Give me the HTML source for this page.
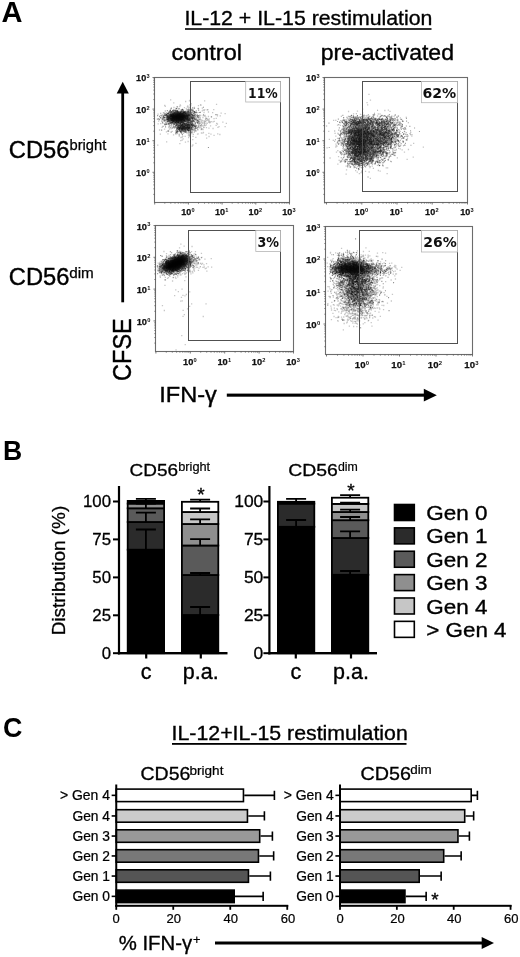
<!DOCTYPE html>
<html lang="en"><head><meta charset="utf-8"><title>Figure</title>
<style>html,body{margin:0;padding:0;background:#fff}svg{display:block}text{white-space:pre}</style>
</head><body>
<svg width="520" height="957" viewBox="0 0 520 957">
<defs><filter id="bl" x="-5%" y="-5%" width="110%" height="110%"><feGaussianBlur stdDeviation="0.35"/></filter><filter id="bc" x="-50%" y="-50%" width="200%" height="200%"><feGaussianBlur stdDeviation="2.2"/></filter></defs>
<rect width="520" height="957" fill="#fff"/>
<g id="panelA">
<text x="1.6" y="21.5" font-family="'Liberation Sans',Arial,Helvetica,sans-serif" font-size="29" font-weight="bold" text-anchor="start" fill="#000" textLength="21.0" lengthAdjust="spacingAndGlyphs" >A</text>
<text x="184.4" y="25.2" font-family="'Liberation Sans',Arial,Helvetica,sans-serif" font-size="21" font-weight="normal" text-anchor="start" fill="#000" textLength="248" lengthAdjust="spacingAndGlyphs"  stroke="#000" stroke-width="0.36">IL-12 + IL-15 restimulation</text>
<rect x="185" y="28.2" width="246.5" height="1.6" fill="#000"/>
<text x="171.4" y="60" font-family="'Liberation Sans',Arial,Helvetica,sans-serif" font-size="22.5" font-weight="normal" text-anchor="start" fill="#000" textLength="70.6" lengthAdjust="spacingAndGlyphs"  stroke="#000" stroke-width="0.38">control</text>
<text x="320.8" y="60" font-family="'Liberation Sans',Arial,Helvetica,sans-serif" font-size="22.5" font-weight="normal" text-anchor="start" fill="#000" textLength="133.2" lengthAdjust="spacingAndGlyphs"  stroke="#000" stroke-width="0.38">pre-activated</text>
<text x="8.8" y="158" font-family="'Liberation Sans',Arial,Helvetica,sans-serif" font-size="23.2" font-weight="normal" text-anchor="start" fill="#000" textLength="60.6" lengthAdjust="spacingAndGlyphs"  stroke="#000" stroke-width="0.39">CD56</text>
<text x="69.5" y="150" font-family="'Liberation Sans',Arial,Helvetica,sans-serif" font-size="14.5" font-weight="normal" text-anchor="start" fill="#000" textLength="36.8" lengthAdjust="spacingAndGlyphs"  stroke="#000" stroke-width="0.25">bright</text>
<text x="8.8" y="285" font-family="'Liberation Sans',Arial,Helvetica,sans-serif" font-size="23.2" font-weight="normal" text-anchor="start" fill="#000" textLength="60.6" lengthAdjust="spacingAndGlyphs"  stroke="#000" stroke-width="0.39">CD56</text>
<text x="69.2" y="277.5" font-family="'Liberation Sans',Arial,Helvetica,sans-serif" font-size="14.5" font-weight="normal" text-anchor="start" fill="#000" textLength="24.6" lengthAdjust="spacingAndGlyphs"  stroke="#000" stroke-width="0.25">dim</text>
<rect x="121.3" y="92" width="2.8" height="210.3" fill="#000"/>
<path d="M122.7 81.8 L128.8 93.6 L116.7 93.6 Z" fill="#000"/>
<g transform="translate(130.6 380.9) rotate(-90)">
<text x="0" y="0" font-family="'Liberation Sans',Arial,Helvetica,sans-serif" font-size="25" font-weight="normal" text-anchor="start" fill="#000" textLength="62.6" lengthAdjust="spacingAndGlyphs"  stroke="#000" stroke-width="0.43">CFSE</text>
</g>
<text x="159.3" y="401.5" font-family="'Liberation Sans',Arial,Helvetica,sans-serif" font-size="22.8" font-weight="normal" text-anchor="start" fill="#000" textLength="57.6" lengthAdjust="spacingAndGlyphs"  stroke="#000" stroke-width="0.39">IFN-γ</text>
<rect x="226.8" y="393.6" width="198" height="3.1" fill="#000"/>
<path d="M436.8 395.15 L423.8 388.8 L423.8 401.5 Z" fill="#000"/>
</g>
<g id="p1">
<g filter="url(#bl)">
<ellipse cx="177.8" cy="117" rx="9.5" ry="3.8" transform="rotate(-3 177.8 117)" fill="#000" fill-opacity="0.9" filter="url(#bc)"/>
<ellipse cx="183.5" cy="127.6" rx="4.5" ry="1.8" transform="rotate(0 183.5 127.6)" fill="#000" fill-opacity="0.5" filter="url(#bc)"/>
<path d="M1574 1141h13M1575 1239h13M1589 1300h13M1594 1182h13M1597 1341h13M1605 1152h13M1611 1198h13M1628 1168h13M1639 1291h13M1645 1234h13M1646 1063h13M1658 1319h13M1658 1217h13M1660 1238h13M1660 1239h13M1669 1184h13M1669 1211h13M1671 1313h13M1672 1173h13M1673 1338h13M1673 1175h13M1676 1171h13M1677 1153h13M1678 1233h13M1681 1196h13M1682 1161h13M1683 1244h13M1685 1232h13M1686 1244h13M1692 1257h13M1693 1178h13M1697 1236h13M1700 998h13M1700 1089h13M1704 1274h13M1704 1088h13M1706 1190h13M1707 1156h13M1708 1199h13M1709 1182h13M1713 1193h13M1716 1314h13M1717 1166h13M1719 1223h13M1720 1284h13M1723 1210h13M1724 1199h13M1726 1111h13M1726 1273h13M1727 1251h13M1727 1215h13M1728 1212h13M1731 1028h13M1731 1229h13M1732 1213h13M1732 1232h13M1733 1155h13M1736 1121h13M1740 1190h13M1745 1221h13M1746 1226h13M1748 1216h13M1754 1217h13M1755 1321h13M1756 1182h13M1757 1161h13M1759 1296h13M1759 1200h13M1762 1163h13M1764 1239h13M1765 1335h13M1766 1165h13M1767 1168h13M1767 1303h13M1769 1166h13M1769 1183h13M1769 1070h13M1769 1159h13M1770 1243h13M1771 1152h13M1772 1271h13M1773 1193h13M1775 1222h13M1776 1197h13M1777 1150h13M1779 1210h13M1780 1120h13M1782 1234h13M1782 1316h13M1784 1227h13M1785 1341h13M1786 1248h13M1786 1294h13M1786 1086h13M1786 1360h13M1787 1165h13M1787 1130h13M1788 1275h13M1789 1172h13M1790 1197h13M1791 1171h13M1792 1437h13M1793 1220h13M1794 1242h13M1799 1264h13M1800 1259h13M1801 1406h13M1802 1317h13M1803 1375h13M1805 1130h13M1807 1169h13M1807 1113h13M1807 1202h13M1808 1217h13M1808 1192h13M1811 1194h13M1812 1197h13M1812 1100h13M1814 1170h13M1814 1229h13M1815 1340h13M1815 1402h13M1815 1156h13M1816 1372h13M1816 1268h13M1816 1190h13M1817 1190h13M1818 1267h13M1818 1169h13M1821 1248h13M1821 1364h13M1823 1287h13M1825 1235h13M1825 1163h13M1825 1389h13M1827 1255h13M1830 1212h13M1834 1227h13M1835 1271h13M1836 1160h13M1837 1254h13M1838 1076h13M1839 1169h13M1839 1267h13M1839 1226h13M1841 1209h13M1842 1177h13M1843 1128h13M1845 1364h13M1845 1192h13M1846 1197h13M1849 1138h13M1852 1180h13M1854 1253h13M1855 1166h13M1858 1204h13M1859 1168h13M1861 1096h13M1861 1210h13M1862 1272h13M1863 1330h13M1864 1179h13M1865 1100h13M1866 1186h13M1866 1246h13M1866 1215h13M1867 1191h13M1868 1280h13M1869 1202h13M1869 1215h13M1870 1299h13M1870 1292h13M1871 1058h13M1872 1155h13M1872 1276h13M1872 1276h13M1872 1196h13M1873 1274h13M1873 1141h13M1873 1218h13M1875 1238h13M1875 1415h13M1875 1172h13M1876 1150h13M1877 1200h13M1878 1338h13M1878 1217h13M1878 1353h13M1879 1171h13M1879 1304h13M1879 1204h13M1879 1218h13M1880 1376h13M1880 1099h13M1880 1372h13M1880 1153h13M1880 1349h13M1881 1241h13M1881 1196h13M1881 1157h13M1882 1197h13M1882 1333h13M1882 1124h13M1883 1090h13M1884 1221h13M1885 1332h13M1886 1197h13M1887 1136h13M1887 1253h13M1889 1224h13M1889 1275h13M1889 1121h13M1891 1241h13M1891 1261h13M1891 1307h13M1893 1318h13M1893 1113h13M1893 1173h13M1894 1250h13M1894 1203h13M1894 1291h13M1895 1192h13M1896 1001h13M1896 1112h13M1896 1356h13M1897 1112h13M1898 1318h13M1898 1215h13M1899 1225h13M1899 1275h13M1900 1201h13M1901 1180h13M1901 1057h13M1902 1245h13M1902 1181h13M1902 1205h13M1904 1163h13M1905 1247h13M1905 1236h13M1907 1134h13M1907 1209h13M1907 1038h13M1908 1167h13M1908 1260h13M1909 1269h13M1910 1266h13M1910 1246h13M1912 1337h13M1912 1217h13M1913 1254h13M1913 1147h13M1914 1221h13M1915 1115h13M1915 1462h13M1915 1324h13M1916 1257h13M1917 1243h13M1918 1211h13M1918 1217h13M1919 1184h13M1919 1195h13M1920 1173h13M1921 1117h13M1921 1167h13M1921 1200h13M1922 1150h13M1922 1159h13M1922 1450h13M1924 1246h13M1924 1305h13M1925 1269h13M1925 1211h13M1926 1199h13M1927 1107h13M1927 1174h13M1927 1273h13M1929 1178h13M1930 1198h13M1933 1153h13M1934 1302h13M1934 1218h13M1934 1193h13M1936 1324h13M1936 1117h13M1937 1074h13M1938 1081h13M1941 1189h13M1941 1312h13M1941 1193h13M1943 1175h13M1946 1180h13M1946 1243h13M1946 1285h13M1947 1233h13M1947 1176h13M1947 1183h13M1948 1228h13M1949 1190h13M1952 1190h13M1952 1306h13M1952 1193h13M1955 1312h13M1957 1107h13M1957 1124h13M1958 1181h13M1961 1260h13M1961 1196h13M1965 1146h13M1968 1176h13M1969 1176h13M1969 1341h13M1970 1201h13M1973 1298h13M1974 1087h13M1975 1339h13M1975 1167h13M1975 1156h13M1975 1277h13M1976 1275h13M1977 1199h13M1980 1270h13M1981 1242h13M1982 1261h13M1982 1253h13M1982 1265h13M1983 1260h13M1984 1249h13M1985 1230h13M1985 1232h13M1985 1222h13M1987 1156h13M1988 1221h13M1990 1151h13M1991 1197h13M1995 1237h13M1996 1191h13M1999 1261h13M2000 1155h13M2000 1256h13M2003 1051h13M2005 1295h13M2006 1198h13M2008 1330h13M2010 1254h13M2011 1260h13M2014 1257h13M2016 1109h13M2017 1082h13M2022 1237h13M2023 1332h13M2024 1295h13M2025 1259h13M2028 1323h13M2034 1271h13M2034 1227h13M2035 1106h13M2037 1253h13M2039 1227h13M2040 1218h13M2040 1161h13M2040 1008h13M2043 1233h13M2045 1153h13M2049 1194h13M2051 1170h13M2051 1214h13M2055 1349h13M2058 1277h13M2060 1382h13M2060 1184h13M2060 1203h13M2061 1231h13M2066 1234h13M2073 1196h13M2082 1334h13M2087 1209h13M2088 1218h13M2088 1216h13M2091 1229h13M2099 1258h13M2106 1217h13M2108 1170h13M2120 1127h13M2124 1285h13M2124 1219h13M2134 1354h13M2136 1213h13M2150 1147h13M2156 1183h13M2160 1234h13M2168 1147h13M2173 1273h13M2184 1267h13M2192 1345h13M2222 1221h13M2245 1137h13M2257 1234h13" stroke="#000" stroke-opacity="0.22" stroke-width="13" fill="none" transform="scale(.1)"/>
<path d="M1571 1451h13M1580 1211h13M1588 1194h13M1601 1236h13M1601 1157h13M1603 1180h13M1615 1273h13M1623 1184h13M1633 1212h13M1635 1179h13M1636 1210h13M1638 1175h13M1641 1053h13M1641 1213h13M1650 1224h13M1652 1175h13M1654 1200h13M1654 1181h13M1654 1151h13M1658 1224h13M1660 1419h13M1664 1176h13M1669 1165h13M1669 1195h13M1674 1306h13M1676 1241h13M1677 1165h13M1684 1244h13M1687 1290h13M1688 1140h13M1688 1192h13M1691 1225h13M1695 1115h13M1696 1110h13M1697 1190h13M1698 1273h13M1703 1252h13M1707 1183h13M1708 1189h13M1709 1260h13M1710 1235h13M1713 1172h13M1720 1168h13M1720 1275h13M1722 1153h13M1725 1131h13M1726 1185h13M1727 1173h13M1729 1349h13M1731 1170h13M1731 1093h13M1732 1215h13M1733 1270h13M1733 1073h13M1734 1124h13M1734 1230h13M1737 1274h13M1738 1201h13M1744 1263h13M1746 1165h13M1747 1168h13M1747 1167h13M1750 1258h13M1751 1254h13M1751 1114h13M1752 1234h13M1752 1341h13M1753 1117h13M1755 1206h13M1757 1139h13M1759 1169h13M1759 1221h13M1762 1222h13M1762 1175h13M1766 1129h13M1767 1286h13M1768 1226h13M1770 1260h13M1770 1316h13M1771 1115h13M1776 1274h13M1776 1227h13M1776 1195h13M1777 1151h13M1777 1151h13M1780 1222h13M1780 1129h13M1781 1296h13M1781 1293h13M1782 1207h13M1782 1286h13M1783 1190h13M1784 1191h13M1784 1119h13M1786 1204h13M1786 1349h13M1786 1193h13M1790 1147h13M1791 1187h13M1791 1161h13M1791 1065h13M1791 1144h13M1793 1287h13M1794 1232h13M1795 1157h13M1796 1199h13M1796 1050h13M1799 1241h13M1799 1057h13M1799 1229h13M1802 1201h13M1805 1203h13M1805 1275h13M1806 1264h13M1809 1195h13M1809 1214h13M1809 1295h13M1809 1222h13M1812 1260h13M1814 1254h13M1814 1137h13M1815 1254h13M1815 1204h13M1816 1207h13M1817 1243h13M1817 1177h13M1817 1189h13M1820 1178h13M1820 1234h13M1822 1191h13M1823 1211h13M1824 1212h13M1825 1192h13M1826 1209h13M1827 1255h13M1828 1264h13M1829 1152h13M1829 1334h13M1830 1154h13M1834 1207h13M1835 1270h13M1837 1132h13M1837 1171h13M1837 1218h13M1838 1179h13M1838 1321h13M1839 1182h13M1840 1217h13M1842 1182h13M1843 1308h13M1847 1183h13M1848 1421h13M1849 1274h13M1849 1137h13M1849 1238h13M1850 1255h13M1850 1140h13M1850 1015h13M1850 1237h13M1851 1200h13M1853 1266h13M1854 1316h13M1854 1298h13M1856 1086h13M1856 1260h13M1858 1201h13M1859 1236h13M1861 1207h13M1861 1309h13M1865 1166h13M1865 1186h13M1867 1070h13M1867 1275h13M1869 1301h13M1870 1250h13M1871 1222h13M1872 1148h13M1873 1106h13M1874 1211h13M1875 1186h13M1875 1101h13M1875 1305h13M1875 1272h13M1875 1242h13M1876 1218h13M1876 1299h13M1876 1164h13M1877 1217h13M1877 1124h13M1877 1114h13M1877 1165h13M1878 1305h13M1878 1304h13M1879 1206h13M1880 1217h13M1880 1072h13M1881 1304h13M1881 1280h13M1883 1258h13M1883 1196h13M1884 1285h13M1884 1122h13M1885 1077h13M1886 1233h13M1887 1105h13M1888 1274h13M1888 1262h13M1888 1008h13M1889 1292h13M1889 1235h13M1890 1198h13M1890 1145h13M1890 1120h13M1890 1362h13M1892 1288h13M1892 1257h13M1892 1049h13M1892 1290h13M1893 1100h13M1893 1342h13M1894 1250h13M1894 1227h13M1895 1261h13M1895 1159h13M1896 1266h13M1896 1234h13M1896 1156h13M1896 1294h13M1896 1071h13M1897 1256h13M1898 1203h13M1898 1289h13M1898 1180h13M1898 1261h13M1898 1294h13M1898 1166h13M1898 1212h13M1898 1314h13M1899 1139h13M1900 1236h13M1900 1288h13M1901 1206h13M1901 1171h13M1901 1261h13M1902 1302h13M1902 1201h13M1902 1166h13M1903 1168h13M1903 1278h13M1905 1103h13M1905 1230h13M1906 1276h13M1907 1244h13M1907 1204h13M1908 1172h13M1908 1252h13M1908 1221h13M1908 1246h13M1908 1187h13M1909 1180h13M1910 1284h13M1911 1205h13M1911 1091h13M1913 1251h13M1913 1232h13M1913 1250h13M1913 1130h13M1915 1205h13M1916 1177h13M1917 1176h13M1917 1128h13M1917 1142h13M1918 1240h13M1918 1247h13M1918 1213h13M1919 1205h13M1919 1150h13M1921 1396h13M1921 1204h13M1922 1261h13M1923 1180h13M1924 1364h13M1924 1117h13M1925 1143h13M1926 1252h13M1927 1344h13M1928 1171h13M1928 1184h13M1932 1272h13M1933 1168h13M1933 1235h13M1934 1137h13M1934 1193h13M1935 1150h13M1936 1218h13M1938 1175h13M1938 1172h13M1939 1188h13M1939 1273h13M1940 1165h13M1941 1295h13M1941 1119h13M1941 1167h13M1942 1121h13M1942 1306h13M1943 1288h13M1944 1258h13M1944 1309h13M1945 1183h13M1946 1258h13M1946 1276h13M1947 1192h13M1947 1145h13M1949 1268h13M1949 1118h13M1949 1303h13M1950 1278h13M1952 1374h13M1953 1434h13M1954 1204h13M1957 1129h13M1957 1209h13M1958 1253h13M1959 1190h13M1961 1156h13M1963 1172h13M1963 1222h13M1964 1159h13M1965 1126h13M1965 1283h13M1966 1151h13M1966 1201h13M1970 1295h13M1971 1156h13M1974 1199h13M1975 1236h13M1978 1084h13M1978 1056h13M1978 1269h13M1978 1258h13M1980 1211h13M1980 1169h13M1980 1174h13M1987 1169h13M1988 1237h13M1990 1194h13M1991 1278h13M1992 1192h13M1995 1211h13M1996 1175h13M1998 1257h13M1999 1049h13M2002 1227h13M2002 1257h13M2003 1277h13M2010 1223h13M2010 1211h13M2011 1219h13M2014 1288h13M2018 1204h13M2019 1225h13M2023 1176h13M2025 1158h13M2026 1098h13M2031 1276h13M2032 1153h13M2034 1127h13M2039 1247h13M2040 1232h13M2041 1096h13M2045 1209h13M2048 1257h13M2049 1187h13M2052 1186h13M2057 1248h13M2064 1098h13M2065 1188h13M2075 1203h13M2078 1120h13M2078 1165h13M2079 1220h13M2083 1282h13M2084 1365h13M2096 1222h13M2103 1342h13M2108 1167h13M2131 1097h13M2134 1187h13M2155 1254h13M2156 1147h13M2159 1044h13M2168 1241h13M2168 1158h13M2171 1338h13M2196 1158h13M2205 1132h13M2245 1266h13" stroke="#000" stroke-opacity="0.22" stroke-width="13" fill="none" transform="scale(.1)"/>
<path d="M1571 1156h11M1619 1150h11M1622 1170h11M1625 1190h11M1630 1175h11M1636 1208h11M1636 1208h11M1640 1243h11M1643 1208h11M1644 1177h11M1647 1153h11M1649 1158h11M1650 1269h11M1654 1152h11M1657 1244h11M1661 1149h11M1662 1187h11M1662 1164h11M1670 1215h11M1671 1134h11M1673 1161h11M1673 1194h11M1673 1169h11M1673 1240h11M1674 1179h11M1674 1155h11M1677 1199h11M1678 1208h11M1680 1136h11M1680 1193h11M1680 1180h11M1683 1124h11M1683 1177h11M1684 1174h11M1684 1200h11M1686 1261h11M1687 1116h11M1692 1149h11M1692 1154h11M1693 1192h11M1696 1172h11M1696 1106h11M1696 1185h11M1696 1177h11M1697 1170h11M1697 1151h11M1699 1163h11M1699 1177h11M1701 1227h11M1701 1184h11M1701 1175h11M1703 1168h11M1703 1157h11M1703 1155h11M1705 1165h11M1706 1166h11M1706 1168h11M1707 1163h11M1707 1176h11M1708 1153h11M1708 1195h11M1708 1173h11M1709 1175h11M1709 1165h11M1709 1178h11M1709 1167h11M1710 1205h11M1711 1182h11M1711 1145h11M1712 1154h11M1712 1161h11M1712 1191h11M1712 1223h11M1713 1173h11M1713 1162h11M1714 1155h11M1714 1139h11M1714 1161h11M1714 1172h11M1714 1176h11M1715 1197h11M1716 1173h11M1716 1203h11M1717 1151h11M1717 1157h11M1718 1167h11M1719 1186h11M1719 1195h11M1719 1167h11M1719 1157h11M1720 1161h11M1721 1143h11M1721 1190h11M1721 1191h11M1722 1198h11M1722 1106h11M1723 1169h11M1723 1229h11M1723 1185h11M1724 1179h11M1725 1171h11M1725 1231h11M1726 1149h11M1727 1147h11M1727 1209h11M1728 1146h11M1730 1170h11M1730 1165h11M1730 1208h11M1730 1189h11M1730 1147h11M1731 1160h11M1731 1210h11M1732 1143h11M1732 1178h11M1732 1188h11M1733 1199h11M1734 1174h11M1734 1152h11M1734 1193h11M1734 1186h11M1734 1153h11M1734 1166h11M1736 1190h11M1736 1187h11M1737 1245h11M1738 1227h11M1738 1105h11M1738 1163h11M1739 1161h11M1739 1169h11M1739 1223h11M1739 1157h11M1739 1244h11M1740 1176h11M1740 1192h11M1741 1218h11M1742 1169h11M1742 1132h11M1742 1216h11M1742 1206h11M1743 1185h11M1743 1165h11M1745 1185h11M1746 1165h11M1746 1141h11M1747 1199h11M1747 1227h11M1747 1166h11M1748 1189h11M1748 1122h11M1749 1200h11M1749 1206h11M1750 1225h11M1750 1104h11M1750 1119h11M1751 1211h11M1751 1156h11M1752 1203h11M1753 1110h11M1753 1172h11M1753 1155h11M1754 1275h11M1754 1168h11M1755 1146h11M1755 1248h11M1755 1306h11M1756 1176h11M1756 1197h11M1757 1236h11M1757 1170h11M1758 1141h11M1758 1215h11M1758 1152h11M1758 1196h11M1758 1191h11M1759 1193h11M1759 1162h11M1760 1221h11M1761 1206h11M1761 1154h11M1761 1157h11M1761 1185h11M1761 1189h11M1761 1171h11M1762 1278h11M1762 1323h11M1763 1156h11M1764 1111h11M1764 1273h11M1765 1163h11M1765 1187h11M1765 1068h11M1766 1162h11M1766 1149h11M1767 1133h11M1768 1146h11M1768 1229h11M1768 1143h11M1768 1251h11M1768 1193h11M1769 1146h11M1769 1161h11M1769 1280h11M1770 1188h11M1770 1207h11M1770 1210h11M1771 1117h11M1772 1158h11M1772 1269h11M1772 1169h11M1772 1284h11M1772 1132h11M1773 1164h11M1773 1135h11M1773 1212h11M1773 1211h11M1774 1149h11M1774 1254h11M1774 1174h11M1774 1139h11M1774 1161h11M1775 1151h11M1775 1204h11M1775 1293h11M1776 1121h11M1776 1135h11M1778 1221h11M1779 1178h11M1779 1185h11M1780 1193h11M1780 1160h11M1780 1196h11M1780 1182h11M1781 1119h11M1781 1123h11M1781 1170h11M1781 1139h11M1782 1148h11M1782 1134h11M1782 1195h11M1783 1193h11M1783 1182h11M1784 1220h11M1784 1124h11M1784 1276h11M1785 1160h11M1785 1129h11M1785 1125h11M1786 1193h11M1786 1297h11M1787 1200h11M1787 1145h11M1787 1118h11M1787 1154h11M1788 1169h11M1788 1153h11M1789 1169h11M1790 1278h11M1791 1176h11M1792 1136h11M1792 1163h11M1792 1175h11M1792 1289h11M1792 1141h11M1793 1171h11M1793 1165h11M1793 1199h11M1793 1213h11M1794 1174h11M1794 1169h11M1794 1188h11M1795 1205h11M1795 1208h11M1796 1287h11M1796 1177h11M1796 1153h11M1797 1152h11M1798 1156h11M1798 1237h11M1799 1183h11M1799 1135h11M1799 1171h11M1800 1172h11M1801 1131h11M1801 1209h11M1801 1258h11M1801 1189h11M1801 1169h11M1801 1280h11M1802 1142h11M1802 1201h11M1802 1178h11M1802 1314h11M1802 1121h11M1802 1238h11M1803 1284h11M1803 1159h11M1803 1263h11M1803 1224h11M1803 1211h11M1804 1194h11M1804 1173h11M1804 1296h11M1804 1155h11M1804 1154h11M1805 1157h11M1805 1174h11M1805 1206h11M1805 1255h11M1805 1153h11M1806 1178h11M1806 1173h11M1806 1194h11M1807 1192h11M1807 1305h11M1807 1198h11M1807 1160h11M1808 1171h11M1808 1180h11M1808 1153h11M1808 1232h11M1808 1162h11M1809 1290h11M1809 1143h11M1810 1150h11M1810 1162h11M1810 1208h11M1810 1166h11M1811 1296h11M1811 1227h11M1812 1145h11M1812 1274h11M1812 1254h11M1812 1117h11M1813 1279h11M1814 1151h11M1814 1170h11M1814 1274h11M1815 1155h11M1815 1134h11M1816 1223h11M1816 1156h11M1816 1142h11M1817 1210h11M1817 1195h11M1817 1208h11M1818 1164h11M1818 1289h11M1819 1274h11M1819 1176h11M1819 1170h11M1820 1297h11M1820 1251h11M1820 1256h11M1820 1239h11M1820 1138h11M1821 1200h11M1821 1155h11M1821 1272h11M1821 1170h11M1822 1149h11M1824 1272h11M1824 1252h11M1825 1203h11M1825 1207h11M1825 1142h11M1825 1178h11M1825 1309h11M1825 1219h11M1825 1266h11M1825 1189h11M1825 1267h11M1825 1160h11M1826 1203h11M1826 1283h11M1826 1184h11M1827 1119h11M1827 1221h11M1827 1117h11M1827 1192h11M1827 1189h11M1827 1163h11M1827 1118h11M1828 1143h11M1828 1280h11M1828 1176h11M1828 1206h11M1829 1272h11M1829 1181h11M1829 1147h11M1829 1159h11M1830 1101h11M1830 1260h11M1830 1174h11M1830 1263h11M1831 1170h11M1831 1262h11M1831 1166h11M1832 1123h11M1833 1164h11M1833 1313h11M1833 1280h11M1833 1268h11M1833 1286h11M1833 1170h11M1834 1191h11M1835 1295h11M1836 1193h11M1837 1279h11M1838 1207h11M1838 1277h11M1839 1142h11M1840 1129h11M1840 1290h11M1841 1129h11M1841 1281h11M1841 1236h11M1842 1280h11M1842 1206h11M1842 1157h11M1843 1134h11M1843 1203h11M1844 1283h11M1844 1126h11M1844 1260h11M1844 1196h11M1845 1280h11M1845 1209h11M1846 1299h11M1846 1155h11M1846 1323h11M1848 1131h11M1848 1141h11M1850 1136h11M1851 1259h11M1852 1171h11M1852 1143h11M1853 1310h11M1853 1126h11M1854 1280h11M1854 1215h11M1854 1192h11M1855 1285h11M1856 1127h11M1856 1160h11M1856 1283h11M1856 1185h11M1857 1230h11M1857 1159h11M1857 1144h11M1857 1151h11M1857 1272h11M1857 1280h11M1859 1156h11M1859 1188h11M1859 1253h11M1860 1194h11M1861 1271h11M1862 1161h11M1862 1321h11M1863 1210h11M1863 1242h11M1864 1134h11M1864 1291h11M1865 1300h11M1866 1171h11M1866 1249h11M1866 1262h11M1866 1278h11M1866 1164h11M1866 1149h11M1867 1264h11M1867 1165h11M1867 1300h11M1867 1283h11M1867 1147h11M1869 1127h11M1870 1293h11M1870 1201h11M1870 1250h11M1870 1282h11M1871 1256h11M1871 1163h11M1872 1268h11M1872 1137h11M1872 1271h11M1873 1186h11M1874 1280h11M1874 1192h11M1875 1224h11M1875 1169h11M1875 1253h11M1875 1093h11M1877 1204h11M1877 1148h11M1878 1150h11M1878 1263h11M1878 1242h11M1881 1305h11M1881 1281h11M1883 1306h11M1883 1291h11M1885 1292h11M1885 1185h11M1886 1265h11M1887 1175h11M1887 1178h11M1888 1100h11M1888 1143h11M1889 1185h11M1890 1185h11M1891 1193h11M1891 1180h11M1892 1276h11M1892 1304h11M1893 1150h11M1894 1204h11M1895 1195h11M1896 1163h11M1896 1187h11M1897 1293h11M1897 1289h11M1897 1123h11M1897 1140h11M1897 1208h11M1900 1324h11M1901 1190h11M1905 1230h11M1905 1161h11M1905 1243h11M1907 1323h11M1908 1163h11M1908 1288h11M1913 1224h11M1913 1244h11M1914 1104h11M1914 1154h11M1916 1147h11M1916 1185h11M1918 1235h11M1920 1235h11M1921 1262h11M1922 1183h11M1930 1205h11M1931 1212h11M1937 1154h11M1940 1188h11M1943 1259h11M1952 1264h11M1966 1207h11M1968 1224h11M1981 1101h11M1982 1158h11M1983 1213h11" stroke="#000" stroke-opacity="0.42" stroke-width="11" fill="none" transform="scale(.1)"/>
<path d="M1602 1133h11M1611 1301h11M1613 1213h11M1628 1157h11M1636 1154h11M1638 1178h11M1641 1152h11M1643 1156h11M1645 1137h11M1659 1145h11M1663 1192h11M1664 1151h11M1665 1184h11M1666 1167h11M1668 1106h11M1669 1194h11M1673 1176h11M1673 1223h11M1674 1218h11M1674 1174h11M1677 1135h11M1678 1186h11M1680 1131h11M1680 1188h11M1684 1273h11M1684 1131h11M1685 1163h11M1688 1210h11M1689 1204h11M1693 1234h11M1694 1162h11M1696 1219h11M1697 1184h11M1698 1114h11M1698 1173h11M1698 1101h11M1698 1176h11M1699 1164h11M1700 1156h11M1700 1165h11M1700 1158h11M1700 1144h11M1701 1207h11M1701 1190h11M1701 1121h11M1702 1187h11M1702 1198h11M1702 1126h11M1703 1228h11M1703 1185h11M1703 1235h11M1703 1166h11M1703 1168h11M1703 1152h11M1703 1142h11M1703 1210h11M1704 1168h11M1706 1216h11M1707 1159h11M1707 1163h11M1708 1186h11M1709 1144h11M1709 1211h11M1711 1247h11M1713 1125h11M1713 1150h11M1713 1230h11M1714 1210h11M1715 1144h11M1715 1187h11M1716 1202h11M1716 1157h11M1716 1195h11M1717 1211h11M1717 1186h11M1718 1226h11M1718 1165h11M1718 1162h11M1720 1206h11M1720 1130h11M1721 1169h11M1721 1197h11M1721 1203h11M1722 1149h11M1724 1166h11M1724 1184h11M1724 1168h11M1725 1171h11M1725 1209h11M1725 1177h11M1726 1110h11M1727 1210h11M1727 1162h11M1728 1141h11M1728 1154h11M1729 1185h11M1730 1151h11M1731 1207h11M1731 1163h11M1731 1242h11M1732 1152h11M1733 1164h11M1733 1260h11M1733 1154h11M1733 1190h11M1734 1202h11M1735 1188h11M1735 1183h11M1736 1159h11M1737 1175h11M1737 1152h11M1737 1133h11M1738 1187h11M1738 1238h11M1738 1187h11M1739 1172h11M1739 1157h11M1740 1175h11M1740 1280h11M1741 1193h11M1742 1189h11M1742 1233h11M1742 1103h11M1743 1193h11M1743 1189h11M1743 1243h11M1744 1203h11M1745 1189h11M1746 1144h11M1746 1168h11M1746 1163h11M1746 1169h11M1747 1173h11M1747 1188h11M1747 1203h11M1748 1200h11M1749 1150h11M1749 1230h11M1752 1144h11M1752 1154h11M1753 1137h11M1753 1145h11M1753 1134h11M1753 1181h11M1753 1186h11M1753 1221h11M1754 1197h11M1754 1143h11M1755 1175h11M1755 1198h11M1755 1168h11M1755 1153h11M1756 1146h11M1756 1136h11M1756 1198h11M1757 1162h11M1757 1168h11M1758 1087h11M1758 1165h11M1758 1161h11M1758 1180h11M1759 1143h11M1759 1141h11M1759 1247h11M1759 1147h11M1759 1191h11M1760 1214h11M1761 1178h11M1761 1128h11M1761 1187h11M1762 1139h11M1762 1195h11M1762 1178h11M1762 1129h11M1762 1170h11M1762 1151h11M1763 1172h11M1764 1111h11M1765 1140h11M1765 1290h11M1765 1152h11M1766 1205h11M1767 1178h11M1767 1151h11M1768 1206h11M1768 1127h11M1768 1193h11M1768 1173h11M1768 1179h11M1768 1153h11M1769 1119h11M1769 1246h11M1769 1150h11M1770 1179h11M1770 1314h11M1770 1146h11M1770 1173h11M1771 1186h11M1771 1202h11M1771 1176h11M1771 1310h11M1772 1220h11M1772 1122h11M1772 1163h11M1772 1186h11M1772 1201h11M1772 1205h11M1772 1193h11M1772 1187h11M1772 1150h11M1773 1229h11M1773 1175h11M1773 1177h11M1774 1164h11M1774 1152h11M1775 1184h11M1775 1175h11M1775 1220h11M1777 1270h11M1777 1231h11M1778 1174h11M1779 1222h11M1779 1214h11M1779 1288h11M1780 1220h11M1781 1190h11M1781 1222h11M1781 1225h11M1781 1175h11M1781 1159h11M1782 1255h11M1783 1246h11M1783 1191h11M1783 1142h11M1783 1263h11M1783 1152h11M1784 1208h11M1784 1153h11M1784 1178h11M1784 1148h11M1785 1206h11M1785 1145h11M1785 1149h11M1785 1169h11M1786 1202h11M1786 1150h11M1786 1159h11M1787 1179h11M1788 1293h11M1788 1193h11M1788 1254h11M1789 1285h11M1789 1166h11M1790 1140h11M1790 1182h11M1790 1151h11M1790 1190h11M1790 1164h11M1790 1191h11M1791 1310h11M1791 1277h11M1791 1255h11M1792 1195h11M1792 1165h11M1793 1165h11M1793 1203h11M1794 1170h11M1794 1265h11M1794 1134h11M1794 1175h11M1794 1195h11M1795 1174h11M1795 1166h11M1796 1135h11M1796 1186h11M1796 1153h11M1796 1175h11M1796 1143h11M1796 1194h11M1796 1187h11M1797 1173h11M1797 1178h11M1797 1130h11M1797 1141h11M1798 1188h11M1798 1221h11M1798 1215h11M1799 1144h11M1799 1249h11M1799 1273h11M1799 1275h11M1800 1216h11M1800 1273h11M1800 1211h11M1800 1185h11M1800 1121h11M1800 1245h11M1801 1161h11M1801 1163h11M1802 1165h11M1802 1292h11M1803 1277h11M1803 1113h11M1803 1193h11M1803 1157h11M1803 1323h11M1803 1207h11M1804 1197h11M1804 1296h11M1804 1159h11M1804 1147h11M1804 1214h11M1805 1250h11M1805 1247h11M1806 1256h11M1806 1206h11M1806 1175h11M1806 1167h11M1807 1287h11M1807 1202h11M1807 1207h11M1807 1097h11M1808 1171h11M1808 1165h11M1809 1155h11M1809 1191h11M1809 1168h11M1810 1149h11M1810 1198h11M1811 1205h11M1811 1251h11M1811 1243h11M1811 1187h11M1812 1225h11M1812 1148h11M1812 1172h11M1813 1166h11M1813 1283h11M1813 1177h11M1813 1182h11M1813 1321h11M1813 1174h11M1814 1206h11M1815 1213h11M1815 1197h11M1815 1175h11M1815 1171h11M1815 1287h11M1816 1286h11M1817 1248h11M1817 1223h11M1817 1190h11M1817 1172h11M1818 1137h11M1818 1284h11M1819 1178h11M1819 1272h11M1819 1136h11M1820 1149h11M1820 1171h11M1821 1159h11M1821 1274h11M1821 1178h11M1821 1179h11M1822 1187h11M1822 1166h11M1822 1109h11M1822 1181h11M1822 1154h11M1823 1141h11M1823 1298h11M1823 1166h11M1823 1164h11M1824 1136h11M1825 1173h11M1825 1125h11M1825 1196h11M1826 1154h11M1826 1226h11M1826 1277h11M1826 1146h11M1827 1139h11M1827 1197h11M1827 1136h11M1827 1187h11M1828 1277h11M1828 1267h11M1828 1185h11M1828 1193h11M1828 1130h11M1829 1124h11M1829 1209h11M1829 1140h11M1830 1288h11M1830 1135h11M1831 1139h11M1831 1270h11M1832 1239h11M1833 1199h11M1833 1291h11M1833 1283h11M1833 1167h11M1833 1317h11M1833 1238h11M1833 1156h11M1834 1271h11M1834 1179h11M1834 1191h11M1835 1177h11M1835 1250h11M1836 1246h11M1836 1150h11M1837 1178h11M1838 1206h11M1838 1244h11M1838 1291h11M1838 1237h11M1839 1144h11M1839 1143h11M1840 1120h11M1840 1163h11M1840 1267h11M1840 1175h11M1840 1184h11M1841 1116h11M1841 1184h11M1841 1247h11M1841 1201h11M1842 1179h11M1842 1270h11M1842 1157h11M1842 1268h11M1842 1151h11M1843 1291h11M1844 1211h11M1845 1163h11M1846 1158h11M1847 1193h11M1848 1135h11M1848 1168h11M1848 1168h11M1849 1299h11M1849 1182h11M1849 1170h11M1850 1116h11M1851 1247h11M1851 1282h11M1851 1253h11M1852 1179h11M1852 1154h11M1853 1224h11M1853 1124h11M1853 1281h11M1854 1287h11M1855 1135h11M1856 1166h11M1856 1152h11M1857 1145h11M1858 1173h11M1858 1284h11M1858 1149h11M1858 1258h11M1859 1147h11M1860 1154h11M1862 1202h11M1863 1295h11M1863 1182h11M1865 1171h11M1865 1114h11M1865 1157h11M1866 1241h11M1868 1189h11M1869 1179h11M1871 1263h11M1871 1271h11M1871 1152h11M1871 1161h11M1872 1117h11M1872 1178h11M1872 1175h11M1872 1156h11M1874 1298h11M1875 1255h11M1875 1277h11M1875 1300h11M1876 1118h11M1877 1287h11M1878 1132h11M1878 1130h11M1878 1297h11M1879 1147h11M1879 1204h11M1879 1273h11M1881 1311h11M1881 1243h11M1881 1113h11M1883 1301h11M1884 1278h11M1885 1281h11M1885 1154h11M1887 1246h11M1888 1287h11M1889 1273h11M1890 1152h11M1892 1266h11M1892 1254h11M1893 1148h11M1893 1255h11M1894 1275h11M1896 1194h11M1896 1282h11M1900 1253h11M1900 1231h11M1903 1289h11M1903 1191h11M1905 1148h11M1906 1253h11M1906 1096h11M1909 1175h11M1911 1212h11M1911 1280h11M1912 1292h11M1912 1257h11M1912 1146h11M1913 1301h11M1913 1124h11M1913 1170h11M1914 1319h11M1915 1274h11M1915 1276h11M1916 1181h11M1918 1176h11M1920 1190h11M1923 1102h11M1925 1282h11M1925 1243h11M1926 1256h11M1926 1298h11M1931 1161h11M1932 1131h11M1933 1179h11M1933 1203h11M1936 1249h11M1942 1263h11M1943 1126h11M1944 1147h11M1945 1198h11M1949 1238h11M1958 1282h11M1966 1155h11M1968 1277h11M1973 1222h11M1998 1124h11M2011 1290h11M2073 1098h11" stroke="#000" stroke-opacity="0.42" stroke-width="11" fill="none" transform="scale(.1)"/>
<path d="M1579 1189h11M1588 1197h11M1599 1175h11M1622 1196h11M1623 1231h11M1625 1264h11M1628 1129h11M1629 1162h11M1642 1131h11M1647 1110h11M1654 1152h11M1657 1197h11M1657 1201h11M1661 1142h11M1664 1156h11M1666 1150h11M1668 1195h11M1669 1156h11M1669 1173h11M1669 1195h11M1671 1164h11M1674 1198h11M1675 1171h11M1677 1142h11M1677 1160h11M1678 1213h11M1679 1160h11M1679 1180h11M1679 1171h11M1681 1311h11M1681 1236h11M1681 1168h11M1682 1184h11M1685 1154h11M1686 1217h11M1687 1208h11M1688 1175h11M1688 1176h11M1690 1205h11M1690 1170h11M1693 1124h11M1694 1205h11M1695 1163h11M1695 1168h11M1696 1190h11M1698 1206h11M1698 1143h11M1698 1142h11M1701 1148h11M1704 1183h11M1705 1184h11M1705 1287h11M1705 1161h11M1706 1198h11M1707 1198h11M1707 1203h11M1710 1116h11M1711 1161h11M1711 1206h11M1712 1152h11M1713 1168h11M1715 1164h11M1716 1166h11M1716 1145h11M1717 1172h11M1717 1185h11M1717 1197h11M1718 1161h11M1720 1214h11M1720 1177h11M1721 1178h11M1722 1196h11M1723 1215h11M1724 1207h11M1724 1187h11M1725 1185h11M1726 1178h11M1726 1187h11M1726 1104h11M1726 1171h11M1726 1191h11M1727 1201h11M1727 1180h11M1728 1214h11M1728 1132h11M1728 1135h11M1729 1140h11M1729 1156h11M1730 1150h11M1731 1112h11M1732 1215h11M1733 1174h11M1733 1189h11M1733 1142h11M1735 1152h11M1735 1196h11M1735 1194h11M1735 1162h11M1735 1195h11M1736 1164h11M1736 1119h11M1736 1182h11M1737 1189h11M1737 1142h11M1738 1192h11M1738 1169h11M1739 1121h11M1740 1137h11M1741 1196h11M1741 1119h11M1741 1175h11M1741 1161h11M1741 1198h11M1742 1188h11M1742 1159h11M1743 1185h11M1743 1155h11M1743 1197h11M1744 1127h11M1744 1132h11M1744 1189h11M1744 1159h11M1745 1139h11M1745 1201h11M1745 1200h11M1746 1155h11M1746 1180h11M1746 1147h11M1746 1170h11M1746 1165h11M1746 1144h11M1747 1163h11M1747 1159h11M1748 1151h11M1748 1165h11M1749 1158h11M1749 1149h11M1750 1155h11M1750 1194h11M1750 1204h11M1750 1263h11M1751 1223h11M1751 1167h11M1752 1183h11M1752 1203h11M1752 1257h11M1753 1196h11M1753 1270h11M1753 1140h11M1753 1162h11M1753 1170h11M1753 1256h11M1754 1191h11M1755 1161h11M1755 1112h11M1755 1153h11M1755 1136h11M1756 1184h11M1756 1169h11M1756 1148h11M1756 1149h11M1757 1134h11M1757 1181h11M1757 1174h11M1757 1327h11M1757 1314h11M1757 1190h11M1758 1174h11M1758 1197h11M1758 1128h11M1758 1177h11M1759 1313h11M1759 1208h11M1759 1169h11M1760 1316h11M1760 1144h11M1761 1172h11M1761 1260h11M1761 1155h11M1761 1165h11M1762 1223h11M1762 1130h11M1762 1185h11M1763 1123h11M1763 1163h11M1763 1250h11M1763 1085h11M1763 1154h11M1764 1196h11M1765 1233h11M1765 1169h11M1765 1221h11M1765 1172h11M1765 1146h11M1765 1210h11M1766 1151h11M1766 1198h11M1767 1154h11M1767 1165h11M1767 1153h11M1767 1170h11M1768 1134h11M1768 1136h11M1769 1285h11M1770 1271h11M1770 1168h11M1770 1271h11M1771 1107h11M1771 1163h11M1772 1181h11M1773 1187h11M1773 1146h11M1773 1139h11M1773 1203h11M1773 1160h11M1774 1207h11M1774 1232h11M1774 1133h11M1775 1197h11M1775 1159h11M1776 1222h11M1776 1158h11M1777 1198h11M1777 1183h11M1777 1227h11M1777 1270h11M1777 1189h11M1777 1161h11M1777 1175h11M1778 1157h11M1778 1202h11M1778 1175h11M1778 1275h11M1778 1253h11M1779 1160h11M1779 1187h11M1779 1188h11M1780 1164h11M1780 1231h11M1780 1176h11M1781 1180h11M1781 1274h11M1781 1165h11M1782 1160h11M1782 1151h11M1782 1136h11M1782 1178h11M1783 1125h11M1783 1181h11M1783 1089h11M1783 1248h11M1784 1258h11M1784 1310h11M1785 1191h11M1786 1220h11M1786 1191h11M1787 1123h11M1787 1215h11M1787 1213h11M1788 1174h11M1788 1285h11M1788 1166h11M1788 1145h11M1789 1191h11M1789 1153h11M1789 1214h11M1789 1153h11M1790 1201h11M1790 1239h11M1790 1307h11M1791 1169h11M1791 1185h11M1792 1197h11M1792 1168h11M1792 1174h11M1792 1300h11M1792 1211h11M1792 1181h11M1792 1172h11M1792 1171h11M1792 1183h11M1793 1138h11M1793 1279h11M1793 1188h11M1793 1232h11M1794 1199h11M1794 1308h11M1794 1277h11M1794 1163h11M1795 1196h11M1795 1261h11M1795 1183h11M1795 1141h11M1796 1168h11M1796 1188h11M1796 1179h11M1796 1181h11M1796 1238h11M1796 1217h11M1797 1188h11M1797 1184h11M1798 1197h11M1798 1309h11M1798 1150h11M1798 1137h11M1798 1143h11M1799 1275h11M1800 1197h11M1801 1229h11M1802 1269h11M1802 1218h11M1802 1164h11M1802 1125h11M1802 1168h11M1803 1163h11M1803 1165h11M1803 1265h11M1803 1238h11M1804 1202h11M1804 1184h11M1804 1308h11M1805 1320h11M1805 1183h11M1805 1144h11M1805 1204h11M1806 1193h11M1806 1304h11M1807 1167h11M1807 1154h11M1807 1146h11M1807 1181h11M1808 1132h11M1808 1333h11M1808 1166h11M1808 1286h11M1808 1163h11M1809 1259h11M1809 1146h11M1809 1190h11M1809 1146h11M1810 1292h11M1811 1188h11M1811 1170h11M1812 1196h11M1812 1256h11M1812 1221h11M1812 1167h11M1813 1249h11M1813 1291h11M1814 1159h11M1815 1171h11M1815 1127h11M1815 1304h11M1816 1295h11M1816 1142h11M1816 1157h11M1817 1313h11M1817 1183h11M1818 1222h11M1818 1213h11M1818 1215h11M1818 1131h11M1819 1151h11M1819 1132h11M1819 1347h11M1819 1299h11M1819 1184h11M1819 1298h11M1819 1132h11M1820 1284h11M1820 1177h11M1820 1094h11M1821 1169h11M1821 1154h11M1822 1196h11M1822 1180h11M1822 1265h11M1822 1242h11M1823 1299h11M1823 1173h11M1824 1250h11M1824 1285h11M1824 1133h11M1825 1278h11M1825 1182h11M1825 1234h11M1825 1231h11M1826 1179h11M1826 1181h11M1827 1131h11M1827 1170h11M1827 1198h11M1828 1191h11M1828 1123h11M1830 1231h11M1830 1137h11M1831 1232h11M1832 1278h11M1832 1162h11M1833 1237h11M1834 1173h11M1834 1183h11M1835 1150h11M1835 1171h11M1835 1171h11M1835 1230h11M1836 1169h11M1836 1214h11M1836 1281h11M1837 1312h11M1837 1164h11M1837 1158h11M1838 1142h11M1838 1178h11M1838 1292h11M1838 1235h11M1838 1120h11M1839 1308h11M1839 1282h11M1839 1141h11M1839 1152h11M1840 1292h11M1840 1291h11M1840 1123h11M1840 1165h11M1840 1196h11M1841 1146h11M1841 1198h11M1841 1259h11M1842 1179h11M1842 1247h11M1842 1271h11M1842 1257h11M1842 1282h11M1843 1128h11M1843 1265h11M1843 1280h11M1844 1266h11M1844 1311h11M1844 1206h11M1844 1270h11M1844 1260h11M1845 1271h11M1846 1172h11M1847 1239h11M1848 1249h11M1848 1182h11M1848 1186h11M1848 1279h11M1849 1276h11M1851 1167h11M1851 1209h11M1852 1160h11M1852 1211h11M1852 1163h11M1852 1190h11M1853 1154h11M1854 1160h11M1856 1278h11M1857 1156h11M1857 1190h11M1857 1192h11M1857 1183h11M1857 1236h11M1859 1194h11M1860 1147h11M1861 1153h11M1863 1274h11M1864 1186h11M1865 1223h11M1865 1275h11M1865 1244h11M1866 1289h11M1866 1134h11M1867 1114h11M1867 1277h11M1868 1160h11M1869 1126h11M1869 1233h11M1869 1194h11M1869 1282h11M1869 1160h11M1869 1150h11M1870 1282h11M1870 1178h11M1871 1297h11M1872 1146h11M1872 1160h11M1873 1230h11M1874 1275h11M1874 1290h11M1874 1259h11M1876 1224h11M1877 1181h11M1878 1282h11M1878 1174h11M1878 1132h11M1879 1138h11M1879 1154h11M1879 1194h11M1884 1284h11M1884 1281h11M1884 1275h11M1884 1249h11M1885 1144h11M1886 1278h11M1886 1135h11M1887 1283h11M1887 1228h11M1887 1139h11M1888 1186h11M1888 1181h11M1889 1159h11M1892 1254h11M1892 1238h11M1892 1205h11M1893 1259h11M1893 1164h11M1894 1266h11M1894 1350h11M1895 1273h11M1896 1271h11M1900 1217h11M1900 1299h11M1901 1143h11M1902 1118h11M1904 1131h11M1905 1176h11M1907 1181h11M1911 1248h11M1913 1273h11M1915 1294h11M1916 1153h11M1918 1203h11M1919 1203h11M1920 1160h11M1920 1189h11M1922 1171h11M1922 1293h11M1923 1099h11M1923 1251h11M1926 1157h11M1932 1257h11M1933 1133h11M1937 1082h11M1938 1115h11M1947 1152h11M1954 1198h11M1956 1123h11M1969 1166h11M1972 1205h11M1974 1218h11M1987 1125h11M2029 1073h11M2086 1190h11" stroke="#000" stroke-opacity="0.42" stroke-width="11" fill="none" transform="scale(.1)"/>
<path d="M1568 1191h11M1590 1164h11M1609 1160h11M1615 1181h11M1619 1222h11M1626 1189h11M1633 1168h11M1636 1203h11M1637 1174h11M1637 1148h11M1639 1193h11M1642 1149h11M1645 1249h11M1648 1200h11M1649 1246h11M1650 1143h11M1651 1247h11M1656 1239h11M1658 1174h11M1660 1130h11M1670 1202h11M1671 1136h11M1676 1210h11M1676 1187h11M1681 1199h11M1683 1194h11M1687 1175h11M1689 1172h11M1690 1179h11M1691 1147h11M1693 1189h11M1693 1181h11M1694 1161h11M1694 1217h11M1696 1149h11M1700 1164h11M1701 1138h11M1701 1131h11M1701 1164h11M1701 1199h11M1701 1142h11M1704 1140h11M1704 1198h11M1706 1197h11M1706 1159h11M1706 1321h11M1707 1222h11M1707 1169h11M1708 1200h11M1708 1081h11M1708 1153h11M1709 1118h11M1709 1205h11M1712 1148h11M1712 1230h11M1712 1205h11M1712 1171h11M1713 1131h11M1715 1162h11M1715 1223h11M1715 1133h11M1716 1179h11M1716 1183h11M1717 1112h11M1717 1208h11M1717 1167h11M1718 1154h11M1718 1171h11M1718 1199h11M1719 1117h11M1720 1144h11M1720 1225h11M1721 1159h11M1721 1172h11M1721 1162h11M1722 1205h11M1722 1172h11M1723 1154h11M1723 1189h11M1724 1201h11M1724 1197h11M1724 1188h11M1725 1176h11M1725 1164h11M1725 1215h11M1725 1237h11M1725 1138h11M1725 1202h11M1725 1162h11M1726 1173h11M1727 1203h11M1728 1150h11M1728 1188h11M1728 1146h11M1728 1151h11M1730 1171h11M1730 1195h11M1730 1179h11M1730 1149h11M1730 1163h11M1731 1140h11M1731 1184h11M1731 1179h11M1732 1167h11M1732 1126h11M1732 1195h11M1733 1169h11M1733 1133h11M1733 1221h11M1733 1174h11M1733 1220h11M1734 1175h11M1734 1268h11M1735 1174h11M1735 1152h11M1735 1159h11M1736 1215h11M1736 1199h11M1736 1139h11M1737 1172h11M1737 1209h11M1739 1191h11M1740 1127h11M1740 1164h11M1742 1189h11M1742 1188h11M1742 1213h11M1742 1191h11M1742 1156h11M1743 1155h11M1743 1185h11M1744 1196h11M1744 1147h11M1745 1181h11M1745 1217h11M1746 1177h11M1747 1137h11M1748 1179h11M1748 1179h11M1748 1190h11M1749 1166h11M1749 1174h11M1749 1138h11M1750 1186h11M1750 1192h11M1750 1179h11M1751 1141h11M1751 1202h11M1751 1140h11M1751 1125h11M1751 1180h11M1751 1143h11M1751 1177h11M1752 1331h11M1752 1139h11M1752 1103h11M1752 1142h11M1753 1178h11M1753 1156h11M1753 1225h11M1753 1163h11M1754 1227h11M1754 1202h11M1754 1175h11M1755 1082h11M1755 1213h11M1755 1200h11M1755 1120h11M1755 1215h11M1755 1195h11M1756 1203h11M1757 1169h11M1757 1254h11M1758 1181h11M1758 1282h11M1758 1191h11M1759 1218h11M1759 1212h11M1760 1181h11M1760 1237h11M1761 1176h11M1761 1166h11M1762 1214h11M1763 1195h11M1763 1171h11M1763 1294h11M1764 1210h11M1764 1155h11M1764 1150h11M1764 1150h11M1764 1162h11M1765 1104h11M1765 1167h11M1766 1172h11M1766 1127h11M1766 1167h11M1766 1215h11M1766 1191h11M1767 1212h11M1767 1171h11M1767 1150h11M1767 1204h11M1768 1114h11M1768 1311h11M1768 1153h11M1769 1146h11M1769 1173h11M1769 1327h11M1769 1166h11M1770 1156h11M1770 1187h11M1770 1149h11M1771 1197h11M1771 1200h11M1771 1153h11M1771 1141h11M1771 1196h11M1772 1144h11M1772 1142h11M1772 1208h11M1773 1181h11M1773 1220h11M1773 1216h11M1774 1147h11M1775 1149h11M1776 1138h11M1776 1213h11M1776 1175h11M1777 1134h11M1777 1143h11M1777 1146h11M1778 1152h11M1778 1203h11M1778 1176h11M1779 1192h11M1779 1149h11M1779 1189h11M1779 1270h11M1779 1170h11M1780 1170h11M1780 1221h11M1781 1294h11M1781 1193h11M1782 1142h11M1782 1174h11M1782 1192h11M1783 1141h11M1783 1285h11M1784 1133h11M1784 1174h11M1785 1156h11M1786 1148h11M1786 1160h11M1786 1201h11M1786 1138h11M1786 1232h11M1787 1255h11M1787 1210h11M1787 1290h11M1787 1168h11M1787 1158h11M1787 1256h11M1788 1206h11M1788 1301h11M1788 1154h11M1788 1196h11M1788 1277h11M1789 1149h11M1789 1175h11M1789 1272h11M1790 1135h11M1790 1150h11M1790 1186h11M1790 1158h11M1791 1150h11M1793 1280h11M1793 1176h11M1793 1165h11M1793 1162h11M1793 1194h11M1793 1184h11M1794 1227h11M1794 1197h11M1794 1184h11M1794 1147h11M1794 1142h11M1795 1131h11M1795 1159h11M1795 1188h11M1795 1197h11M1795 1200h11M1797 1175h11M1798 1147h11M1798 1177h11M1798 1236h11M1799 1163h11M1799 1151h11M1799 1189h11M1799 1190h11M1800 1282h11M1800 1162h11M1800 1179h11M1800 1173h11M1800 1175h11M1801 1168h11M1801 1182h11M1801 1181h11M1801 1174h11M1801 1154h11M1801 1199h11M1801 1188h11M1802 1263h11M1802 1319h11M1803 1257h11M1803 1186h11M1803 1124h11M1805 1207h11M1805 1249h11M1805 1274h11M1805 1139h11M1806 1111h11M1807 1162h11M1807 1172h11M1808 1196h11M1808 1144h11M1809 1199h11M1810 1157h11M1810 1283h11M1811 1134h11M1811 1167h11M1811 1201h11M1812 1145h11M1812 1108h11M1812 1271h11M1813 1223h11M1813 1167h11M1814 1186h11M1814 1176h11M1814 1153h11M1814 1163h11M1814 1167h11M1816 1162h11M1816 1190h11M1816 1179h11M1816 1258h11M1816 1172h11M1817 1146h11M1817 1210h11M1817 1174h11M1817 1111h11M1817 1184h11M1818 1190h11M1818 1190h11M1818 1095h11M1819 1284h11M1819 1153h11M1820 1281h11M1820 1168h11M1821 1149h11M1821 1130h11M1821 1289h11M1822 1301h11M1822 1243h11M1822 1285h11M1823 1177h11M1823 1202h11M1824 1265h11M1824 1288h11M1824 1294h11M1824 1270h11M1824 1189h11M1825 1179h11M1825 1261h11M1825 1257h11M1826 1190h11M1826 1200h11M1827 1210h11M1827 1208h11M1827 1266h11M1827 1270h11M1828 1207h11M1828 1248h11M1828 1167h11M1828 1112h11M1829 1164h11M1830 1226h11M1830 1306h11M1830 1123h11M1830 1131h11M1830 1189h11M1830 1136h11M1831 1187h11M1831 1203h11M1831 1157h11M1832 1152h11M1832 1222h11M1832 1191h11M1834 1234h11M1834 1151h11M1835 1153h11M1835 1304h11M1836 1280h11M1837 1182h11M1837 1240h11M1837 1182h11M1838 1169h11M1838 1157h11M1839 1163h11M1839 1174h11M1839 1264h11M1841 1124h11M1841 1168h11M1841 1201h11M1842 1170h11M1842 1156h11M1843 1246h11M1843 1115h11M1844 1240h11M1844 1285h11M1845 1214h11M1845 1156h11M1846 1249h11M1846 1178h11M1846 1293h11M1847 1177h11M1848 1282h11M1849 1179h11M1849 1321h11M1850 1294h11M1850 1270h11M1850 1113h11M1850 1170h11M1851 1169h11M1851 1160h11M1851 1168h11M1851 1285h11M1852 1171h11M1852 1159h11M1852 1307h11M1852 1142h11M1854 1302h11M1854 1142h11M1854 1277h11M1855 1186h11M1855 1180h11M1855 1236h11M1856 1158h11M1856 1131h11M1857 1253h11M1857 1280h11M1857 1258h11M1858 1127h11M1860 1280h11M1861 1173h11M1861 1253h11M1861 1177h11M1863 1202h11M1863 1155h11M1863 1197h11M1863 1270h11M1865 1215h11M1865 1172h11M1865 1223h11M1865 1288h11M1866 1246h11M1866 1201h11M1867 1164h11M1867 1259h11M1867 1201h11M1868 1157h11M1869 1267h11M1869 1211h11M1869 1200h11M1870 1205h11M1871 1248h11M1872 1188h11M1872 1178h11M1873 1164h11M1873 1171h11M1875 1305h11M1876 1197h11M1877 1192h11M1877 1268h11M1877 1231h11M1878 1257h11M1880 1110h11M1880 1248h11M1880 1214h11M1881 1281h11M1881 1244h11M1881 1121h11M1881 1153h11M1882 1246h11M1882 1123h11M1883 1197h11M1883 1243h11M1884 1324h11M1884 1169h11M1885 1275h11M1885 1157h11M1886 1205h11M1886 1159h11M1887 1199h11M1887 1224h11M1887 1155h11M1887 1214h11M1889 1191h11M1889 1127h11M1891 1157h11M1892 1186h11M1893 1253h11M1893 1206h11M1896 1290h11M1896 1197h11M1899 1198h11M1899 1176h11M1900 1191h11M1900 1169h11M1901 1254h11M1902 1178h11M1907 1247h11M1911 1143h11M1912 1214h11M1912 1276h11M1913 1213h11M1914 1242h11M1915 1261h11M1916 1213h11M1918 1227h11M1919 1258h11M1920 1214h11M1921 1079h11M1923 1215h11M1924 1157h11M1933 1252h11M1933 1179h11M1936 1116h11M1938 1212h11M1940 1263h11M1942 1125h11M1944 1289h11M1945 1165h11M1946 1165h11M1946 1127h11M1951 1276h11M1952 1261h11M1952 1222h11M1969 1233h11M1981 1179h11M1983 1223h11M2008 1242h11M2029 1148h11M2034 1210h11M2079 1475h11" stroke="#000" stroke-opacity="0.42" stroke-width="11" fill="none" transform="scale(.1)"/>
</g>
<rect x="154.5" y="77.5" width="135.00" height="125.00" fill="none" stroke="#6c6c6c" stroke-width="1.1"/>
<path d="M152.5 77.5H154.5M153.4 99.6H154.5M153.4 94.0H154.5M153.4 90.1H154.5M153.4 87.0H154.5M153.4 84.5H154.5M153.4 82.4H154.5M153.4 80.6H154.5M153.4 78.9H154.5M152.5 109.1H154.5M153.4 131.2H154.5M153.4 125.6H154.5M153.4 121.7H154.5M153.4 118.6H154.5M153.4 116.1H154.5M153.4 114.0H154.5M153.4 112.2H154.5M153.4 110.5H154.5M152.5 140.7H154.5M153.4 162.8H154.5M153.4 157.2H154.5M153.4 153.3H154.5M153.4 150.2H154.5M153.4 147.7H154.5M153.4 145.6H154.5M153.4 143.8H154.5M153.4 142.1H154.5M152.5 172.3H154.5M153.4 194.4H154.5M153.4 188.8H154.5M153.4 184.9H154.5M153.4 181.8H154.5M153.4 179.3H154.5M153.4 177.2H154.5M153.4 175.4H154.5M153.4 173.7H154.5M289.5 202.5V204.5M265.9 202.5V203.6M271.9 202.5V203.6M276.1 202.5V203.6M279.4 202.5V203.6M282.0 202.5V203.6M284.3 202.5V203.6M286.2 202.5V203.6M288.0 202.5V203.6M255.8 202.5V204.5M232.2 202.5V203.6M238.2 202.5V203.6M242.4 202.5V203.6M245.7 202.5V203.6M248.3 202.5V203.6M250.6 202.5V203.6M252.5 202.5V203.6M254.3 202.5V203.6M222.1 202.5V204.5M198.5 202.5V203.6M204.5 202.5V203.6M208.7 202.5V203.6M212.0 202.5V203.6M214.6 202.5V203.6M216.9 202.5V203.6M218.8 202.5V203.6M220.6 202.5V203.6M188.4 202.5V204.5M164.8 202.5V203.6M170.8 202.5V203.6M175.0 202.5V203.6M178.3 202.5V203.6M180.9 202.5V203.6M183.2 202.5V203.6M185.1 202.5V203.6M186.9 202.5V203.6M154.7 202.5V204.5" stroke="#555" stroke-width="0.8" fill="none"/>
<rect x="190.5" y="81.5" width="90.00" height="111.00" fill="none" stroke="#505050" stroke-width="1"/>
<rect x="245.7" y="81.5" width="34.80" height="20.50" fill="#fff" stroke="#b5b5b5" stroke-width="0.8"/>
<text x="248.1" y="97.7" font-family="'DejaVu Sans','Liberation Sans',sans-serif" font-size="14" font-weight="bold" text-anchor="start" fill="#111" textLength="29.7" lengthAdjust="spacingAndGlyphs" >11%</text>
<text x="136.1" y="81.4" font-family="'Liberation Sans',Arial,sans-serif" font-size="8.7" font-weight="bold" fill="#111" stroke="#111" stroke-width="0.25" textLength="10.1" lengthAdjust="spacingAndGlyphs">10</text>
<text x="146.4" y="78.3" font-family="'Liberation Sans',Arial,sans-serif" font-size="5.6" font-weight="bold" fill="#111">3</text>
<text x="136.1" y="113.0" font-family="'Liberation Sans',Arial,sans-serif" font-size="8.7" font-weight="bold" fill="#111" stroke="#111" stroke-width="0.25" textLength="10.1" lengthAdjust="spacingAndGlyphs">10</text>
<text x="146.4" y="109.9" font-family="'Liberation Sans',Arial,sans-serif" font-size="5.6" font-weight="bold" fill="#111">2</text>
<text x="136.1" y="144.6" font-family="'Liberation Sans',Arial,sans-serif" font-size="8.7" font-weight="bold" fill="#111" stroke="#111" stroke-width="0.25" textLength="10.1" lengthAdjust="spacingAndGlyphs">10</text>
<text x="146.4" y="141.5" font-family="'Liberation Sans',Arial,sans-serif" font-size="5.6" font-weight="bold" fill="#111">1</text>
<text x="136.1" y="176.2" font-family="'Liberation Sans',Arial,sans-serif" font-size="8.7" font-weight="bold" fill="#111" stroke="#111" stroke-width="0.25" textLength="10.1" lengthAdjust="spacingAndGlyphs">10</text>
<text x="146.4" y="173.1" font-family="'Liberation Sans',Arial,sans-serif" font-size="5.6" font-weight="bold" fill="#111">0</text>
<text x="282.3" y="215.3" font-family="'Liberation Sans',Arial,sans-serif" font-size="8.7" font-weight="bold" fill="#111" stroke="#111" stroke-width="0.25" textLength="10.1" lengthAdjust="spacingAndGlyphs">10</text>
<text x="292.6" y="212.2" font-family="'Liberation Sans',Arial,sans-serif" font-size="5.6" font-weight="bold" fill="#111">3</text>
<text x="248.6" y="215.3" font-family="'Liberation Sans',Arial,sans-serif" font-size="8.7" font-weight="bold" fill="#111" stroke="#111" stroke-width="0.25" textLength="10.1" lengthAdjust="spacingAndGlyphs">10</text>
<text x="258.9" y="212.2" font-family="'Liberation Sans',Arial,sans-serif" font-size="5.6" font-weight="bold" fill="#111">2</text>
<text x="214.9" y="215.3" font-family="'Liberation Sans',Arial,sans-serif" font-size="8.7" font-weight="bold" fill="#111" stroke="#111" stroke-width="0.25" textLength="10.1" lengthAdjust="spacingAndGlyphs">10</text>
<text x="225.2" y="212.2" font-family="'Liberation Sans',Arial,sans-serif" font-size="5.6" font-weight="bold" fill="#111">1</text>
<text x="181.2" y="215.3" font-family="'Liberation Sans',Arial,sans-serif" font-size="8.7" font-weight="bold" fill="#111" stroke="#111" stroke-width="0.25" textLength="10.1" lengthAdjust="spacingAndGlyphs">10</text>
<text x="191.5" y="212.2" font-family="'Liberation Sans',Arial,sans-serif" font-size="5.6" font-weight="bold" fill="#111">0</text>
</g>
<g id="p2">
<g filter="url(#bl)">
<ellipse cx="361" cy="140" rx="12" ry="14" transform="rotate(0 361 140)" fill="#000" fill-opacity="0.25" filter="url(#bc)"/>
<path d="M3330 1204h13M3340 1310h13M3352 1470h13M3356 1457h13M3358 1522h13M3364 1462h13M3369 1252h13M3369 1384h13M3370 1423h13M3379 1566h13M3384 1407h13M3390 1378h13M3405 1337h13M3412 1381h13M3425 1270h13M3427 1511h13M3438 1345h13M3438 1369h13M3448 1198h13M3454 1403h13M3455 1662h13M3458 1443h13M3459 1699h13M3463 1334h13M3463 1318h13M3467 1429h13M3467 1445h13M3468 1466h13M3468 1419h13M3470 1470h13M3474 1515h13M3477 1494h13M3478 1524h13M3478 1364h13M3479 1384h13M3479 1115h13M3480 1224h13M3492 1449h13M3494 1363h13M3494 1483h13M3496 1446h13M3507 1347h13M3509 1294h13M3509 1455h13M3511 1364h13M3514 1241h13M3515 1392h13M3515 1613h13M3519 1405h13M3521 1310h13M3522 1585h13M3523 1202h13M3524 1195h13M3524 1375h13M3526 1415h13M3527 1353h13M3529 1139h13M3531 1319h13M3532 1340h13M3532 1403h13M3533 1267h13M3537 1539h13M3537 1539h13M3538 1269h13M3539 1415h13M3540 1200h13M3541 1310h13M3544 1300h13M3544 1400h13M3544 1338h13M3545 1411h13M3546 1560h13M3547 1589h13M3550 1332h13M3552 1425h13M3552 1571h13M3553 1409h13M3553 1299h13M3557 1434h13M3557 1443h13M3559 1192h13M3560 1247h13M3563 1484h13M3563 1256h13M3564 1224h13M3566 1580h13M3567 1558h13M3567 1186h13M3568 1111h13M3570 1178h13M3570 1264h13M3572 1370h13M3574 1465h13M3576 1512h13M3576 1346h13M3577 1227h13M3577 1339h13M3577 1334h13M3578 1434h13M3580 1543h13M3580 1522h13M3582 1520h13M3582 1323h13M3585 1447h13M3585 1303h13M3587 1446h13M3588 1425h13M3588 1497h13M3590 1343h13M3590 1385h13M3594 1309h13M3594 1271h13M3594 1268h13M3595 1445h13M3597 1287h13M3598 1143h13M3603 1421h13M3603 1543h13M3605 1448h13M3606 1470h13M3606 1457h13M3608 1349h13M3609 1475h13M3611 1245h13M3611 1508h13M3614 1298h13M3615 1409h13M3616 1508h13M3619 1393h13M3620 1691h13M3621 1154h13M3623 1369h13M3624 1547h13M3626 1220h13M3626 1288h13M3626 1432h13M3628 1346h13M3629 1378h13M3629 1199h13M3629 1392h13M3630 1278h13M3630 1488h13M3630 1637h13M3631 1455h13M3634 1375h13M3636 1506h13M3636 1271h13M3639 1440h13M3640 1313h13M3640 1307h13M3641 1242h13M3643 1463h13M3645 1515h13M3647 1300h13M3647 1333h13M3647 1445h13M3647 1389h13M3648 1305h13M3648 1498h13M3651 1546h13M3652 1586h13M3653 1254h13M3655 1328h13M3656 1278h13M3656 1571h13M3656 1340h13M3657 1245h13M3659 1628h13M3663 1304h13M3664 1584h13M3664 1416h13M3665 1652h13M3665 1473h13M3665 1522h13M3666 1153h13M3667 1364h13M3667 1329h13M3667 1251h13M3669 1630h13M3670 1219h13M3670 1395h13M3670 1305h13M3671 1399h13M3673 1337h13M3673 1365h13M3673 1768h13M3675 1770h13M3675 1197h13M3681 1496h13M3682 1267h13M3683 944h13M3683 1189h13M3685 1720h13M3685 1257h13M3686 1508h13M3686 1660h13M3686 1418h13M3687 1339h13M3688 1533h13M3689 1302h13M3690 1448h13M3691 1298h13M3692 1493h13M3693 1571h13M3693 1405h13M3694 1198h13M3695 1350h13M3695 1443h13M3697 1784h13M3699 1404h13M3702 1495h13M3702 1412h13M3702 1235h13M3703 1414h13M3703 1336h13M3703 1530h13M3703 1388h13M3704 1232h13M3704 1182h13M3704 1467h13M3705 1475h13M3705 1399h13M3707 1575h13M3708 1506h13M3709 1493h13M3709 1420h13M3710 1470h13M3710 1470h13M3711 1244h13M3717 1612h13M3717 1272h13M3718 1253h13M3718 1472h13M3718 1357h13M3718 1459h13M3718 1564h13M3718 1505h13M3719 1510h13M3719 1547h13M3721 1604h13M3722 1440h13M3722 1450h13M3723 1490h13M3724 1340h13M3725 1362h13M3727 1287h13M3727 1610h13M3728 1534h13M3728 1479h13M3728 1361h13M3729 1546h13M3729 1462h13M3729 1310h13M3730 1398h13M3730 1337h13M3732 1270h13M3737 1533h13M3740 1317h13M3741 1542h13M3741 1182h13M3742 1367h13M3742 1384h13M3743 1397h13M3743 1277h13M3743 1438h13M3746 1361h13M3746 1391h13M3746 1550h13M3747 1513h13M3749 1471h13M3751 1353h13M3753 1490h13M3755 1619h13M3755 1223h13M3756 1426h13M3760 1459h13M3761 1368h13M3761 1447h13M3762 1212h13M3762 1460h13M3764 1226h13M3765 1509h13M3766 1498h13M3766 1461h13M3767 1465h13M3768 1296h13M3769 1329h13M3769 1160h13M3772 1281h13M3773 1416h13M3773 1593h13M3774 1580h13M3776 1441h13M3776 1512h13M3777 1705h13M3778 1437h13M3779 1485h13M3784 1391h13M3785 1544h13M3787 1335h13M3788 1623h13M3788 1371h13M3789 1379h13M3789 1317h13M3791 1654h13M3791 1312h13M3791 1421h13M3793 1240h13M3793 1500h13M3793 1530h13M3794 1460h13M3795 1230h13M3795 1711h13M3795 1303h13M3797 1407h13M3799 1377h13M3800 1507h13M3801 1335h13M3802 1397h13M3803 1535h13M3803 1307h13M3804 1427h13M3805 1502h13M3806 1475h13M3811 1269h13M3818 1156h13M3820 1655h13M3821 1195h13M3822 1359h13M3823 1354h13M3826 1416h13M3826 1477h13M3831 1520h13M3832 1402h13M3837 1260h13M3838 1433h13M3838 1375h13M3841 1402h13M3842 1389h13M3843 1276h13M3845 1294h13M3845 1366h13M3847 1163h13M3852 1570h13M3852 1417h13M3853 1280h13M3859 1208h13M3863 1416h13M3864 1530h13M3870 1678h13M3870 1160h13M3873 1243h13M3877 1366h13M3877 1487h13M3877 1102h13M3879 1154h13M3882 1581h13M3882 1320h13M3886 1296h13M3886 1569h13M3888 1304h13M3889 1444h13M3889 1397h13M3892 1379h13M3893 1380h13M3894 1114h13M3896 1378h13M3897 1459h13M3897 1356h13M3897 1214h13M3898 1371h13M3903 1166h13M3904 1171h13M3909 1422h13M3920 1529h13M3924 1495h13M3934 1292h13M3941 1554h13M3942 1333h13M3947 1395h13M3951 1505h13M3956 1335h13M3957 1495h13M3965 1349h13M3967 1578h13M3970 1349h13M3976 1407h13M3980 1484h13M3995 1223h13M3996 1489h13M4007 1265h13M4015 1499h13M4038 1522h13M4065 1593h13M4078 1495h13M4112 1361h13M4114 1346h13M4126 1572h13M4130 1434h13M4227 1471h13" stroke="#000" stroke-opacity="0.22" stroke-width="13" fill="none" transform="scale(.1)"/>
<path d="M3259 1260h13M3264 1478h13M3281 1314h13M3287 1393h13M3294 1580h13M3352 1361h13M3353 1442h13M3372 1641h13M3389 1408h13M3390 1221h13M3397 1253h13M3401 1347h13M3401 1614h13M3411 1326h13M3424 1589h13M3424 1463h13M3426 1513h13M3433 1430h13M3434 1362h13M3436 1419h13M3436 1353h13M3439 1390h13M3441 1462h13M3455 1741h13M3461 1353h13M3462 1466h13M3463 1324h13M3477 1477h13M3477 1495h13M3478 1467h13M3479 1406h13M3481 1297h13M3483 1320h13M3483 1564h13M3484 1396h13M3484 1637h13M3492 1389h13M3494 1383h13M3496 1327h13M3497 1518h13M3510 1331h13M3514 1236h13M3514 1587h13M3514 1352h13M3519 1366h13M3519 1473h13M3520 1454h13M3520 1400h13M3522 1421h13M3523 1367h13M3525 1519h13M3525 1446h13M3526 1346h13M3529 1533h13M3537 1286h13M3538 1540h13M3539 1580h13M3539 1485h13M3541 1215h13M3541 1441h13M3544 1436h13M3544 1419h13M3544 1358h13M3546 1320h13M3546 1550h13M3548 1489h13M3550 1706h13M3550 1417h13M3551 1399h13M3554 1612h13M3554 1399h13M3555 1514h13M3557 1218h13M3557 1232h13M3559 1354h13M3560 1353h13M3562 1441h13M3562 1180h13M3562 1387h13M3565 1301h13M3566 1722h13M3568 1470h13M3570 1425h13M3572 1374h13M3572 1555h13M3574 1233h13M3575 1421h13M3576 1176h13M3578 1375h13M3579 1454h13M3580 1446h13M3581 1399h13M3582 1291h13M3583 1599h13M3584 1358h13M3584 1382h13M3585 1346h13M3585 1368h13M3586 1290h13M3586 1693h13M3587 1736h13M3587 1220h13M3587 1481h13M3587 1298h13M3590 1447h13M3593 1367h13M3593 1504h13M3594 1297h13M3594 1609h13M3595 1509h13M3595 1213h13M3596 1465h13M3599 1444h13M3602 1394h13M3603 1521h13M3603 1431h13M3603 1526h13M3603 1225h13M3607 1187h13M3607 1364h13M3607 1405h13M3608 1346h13M3608 1508h13M3609 1574h13M3609 1288h13M3610 1278h13M3614 1352h13M3615 1238h13M3616 1268h13M3616 1254h13M3616 1148h13M3617 1283h13M3617 1422h13M3618 1378h13M3619 1473h13M3620 1290h13M3620 1245h13M3620 1128h13M3620 1092h13M3620 1498h13M3623 1549h13M3624 1252h13M3628 1519h13M3628 1440h13M3630 1283h13M3630 1526h13M3631 1518h13M3635 1161h13M3638 1354h13M3640 1492h13M3640 1616h13M3641 1477h13M3642 1264h13M3642 1575h13M3643 1528h13M3644 1487h13M3644 1467h13M3649 1634h13M3649 1714h13M3650 1322h13M3650 1422h13M3650 1296h13M3651 1470h13M3651 1297h13M3652 1409h13M3653 1301h13M3653 1282h13M3655 1380h13M3657 1405h13M3657 1289h13M3658 1359h13M3658 1410h13M3660 1438h13M3662 1305h13M3662 1515h13M3663 1528h13M3664 1290h13M3664 1026h13M3666 1287h13M3667 1488h13M3667 1529h13M3668 1436h13M3669 1586h13M3670 1048h13M3670 1316h13M3671 1389h13M3671 1387h13M3672 1517h13M3673 1429h13M3674 1224h13M3675 1572h13M3677 1429h13M3678 1344h13M3678 1344h13M3679 1326h13M3681 1368h13M3689 1319h13M3689 1557h13M3690 1226h13M3691 1571h13M3691 1449h13M3693 1675h13M3693 1582h13M3695 1439h13M3696 1188h13M3697 1667h13M3698 1002h13M3699 1356h13M3701 1311h13M3703 1380h13M3703 1596h13M3704 1377h13M3705 1340h13M3707 1543h13M3707 1256h13M3707 1567h13M3708 1487h13M3708 1444h13M3710 1435h13M3711 1286h13M3713 1353h13M3713 1369h13M3714 1461h13M3714 1578h13M3716 1662h13M3716 1263h13M3717 1221h13M3718 1483h13M3718 1416h13M3718 1329h13M3720 1567h13M3720 1191h13M3722 1272h13M3723 1570h13M3723 1558h13M3724 1361h13M3726 1415h13M3727 1551h13M3727 1360h13M3728 1198h13M3729 1508h13M3729 1276h13M3730 1603h13M3730 1366h13M3731 1514h13M3731 1507h13M3731 1417h13M3731 1531h13M3732 1353h13M3736 1568h13M3737 1542h13M3738 1542h13M3738 1451h13M3739 1530h13M3739 1575h13M3743 1290h13M3746 1414h13M3747 1281h13M3747 1292h13M3749 1567h13M3752 1405h13M3752 1309h13M3753 1294h13M3753 1381h13M3754 1293h13M3755 1403h13M3756 1452h13M3756 1242h13M3757 1586h13M3757 1442h13M3758 1447h13M3758 1416h13M3761 1305h13M3762 1425h13M3765 1395h13M3768 1436h13M3768 1653h13M3772 1402h13M3772 1390h13M3772 1581h13M3773 1389h13M3777 1359h13M3780 1249h13M3782 1443h13M3782 1425h13M3783 1630h13M3785 1415h13M3786 1288h13M3787 1305h13M3787 1569h13M3788 1533h13M3790 1283h13M3790 1369h13M3791 1173h13M3795 1529h13M3796 1256h13M3799 1530h13M3800 1480h13M3800 1342h13M3803 1406h13M3803 1316h13M3804 1438h13M3805 1316h13M3807 1510h13M3807 1358h13M3808 1275h13M3808 1266h13M3808 1444h13M3811 1322h13M3813 1199h13M3815 1404h13M3815 1543h13M3819 1298h13M3819 1410h13M3819 1324h13M3821 1629h13M3821 1239h13M3821 1436h13M3822 1371h13M3822 1334h13M3823 1296h13M3826 1596h13M3827 1658h13M3827 1347h13M3827 1405h13M3830 1451h13M3831 1435h13M3834 1283h13M3835 1304h13M3835 1335h13M3836 1491h13M3838 1583h13M3838 1266h13M3838 1307h13M3839 1424h13M3839 1616h13M3840 1376h13M3840 1307h13M3841 1488h13M3842 1105h13M3844 1158h13M3846 1319h13M3849 1521h13M3853 1347h13M3854 1374h13M3855 1500h13M3856 1323h13M3856 1679h13M3856 1468h13M3856 1499h13M3857 1330h13M3858 1375h13M3860 1244h13M3861 1357h13M3862 1303h13M3864 1528h13M3865 1736h13M3878 1601h13M3884 1214h13M3885 1235h13M3886 1315h13M3888 1295h13M3892 1202h13M3892 1472h13M3892 1521h13M3894 1543h13M3896 1298h13M3896 1322h13M3901 1417h13M3902 1333h13M3907 1276h13M3909 1289h13M3912 1343h13M3915 1446h13M3918 1414h13M3921 1230h13M3921 1340h13M3927 1537h13M3928 1359h13M3929 1209h13M3930 1293h13M3934 1164h13M3934 1428h13M3939 1273h13M3940 1449h13M3941 1346h13M3942 1154h13M3944 1555h13M3962 1371h13M3964 1411h13M3975 1346h13M3984 1325h13M3996 1314h13M3999 1278h13M4000 1339h13M4032 1380h13M4043 1276h13M4068 1385h13M4074 1360h13" stroke="#000" stroke-opacity="0.22" stroke-width="13" fill="none" transform="scale(.1)"/>
<path d="M3327 1403h11M3371 1412h11M3376 1436h11M3378 1342h11M3385 1432h11M3391 1223h11M3395 1515h11M3400 1521h11M3403 1421h11M3408 1163h11M3414 1426h11M3416 1507h11M3417 1288h11M3417 1429h11M3418 1226h11M3425 1291h11M3427 1201h11M3429 1269h11M3430 1239h11M3434 1447h11M3436 1333h11M3437 1232h11M3439 1406h11M3440 1337h11M3440 1502h11M3440 1310h11M3441 1240h11M3444 1247h11M3446 1324h11M3446 1310h11M3448 1329h11M3448 1395h11M3449 1618h11M3450 1361h11M3452 1500h11M3452 1312h11M3453 1312h11M3454 1457h11M3456 1369h11M3457 1253h11M3457 1543h11M3459 1224h11M3461 1253h11M3461 1527h11M3461 1247h11M3462 1337h11M3463 1435h11M3464 1211h11M3464 1363h11M3466 1298h11M3467 1599h11M3468 1233h11M3470 1422h11M3470 1484h11M3471 1361h11M3472 1669h11M3472 1298h11M3474 1231h11M3474 1558h11M3475 1576h11M3476 1460h11M3477 1300h11M3477 1414h11M3479 1369h11M3479 1347h11M3480 1502h11M3481 1491h11M3481 1371h11M3481 1325h11M3481 1245h11M3481 1577h11M3481 1311h11M3482 1228h11M3483 1500h11M3483 1422h11M3484 1553h11M3484 1387h11M3484 1297h11M3485 1332h11M3486 1538h11M3486 1552h11M3486 1356h11M3486 1408h11M3487 1402h11M3487 1486h11M3487 1515h11M3490 1517h11M3490 1460h11M3491 1612h11M3491 1373h11M3491 1507h11M3491 1632h11M3492 1280h11M3493 1616h11M3493 1272h11M3493 1636h11M3493 1426h11M3493 1323h11M3493 1368h11M3493 1262h11M3494 1405h11M3494 1349h11M3494 1448h11M3494 1431h11M3495 1324h11M3496 1458h11M3496 1256h11M3496 1324h11M3497 1375h11M3497 1304h11M3497 1310h11M3497 1364h11M3498 1216h11M3499 1499h11M3499 1420h11M3500 1443h11M3500 1590h11M3501 1616h11M3501 1633h11M3502 1576h11M3502 1292h11M3502 1341h11M3502 1476h11M3502 1414h11M3503 1457h11M3503 1531h11M3503 1381h11M3504 1283h11M3505 1342h11M3506 1516h11M3506 1241h11M3506 1375h11M3507 1480h11M3507 1325h11M3507 1561h11M3507 1408h11M3508 1315h11M3509 1338h11M3509 1309h11M3509 1493h11M3509 1228h11M3510 1380h11M3511 1471h11M3511 1279h11M3512 1579h11M3512 1582h11M3512 1612h11M3512 1389h11M3513 1441h11M3514 1310h11M3514 1444h11M3515 1209h11M3515 1629h11M3515 1523h11M3515 1640h11M3515 1434h11M3516 1241h11M3516 1431h11M3516 1530h11M3517 1299h11M3517 1473h11M3517 1439h11M3517 1203h11M3517 1420h11M3518 1431h11M3518 1533h11M3518 1430h11M3518 1558h11M3519 1488h11M3519 1607h11M3520 1192h11M3520 1425h11M3521 1229h11M3521 1375h11M3521 1239h11M3521 1323h11M3521 1530h11M3521 1286h11M3522 1415h11M3522 1438h11M3522 1248h11M3522 1235h11M3522 1485h11M3522 1388h11M3522 1493h11M3522 1268h11M3522 1538h11M3523 1323h11M3524 1369h11M3524 1643h11M3524 1255h11M3525 1365h11M3526 1597h11M3526 1208h11M3527 1399h11M3527 1478h11M3527 1247h11M3527 1399h11M3527 1384h11M3528 1570h11M3528 1642h11M3528 1414h11M3528 1489h11M3529 1491h11M3530 1422h11M3530 1535h11M3531 1432h11M3531 1449h11M3531 1383h11M3532 1169h11M3532 1533h11M3532 1301h11M3533 1453h11M3533 1512h11M3534 1539h11M3534 1650h11M3534 1398h11M3535 1575h11M3535 1437h11M3535 1593h11M3535 1677h11M3535 1496h11M3536 1376h11M3536 1521h11M3536 1431h11M3536 1299h11M3536 1493h11M3537 1639h11M3537 1642h11M3537 1191h11M3538 1428h11M3538 1409h11M3538 1246h11M3538 1253h11M3538 1289h11M3539 1402h11M3539 1544h11M3539 1601h11M3539 1201h11M3539 1396h11M3540 1227h11M3541 1488h11M3541 1512h11M3541 1439h11M3541 1305h11M3541 1474h11M3542 1409h11M3542 1353h11M3542 1493h11M3542 1613h11M3544 1271h11M3544 1405h11M3544 1317h11M3545 1188h11M3545 1182h11M3546 1618h11M3546 1526h11M3546 1326h11M3547 1212h11M3547 1630h11M3547 1271h11M3547 1216h11M3547 1204h11M3547 1472h11M3547 1331h11M3548 1548h11M3548 1207h11M3548 1521h11M3548 1581h11M3548 1549h11M3548 1632h11M3549 1315h11M3550 1501h11M3550 1170h11M3550 1410h11M3550 1336h11M3551 1465h11M3551 1478h11M3551 1541h11M3551 1516h11M3551 1248h11M3552 1211h11M3552 1459h11M3552 1453h11M3554 1519h11M3554 1617h11M3554 1194h11M3555 1615h11M3555 1535h11M3555 1356h11M3556 1196h11M3556 1249h11M3556 1238h11M3556 1227h11M3556 1208h11M3557 1306h11M3557 1451h11M3557 1435h11M3558 1546h11M3558 1410h11M3559 1311h11M3559 1500h11M3559 1525h11M3559 1510h11M3559 1324h11M3560 1381h11M3561 1357h11M3561 1558h11M3561 1496h11M3561 1219h11M3562 1301h11M3562 1612h11M3562 1562h11M3563 1357h11M3563 1642h11M3563 1537h11M3563 1430h11M3563 1418h11M3564 1564h11M3564 1324h11M3565 1502h11M3565 1631h11M3565 1409h11M3566 1298h11M3566 1504h11M3566 1484h11M3567 1214h11M3567 1514h11M3567 1438h11M3568 1415h11M3568 1320h11M3568 1291h11M3568 1514h11M3568 1566h11M3568 1531h11M3569 1220h11M3569 1439h11M3569 1439h11M3569 1645h11M3569 1375h11M3570 1234h11M3571 1432h11M3572 1302h11M3572 1443h11M3572 1244h11M3572 1516h11M3572 1465h11M3573 1622h11M3573 1472h11M3573 1482h11M3574 1254h11M3574 1307h11M3574 1583h11M3574 1320h11M3574 1355h11M3575 1432h11M3575 1559h11M3575 1292h11M3575 1355h11M3576 1448h11M3576 1468h11M3576 1538h11M3576 1247h11M3576 1305h11M3576 1291h11M3576 1534h11M3577 1294h11M3577 1534h11M3577 1302h11M3577 1229h11M3578 1485h11M3579 1400h11M3579 1439h11M3579 1580h11M3579 1592h11M3579 1530h11M3579 1445h11M3580 1364h11M3580 1393h11M3580 1522h11M3580 1327h11M3580 1225h11M3581 1222h11M3581 1517h11M3581 1440h11M3582 1549h11M3582 1413h11M3583 1278h11M3583 1561h11M3583 1569h11M3583 1346h11M3583 1438h11M3583 1338h11M3583 1503h11M3584 1499h11M3584 1431h11M3584 1579h11M3584 1218h11M3584 1610h11M3584 1522h11M3584 1604h11M3584 1448h11M3584 1242h11M3584 1221h11M3585 1522h11M3585 1604h11M3585 1416h11M3585 1494h11M3585 1545h11M3585 1497h11M3586 1614h11M3586 1192h11M3586 1428h11M3586 1643h11M3586 1428h11M3587 1318h11M3587 1225h11M3587 1292h11M3588 1642h11M3589 1482h11M3589 1353h11M3589 1656h11M3589 1455h11M3589 1390h11M3589 1402h11M3590 1415h11M3590 1558h11M3591 1369h11M3591 1578h11M3591 1477h11M3591 1229h11M3592 1388h11M3592 1529h11M3592 1235h11M3593 1250h11M3593 1633h11M3593 1206h11M3593 1470h11M3594 1433h11M3594 1343h11M3594 1537h11M3594 1394h11M3594 1436h11M3594 1340h11M3595 1441h11M3595 1495h11M3595 1415h11M3596 1328h11M3596 1562h11M3596 1369h11M3597 1513h11M3597 1420h11M3597 1461h11M3597 1422h11M3597 1332h11M3597 1284h11M3598 1494h11M3598 1583h11M3598 1373h11M3599 1400h11M3599 1584h11M3599 1508h11M3599 1351h11M3599 1538h11M3599 1445h11M3599 1270h11M3600 1387h11M3600 1449h11M3600 1412h11M3601 1224h11M3601 1414h11M3601 1560h11M3601 1406h11M3602 1340h11M3602 1345h11M3602 1547h11M3602 1528h11M3603 1439h11M3604 1332h11M3604 1390h11M3604 1477h11M3605 1321h11M3606 1225h11M3606 1727h11M3606 1385h11M3606 1516h11M3607 1314h11M3607 1499h11M3607 1611h11M3608 1508h11M3608 1429h11M3608 1423h11M3608 1490h11M3609 1297h11M3609 1478h11M3609 1379h11M3609 1210h11M3609 1453h11M3609 1607h11M3609 1345h11M3609 1494h11M3611 1389h11M3611 1491h11M3611 1489h11M3611 1195h11M3612 1403h11M3613 1633h11M3613 1513h11M3614 1509h11M3614 1251h11M3614 1510h11M3614 1351h11M3614 1397h11M3614 1490h11M3615 1414h11M3615 1553h11M3615 1509h11M3615 1386h11M3615 1632h11M3615 1374h11M3616 1471h11M3616 1573h11M3616 1295h11M3616 1600h11M3617 1594h11M3617 1326h11M3617 1331h11M3617 1331h11M3618 1194h11M3618 1436h11M3618 1544h11M3618 1361h11M3619 1213h11M3619 1213h11M3619 1304h11M3619 1502h11M3619 1371h11M3619 1591h11M3619 1333h11M3619 1401h11M3620 1420h11M3620 1593h11M3620 1382h11M3620 1389h11M3620 1438h11M3620 1407h11M3621 1277h11M3621 1405h11M3621 1243h11M3622 1563h11M3622 1395h11M3622 1293h11M3623 1274h11M3623 1310h11M3623 1322h11M3624 1344h11M3624 1411h11M3624 1316h11M3625 1311h11M3625 1542h11M3625 1415h11M3625 1536h11M3625 1236h11M3626 1394h11M3627 1550h11M3627 1555h11M3627 1535h11M3627 1409h11M3627 1602h11M3628 1501h11M3628 1327h11M3629 1578h11M3630 1349h11M3630 1345h11M3630 1452h11M3630 1324h11M3630 1203h11M3630 1368h11M3631 1608h11M3631 1337h11M3631 1330h11M3631 1580h11M3631 1549h11M3631 1215h11M3631 1449h11M3632 1435h11M3632 1440h11M3632 1375h11M3633 1646h11M3633 1564h11M3633 1528h11M3633 1329h11M3633 1416h11M3633 1318h11M3633 1403h11M3633 1502h11M3633 1554h11M3633 1327h11M3634 1525h11M3634 1452h11M3634 1308h11M3634 1222h11M3635 1150h11M3635 1374h11M3635 1428h11M3635 1497h11M3635 1656h11M3636 1492h11M3636 1343h11M3636 1322h11M3636 1429h11M3636 1507h11M3637 1418h11M3637 1320h11M3637 1603h11M3637 1466h11M3637 1412h11M3638 1250h11M3638 1365h11M3638 1427h11M3638 1344h11M3639 1395h11M3639 1492h11M3639 1326h11M3639 1211h11M3639 1496h11M3640 1549h11M3640 1433h11M3640 1204h11M3640 1515h11M3641 1418h11M3641 1615h11M3641 1538h11M3641 1338h11M3642 1429h11M3642 1190h11M3642 1244h11M3642 1467h11M3642 1614h11M3643 1450h11M3643 1422h11M3643 1605h11M3644 1312h11M3644 1489h11M3644 1483h11M3644 1290h11M3644 1346h11M3644 1196h11M3644 1399h11M3645 1507h11M3645 1393h11M3645 1474h11M3645 1282h11M3645 1370h11M3645 1589h11M3646 1403h11M3646 1333h11M3646 1505h11M3646 1442h11M3646 1404h11M3646 1335h11M3646 1582h11M3647 1521h11M3647 1423h11M3647 1473h11M3648 1200h11M3648 1298h11M3649 1280h11M3649 1562h11M3649 1375h11M3649 1207h11M3650 1448h11M3650 1274h11M3650 1229h11M3650 1447h11M3651 1341h11M3651 1401h11M3651 1405h11M3651 1242h11M3651 1191h11M3651 1471h11M3652 1478h11M3652 1224h11M3652 1299h11M3652 1380h11M3653 1313h11M3653 1379h11M3653 1517h11M3653 1371h11M3654 1562h11M3655 1478h11M3655 1251h11M3655 1296h11M3655 1204h11M3656 1311h11M3657 1516h11M3657 1424h11M3658 1461h11M3658 1208h11M3659 1547h11M3659 1594h11M3660 1338h11M3660 1563h11M3660 1544h11M3660 1343h11M3660 1590h11M3660 1337h11M3661 1513h11M3661 1428h11M3661 1245h11M3662 1347h11M3662 1463h11M3662 1297h11M3663 1283h11M3663 1440h11M3663 1529h11M3664 1170h11M3665 1630h11M3666 1301h11M3667 1581h11M3668 1323h11M3668 1554h11M3668 1298h11M3668 1239h11M3668 1336h11M3668 1641h11M3669 1342h11M3669 1195h11M3669 1451h11M3670 1245h11M3670 1338h11M3670 1631h11M3670 1247h11M3671 1502h11M3671 1197h11M3671 1203h11M3671 1369h11M3672 1449h11M3672 1360h11M3672 1376h11M3672 1458h11M3672 1312h11M3672 1255h11M3672 1285h11M3672 1508h11M3673 1593h11M3673 1545h11M3673 1172h11M3673 1339h11M3673 1352h11M3674 1536h11M3674 1353h11M3674 1327h11M3674 1430h11M3674 1501h11M3675 1292h11M3675 1347h11M3676 1325h11M3676 1552h11M3676 1445h11M3676 1495h11M3676 1318h11M3676 1315h11M3677 1391h11M3677 1472h11M3677 1408h11M3678 1186h11M3678 1493h11M3678 1433h11M3679 1595h11M3679 1245h11M3680 1355h11M3681 1336h11M3681 1233h11M3681 1639h11M3683 1576h11M3684 1507h11M3684 1468h11M3684 1371h11M3685 1290h11M3685 1179h11M3685 1276h11M3685 1600h11M3686 1606h11M3686 1342h11M3686 1484h11M3687 1272h11M3688 1340h11M3689 1485h11M3689 1440h11M3689 1513h11M3690 1326h11M3691 1546h11M3692 1326h11M3692 1323h11M3692 1164h11M3694 1416h11M3694 1557h11M3694 1399h11M3694 1305h11M3695 1582h11M3695 1491h11M3696 1416h11M3696 1614h11M3696 1241h11M3696 1282h11M3697 1393h11M3697 1202h11M3697 1191h11M3699 1438h11M3699 1525h11M3699 1389h11M3700 1526h11M3700 1335h11M3700 1531h11M3700 1211h11M3700 1228h11M3700 1542h11M3701 1558h11M3701 1200h11M3701 1335h11M3701 1528h11M3701 1550h11M3702 1316h11M3703 1410h11M3705 1586h11M3705 1469h11M3706 1604h11M3706 1392h11M3706 1504h11M3707 1396h11M3707 1186h11M3707 1283h11M3707 1601h11M3708 1349h11M3709 1582h11M3709 1373h11M3710 1607h11M3710 1432h11M3710 1445h11M3710 1423h11M3711 1367h11M3712 1481h11M3712 1463h11M3712 1574h11M3712 1387h11M3713 1332h11M3713 1600h11M3714 1622h11M3714 1445h11M3714 1436h11M3714 1504h11M3715 1197h11M3715 1329h11M3717 1316h11M3717 1628h11M3717 1496h11M3717 1508h11M3717 1587h11M3718 1187h11M3718 1322h11M3718 1290h11M3718 1299h11M3719 1548h11M3719 1246h11M3719 1354h11M3719 1261h11M3719 1291h11M3720 1334h11M3720 1609h11M3720 1244h11M3721 1234h11M3721 1516h11M3721 1526h11M3722 1247h11M3722 1452h11M3722 1229h11M3724 1241h11M3724 1320h11M3725 1309h11M3725 1502h11M3725 1479h11M3726 1354h11M3726 1172h11M3727 1280h11M3727 1407h11M3727 1466h11M3729 1220h11M3729 1234h11M3729 1537h11M3729 1483h11M3730 1341h11M3730 1396h11M3730 1362h11M3731 1322h11M3732 1149h11M3732 1347h11M3733 1325h11M3734 1435h11M3734 1473h11M3735 1215h11M3735 1316h11M3736 1310h11M3737 1428h11M3738 1639h11M3738 1321h11M3738 1362h11M3738 1445h11M3740 1333h11M3742 1433h11M3743 1446h11M3743 1228h11M3743 1319h11M3743 1274h11M3745 1320h11M3746 1530h11M3746 1552h11M3746 1516h11M3747 1298h11M3747 1212h11M3748 1500h11M3748 1198h11M3748 1634h11M3749 1292h11M3749 1391h11M3749 1266h11M3750 1506h11M3750 1332h11M3751 1486h11M3751 1230h11M3752 1203h11M3753 1443h11M3754 1404h11M3754 1184h11M3754 1304h11M3755 1504h11M3755 1308h11M3756 1364h11M3756 1511h11M3757 1528h11M3757 1226h11M3757 1557h11M3757 1210h11M3758 1502h11M3758 1400h11M3759 1232h11M3759 1438h11M3759 1329h11M3760 1519h11M3760 1532h11M3761 1425h11M3762 1328h11M3762 1297h11M3762 1573h11M3762 1302h11M3763 1406h11M3764 1212h11M3764 1340h11M3764 1448h11M3765 1440h11M3765 1365h11M3766 1391h11M3766 1435h11M3767 1228h11M3767 1442h11M3768 1479h11M3768 1426h11M3769 1437h11M3769 1372h11M3769 1404h11M3769 1354h11M3769 1330h11M3770 1292h11M3770 1310h11M3770 1196h11M3770 1521h11M3771 1246h11M3771 1461h11M3771 1296h11M3772 1369h11M3772 1425h11M3773 1628h11M3773 1440h11M3774 1402h11M3775 1232h11M3775 1424h11M3776 1283h11M3776 1490h11M3776 1569h11M3776 1245h11M3776 1339h11M3776 1236h11M3776 1429h11M3776 1401h11M3777 1412h11M3777 1409h11M3777 1317h11M3777 1369h11M3778 1430h11M3778 1457h11M3780 1267h11M3781 1322h11M3781 1487h11M3783 1230h11M3784 1235h11M3784 1520h11M3785 1414h11M3786 1424h11M3786 1263h11M3786 1346h11M3788 1356h11M3788 1248h11M3789 1375h11M3789 1245h11M3789 1481h11M3790 1515h11M3790 1655h11M3790 1232h11M3792 1422h11M3792 1360h11M3794 1307h11M3795 1258h11M3795 1460h11M3795 1379h11M3796 1451h11M3796 1603h11M3796 1203h11M3797 1194h11M3797 1344h11M3798 1360h11M3798 1468h11M3799 1413h11M3800 1343h11M3800 1516h11M3801 1336h11M3803 1282h11M3803 1298h11M3806 1156h11M3806 1311h11M3806 1434h11M3806 1328h11M3807 1612h11M3807 1297h11M3807 1455h11M3807 1450h11M3807 1160h11M3808 1514h11M3808 1349h11M3808 1345h11M3808 1553h11M3809 1405h11M3809 1354h11M3809 1237h11M3810 1546h11M3811 1503h11M3811 1435h11M3812 1194h11M3812 1382h11M3814 1238h11M3814 1221h11M3814 1428h11M3814 1412h11M3815 1562h11M3815 1325h11M3815 1592h11M3816 1255h11M3816 1351h11M3817 1253h11M3817 1347h11M3818 1267h11M3818 1329h11M3818 1376h11M3818 1390h11M3818 1375h11M3820 1184h11M3821 1302h11M3821 1650h11M3821 1426h11M3821 1240h11M3821 1602h11M3822 1477h11M3823 1524h11M3824 1393h11M3824 1428h11M3824 1282h11M3825 1222h11M3825 1255h11M3826 1451h11M3827 1347h11M3827 1313h11M3828 1307h11M3829 1538h11M3830 1217h11M3830 1359h11M3831 1471h11M3831 1441h11M3832 1429h11M3832 1250h11M3832 1456h11M3833 1296h11M3834 1494h11M3834 1352h11M3835 1472h11M3835 1367h11M3835 1329h11M3836 1250h11M3836 1516h11M3836 1514h11M3837 1207h11M3838 1342h11M3838 1276h11M3838 1233h11M3839 1395h11M3840 1288h11M3842 1266h11M3842 1418h11M3843 1459h11M3844 1367h11M3844 1418h11M3844 1420h11M3846 1561h11M3846 1464h11M3847 1374h11M3849 1558h11M3850 1463h11M3850 1322h11M3850 1365h11M3851 1519h11M3852 1360h11M3853 1448h11M3856 1427h11M3857 1417h11M3858 1429h11M3858 1325h11M3858 1531h11M3858 1247h11M3858 1293h11M3859 1276h11M3861 1437h11M3861 1446h11M3862 1398h11M3862 1245h11M3862 1308h11M3862 1443h11M3864 1398h11M3865 1385h11M3865 1446h11M3866 1179h11M3867 1422h11M3867 1243h11M3867 1278h11M3869 1368h11M3869 1266h11M3872 1207h11M3873 1341h11M3873 1340h11M3874 1203h11M3874 1407h11M3876 1264h11M3876 1482h11M3876 1310h11M3878 1451h11M3879 1597h11M3880 1304h11M3880 1383h11M3880 1288h11M3884 1305h11M3884 1331h11M3887 1381h11M3889 1354h11M3890 1214h11M3891 1402h11M3893 1377h11M3893 1314h11M3895 1314h11M3895 1225h11M3896 1208h11M3897 1203h11M3898 1559h11M3898 1428h11M3900 1467h11M3901 1368h11M3901 1443h11M3902 1247h11M3904 1415h11M3904 1433h11M3905 1221h11M3906 1414h11M3906 1357h11M3906 1229h11M3907 1428h11M3908 1242h11M3909 1436h11M3909 1339h11M3909 1179h11M3910 1241h11M3910 1296h11M3910 1384h11M3911 1397h11M3912 1173h11M3913 1373h11M3916 1381h11M3916 1340h11M3917 1399h11M3918 1188h11M3919 1295h11M3920 1200h11M3920 1351h11M3922 1308h11M3923 1327h11M3924 1287h11M3928 1283h11M3931 1286h11M3931 1210h11M3932 1210h11M3932 1342h11M3933 1479h11M3940 1345h11M3940 1227h11M3941 1390h11M3942 1205h11M3947 1411h11M3947 1333h11M3949 1424h11M3949 1444h11M3951 1470h11M3951 1528h11M3953 1335h11M3956 1459h11M3959 1438h11M3961 1305h11M3962 1302h11M3964 1341h11M3972 1202h11M3974 1200h11M3975 1361h11M3977 1354h11M3978 1456h11M3984 1320h11M3987 1419h11M3999 1403h11M4006 1436h11M4011 1237h11M4017 1264h11M4024 1409h11M4025 1421h11M4032 1379h11M4036 1295h11M4040 1450h11M4045 1287h11M4049 1342h11M4060 1211h11M4068 1367h11M4104 1452h11" stroke="#000" stroke-opacity="0.36" stroke-width="11" fill="none" transform="scale(.1)"/>
<path d="M3381 1444h11M3384 1384h11M3385 1409h11M3387 1393h11M3395 1525h11M3397 1621h11M3400 1357h11M3404 1206h11M3405 1335h11M3407 1618h11M3407 1577h11M3410 1525h11M3411 1218h11M3422 1433h11M3422 1443h11M3422 1435h11M3423 1391h11M3424 1326h11M3424 1317h11M3425 1610h11M3427 1417h11M3429 1518h11M3430 1452h11M3432 1305h11M3434 1319h11M3436 1569h11M3436 1547h11M3436 1423h11M3436 1429h11M3442 1502h11M3443 1609h11M3443 1338h11M3445 1614h11M3445 1263h11M3445 1308h11M3447 1297h11M3451 1386h11M3451 1496h11M3451 1437h11M3452 1299h11M3453 1494h11M3453 1228h11M3454 1344h11M3454 1523h11M3455 1478h11M3456 1350h11M3457 1318h11M3457 1482h11M3458 1509h11M3459 1365h11M3460 1284h11M3462 1436h11M3462 1241h11M3462 1248h11M3463 1415h11M3464 1341h11M3466 1409h11M3467 1564h11M3468 1568h11M3468 1383h11M3469 1476h11M3471 1237h11M3471 1636h11M3471 1491h11M3471 1335h11M3472 1517h11M3473 1548h11M3475 1419h11M3475 1641h11M3475 1301h11M3477 1398h11M3478 1549h11M3478 1427h11M3479 1642h11M3479 1439h11M3479 1313h11M3480 1357h11M3481 1387h11M3481 1269h11M3482 1382h11M3485 1321h11M3486 1383h11M3486 1409h11M3486 1516h11M3487 1306h11M3487 1361h11M3487 1268h11M3488 1401h11M3488 1202h11M3490 1265h11M3491 1362h11M3491 1207h11M3491 1312h11M3492 1478h11M3492 1321h11M3493 1536h11M3494 1533h11M3496 1591h11M3496 1164h11M3497 1430h11M3498 1422h11M3498 1454h11M3499 1477h11M3499 1296h11M3499 1485h11M3499 1426h11M3499 1259h11M3500 1441h11M3501 1212h11M3501 1433h11M3501 1527h11M3501 1233h11M3502 1429h11M3502 1581h11M3502 1540h11M3503 1461h11M3504 1337h11M3504 1169h11M3504 1290h11M3505 1454h11M3505 1575h11M3505 1235h11M3505 1617h11M3505 1555h11M3505 1451h11M3505 1263h11M3505 1536h11M3505 1229h11M3505 1349h11M3506 1246h11M3506 1433h11M3507 1337h11M3507 1321h11M3508 1300h11M3508 1643h11M3508 1378h11M3509 1523h11M3509 1331h11M3509 1528h11M3509 1463h11M3509 1215h11M3510 1396h11M3510 1512h11M3511 1632h11M3511 1327h11M3511 1323h11M3511 1387h11M3511 1196h11M3512 1433h11M3512 1450h11M3512 1235h11M3513 1445h11M3514 1533h11M3514 1337h11M3514 1444h11M3515 1332h11M3515 1362h11M3515 1288h11M3515 1195h11M3516 1375h11M3516 1311h11M3517 1407h11M3517 1437h11M3518 1307h11M3518 1538h11M3518 1352h11M3518 1507h11M3519 1411h11M3519 1583h11M3519 1543h11M3520 1282h11M3520 1471h11M3520 1517h11M3520 1204h11M3521 1223h11M3521 1498h11M3521 1482h11M3522 1282h11M3523 1620h11M3524 1370h11M3524 1457h11M3524 1172h11M3525 1566h11M3526 1179h11M3526 1445h11M3526 1495h11M3526 1488h11M3526 1315h11M3527 1502h11M3527 1613h11M3527 1577h11M3527 1582h11M3528 1253h11M3528 1396h11M3528 1537h11M3529 1241h11M3529 1370h11M3529 1214h11M3529 1492h11M3529 1204h11M3530 1422h11M3530 1576h11M3530 1281h11M3531 1511h11M3531 1422h11M3531 1382h11M3532 1202h11M3532 1471h11M3533 1224h11M3533 1485h11M3533 1499h11M3533 1327h11M3534 1625h11M3535 1404h11M3536 1303h11M3537 1555h11M3537 1221h11M3537 1200h11M3537 1242h11M3537 1292h11M3538 1322h11M3538 1338h11M3538 1430h11M3539 1356h11M3539 1475h11M3540 1420h11M3540 1302h11M3540 1438h11M3540 1537h11M3540 1358h11M3540 1616h11M3540 1603h11M3540 1412h11M3541 1230h11M3541 1554h11M3541 1509h11M3541 1619h11M3541 1640h11M3542 1467h11M3542 1525h11M3542 1397h11M3542 1588h11M3542 1434h11M3543 1561h11M3543 1420h11M3543 1429h11M3544 1510h11M3544 1577h11M3544 1383h11M3545 1626h11M3545 1368h11M3545 1182h11M3545 1286h11M3546 1552h11M3546 1386h11M3546 1534h11M3546 1415h11M3546 1577h11M3546 1386h11M3547 1572h11M3547 1350h11M3548 1301h11M3548 1547h11M3548 1267h11M3549 1281h11M3549 1364h11M3549 1339h11M3549 1559h11M3550 1389h11M3550 1533h11M3550 1331h11M3551 1472h11M3552 1418h11M3552 1243h11M3552 1236h11M3553 1635h11M3553 1495h11M3553 1528h11M3553 1238h11M3554 1266h11M3554 1672h11M3555 1568h11M3555 1378h11M3555 1443h11M3556 1233h11M3556 1636h11M3557 1415h11M3557 1534h11M3557 1595h11M3557 1408h11M3557 1327h11M3558 1392h11M3558 1405h11M3558 1444h11M3559 1247h11M3559 1563h11M3560 1565h11M3560 1278h11M3560 1321h11M3560 1387h11M3561 1248h11M3561 1281h11M3561 1345h11M3561 1543h11M3561 1553h11M3561 1435h11M3561 1516h11M3562 1399h11M3562 1392h11M3562 1529h11M3562 1402h11M3562 1491h11M3562 1189h11M3563 1518h11M3563 1414h11M3564 1232h11M3564 1511h11M3564 1221h11M3566 1275h11M3566 1531h11M3566 1491h11M3566 1379h11M3566 1568h11M3567 1421h11M3567 1510h11M3567 1532h11M3567 1600h11M3567 1252h11M3567 1356h11M3568 1411h11M3568 1406h11M3568 1345h11M3568 1375h11M3568 1249h11M3569 1530h11M3569 1442h11M3569 1424h11M3569 1159h11M3570 1496h11M3571 1263h11M3571 1618h11M3572 1603h11M3572 1387h11M3572 1562h11M3573 1592h11M3573 1417h11M3573 1555h11M3573 1215h11M3574 1383h11M3574 1630h11M3574 1666h11M3574 1466h11M3574 1388h11M3574 1397h11M3575 1526h11M3575 1327h11M3575 1193h11M3576 1489h11M3577 1453h11M3577 1414h11M3577 1434h11M3578 1482h11M3578 1313h11M3578 1350h11M3578 1416h11M3579 1655h11M3579 1392h11M3579 1558h11M3579 1516h11M3580 1686h11M3580 1352h11M3580 1697h11M3580 1249h11M3580 1546h11M3581 1340h11M3581 1457h11M3581 1589h11M3582 1638h11M3583 1381h11M3583 1564h11M3583 1258h11M3584 1549h11M3584 1327h11M3584 1423h11M3584 1378h11M3584 1345h11M3584 1441h11M3584 1242h11M3585 1233h11M3585 1263h11M3585 1482h11M3585 1322h11M3586 1330h11M3586 1216h11M3587 1537h11M3587 1289h11M3588 1497h11M3588 1471h11M3588 1409h11M3589 1171h11M3589 1375h11M3589 1246h11M3589 1384h11M3589 1520h11M3589 1527h11M3589 1463h11M3590 1202h11M3590 1405h11M3590 1255h11M3591 1578h11M3591 1319h11M3591 1598h11M3591 1222h11M3591 1244h11M3591 1201h11M3592 1602h11M3593 1414h11M3593 1390h11M3593 1518h11M3593 1407h11M3593 1422h11M3594 1603h11M3594 1242h11M3594 1310h11M3594 1247h11M3594 1594h11M3594 1428h11M3595 1568h11M3595 1417h11M3595 1257h11M3595 1460h11M3595 1323h11M3596 1416h11M3596 1606h11M3596 1433h11M3597 1521h11M3597 1537h11M3597 1221h11M3598 1556h11M3598 1526h11M3598 1533h11M3598 1419h11M3598 1340h11M3598 1379h11M3598 1535h11M3599 1512h11M3599 1421h11M3599 1176h11M3599 1310h11M3600 1612h11M3600 1501h11M3600 1307h11M3600 1386h11M3601 1600h11M3601 1485h11M3602 1333h11M3602 1613h11M3603 1514h11M3603 1392h11M3603 1251h11M3603 1380h11M3603 1293h11M3603 1332h11M3603 1487h11M3603 1353h11M3603 1309h11M3604 1508h11M3604 1490h11M3604 1368h11M3605 1370h11M3605 1494h11M3605 1251h11M3606 1431h11M3606 1306h11M3606 1451h11M3606 1527h11M3606 1319h11M3606 1258h11M3607 1262h11M3607 1208h11M3607 1409h11M3608 1451h11M3608 1487h11M3608 1306h11M3608 1342h11M3608 1302h11M3609 1322h11M3609 1586h11M3609 1385h11M3610 1566h11M3610 1468h11M3611 1437h11M3611 1338h11M3611 1463h11M3611 1535h11M3611 1521h11M3612 1165h11M3612 1594h11M3613 1405h11M3613 1462h11M3613 1711h11M3613 1483h11M3613 1205h11M3614 1343h11M3614 1574h11M3614 1404h11M3614 1269h11M3614 1612h11M3615 1469h11M3615 1523h11M3615 1492h11M3615 1415h11M3615 1372h11M3615 1543h11M3615 1411h11M3616 1304h11M3616 1244h11M3616 1322h11M3616 1433h11M3616 1286h11M3616 1406h11M3616 1490h11M3616 1630h11M3617 1322h11M3617 1606h11M3618 1514h11M3618 1266h11M3618 1455h11M3618 1539h11M3619 1401h11M3619 1505h11M3619 1610h11M3619 1517h11M3619 1348h11M3619 1536h11M3619 1369h11M3619 1477h11M3620 1343h11M3620 1357h11M3620 1524h11M3621 1390h11M3622 1401h11M3622 1301h11M3622 1519h11M3622 1510h11M3622 1304h11M3623 1260h11M3623 1177h11M3623 1432h11M3623 1471h11M3623 1593h11M3624 1675h11M3624 1419h11M3624 1276h11M3624 1231h11M3624 1528h11M3625 1648h11M3625 1480h11M3626 1401h11M3626 1371h11M3627 1390h11M3627 1321h11M3627 1339h11M3627 1561h11M3627 1523h11M3627 1489h11M3628 1515h11M3628 1232h11M3629 1550h11M3629 1199h11M3629 1278h11M3629 1370h11M3630 1443h11M3630 1524h11M3630 1582h11M3630 1600h11M3630 1294h11M3631 1536h11M3631 1263h11M3631 1420h11M3632 1599h11M3632 1262h11M3632 1437h11M3632 1351h11M3632 1444h11M3632 1505h11M3632 1497h11M3633 1524h11M3633 1293h11M3633 1376h11M3633 1539h11M3633 1624h11M3633 1321h11M3634 1418h11M3634 1453h11M3635 1432h11M3635 1435h11M3635 1413h11M3635 1343h11M3635 1384h11M3635 1284h11M3636 1603h11M3636 1275h11M3636 1520h11M3637 1331h11M3638 1605h11M3638 1545h11M3638 1293h11M3638 1321h11M3639 1311h11M3639 1456h11M3639 1407h11M3640 1325h11M3640 1625h11M3640 1520h11M3640 1480h11M3641 1390h11M3642 1225h11M3642 1534h11M3643 1359h11M3643 1419h11M3643 1664h11M3644 1542h11M3644 1488h11M3645 1556h11M3645 1516h11M3645 1512h11M3645 1411h11M3645 1273h11M3646 1496h11M3646 1408h11M3646 1401h11M3647 1424h11M3647 1421h11M3647 1507h11M3647 1418h11M3647 1371h11M3647 1568h11M3649 1285h11M3649 1436h11M3649 1264h11M3649 1362h11M3649 1267h11M3649 1396h11M3649 1328h11M3650 1554h11M3650 1337h11M3650 1412h11M3651 1578h11M3651 1529h11M3653 1301h11M3653 1179h11M3653 1329h11M3654 1408h11M3655 1328h11M3656 1335h11M3656 1590h11M3657 1365h11M3657 1236h11M3658 1654h11M3658 1271h11M3658 1200h11M3658 1195h11M3659 1532h11M3660 1350h11M3660 1198h11M3661 1606h11M3664 1428h11M3664 1398h11M3664 1354h11M3664 1325h11M3665 1270h11M3665 1553h11M3666 1472h11M3666 1371h11M3666 1263h11M3667 1593h11M3667 1217h11M3667 1329h11M3667 1456h11M3668 1526h11M3668 1327h11M3668 1204h11M3668 1486h11M3668 1462h11M3669 1388h11M3669 1428h11M3669 1321h11M3670 1250h11M3671 1325h11M3672 1511h11M3672 1296h11M3673 1434h11M3673 1379h11M3673 1348h11M3674 1229h11M3674 1385h11M3674 1217h11M3674 1342h11M3675 1397h11M3676 1374h11M3676 1322h11M3677 1187h11M3677 1435h11M3678 1515h11M3679 1404h11M3679 1179h11M3679 1281h11M3679 1339h11M3679 1402h11M3680 1293h11M3680 1215h11M3683 1511h11M3684 1263h11M3685 1528h11M3685 1193h11M3685 1282h11M3686 1402h11M3686 1298h11M3686 1424h11M3687 1476h11M3688 1415h11M3688 1594h11M3688 1230h11M3689 1404h11M3689 1235h11M3690 1565h11M3691 1405h11M3691 1229h11M3691 1355h11M3691 1379h11M3692 1449h11M3692 1443h11M3692 1338h11M3692 1614h11M3692 1398h11M3693 1419h11M3693 1467h11M3693 1194h11M3693 1483h11M3694 1485h11M3694 1616h11M3694 1462h11M3695 1447h11M3695 1314h11M3697 1435h11M3698 1249h11M3698 1428h11M3698 1467h11M3699 1435h11M3700 1207h11M3700 1598h11M3701 1455h11M3701 1331h11M3701 1365h11M3702 1593h11M3703 1567h11M3703 1428h11M3703 1581h11M3703 1293h11M3703 1329h11M3704 1521h11M3704 1350h11M3704 1540h11M3704 1293h11M3704 1316h11M3705 1561h11M3705 1438h11M3707 1313h11M3707 1232h11M3707 1621h11M3708 1500h11M3709 1408h11M3710 1596h11M3710 1631h11M3710 1360h11M3711 1487h11M3711 1600h11M3711 1214h11M3712 1297h11M3712 1421h11M3713 1304h11M3713 1242h11M3713 1509h11M3713 1329h11M3714 1363h11M3715 1418h11M3715 1264h11M3715 1423h11M3716 1275h11M3717 1439h11M3717 1533h11M3717 1360h11M3717 1474h11M3718 1641h11M3718 1343h11M3719 1389h11M3720 1400h11M3720 1397h11M3720 1348h11M3720 1409h11M3720 1599h11M3721 1344h11M3721 1352h11M3722 1534h11M3722 1268h11M3723 1412h11M3724 1505h11M3724 1415h11M3724 1388h11M3724 1403h11M3725 1394h11M3726 1417h11M3726 1220h11M3726 1445h11M3727 1441h11M3728 1369h11M3728 1363h11M3728 1384h11M3729 1517h11M3729 1409h11M3729 1470h11M3730 1309h11M3730 1528h11M3731 1407h11M3731 1384h11M3731 1190h11M3732 1514h11M3732 1417h11M3732 1380h11M3732 1495h11M3732 1302h11M3733 1318h11M3733 1214h11M3733 1354h11M3733 1405h11M3735 1474h11M3735 1487h11M3735 1182h11M3736 1378h11M3736 1332h11M3736 1425h11M3738 1384h11M3738 1397h11M3738 1427h11M3739 1541h11M3739 1339h11M3739 1427h11M3740 1363h11M3740 1323h11M3740 1513h11M3740 1519h11M3740 1441h11M3741 1427h11M3741 1284h11M3741 1375h11M3741 1412h11M3742 1203h11M3742 1526h11M3742 1411h11M3742 1492h11M3744 1571h11M3744 1374h11M3744 1541h11M3745 1456h11M3746 1292h11M3747 1450h11M3747 1471h11M3748 1199h11M3748 1345h11M3748 1303h11M3748 1494h11M3748 1530h11M3749 1327h11M3749 1419h11M3750 1512h11M3752 1384h11M3752 1320h11M3752 1313h11M3752 1521h11M3753 1316h11M3753 1536h11M3754 1461h11M3754 1544h11M3755 1407h11M3755 1410h11M3756 1613h11M3756 1426h11M3757 1610h11M3758 1408h11M3758 1410h11M3758 1274h11M3758 1328h11M3758 1563h11M3758 1349h11M3759 1298h11M3760 1441h11M3760 1369h11M3760 1291h11M3761 1546h11M3761 1233h11M3761 1350h11M3762 1387h11M3762 1409h11M3762 1209h11M3763 1237h11M3763 1223h11M3763 1345h11M3763 1512h11M3763 1552h11M3764 1418h11M3764 1333h11M3764 1543h11M3765 1490h11M3765 1328h11M3765 1275h11M3766 1360h11M3766 1398h11M3766 1441h11M3766 1255h11M3766 1469h11M3766 1219h11M3768 1450h11M3768 1307h11M3768 1213h11M3768 1616h11M3768 1520h11M3769 1275h11M3769 1446h11M3769 1397h11M3769 1219h11M3771 1621h11M3771 1468h11M3771 1200h11M3771 1291h11M3773 1556h11M3773 1485h11M3774 1397h11M3775 1404h11M3775 1293h11M3775 1398h11M3777 1421h11M3777 1419h11M3777 1212h11M3778 1487h11M3778 1290h11M3780 1386h11M3780 1197h11M3781 1516h11M3781 1337h11M3781 1236h11M3781 1315h11M3782 1185h11M3782 1454h11M3782 1446h11M3783 1307h11M3783 1366h11M3783 1406h11M3783 1237h11M3783 1302h11M3784 1481h11M3784 1184h11M3786 1274h11M3786 1459h11M3787 1618h11M3787 1427h11M3787 1472h11M3788 1656h11M3788 1227h11M3788 1256h11M3789 1514h11M3790 1192h11M3790 1367h11M3790 1413h11M3790 1316h11M3791 1406h11M3792 1274h11M3792 1346h11M3793 1319h11M3794 1626h11M3794 1318h11M3794 1377h11M3794 1478h11M3794 1535h11M3794 1367h11M3796 1355h11M3796 1441h11M3796 1329h11M3796 1344h11M3796 1446h11M3797 1304h11M3799 1396h11M3799 1349h11M3800 1574h11M3800 1350h11M3801 1165h11M3801 1491h11M3801 1525h11M3801 1464h11M3802 1396h11M3803 1355h11M3803 1505h11M3803 1305h11M3803 1382h11M3804 1472h11M3804 1542h11M3805 1416h11M3805 1392h11M3806 1201h11M3806 1336h11M3806 1314h11M3807 1512h11M3807 1351h11M3809 1319h11M3809 1226h11M3809 1286h11M3809 1392h11M3810 1301h11M3813 1444h11M3813 1346h11M3813 1409h11M3813 1246h11M3815 1334h11M3815 1195h11M3815 1335h11M3815 1441h11M3816 1217h11M3816 1239h11M3817 1187h11M3817 1286h11M3818 1429h11M3819 1380h11M3820 1303h11M3820 1385h11M3820 1303h11M3820 1335h11M3821 1509h11M3821 1527h11M3821 1396h11M3822 1317h11M3822 1382h11M3822 1339h11M3823 1201h11M3823 1495h11M3823 1331h11M3823 1275h11M3824 1225h11M3824 1524h11M3824 1226h11M3824 1499h11M3825 1366h11M3826 1427h11M3828 1517h11M3828 1326h11M3828 1450h11M3829 1546h11M3829 1367h11M3830 1492h11M3830 1382h11M3830 1319h11M3831 1349h11M3831 1503h11M3832 1442h11M3835 1332h11M3835 1276h11M3835 1406h11M3836 1396h11M3836 1202h11M3836 1357h11M3838 1383h11M3838 1236h11M3839 1230h11M3841 1459h11M3842 1431h11M3842 1349h11M3842 1329h11M3843 1431h11M3843 1389h11M3844 1248h11M3845 1203h11M3845 1374h11M3845 1246h11M3845 1242h11M3847 1238h11M3847 1427h11M3848 1360h11M3848 1294h11M3849 1447h11M3849 1403h11M3849 1268h11M3849 1260h11M3850 1382h11M3851 1238h11M3853 1199h11M3853 1400h11M3854 1293h11M3854 1423h11M3854 1525h11M3855 1466h11M3856 1241h11M3857 1420h11M3857 1222h11M3857 1361h11M3858 1212h11M3858 1434h11M3858 1406h11M3858 1358h11M3858 1539h11M3859 1356h11M3859 1331h11M3859 1173h11M3859 1309h11M3859 1319h11M3860 1294h11M3860 1554h11M3860 1523h11M3861 1286h11M3861 1562h11M3862 1377h11M3862 1380h11M3862 1487h11M3862 1212h11M3863 1343h11M3863 1360h11M3864 1297h11M3864 1387h11M3864 1347h11M3865 1534h11M3865 1220h11M3865 1429h11M3867 1262h11M3868 1460h11M3868 1444h11M3869 1264h11M3869 1550h11M3869 1282h11M3870 1461h11M3871 1438h11M3872 1238h11M3873 1334h11M3874 1400h11M3875 1315h11M3876 1323h11M3877 1222h11M3878 1220h11M3878 1278h11M3879 1367h11M3879 1431h11M3879 1237h11M3879 1331h11M3880 1395h11M3882 1368h11M3882 1362h11M3884 1447h11M3884 1282h11M3885 1436h11M3887 1425h11M3887 1165h11M3888 1363h11M3888 1505h11M3888 1377h11M3889 1418h11M3890 1336h11M3890 1382h11M3891 1409h11M3892 1255h11M3893 1522h11M3893 1180h11M3896 1259h11M3896 1362h11M3897 1274h11M3897 1453h11M3898 1209h11M3899 1271h11M3902 1478h11M3903 1203h11M3904 1399h11M3905 1388h11M3905 1271h11M3906 1436h11M3908 1618h11M3909 1352h11M3909 1458h11M3910 1327h11M3910 1384h11M3911 1409h11M3913 1301h11M3913 1161h11M3914 1188h11M3916 1304h11M3917 1362h11M3917 1357h11M3918 1295h11M3918 1545h11M3918 1359h11M3918 1226h11M3919 1298h11M3919 1264h11M3919 1487h11M3922 1372h11M3924 1239h11M3924 1430h11M3927 1253h11M3928 1262h11M3929 1296h11M3931 1384h11M3933 1396h11M3934 1426h11M3934 1551h11M3935 1405h11M3935 1402h11M3936 1255h11M3937 1304h11M3937 1447h11M3938 1367h11M3942 1249h11M3942 1182h11M3948 1149h11M3949 1415h11M3952 1425h11M3953 1348h11M3953 1220h11M3953 1412h11M3955 1388h11M3956 1434h11M3960 1346h11M3962 1358h11M3966 1442h11M3967 1257h11M3973 1396h11M3978 1436h11M3979 1418h11M3981 1354h11M3984 1378h11M3986 1461h11M3987 1243h11M3988 1234h11M3989 1342h11M3995 1232h11M3996 1250h11M4000 1237h11M4003 1195h11M4006 1260h11M4022 1214h11M4022 1385h11M4029 1458h11M4030 1420h11M4034 1336h11M4044 1279h11M4057 1172h11M4063 1401h11M4065 1348h11M4078 1227h11M4100 1308h11" stroke="#000" stroke-opacity="0.36" stroke-width="11" fill="none" transform="scale(.1)"/>
<path d="M3287 1475h11M3345 1333h11M3349 1397h11M3353 1202h11M3367 1427h11M3373 1507h11M3382 1246h11M3383 1408h11M3391 1400h11M3396 1227h11M3398 1311h11M3399 1369h11M3400 1536h11M3401 1323h11M3401 1316h11M3407 1434h11M3415 1396h11M3416 1436h11M3417 1345h11M3419 1223h11M3421 1208h11M3423 1488h11M3425 1333h11M3425 1299h11M3428 1378h11M3428 1201h11M3431 1175h11M3432 1266h11M3432 1286h11M3433 1306h11M3434 1490h11M3436 1496h11M3436 1489h11M3438 1296h11M3442 1371h11M3443 1411h11M3443 1272h11M3445 1624h11M3446 1441h11M3446 1403h11M3447 1255h11M3447 1614h11M3447 1416h11M3449 1217h11M3453 1593h11M3454 1313h11M3456 1461h11M3456 1535h11M3457 1268h11M3457 1249h11M3458 1298h11M3458 1322h11M3460 1243h11M3462 1172h11M3463 1510h11M3465 1311h11M3465 1380h11M3466 1413h11M3467 1570h11M3467 1311h11M3468 1285h11M3468 1592h11M3469 1569h11M3469 1272h11M3471 1427h11M3472 1629h11M3472 1659h11M3473 1367h11M3473 1447h11M3473 1502h11M3473 1575h11M3474 1397h11M3474 1430h11M3476 1384h11M3477 1337h11M3477 1430h11M3478 1334h11M3479 1449h11M3479 1531h11M3480 1396h11M3480 1406h11M3481 1197h11M3481 1262h11M3482 1540h11M3483 1205h11M3484 1443h11M3484 1291h11M3485 1397h11M3485 1561h11M3485 1404h11M3486 1187h11M3486 1536h11M3486 1283h11M3487 1336h11M3487 1295h11M3488 1167h11M3490 1598h11M3490 1502h11M3490 1330h11M3490 1456h11M3491 1318h11M3491 1451h11M3491 1395h11M3491 1212h11M3492 1278h11M3492 1618h11M3493 1542h11M3493 1383h11M3494 1293h11M3495 1313h11M3495 1460h11M3497 1675h11M3497 1257h11M3497 1237h11M3497 1258h11M3499 1619h11M3499 1252h11M3499 1381h11M3500 1397h11M3500 1483h11M3501 1229h11M3501 1559h11M3502 1190h11M3502 1616h11M3503 1471h11M3503 1419h11M3503 1298h11M3504 1549h11M3504 1400h11M3505 1485h11M3505 1328h11M3505 1525h11M3506 1429h11M3506 1256h11M3506 1529h11M3507 1410h11M3507 1271h11M3507 1270h11M3508 1389h11M3508 1571h11M3509 1581h11M3509 1466h11M3509 1534h11M3510 1392h11M3511 1336h11M3511 1524h11M3511 1498h11M3513 1470h11M3513 1316h11M3513 1425h11M3514 1575h11M3514 1246h11M3514 1334h11M3514 1435h11M3514 1348h11M3515 1296h11M3515 1326h11M3516 1434h11M3517 1525h11M3517 1645h11M3519 1521h11M3519 1309h11M3521 1573h11M3521 1461h11M3521 1286h11M3521 1471h11M3522 1519h11M3522 1308h11M3522 1275h11M3523 1319h11M3523 1537h11M3523 1260h11M3523 1539h11M3523 1359h11M3524 1609h11M3524 1505h11M3524 1223h11M3524 1524h11M3524 1266h11M3525 1447h11M3525 1603h11M3525 1408h11M3526 1178h11M3526 1398h11M3527 1278h11M3527 1306h11M3527 1318h11M3527 1333h11M3527 1371h11M3527 1385h11M3527 1328h11M3527 1318h11M3527 1332h11M3528 1407h11M3528 1435h11M3529 1442h11M3530 1659h11M3530 1592h11M3530 1307h11M3531 1228h11M3531 1319h11M3531 1457h11M3531 1168h11M3532 1406h11M3533 1602h11M3533 1422h11M3533 1285h11M3533 1590h11M3534 1311h11M3534 1218h11M3534 1243h11M3534 1231h11M3534 1457h11M3535 1529h11M3535 1602h11M3536 1234h11M3536 1322h11M3536 1301h11M3536 1495h11M3537 1506h11M3537 1223h11M3537 1477h11M3537 1486h11M3537 1592h11M3538 1355h11M3538 1252h11M3538 1339h11M3538 1207h11M3538 1271h11M3539 1449h11M3539 1370h11M3539 1599h11M3539 1463h11M3539 1346h11M3540 1446h11M3540 1412h11M3541 1612h11M3541 1532h11M3542 1335h11M3542 1191h11M3542 1369h11M3542 1609h11M3543 1308h11M3543 1382h11M3543 1381h11M3543 1552h11M3543 1556h11M3543 1494h11M3544 1625h11M3544 1506h11M3544 1234h11M3544 1364h11M3545 1498h11M3545 1315h11M3546 1380h11M3546 1541h11M3546 1534h11M3546 1398h11M3547 1596h11M3547 1519h11M3547 1471h11M3548 1316h11M3549 1231h11M3550 1268h11M3550 1325h11M3550 1593h11M3550 1504h11M3550 1461h11M3551 1207h11M3551 1512h11M3551 1429h11M3551 1179h11M3551 1490h11M3551 1612h11M3551 1504h11M3551 1313h11M3552 1563h11M3552 1315h11M3552 1423h11M3553 1457h11M3553 1572h11M3553 1626h11M3553 1236h11M3553 1535h11M3553 1603h11M3553 1482h11M3554 1443h11M3554 1347h11M3554 1537h11M3554 1605h11M3554 1418h11M3554 1352h11M3555 1518h11M3555 1402h11M3555 1410h11M3555 1379h11M3556 1383h11M3556 1596h11M3556 1588h11M3556 1511h11M3556 1426h11M3557 1425h11M3557 1238h11M3558 1527h11M3558 1491h11M3558 1403h11M3558 1536h11M3559 1338h11M3559 1398h11M3559 1335h11M3559 1314h11M3559 1241h11M3560 1462h11M3561 1424h11M3561 1414h11M3562 1391h11M3562 1284h11M3563 1336h11M3563 1626h11M3563 1407h11M3563 1607h11M3563 1408h11M3563 1298h11M3563 1310h11M3564 1308h11M3564 1242h11M3564 1253h11M3564 1448h11M3564 1532h11M3564 1558h11M3565 1335h11M3565 1239h11M3565 1570h11M3565 1495h11M3565 1339h11M3566 1541h11M3566 1428h11M3567 1527h11M3568 1328h11M3568 1248h11M3568 1304h11M3568 1466h11M3568 1633h11M3569 1159h11M3569 1547h11M3569 1628h11M3569 1236h11M3569 1419h11M3569 1504h11M3569 1435h11M3569 1499h11M3570 1481h11M3570 1594h11M3570 1494h11M3570 1352h11M3571 1527h11M3571 1283h11M3571 1365h11M3571 1294h11M3572 1498h11M3572 1212h11M3572 1206h11M3572 1488h11M3572 1316h11M3572 1510h11M3573 1560h11M3573 1527h11M3573 1589h11M3574 1411h11M3574 1314h11M3575 1636h11M3575 1356h11M3576 1303h11M3576 1329h11M3577 1444h11M3577 1418h11M3577 1234h11M3577 1623h11M3578 1552h11M3578 1572h11M3578 1531h11M3578 1215h11M3578 1648h11M3578 1398h11M3578 1518h11M3578 1350h11M3579 1303h11M3579 1229h11M3580 1305h11M3580 1517h11M3580 1519h11M3580 1429h11M3580 1420h11M3580 1393h11M3581 1466h11M3581 1512h11M3581 1315h11M3582 1312h11M3582 1457h11M3583 1351h11M3583 1332h11M3583 1275h11M3583 1592h11M3583 1329h11M3584 1341h11M3584 1210h11M3584 1387h11M3585 1539h11M3585 1490h11M3585 1308h11M3585 1514h11M3585 1393h11M3586 1419h11M3586 1641h11M3586 1356h11M3586 1541h11M3586 1267h11M3586 1622h11M3586 1454h11M3587 1500h11M3587 1412h11M3587 1597h11M3587 1450h11M3587 1498h11M3587 1546h11M3588 1450h11M3588 1233h11M3588 1466h11M3588 1524h11M3588 1469h11M3588 1582h11M3588 1396h11M3589 1407h11M3589 1405h11M3589 1380h11M3590 1508h11M3590 1628h11M3590 1443h11M3590 1493h11M3590 1452h11M3590 1594h11M3590 1323h11M3592 1366h11M3592 1629h11M3593 1459h11M3593 1672h11M3593 1311h11M3593 1201h11M3594 1234h11M3594 1312h11M3594 1361h11M3594 1361h11M3594 1648h11M3594 1460h11M3594 1420h11M3595 1313h11M3595 1210h11M3595 1208h11M3595 1306h11M3595 1510h11M3596 1532h11M3596 1584h11M3597 1212h11M3597 1469h11M3597 1357h11M3597 1391h11M3598 1314h11M3598 1376h11M3598 1337h11M3598 1337h11M3599 1290h11M3599 1419h11M3599 1272h11M3599 1541h11M3599 1427h11M3600 1390h11M3600 1314h11M3600 1511h11M3601 1382h11M3601 1606h11M3601 1481h11M3601 1308h11M3601 1558h11M3601 1368h11M3601 1292h11M3602 1604h11M3602 1613h11M3602 1511h11M3603 1534h11M3603 1364h11M3604 1353h11M3604 1510h11M3604 1434h11M3605 1442h11M3605 1320h11M3605 1571h11M3606 1415h11M3606 1419h11M3606 1404h11M3606 1354h11M3607 1634h11M3607 1531h11M3607 1464h11M3608 1362h11M3608 1236h11M3609 1232h11M3609 1322h11M3610 1256h11M3610 1569h11M3610 1415h11M3610 1611h11M3611 1335h11M3611 1501h11M3611 1582h11M3612 1592h11M3612 1367h11M3612 1582h11M3613 1566h11M3613 1391h11M3613 1504h11M3613 1415h11M3613 1382h11M3614 1209h11M3614 1319h11M3614 1295h11M3614 1471h11M3614 1498h11M3614 1287h11M3614 1334h11M3614 1296h11M3614 1607h11M3615 1550h11M3615 1345h11M3616 1442h11M3616 1269h11M3617 1272h11M3617 1571h11M3618 1314h11M3618 1549h11M3618 1536h11M3618 1224h11M3619 1421h11M3619 1517h11M3619 1418h11M3619 1319h11M3620 1429h11M3620 1530h11M3620 1342h11M3620 1431h11M3621 1343h11M3621 1635h11M3621 1425h11M3621 1348h11M3622 1445h11M3622 1220h11M3622 1179h11M3623 1585h11M3623 1362h11M3623 1395h11M3623 1319h11M3623 1476h11M3624 1340h11M3624 1208h11M3624 1362h11M3624 1340h11M3625 1341h11M3625 1228h11M3625 1417h11M3625 1342h11M3625 1385h11M3626 1478h11M3626 1394h11M3627 1221h11M3627 1285h11M3627 1370h11M3627 1293h11M3627 1467h11M3628 1495h11M3628 1528h11M3628 1200h11M3628 1483h11M3628 1291h11M3629 1532h11M3629 1410h11M3629 1223h11M3629 1472h11M3629 1294h11M3629 1170h11M3629 1374h11M3630 1400h11M3630 1456h11M3630 1391h11M3630 1430h11M3630 1319h11M3630 1516h11M3631 1425h11M3631 1428h11M3631 1586h11M3631 1221h11M3632 1531h11M3632 1361h11M3632 1396h11M3632 1215h11M3633 1574h11M3633 1371h11M3633 1405h11M3634 1193h11M3634 1423h11M3634 1299h11M3635 1248h11M3636 1417h11M3638 1478h11M3638 1270h11M3639 1260h11M3639 1514h11M3639 1441h11M3639 1546h11M3640 1470h11M3640 1316h11M3640 1425h11M3640 1455h11M3641 1449h11M3641 1326h11M3641 1366h11M3641 1392h11M3642 1422h11M3642 1600h11M3643 1224h11M3643 1514h11M3643 1387h11M3644 1339h11M3644 1314h11M3645 1430h11M3645 1239h11M3645 1278h11M3645 1615h11M3646 1399h11M3648 1415h11M3648 1218h11M3648 1587h11M3648 1254h11M3648 1354h11M3648 1578h11M3648 1582h11M3649 1318h11M3649 1261h11M3649 1499h11M3649 1547h11M3650 1412h11M3650 1421h11M3650 1260h11M3650 1313h11M3651 1528h11M3651 1284h11M3651 1575h11M3652 1369h11M3652 1512h11M3652 1460h11M3652 1596h11M3652 1608h11M3652 1616h11M3653 1311h11M3653 1515h11M3653 1416h11M3653 1352h11M3655 1338h11M3655 1317h11M3655 1581h11M3655 1572h11M3655 1267h11M3656 1386h11M3657 1200h11M3659 1362h11M3659 1587h11M3659 1491h11M3659 1567h11M3659 1403h11M3659 1560h11M3660 1454h11M3660 1520h11M3660 1354h11M3660 1471h11M3660 1482h11M3662 1634h11M3662 1436h11M3662 1265h11M3664 1349h11M3664 1349h11M3664 1532h11M3664 1216h11M3664 1553h11M3664 1458h11M3665 1405h11M3665 1351h11M3665 1457h11M3665 1448h11M3665 1374h11M3665 1507h11M3666 1207h11M3666 1405h11M3666 1276h11M3667 1441h11M3667 1415h11M3668 1323h11M3668 1237h11M3669 1461h11M3669 1591h11M3670 1296h11M3670 1262h11M3672 1568h11M3672 1509h11M3673 1381h11M3673 1204h11M3673 1220h11M3674 1545h11M3674 1501h11M3674 1427h11M3674 1395h11M3674 1428h11M3675 1406h11M3675 1353h11M3676 1356h11M3676 1312h11M3676 1552h11M3676 1459h11M3676 1288h11M3677 1341h11M3677 1464h11M3677 1389h11M3679 1320h11M3679 1473h11M3679 1537h11M3679 1529h11M3680 1279h11M3680 1367h11M3681 1410h11M3681 1469h11M3681 1258h11M3682 1441h11M3682 1510h11M3682 1587h11M3682 1290h11M3683 1344h11M3683 1492h11M3683 1468h11M3683 1292h11M3683 1523h11M3683 1252h11M3684 1291h11M3684 1245h11M3684 1412h11M3685 1544h11M3685 1347h11M3685 1203h11M3687 1431h11M3687 1613h11M3687 1593h11M3688 1413h11M3689 1400h11M3690 1203h11M3690 1394h11M3690 1374h11M3691 1335h11M3691 1286h11M3691 1324h11M3691 1276h11M3692 1258h11M3692 1319h11M3692 1321h11M3693 1308h11M3693 1310h11M3694 1554h11M3694 1402h11M3695 1421h11M3695 1185h11M3695 1401h11M3696 1495h11M3696 1434h11M3696 1365h11M3696 1209h11M3696 1240h11M3697 1559h11M3699 1391h11M3699 1380h11M3699 1589h11M3699 1514h11M3699 1572h11M3700 1494h11M3702 1412h11M3702 1342h11M3702 1476h11M3703 1588h11M3703 1425h11M3703 1543h11M3703 1517h11M3703 1429h11M3704 1616h11M3704 1634h11M3705 1473h11M3705 1541h11M3705 1374h11M3705 1303h11M3706 1429h11M3706 1532h11M3706 1245h11M3706 1517h11M3706 1327h11M3706 1315h11M3708 1348h11M3708 1445h11M3708 1433h11M3709 1211h11M3709 1477h11M3710 1542h11M3710 1174h11M3710 1452h11M3710 1267h11M3710 1444h11M3710 1419h11M3711 1400h11M3712 1432h11M3713 1507h11M3714 1268h11M3714 1419h11M3714 1333h11M3714 1581h11M3714 1218h11M3715 1532h11M3715 1457h11M3716 1343h11M3717 1534h11M3717 1514h11M3717 1527h11M3718 1559h11M3719 1475h11M3719 1213h11M3719 1493h11M3721 1446h11M3721 1484h11M3721 1233h11M3721 1361h11M3722 1237h11M3722 1369h11M3724 1311h11M3725 1372h11M3725 1289h11M3725 1149h11M3726 1495h11M3726 1323h11M3727 1431h11M3727 1599h11M3727 1409h11M3728 1606h11M3729 1597h11M3729 1453h11M3729 1172h11M3730 1405h11M3730 1542h11M3730 1553h11M3730 1556h11M3730 1324h11M3731 1399h11M3731 1205h11M3731 1561h11M3731 1359h11M3732 1435h11M3732 1221h11M3732 1283h11M3732 1516h11M3733 1525h11M3733 1503h11M3733 1314h11M3734 1300h11M3734 1441h11M3736 1276h11M3736 1494h11M3736 1370h11M3736 1348h11M3737 1428h11M3737 1369h11M3737 1367h11M3738 1428h11M3738 1504h11M3738 1356h11M3738 1363h11M3739 1221h11M3740 1328h11M3742 1192h11M3742 1361h11M3744 1477h11M3744 1444h11M3745 1330h11M3745 1438h11M3746 1186h11M3747 1279h11M3747 1508h11M3749 1229h11M3750 1460h11M3750 1241h11M3751 1252h11M3751 1411h11M3752 1194h11M3755 1326h11M3756 1293h11M3757 1330h11M3757 1321h11M3757 1443h11M3757 1389h11M3757 1337h11M3758 1479h11M3758 1225h11M3758 1328h11M3758 1334h11M3759 1311h11M3760 1563h11M3760 1381h11M3761 1217h11M3761 1388h11M3761 1318h11M3761 1549h11M3762 1490h11M3762 1258h11M3765 1481h11M3765 1231h11M3766 1443h11M3766 1309h11M3766 1542h11M3766 1259h11M3767 1237h11M3767 1280h11M3767 1531h11M3767 1230h11M3767 1432h11M3768 1542h11M3768 1378h11M3768 1602h11M3769 1346h11M3769 1295h11M3770 1425h11M3770 1245h11M3770 1103h11M3770 1395h11M3770 1455h11M3771 1447h11M3772 1276h11M3772 1411h11M3772 1432h11M3772 1289h11M3772 1491h11M3774 1551h11M3775 1486h11M3775 1360h11M3775 1266h11M3775 1276h11M3775 1321h11M3775 1385h11M3775 1619h11M3776 1516h11M3776 1344h11M3776 1304h11M3777 1441h11M3777 1512h11M3778 1246h11M3778 1331h11M3778 1323h11M3778 1601h11M3779 1450h11M3779 1578h11M3780 1647h11M3780 1449h11M3780 1438h11M3780 1499h11M3782 1388h11M3782 1385h11M3783 1302h11M3784 1466h11M3784 1252h11M3785 1351h11M3785 1304h11M3787 1477h11M3787 1189h11M3787 1473h11M3788 1390h11M3788 1393h11M3788 1346h11M3789 1282h11M3789 1444h11M3790 1194h11M3791 1324h11M3791 1226h11M3791 1607h11M3792 1237h11M3792 1349h11M3793 1442h11M3794 1371h11M3794 1337h11M3795 1522h11M3795 1554h11M3795 1510h11M3795 1553h11M3795 1295h11M3796 1353h11M3796 1405h11M3796 1411h11M3797 1222h11M3798 1322h11M3798 1499h11M3798 1463h11M3798 1334h11M3798 1232h11M3799 1386h11M3799 1480h11M3799 1325h11M3799 1493h11M3800 1332h11M3800 1466h11M3800 1321h11M3802 1432h11M3803 1429h11M3803 1540h11M3804 1366h11M3804 1348h11M3804 1289h11M3805 1347h11M3805 1361h11M3806 1365h11M3806 1228h11M3806 1335h11M3807 1329h11M3809 1283h11M3809 1188h11M3809 1231h11M3809 1455h11M3810 1317h11M3810 1240h11M3811 1270h11M3811 1478h11M3811 1214h11M3813 1207h11M3814 1228h11M3814 1154h11M3814 1517h11M3815 1474h11M3815 1302h11M3816 1351h11M3816 1539h11M3816 1213h11M3817 1410h11M3818 1285h11M3819 1544h11M3820 1534h11M3820 1268h11M3821 1448h11M3821 1418h11M3823 1440h11M3823 1359h11M3823 1349h11M3823 1297h11M3824 1255h11M3824 1296h11M3825 1495h11M3825 1408h11M3826 1257h11M3826 1216h11M3826 1411h11M3826 1626h11M3828 1411h11M3828 1443h11M3828 1274h11M3828 1483h11M3829 1423h11M3830 1354h11M3831 1413h11M3831 1521h11M3832 1193h11M3833 1211h11M3833 1560h11M3834 1252h11M3835 1427h11M3835 1260h11M3835 1509h11M3836 1356h11M3836 1616h11M3836 1347h11M3837 1227h11M3838 1360h11M3838 1376h11M3838 1584h11M3839 1329h11M3839 1431h11M3840 1415h11M3841 1242h11M3842 1338h11M3843 1216h11M3843 1366h11M3844 1415h11M3844 1366h11M3846 1584h11M3846 1269h11M3846 1418h11M3847 1366h11M3847 1312h11M3848 1336h11M3849 1273h11M3850 1266h11M3850 1370h11M3851 1334h11M3851 1326h11M3852 1537h11M3852 1343h11M3852 1408h11M3852 1334h11M3852 1400h11M3856 1323h11M3856 1392h11M3857 1166h11M3857 1238h11M3858 1317h11M3860 1388h11M3860 1387h11M3860 1302h11M3862 1207h11M3864 1297h11M3864 1294h11M3866 1327h11M3867 1197h11M3867 1532h11M3867 1227h11M3868 1406h11M3871 1380h11M3872 1543h11M3872 1359h11M3872 1297h11M3872 1423h11M3873 1223h11M3873 1261h11M3874 1365h11M3874 1262h11M3874 1325h11M3874 1167h11M3875 1473h11M3878 1232h11M3878 1346h11M3878 1406h11M3879 1223h11M3879 1483h11M3880 1423h11M3881 1356h11M3881 1445h11M3881 1241h11M3882 1305h11M3882 1258h11M3883 1323h11M3884 1374h11M3887 1339h11M3888 1390h11M3888 1245h11M3888 1569h11M3889 1371h11M3891 1354h11M3891 1393h11M3891 1311h11M3892 1320h11M3892 1289h11M3895 1431h11M3896 1172h11M3900 1360h11M3900 1256h11M3901 1613h11M3901 1469h11M3903 1228h11M3903 1561h11M3903 1441h11M3904 1349h11M3904 1405h11M3904 1398h11M3904 1326h11M3906 1398h11M3906 1312h11M3906 1411h11M3907 1284h11M3907 1421h11M3907 1418h11M3908 1384h11M3909 1326h11M3910 1396h11M3910 1542h11M3911 1190h11M3911 1415h11M3915 1421h11M3916 1203h11M3917 1370h11M3917 1374h11M3917 1230h11M3917 1366h11M3919 1333h11M3920 1298h11M3921 1208h11M3923 1307h11M3924 1544h11M3924 1332h11M3924 1308h11M3925 1339h11M3926 1377h11M3927 1412h11M3928 1351h11M3930 1191h11M3931 1247h11M3934 1525h11M3937 1333h11M3937 1503h11M3938 1241h11M3939 1459h11M3941 1364h11M3942 1445h11M3943 1330h11M3946 1324h11M3948 1189h11M3949 1263h11M3952 1241h11M3953 1257h11M3953 1253h11M3955 1411h11M3955 1327h11M3956 1244h11M3961 1200h11M3962 1318h11M3962 1305h11M3971 1193h11M3971 1209h11M3973 1364h11M3975 1226h11M3977 1220h11M3978 1413h11M3981 1349h11M3982 1443h11M3982 1295h11M3987 1462h11M3994 1422h11M3996 1462h11M3998 1180h11M4002 1452h11M4006 1356h11M4006 1365h11M4011 1362h11M4018 1263h11M4020 1325h11M4023 1282h11M4031 1343h11M4052 1291h11M4056 1399h11M4059 1185h11M4062 1396h11M4093 1264h11" stroke="#000" stroke-opacity="0.36" stroke-width="11" fill="none" transform="scale(.1)"/>
<path d="M3284 1231h11M3370 1215h11M3382 1301h11M3388 1385h11M3388 1279h11M3391 1354h11M3397 1344h11M3407 1606h11M3407 1453h11M3410 1537h11M3413 1296h11M3418 1592h11M3420 1540h11M3421 1220h11M3426 1463h11M3428 1332h11M3428 1451h11M3428 1475h11M3429 1575h11M3431 1180h11M3431 1440h11M3433 1232h11M3434 1398h11M3434 1348h11M3435 1549h11M3436 1529h11M3438 1321h11M3438 1201h11M3441 1423h11M3441 1284h11M3443 1244h11M3443 1540h11M3445 1545h11M3445 1215h11M3446 1224h11M3447 1256h11M3450 1391h11M3453 1234h11M3454 1414h11M3455 1213h11M3457 1450h11M3457 1298h11M3457 1317h11M3458 1537h11M3458 1291h11M3460 1496h11M3460 1350h11M3461 1216h11M3463 1534h11M3464 1466h11M3464 1280h11M3465 1232h11M3465 1445h11M3465 1612h11M3466 1532h11M3466 1225h11M3467 1253h11M3468 1440h11M3470 1527h11M3470 1276h11M3471 1441h11M3471 1509h11M3472 1181h11M3472 1536h11M3473 1486h11M3473 1424h11M3474 1529h11M3474 1432h11M3474 1383h11M3475 1331h11M3476 1321h11M3476 1411h11M3476 1426h11M3477 1420h11M3478 1319h11M3478 1434h11M3482 1330h11M3482 1305h11M3483 1228h11M3483 1293h11M3483 1550h11M3483 1483h11M3484 1317h11M3484 1546h11M3485 1467h11M3485 1331h11M3485 1450h11M3486 1309h11M3487 1367h11M3487 1227h11M3488 1375h11M3489 1311h11M3489 1448h11M3489 1436h11M3491 1652h11M3491 1542h11M3491 1574h11M3493 1547h11M3494 1313h11M3494 1387h11M3494 1238h11M3494 1598h11M3494 1393h11M3495 1491h11M3495 1180h11M3496 1480h11M3496 1430h11M3498 1255h11M3498 1306h11M3498 1552h11M3499 1197h11M3499 1337h11M3500 1414h11M3500 1363h11M3501 1588h11M3502 1441h11M3502 1437h11M3502 1493h11M3503 1392h11M3503 1266h11M3504 1262h11M3504 1190h11M3505 1343h11M3505 1367h11M3506 1207h11M3506 1388h11M3506 1307h11M3507 1320h11M3508 1403h11M3508 1372h11M3508 1335h11M3508 1330h11M3508 1275h11M3508 1605h11M3509 1304h11M3509 1406h11M3509 1323h11M3509 1216h11M3509 1387h11M3510 1154h11M3511 1425h11M3512 1318h11M3512 1438h11M3513 1195h11M3516 1496h11M3516 1331h11M3518 1296h11M3518 1492h11M3519 1550h11M3520 1372h11M3520 1524h11M3520 1589h11M3521 1608h11M3521 1551h11M3521 1417h11M3522 1208h11M3522 1402h11M3522 1300h11M3523 1559h11M3523 1225h11M3523 1219h11M3523 1374h11M3524 1375h11M3524 1507h11M3525 1558h11M3526 1225h11M3526 1307h11M3526 1435h11M3526 1505h11M3527 1297h11M3528 1155h11M3528 1561h11M3528 1217h11M3528 1521h11M3528 1223h11M3529 1262h11M3529 1594h11M3529 1413h11M3529 1295h11M3529 1400h11M3530 1377h11M3530 1484h11M3530 1214h11M3530 1278h11M3530 1432h11M3531 1242h11M3532 1500h11M3532 1615h11M3532 1293h11M3533 1241h11M3533 1286h11M3534 1201h11M3534 1413h11M3534 1434h11M3534 1342h11M3534 1555h11M3535 1189h11M3535 1525h11M3535 1409h11M3535 1584h11M3535 1243h11M3535 1385h11M3536 1484h11M3537 1323h11M3537 1613h11M3537 1343h11M3537 1406h11M3537 1399h11M3537 1643h11M3537 1448h11M3537 1311h11M3537 1596h11M3538 1585h11M3538 1290h11M3539 1398h11M3539 1340h11M3539 1596h11M3540 1349h11M3540 1613h11M3540 1349h11M3541 1554h11M3541 1573h11M3541 1387h11M3541 1495h11M3541 1445h11M3541 1360h11M3542 1558h11M3542 1514h11M3543 1432h11M3543 1371h11M3543 1313h11M3543 1507h11M3544 1382h11M3544 1305h11M3544 1457h11M3544 1406h11M3544 1333h11M3544 1672h11M3545 1389h11M3545 1386h11M3545 1393h11M3545 1313h11M3545 1222h11M3546 1310h11M3546 1458h11M3546 1355h11M3546 1406h11M3546 1217h11M3547 1583h11M3547 1425h11M3547 1615h11M3547 1370h11M3547 1272h11M3547 1535h11M3548 1639h11M3548 1205h11M3548 1347h11M3549 1401h11M3549 1493h11M3549 1353h11M3549 1461h11M3550 1552h11M3551 1401h11M3551 1515h11M3551 1582h11M3551 1454h11M3551 1279h11M3551 1570h11M3552 1328h11M3552 1304h11M3552 1380h11M3552 1237h11M3552 1334h11M3553 1256h11M3553 1623h11M3554 1239h11M3554 1501h11M3554 1464h11M3554 1201h11M3554 1340h11M3554 1366h11M3554 1522h11M3554 1637h11M3555 1406h11M3555 1391h11M3555 1457h11M3555 1224h11M3555 1289h11M3557 1271h11M3557 1510h11M3557 1169h11M3557 1542h11M3558 1366h11M3558 1138h11M3558 1362h11M3558 1632h11M3558 1419h11M3560 1559h11M3560 1457h11M3560 1343h11M3560 1403h11M3560 1230h11M3560 1226h11M3561 1358h11M3561 1284h11M3561 1423h11M3562 1378h11M3562 1417h11M3562 1466h11M3562 1582h11M3562 1382h11M3562 1330h11M3563 1364h11M3564 1432h11M3564 1492h11M3564 1345h11M3564 1465h11M3564 1449h11M3565 1466h11M3565 1578h11M3566 1321h11M3566 1439h11M3566 1330h11M3566 1354h11M3567 1592h11M3567 1291h11M3568 1368h11M3568 1332h11M3568 1308h11M3569 1446h11M3569 1484h11M3569 1613h11M3569 1246h11M3570 1327h11M3570 1476h11M3570 1570h11M3570 1294h11M3571 1334h11M3571 1593h11M3571 1572h11M3573 1287h11M3573 1325h11M3573 1282h11M3573 1369h11M3574 1240h11M3574 1499h11M3575 1515h11M3575 1318h11M3576 1370h11M3576 1338h11M3577 1624h11M3577 1326h11M3577 1463h11M3577 1292h11M3577 1407h11M3578 1516h11M3578 1302h11M3578 1423h11M3579 1441h11M3579 1414h11M3579 1310h11M3579 1500h11M3579 1359h11M3579 1226h11M3579 1271h11M3579 1314h11M3579 1388h11M3579 1363h11M3580 1185h11M3581 1685h11M3581 1273h11M3581 1380h11M3581 1172h11M3581 1335h11M3582 1224h11M3582 1658h11M3582 1374h11M3582 1559h11M3582 1294h11M3583 1594h11M3583 1461h11M3583 1519h11M3584 1574h11M3584 1261h11M3584 1327h11M3584 1395h11M3584 1239h11M3584 1531h11M3584 1529h11M3585 1550h11M3585 1566h11M3585 1597h11M3585 1551h11M3585 1344h11M3586 1519h11M3586 1197h11M3586 1533h11M3586 1464h11M3586 1410h11M3586 1604h11M3586 1574h11M3586 1569h11M3587 1488h11M3587 1493h11M3587 1513h11M3588 1417h11M3588 1565h11M3588 1507h11M3588 1643h11M3588 1377h11M3589 1476h11M3589 1451h11M3589 1515h11M3589 1496h11M3589 1281h11M3590 1486h11M3590 1583h11M3590 1477h11M3590 1380h11M3590 1366h11M3590 1440h11M3590 1617h11M3590 1596h11M3590 1359h11M3590 1520h11M3591 1300h11M3591 1310h11M3591 1448h11M3591 1663h11M3591 1544h11M3591 1488h11M3591 1256h11M3591 1394h11M3591 1381h11M3592 1484h11M3592 1492h11M3592 1398h11M3592 1568h11M3592 1218h11M3592 1414h11M3592 1529h11M3592 1368h11M3593 1279h11M3593 1610h11M3593 1436h11M3593 1531h11M3593 1412h11M3593 1420h11M3593 1360h11M3593 1428h11M3594 1404h11M3594 1373h11M3595 1280h11M3595 1234h11M3596 1569h11M3597 1519h11M3597 1210h11M3597 1545h11M3598 1228h11M3598 1345h11M3598 1399h11M3598 1477h11M3598 1497h11M3599 1406h11M3599 1212h11M3599 1360h11M3599 1338h11M3599 1526h11M3599 1210h11M3599 1259h11M3599 1551h11M3600 1389h11M3600 1606h11M3600 1469h11M3601 1595h11M3601 1415h11M3601 1187h11M3601 1219h11M3602 1392h11M3602 1361h11M3602 1566h11M3603 1304h11M3603 1360h11M3604 1526h11M3604 1324h11M3605 1354h11M3605 1619h11M3605 1304h11M3605 1299h11M3605 1593h11M3605 1313h11M3605 1443h11M3606 1333h11M3606 1457h11M3607 1414h11M3607 1523h11M3607 1448h11M3608 1533h11M3608 1436h11M3608 1634h11M3609 1654h11M3609 1614h11M3609 1525h11M3609 1223h11M3610 1538h11M3610 1518h11M3610 1278h11M3611 1354h11M3611 1640h11M3612 1552h11M3612 1234h11M3612 1263h11M3612 1295h11M3612 1359h11M3612 1575h11M3613 1328h11M3613 1610h11M3613 1226h11M3613 1472h11M3613 1407h11M3613 1360h11M3614 1604h11M3614 1463h11M3614 1526h11M3614 1529h11M3614 1510h11M3614 1426h11M3614 1337h11M3614 1491h11M3615 1442h11M3615 1214h11M3615 1338h11M3615 1456h11M3616 1187h11M3616 1309h11M3616 1420h11M3616 1219h11M3616 1225h11M3616 1332h11M3617 1304h11M3617 1553h11M3617 1170h11M3617 1300h11M3617 1537h11M3617 1337h11M3617 1194h11M3617 1219h11M3618 1533h11M3618 1503h11M3619 1530h11M3619 1598h11M3619 1489h11M3619 1187h11M3620 1412h11M3620 1376h11M3620 1188h11M3620 1513h11M3621 1357h11M3621 1309h11M3621 1331h11M3622 1410h11M3623 1533h11M3623 1358h11M3623 1260h11M3623 1455h11M3624 1598h11M3624 1361h11M3625 1456h11M3626 1530h11M3626 1596h11M3626 1544h11M3626 1622h11M3626 1500h11M3626 1487h11M3627 1513h11M3627 1336h11M3628 1507h11M3628 1448h11M3628 1584h11M3628 1496h11M3628 1578h11M3628 1361h11M3628 1269h11M3628 1447h11M3629 1395h11M3629 1569h11M3629 1480h11M3629 1530h11M3629 1501h11M3629 1512h11M3630 1439h11M3630 1311h11M3630 1403h11M3631 1232h11M3631 1400h11M3631 1525h11M3632 1330h11M3632 1532h11M3632 1209h11M3632 1428h11M3632 1394h11M3633 1505h11M3633 1434h11M3633 1419h11M3633 1159h11M3634 1345h11M3634 1194h11M3634 1477h11M3634 1512h11M3635 1459h11M3635 1449h11M3636 1249h11M3636 1533h11M3636 1496h11M3636 1482h11M3637 1199h11M3637 1499h11M3638 1359h11M3638 1475h11M3638 1310h11M3639 1498h11M3639 1333h11M3639 1316h11M3639 1514h11M3640 1469h11M3640 1220h11M3640 1428h11M3641 1649h11M3641 1254h11M3641 1431h11M3641 1333h11M3642 1179h11M3642 1381h11M3644 1503h11M3644 1225h11M3645 1521h11M3645 1288h11M3646 1415h11M3646 1589h11M3646 1473h11M3646 1574h11M3647 1533h11M3647 1451h11M3647 1447h11M3647 1521h11M3647 1538h11M3648 1485h11M3648 1284h11M3649 1409h11M3649 1429h11M3649 1548h11M3649 1475h11M3650 1329h11M3650 1554h11M3651 1376h11M3651 1515h11M3651 1566h11M3652 1496h11M3652 1343h11M3652 1512h11M3653 1522h11M3653 1273h11M3653 1445h11M3654 1443h11M3654 1411h11M3654 1591h11M3655 1444h11M3655 1159h11M3655 1631h11M3655 1217h11M3655 1434h11M3656 1521h11M3656 1233h11M3656 1454h11M3656 1290h11M3657 1260h11M3657 1550h11M3657 1384h11M3657 1374h11M3658 1316h11M3658 1369h11M3658 1573h11M3658 1549h11M3658 1293h11M3658 1275h11M3658 1502h11M3658 1340h11M3659 1470h11M3659 1564h11M3659 1195h11M3659 1199h11M3659 1319h11M3660 1196h11M3660 1602h11M3660 1393h11M3661 1541h11M3661 1366h11M3661 1447h11M3661 1508h11M3661 1364h11M3662 1187h11M3662 1250h11M3663 1209h11M3663 1410h11M3663 1269h11M3664 1294h11M3664 1381h11M3665 1312h11M3665 1386h11M3665 1432h11M3665 1267h11M3667 1380h11M3667 1399h11M3667 1580h11M3668 1350h11M3668 1553h11M3668 1204h11M3669 1464h11M3669 1416h11M3669 1327h11M3669 1252h11M3669 1293h11M3669 1227h11M3670 1325h11M3670 1390h11M3670 1530h11M3670 1598h11M3671 1371h11M3671 1573h11M3672 1371h11M3673 1311h11M3673 1376h11M3673 1356h11M3673 1498h11M3673 1646h11M3673 1241h11M3674 1534h11M3674 1237h11M3674 1356h11M3674 1485h11M3676 1267h11M3676 1587h11M3676 1278h11M3676 1333h11M3676 1176h11M3677 1323h11M3677 1180h11M3677 1429h11M3677 1422h11M3678 1518h11M3678 1419h11M3678 1274h11M3678 1538h11M3678 1564h11M3679 1218h11M3679 1440h11M3679 1476h11M3680 1249h11M3680 1366h11M3680 1436h11M3680 1614h11M3680 1623h11M3680 1313h11M3680 1317h11M3680 1522h11M3680 1563h11M3681 1423h11M3681 1506h11M3682 1432h11M3683 1455h11M3683 1289h11M3684 1228h11M3684 1462h11M3685 1523h11M3685 1368h11M3685 1559h11M3685 1493h11M3686 1428h11M3686 1417h11M3686 1195h11M3687 1560h11M3687 1227h11M3688 1611h11M3688 1382h11M3688 1441h11M3688 1251h11M3688 1259h11M3689 1583h11M3690 1338h11M3690 1279h11M3690 1640h11M3690 1488h11M3690 1398h11M3691 1268h11M3692 1398h11M3693 1410h11M3693 1539h11M3693 1384h11M3693 1442h11M3693 1476h11M3693 1528h11M3693 1372h11M3693 1258h11M3694 1441h11M3694 1298h11M3694 1558h11M3694 1239h11M3695 1599h11M3695 1507h11M3695 1272h11M3696 1426h11M3696 1563h11M3697 1230h11M3697 1488h11M3699 1476h11M3699 1606h11M3699 1411h11M3700 1267h11M3701 1480h11M3701 1231h11M3702 1416h11M3702 1322h11M3702 1371h11M3703 1322h11M3703 1490h11M3704 1230h11M3704 1408h11M3704 1370h11M3705 1474h11M3705 1585h11M3706 1354h11M3706 1343h11M3706 1341h11M3706 1386h11M3707 1396h11M3707 1268h11M3707 1225h11M3708 1301h11M3709 1442h11M3710 1490h11M3710 1342h11M3710 1205h11M3711 1431h11M3711 1337h11M3712 1222h11M3712 1273h11M3712 1474h11M3712 1419h11M3713 1212h11M3713 1305h11M3713 1331h11M3713 1414h11M3713 1202h11M3714 1559h11M3716 1291h11M3717 1473h11M3719 1604h11M3719 1231h11M3719 1554h11M3720 1168h11M3720 1337h11M3721 1350h11M3721 1564h11M3722 1463h11M3722 1229h11M3722 1241h11M3723 1613h11M3723 1404h11M3723 1168h11M3724 1576h11M3724 1315h11M3725 1168h11M3725 1351h11M3726 1256h11M3726 1456h11M3726 1527h11M3727 1390h11M3727 1422h11M3728 1682h11M3728 1422h11M3729 1411h11M3729 1401h11M3729 1462h11M3729 1339h11M3730 1281h11M3730 1585h11M3731 1446h11M3731 1282h11M3731 1540h11M3732 1262h11M3732 1248h11M3732 1585h11M3733 1314h11M3733 1347h11M3733 1324h11M3734 1300h11M3734 1443h11M3736 1258h11M3736 1482h11M3737 1267h11M3738 1312h11M3738 1556h11M3738 1421h11M3739 1400h11M3739 1439h11M3739 1349h11M3739 1132h11M3740 1440h11M3740 1446h11M3740 1526h11M3741 1412h11M3741 1146h11M3742 1371h11M3742 1231h11M3743 1385h11M3745 1361h11M3745 1566h11M3746 1268h11M3747 1189h11M3748 1463h11M3748 1447h11M3749 1384h11M3750 1625h11M3751 1531h11M3751 1426h11M3752 1296h11M3752 1296h11M3752 1399h11M3753 1348h11M3753 1280h11M3753 1332h11M3754 1528h11M3755 1441h11M3755 1513h11M3756 1206h11M3756 1518h11M3758 1409h11M3758 1390h11M3758 1240h11M3759 1319h11M3759 1476h11M3760 1208h11M3760 1557h11M3761 1557h11M3761 1225h11M3762 1223h11M3763 1244h11M3763 1445h11M3764 1331h11M3764 1471h11M3764 1251h11M3769 1330h11M3769 1401h11M3769 1301h11M3770 1512h11M3770 1270h11M3770 1513h11M3770 1230h11M3771 1376h11M3771 1483h11M3771 1261h11M3771 1378h11M3772 1479h11M3772 1237h11M3772 1442h11M3773 1236h11M3773 1530h11M3774 1231h11M3775 1528h11M3775 1349h11M3775 1377h11M3776 1478h11M3776 1281h11M3777 1140h11M3777 1554h11M3778 1519h11M3779 1280h11M3779 1347h11M3780 1443h11M3780 1300h11M3781 1406h11M3781 1211h11M3782 1232h11M3782 1247h11M3783 1402h11M3783 1435h11M3784 1410h11M3786 1413h11M3787 1476h11M3789 1313h11M3790 1335h11M3790 1347h11M3790 1219h11M3791 1297h11M3791 1607h11M3791 1258h11M3791 1506h11M3791 1507h11M3791 1473h11M3791 1325h11M3791 1314h11M3791 1431h11M3792 1234h11M3793 1247h11M3793 1511h11M3793 1480h11M3795 1140h11M3796 1397h11M3796 1501h11M3798 1268h11M3798 1337h11M3799 1431h11M3799 1381h11M3800 1319h11M3800 1321h11M3801 1418h11M3801 1627h11M3802 1429h11M3803 1369h11M3804 1406h11M3804 1511h11M3804 1382h11M3804 1522h11M3805 1243h11M3805 1302h11M3807 1438h11M3807 1220h11M3808 1292h11M3808 1275h11M3808 1556h11M3808 1258h11M3809 1196h11M3809 1592h11M3810 1381h11M3810 1415h11M3811 1301h11M3814 1262h11M3815 1358h11M3816 1213h11M3817 1379h11M3817 1353h11M3817 1290h11M3818 1299h11M3818 1388h11M3819 1432h11M3821 1531h11M3821 1565h11M3822 1308h11M3823 1251h11M3823 1441h11M3826 1345h11M3826 1317h11M3826 1326h11M3827 1556h11M3827 1366h11M3827 1352h11M3828 1365h11M3828 1423h11M3829 1452h11M3830 1374h11M3830 1350h11M3830 1316h11M3831 1161h11M3831 1398h11M3831 1337h11M3831 1395h11M3831 1372h11M3832 1389h11M3833 1473h11M3833 1296h11M3833 1274h11M3834 1354h11M3834 1475h11M3836 1377h11M3836 1321h11M3837 1336h11M3837 1500h11M3837 1400h11M3837 1381h11M3838 1223h11M3838 1349h11M3838 1313h11M3838 1509h11M3839 1347h11M3840 1401h11M3840 1334h11M3841 1293h11M3841 1156h11M3842 1326h11M3843 1251h11M3843 1372h11M3844 1495h11M3844 1310h11M3845 1251h11M3845 1602h11M3845 1270h11M3845 1319h11M3846 1425h11M3846 1376h11M3846 1224h11M3846 1230h11M3847 1356h11M3847 1430h11M3847 1194h11M3847 1346h11M3848 1323h11M3848 1442h11M3849 1378h11M3849 1287h11M3849 1190h11M3850 1286h11M3850 1333h11M3850 1406h11M3851 1214h11M3851 1218h11M3852 1410h11M3852 1464h11M3853 1471h11M3853 1236h11M3853 1411h11M3853 1381h11M3854 1321h11M3856 1285h11M3857 1536h11M3857 1423h11M3857 1404h11M3858 1263h11M3859 1380h11M3859 1482h11M3860 1249h11M3860 1403h11M3861 1356h11M3861 1304h11M3863 1425h11M3863 1216h11M3864 1190h11M3864 1300h11M3864 1347h11M3864 1375h11M3864 1400h11M3865 1276h11M3865 1468h11M3868 1197h11M3868 1184h11M3868 1235h11M3869 1319h11M3869 1503h11M3869 1335h11M3870 1442h11M3870 1463h11M3871 1419h11M3871 1304h11M3871 1317h11M3871 1368h11M3872 1447h11M3872 1404h11M3874 1208h11M3874 1352h11M3874 1453h11M3875 1529h11M3875 1334h11M3876 1391h11M3877 1364h11M3877 1446h11M3877 1329h11M3878 1312h11M3878 1436h11M3879 1210h11M3881 1380h11M3881 1467h11M3882 1308h11M3882 1304h11M3883 1331h11M3883 1238h11M3884 1338h11M3886 1306h11M3886 1443h11M3889 1330h11M3889 1311h11M3889 1146h11M3892 1302h11M3893 1402h11M3895 1437h11M3896 1485h11M3898 1347h11M3899 1401h11M3899 1475h11M3900 1475h11M3902 1231h11M3902 1446h11M3903 1193h11M3904 1200h11M3906 1346h11M3907 1390h11M3908 1341h11M3909 1318h11M3909 1460h11M3910 1386h11M3912 1395h11M3914 1384h11M3916 1299h11M3918 1224h11M3919 1339h11M3920 1374h11M3921 1425h11M3921 1415h11M3927 1228h11M3931 1522h11M3932 1285h11M3933 1269h11M3936 1244h11M3936 1330h11M3940 1415h11M3940 1359h11M3941 1255h11M3945 1200h11M3946 1526h11M3946 1279h11M3946 1343h11M3948 1322h11M3951 1342h11M3952 1380h11M3954 1272h11M3956 1358h11M3957 1400h11M3961 1171h11M3963 1234h11M3965 1225h11M3965 1296h11M3966 1393h11M3966 1306h11M3968 1359h11M3968 1282h11M3970 1345h11M3978 1246h11M3979 1408h11M3980 1160h11M3981 1366h11M3990 1220h11M3991 1251h11M3993 1220h11M4009 1387h11M4018 1360h11M4018 1209h11M4019 1249h11M4021 1372h11M4038 1313h11M4055 1364h11M4057 1328h11M4058 1260h11M4066 1347h11M4095 1336h11M4102 1348h11M4140 1280h11" stroke="#000" stroke-opacity="0.36" stroke-width="11" fill="none" transform="scale(.1)"/>
<path d="M3341 1412h11M3374 1332h11M3378 1191h11M3386 1603h11M3393 1347h11M3395 1353h11M3404 1307h11M3404 1406h11M3406 1336h11M3407 1447h11M3408 1380h11M3410 1548h11M3419 1406h11M3419 1257h11M3423 1154h11M3424 1402h11M3424 1324h11M3425 1418h11M3429 1322h11M3432 1291h11M3434 1254h11M3436 1398h11M3437 1207h11M3438 1411h11M3440 1204h11M3441 1212h11M3442 1600h11M3443 1329h11M3444 1389h11M3446 1505h11M3446 1280h11M3447 1224h11M3448 1440h11M3449 1332h11M3451 1380h11M3452 1516h11M3452 1451h11M3452 1333h11M3452 1281h11M3453 1258h11M3453 1595h11M3454 1435h11M3455 1599h11M3456 1336h11M3457 1210h11M3457 1237h11M3458 1518h11M3459 1227h11M3459 1339h11M3460 1595h11M3460 1455h11M3461 1514h11M3463 1192h11M3464 1462h11M3466 1400h11M3468 1397h11M3469 1392h11M3469 1482h11M3471 1438h11M3471 1446h11M3472 1418h11M3472 1329h11M3473 1485h11M3474 1314h11M3474 1653h11M3475 1218h11M3475 1468h11M3476 1455h11M3476 1268h11M3476 1379h11M3476 1513h11M3477 1333h11M3478 1162h11M3479 1615h11M3479 1274h11M3481 1251h11M3481 1516h11M3481 1498h11M3482 1223h11M3482 1331h11M3483 1528h11M3484 1223h11M3484 1537h11M3485 1420h11M3485 1445h11M3486 1461h11M3486 1326h11M3488 1280h11M3488 1522h11M3488 1454h11M3489 1481h11M3489 1380h11M3489 1417h11M3490 1537h11M3490 1419h11M3491 1480h11M3491 1303h11M3491 1498h11M3491 1228h11M3492 1355h11M3492 1200h11M3492 1450h11M3493 1313h11M3493 1378h11M3494 1415h11M3495 1515h11M3495 1666h11M3496 1325h11M3496 1201h11M3497 1327h11M3497 1423h11M3497 1353h11M3498 1343h11M3499 1511h11M3499 1357h11M3499 1246h11M3500 1588h11M3500 1316h11M3501 1192h11M3501 1419h11M3501 1412h11M3501 1547h11M3501 1666h11M3502 1475h11M3502 1410h11M3502 1436h11M3503 1423h11M3503 1309h11M3503 1306h11M3505 1518h11M3506 1613h11M3507 1562h11M3508 1156h11M3508 1364h11M3510 1175h11M3510 1236h11M3511 1212h11M3512 1424h11M3512 1576h11M3512 1381h11M3513 1515h11M3513 1405h11M3513 1394h11M3514 1248h11M3514 1501h11M3515 1523h11M3515 1503h11M3516 1534h11M3516 1374h11M3517 1496h11M3517 1442h11M3517 1234h11M3518 1446h11M3518 1318h11M3518 1525h11M3519 1507h11M3519 1637h11M3520 1593h11M3520 1391h11M3520 1378h11M3520 1309h11M3521 1607h11M3522 1373h11M3522 1506h11M3522 1427h11M3522 1223h11M3523 1539h11M3523 1535h11M3523 1521h11M3523 1650h11M3524 1170h11M3524 1462h11M3524 1407h11M3524 1516h11M3524 1441h11M3524 1360h11M3525 1446h11M3525 1517h11M3525 1390h11M3526 1267h11M3526 1229h11M3527 1486h11M3527 1515h11M3527 1560h11M3528 1413h11M3528 1405h11M3529 1324h11M3529 1333h11M3530 1359h11M3530 1587h11M3530 1436h11M3531 1595h11M3531 1389h11M3532 1513h11M3532 1521h11M3532 1484h11M3532 1348h11M3533 1402h11M3533 1407h11M3534 1414h11M3534 1215h11M3534 1220h11M3535 1225h11M3535 1576h11M3535 1501h11M3536 1609h11M3536 1417h11M3536 1528h11M3536 1336h11M3537 1406h11M3537 1174h11M3538 1440h11M3538 1220h11M3538 1569h11M3539 1544h11M3539 1619h11M3539 1407h11M3539 1622h11M3539 1503h11M3540 1561h11M3540 1437h11M3540 1364h11M3540 1668h11M3541 1395h11M3541 1256h11M3541 1590h11M3541 1235h11M3541 1414h11M3541 1602h11M3541 1336h11M3541 1466h11M3542 1323h11M3542 1341h11M3542 1578h11M3543 1426h11M3543 1547h11M3544 1381h11M3544 1456h11M3544 1388h11M3544 1621h11M3544 1252h11M3544 1497h11M3545 1418h11M3545 1246h11M3546 1337h11M3547 1327h11M3547 1379h11M3547 1472h11M3548 1591h11M3548 1646h11M3548 1513h11M3548 1415h11M3549 1210h11M3549 1530h11M3550 1418h11M3550 1225h11M3550 1447h11M3550 1304h11M3550 1417h11M3550 1537h11M3550 1547h11M3550 1474h11M3551 1349h11M3551 1234h11M3551 1449h11M3551 1282h11M3551 1461h11M3551 1332h11M3551 1506h11M3552 1483h11M3552 1556h11M3552 1433h11M3553 1651h11M3553 1246h11M3553 1433h11M3553 1269h11M3554 1259h11M3554 1521h11M3554 1305h11M3554 1547h11M3554 1455h11M3555 1207h11M3555 1329h11M3555 1494h11M3556 1244h11M3556 1531h11M3556 1226h11M3556 1307h11M3556 1408h11M3556 1242h11M3556 1486h11M3557 1406h11M3557 1190h11M3557 1354h11M3558 1319h11M3558 1392h11M3558 1528h11M3558 1310h11M3558 1610h11M3559 1514h11M3559 1346h11M3560 1428h11M3561 1284h11M3561 1245h11M3561 1644h11M3561 1332h11M3561 1353h11M3561 1565h11M3561 1350h11M3562 1301h11M3562 1411h11M3562 1428h11M3562 1684h11M3562 1258h11M3563 1583h11M3563 1302h11M3563 1258h11M3563 1366h11M3564 1542h11M3564 1351h11M3564 1326h11M3565 1503h11M3565 1556h11M3565 1178h11M3565 1494h11M3565 1421h11M3565 1529h11M3565 1622h11M3566 1466h11M3566 1396h11M3566 1418h11M3567 1368h11M3568 1524h11M3568 1386h11M3569 1582h11M3569 1444h11M3569 1308h11M3569 1278h11M3570 1355h11M3570 1470h11M3570 1627h11M3570 1357h11M3570 1243h11M3571 1598h11M3571 1215h11M3571 1624h11M3571 1565h11M3571 1326h11M3571 1311h11M3571 1280h11M3571 1319h11M3571 1356h11M3571 1523h11M3572 1330h11M3572 1194h11M3572 1234h11M3572 1389h11M3572 1231h11M3573 1333h11M3573 1443h11M3573 1647h11M3574 1544h11M3574 1438h11M3574 1404h11M3574 1554h11M3574 1390h11M3575 1310h11M3575 1232h11M3575 1376h11M3575 1509h11M3575 1237h11M3576 1309h11M3576 1376h11M3576 1411h11M3576 1231h11M3576 1377h11M3576 1420h11M3576 1316h11M3577 1237h11M3577 1323h11M3577 1315h11M3578 1348h11M3578 1261h11M3578 1359h11M3578 1517h11M3578 1281h11M3578 1384h11M3579 1645h11M3579 1601h11M3579 1514h11M3580 1599h11M3580 1426h11M3580 1415h11M3580 1294h11M3580 1468h11M3581 1447h11M3581 1295h11M3581 1216h11M3581 1346h11M3582 1349h11M3582 1470h11M3583 1426h11M3583 1387h11M3583 1633h11M3583 1235h11M3584 1408h11M3584 1493h11M3586 1627h11M3586 1547h11M3586 1385h11M3586 1302h11M3586 1217h11M3586 1298h11M3586 1211h11M3586 1313h11M3586 1587h11M3586 1354h11M3587 1416h11M3587 1253h11M3587 1193h11M3587 1474h11M3587 1208h11M3587 1455h11M3587 1330h11M3587 1525h11M3588 1314h11M3588 1445h11M3589 1360h11M3589 1321h11M3590 1354h11M3590 1442h11M3590 1206h11M3590 1404h11M3591 1431h11M3591 1374h11M3591 1436h11M3591 1404h11M3591 1400h11M3592 1202h11M3592 1443h11M3592 1392h11M3593 1326h11M3593 1321h11M3593 1268h11M3593 1655h11M3593 1340h11M3594 1415h11M3594 1219h11M3594 1534h11M3594 1476h11M3595 1562h11M3595 1541h11M3595 1356h11M3595 1292h11M3596 1540h11M3596 1367h11M3596 1240h11M3597 1321h11M3597 1641h11M3597 1307h11M3597 1491h11M3597 1470h11M3597 1542h11M3598 1616h11M3598 1366h11M3598 1518h11M3599 1581h11M3599 1540h11M3599 1190h11M3599 1538h11M3599 1451h11M3599 1225h11M3599 1364h11M3599 1301h11M3600 1297h11M3600 1171h11M3601 1323h11M3601 1305h11M3601 1549h11M3601 1482h11M3601 1428h11M3601 1443h11M3602 1243h11M3602 1235h11M3602 1529h11M3603 1634h11M3603 1303h11M3603 1404h11M3603 1317h11M3603 1478h11M3603 1482h11M3604 1358h11M3604 1481h11M3604 1547h11M3604 1399h11M3604 1656h11M3605 1615h11M3606 1486h11M3606 1296h11M3606 1399h11M3606 1433h11M3606 1373h11M3606 1590h11M3607 1199h11M3607 1441h11M3607 1376h11M3607 1337h11M3607 1520h11M3607 1304h11M3607 1401h11M3607 1231h11M3609 1441h11M3609 1372h11M3609 1678h11M3609 1299h11M3609 1347h11M3609 1357h11M3609 1341h11M3610 1382h11M3610 1283h11M3610 1491h11M3610 1362h11M3610 1374h11M3611 1416h11M3611 1180h11M3611 1219h11M3612 1562h11M3612 1347h11M3612 1525h11M3612 1495h11M3612 1617h11M3613 1401h11M3613 1456h11M3613 1565h11M3613 1391h11M3613 1600h11M3613 1284h11M3614 1537h11M3614 1358h11M3615 1570h11M3615 1434h11M3615 1310h11M3617 1622h11M3617 1328h11M3617 1446h11M3618 1544h11M3618 1395h11M3618 1557h11M3618 1503h11M3618 1170h11M3619 1656h11M3619 1227h11M3619 1230h11M3619 1552h11M3620 1439h11M3621 1370h11M3621 1541h11M3621 1259h11M3622 1593h11M3622 1400h11M3622 1206h11M3622 1482h11M3622 1500h11M3623 1416h11M3623 1541h11M3623 1532h11M3623 1421h11M3625 1210h11M3625 1351h11M3625 1213h11M3625 1599h11M3626 1304h11M3626 1307h11M3626 1467h11M3626 1433h11M3626 1233h11M3626 1413h11M3626 1403h11M3626 1450h11M3626 1426h11M3627 1223h11M3627 1356h11M3628 1330h11M3628 1244h11M3628 1351h11M3628 1491h11M3628 1343h11M3629 1482h11M3629 1224h11M3629 1410h11M3629 1400h11M3629 1417h11M3630 1255h11M3630 1447h11M3630 1437h11M3630 1449h11M3630 1582h11M3630 1292h11M3630 1521h11M3630 1431h11M3631 1192h11M3631 1407h11M3631 1343h11M3631 1413h11M3631 1415h11M3631 1622h11M3632 1475h11M3632 1431h11M3632 1607h11M3632 1523h11M3633 1239h11M3633 1405h11M3633 1510h11M3633 1310h11M3634 1464h11M3634 1409h11M3634 1633h11M3634 1576h11M3634 1427h11M3635 1198h11M3637 1464h11M3637 1364h11M3637 1401h11M3637 1279h11M3637 1332h11M3638 1388h11M3638 1551h11M3639 1520h11M3639 1393h11M3639 1507h11M3640 1397h11M3640 1460h11M3640 1604h11M3640 1374h11M3641 1494h11M3641 1582h11M3642 1351h11M3643 1526h11M3643 1222h11M3643 1207h11M3644 1288h11M3644 1320h11M3645 1493h11M3645 1497h11M3645 1373h11M3645 1200h11M3646 1641h11M3646 1204h11M3647 1260h11M3647 1196h11M3647 1560h11M3648 1592h11M3648 1229h11M3648 1200h11M3648 1478h11M3648 1409h11M3648 1333h11M3649 1559h11M3650 1408h11M3650 1342h11M3650 1437h11M3651 1459h11M3651 1361h11M3651 1201h11M3651 1669h11M3652 1562h11M3652 1417h11M3652 1520h11M3653 1405h11M3653 1548h11M3653 1537h11M3654 1360h11M3655 1254h11M3655 1259h11M3656 1414h11M3656 1329h11M3656 1305h11M3657 1609h11M3657 1358h11M3658 1243h11M3658 1447h11M3658 1248h11M3659 1349h11M3659 1493h11M3659 1571h11M3659 1354h11M3660 1386h11M3661 1388h11M3661 1487h11M3662 1605h11M3662 1333h11M3663 1423h11M3663 1515h11M3663 1399h11M3663 1373h11M3663 1250h11M3664 1279h11M3664 1525h11M3664 1519h11M3664 1318h11M3665 1405h11M3665 1506h11M3665 1382h11M3665 1604h11M3665 1405h11M3665 1310h11M3666 1405h11M3666 1400h11M3667 1498h11M3667 1576h11M3667 1403h11M3667 1390h11M3667 1189h11M3667 1260h11M3668 1604h11M3668 1382h11M3670 1642h11M3670 1487h11M3670 1549h11M3671 1581h11M3671 1210h11M3671 1533h11M3671 1304h11M3672 1213h11M3672 1367h11M3672 1564h11M3672 1509h11M3672 1403h11M3672 1311h11M3673 1230h11M3673 1555h11M3673 1507h11M3674 1273h11M3674 1478h11M3675 1337h11M3675 1565h11M3675 1631h11M3675 1320h11M3676 1350h11M3676 1241h11M3677 1312h11M3678 1227h11M3679 1147h11M3680 1427h11M3680 1427h11M3681 1395h11M3681 1335h11M3681 1626h11M3681 1197h11M3681 1334h11M3682 1399h11M3682 1218h11M3682 1163h11M3683 1625h11M3683 1513h11M3684 1280h11M3684 1198h11M3684 1478h11M3685 1400h11M3685 1331h11M3685 1581h11M3686 1329h11M3686 1451h11M3686 1392h11M3687 1534h11M3688 1448h11M3688 1349h11M3689 1497h11M3689 1546h11M3690 1352h11M3690 1237h11M3690 1414h11M3690 1328h11M3691 1377h11M3691 1339h11M3691 1212h11M3692 1390h11M3693 1378h11M3693 1507h11M3693 1332h11M3693 1522h11M3694 1373h11M3694 1540h11M3696 1346h11M3696 1457h11M3696 1588h11M3696 1600h11M3697 1432h11M3699 1358h11M3699 1392h11M3699 1429h11M3699 1235h11M3700 1241h11M3700 1219h11M3700 1459h11M3700 1324h11M3700 1323h11M3700 1206h11M3701 1389h11M3701 1551h11M3701 1450h11M3701 1439h11M3701 1305h11M3701 1605h11M3702 1412h11M3703 1231h11M3703 1336h11M3704 1223h11M3704 1311h11M3704 1520h11M3704 1310h11M3704 1525h11M3704 1313h11M3705 1216h11M3705 1376h11M3705 1417h11M3706 1543h11M3706 1327h11M3706 1258h11M3707 1368h11M3708 1203h11M3708 1351h11M3708 1398h11M3708 1417h11M3708 1319h11M3708 1272h11M3710 1184h11M3710 1591h11M3710 1345h11M3711 1484h11M3711 1585h11M3711 1566h11M3712 1592h11M3712 1374h11M3712 1468h11M3712 1575h11M3712 1224h11M3712 1411h11M3713 1202h11M3713 1376h11M3713 1303h11M3713 1268h11M3713 1351h11M3714 1434h11M3714 1453h11M3714 1290h11M3715 1222h11M3715 1251h11M3716 1417h11M3716 1532h11M3716 1254h11M3716 1617h11M3716 1581h11M3717 1546h11M3717 1476h11M3718 1414h11M3719 1424h11M3719 1530h11M3720 1441h11M3720 1386h11M3721 1620h11M3721 1423h11M3722 1346h11M3723 1378h11M3723 1317h11M3724 1574h11M3724 1367h11M3724 1191h11M3724 1343h11M3724 1286h11M3725 1305h11M3726 1256h11M3726 1583h11M3726 1362h11M3727 1516h11M3727 1219h11M3727 1359h11M3727 1336h11M3728 1453h11M3728 1452h11M3729 1579h11M3729 1243h11M3729 1442h11M3730 1366h11M3730 1312h11M3730 1255h11M3730 1247h11M3731 1542h11M3731 1557h11M3731 1500h11M3732 1384h11M3732 1375h11M3733 1158h11M3733 1507h11M3734 1512h11M3735 1418h11M3735 1307h11M3736 1497h11M3737 1196h11M3738 1403h11M3738 1523h11M3739 1478h11M3739 1353h11M3739 1310h11M3739 1263h11M3742 1550h11M3742 1474h11M3743 1513h11M3745 1237h11M3745 1439h11M3745 1292h11M3746 1298h11M3747 1617h11M3748 1385h11M3748 1352h11M3748 1639h11M3749 1339h11M3749 1373h11M3750 1422h11M3750 1364h11M3751 1501h11M3751 1385h11M3752 1521h11M3752 1317h11M3752 1344h11M3753 1350h11M3754 1395h11M3754 1357h11M3756 1309h11M3756 1504h11M3758 1411h11M3758 1340h11M3759 1553h11M3759 1375h11M3760 1447h11M3760 1230h11M3760 1387h11M3761 1312h11M3761 1333h11M3761 1431h11M3762 1413h11M3762 1196h11M3763 1571h11M3764 1373h11M3764 1190h11M3765 1615h11M3766 1512h11M3767 1449h11M3768 1493h11M3768 1456h11M3768 1323h11M3768 1618h11M3768 1402h11M3768 1522h11M3770 1247h11M3770 1623h11M3771 1203h11M3771 1380h11M3772 1621h11M3773 1517h11M3773 1387h11M3773 1361h11M3774 1349h11M3774 1523h11M3775 1432h11M3775 1229h11M3775 1454h11M3775 1437h11M3775 1191h11M3776 1228h11M3776 1360h11M3777 1300h11M3777 1404h11M3777 1371h11M3778 1249h11M3778 1436h11M3778 1538h11M3778 1380h11M3779 1201h11M3780 1292h11M3781 1415h11M3782 1451h11M3782 1264h11M3783 1432h11M3783 1500h11M3784 1470h11M3784 1400h11M3784 1510h11M3784 1530h11M3786 1330h11M3786 1315h11M3787 1418h11M3787 1419h11M3787 1217h11M3788 1255h11M3788 1390h11M3788 1193h11M3789 1357h11M3789 1473h11M3790 1450h11M3790 1417h11M3791 1513h11M3791 1337h11M3791 1396h11M3792 1470h11M3793 1407h11M3794 1318h11M3795 1169h11M3796 1391h11M3797 1254h11M3797 1194h11M3797 1394h11M3798 1438h11M3799 1473h11M3799 1275h11M3800 1341h11M3801 1511h11M3801 1428h11M3801 1276h11M3802 1336h11M3802 1577h11M3802 1502h11M3803 1394h11M3803 1443h11M3803 1231h11M3803 1240h11M3803 1276h11M3804 1320h11M3804 1501h11M3804 1224h11M3805 1297h11M3805 1373h11M3805 1390h11M3806 1274h11M3806 1464h11M3807 1462h11M3807 1415h11M3808 1348h11M3809 1332h11M3809 1431h11M3809 1490h11M3811 1216h11M3811 1379h11M3813 1284h11M3814 1260h11M3814 1250h11M3815 1339h11M3817 1502h11M3818 1485h11M3818 1252h11M3819 1413h11M3819 1357h11M3819 1279h11M3819 1343h11M3820 1326h11M3821 1519h11M3821 1353h11M3821 1326h11M3823 1381h11M3823 1384h11M3823 1601h11M3823 1352h11M3824 1225h11M3824 1238h11M3824 1398h11M3825 1338h11M3825 1393h11M3825 1344h11M3827 1485h11M3827 1531h11M3828 1528h11M3829 1209h11M3830 1335h11M3830 1429h11M3831 1236h11M3833 1400h11M3834 1475h11M3834 1295h11M3835 1583h11M3835 1443h11M3836 1245h11M3836 1224h11M3837 1435h11M3837 1371h11M3838 1378h11M3839 1215h11M3840 1360h11M3841 1526h11M3841 1427h11M3841 1222h11M3842 1421h11M3842 1286h11M3843 1269h11M3844 1334h11M3845 1310h11M3845 1220h11M3846 1326h11M3846 1300h11M3847 1234h11M3847 1257h11M3847 1292h11M3848 1385h11M3848 1265h11M3848 1605h11M3848 1417h11M3849 1316h11M3850 1386h11M3853 1512h11M3854 1284h11M3855 1431h11M3855 1371h11M3855 1262h11M3855 1360h11M3856 1194h11M3856 1416h11M3856 1325h11M3857 1283h11M3858 1340h11M3859 1462h11M3859 1492h11M3860 1290h11M3860 1549h11M3860 1249h11M3860 1217h11M3860 1175h11M3861 1458h11M3863 1559h11M3863 1211h11M3863 1361h11M3863 1244h11M3863 1320h11M3869 1323h11M3869 1389h11M3869 1335h11M3870 1344h11M3870 1234h11M3871 1186h11M3872 1244h11M3873 1598h11M3874 1391h11M3875 1339h11M3877 1499h11M3877 1364h11M3878 1365h11M3878 1252h11M3878 1341h11M3878 1353h11M3879 1383h11M3879 1269h11M3879 1360h11M3880 1341h11M3881 1310h11M3882 1439h11M3883 1415h11M3883 1227h11M3885 1252h11M3885 1430h11M3886 1360h11M3886 1533h11M3887 1212h11M3887 1247h11M3888 1271h11M3888 1195h11M3890 1378h11M3892 1212h11M3893 1266h11M3894 1389h11M3895 1328h11M3896 1183h11M3898 1230h11M3898 1301h11M3898 1317h11M3899 1246h11M3899 1229h11M3900 1340h11M3900 1347h11M3900 1191h11M3901 1423h11M3902 1310h11M3903 1347h11M3903 1487h11M3903 1393h11M3904 1382h11M3905 1474h11M3905 1428h11M3906 1388h11M3907 1403h11M3909 1467h11M3910 1402h11M3910 1381h11M3911 1420h11M3913 1234h11M3914 1485h11M3914 1341h11M3915 1416h11M3916 1276h11M3917 1348h11M3922 1511h11M3923 1188h11M3926 1259h11M3926 1369h11M3927 1300h11M3928 1312h11M3931 1370h11M3933 1192h11M3933 1314h11M3935 1299h11M3935 1291h11M3935 1382h11M3936 1274h11M3937 1533h11M3937 1308h11M3941 1255h11M3942 1338h11M3945 1476h11M3948 1371h11M3951 1246h11M3955 1326h11M3956 1332h11M3958 1320h11M3960 1301h11M3963 1360h11M3964 1374h11M3965 1325h11M3966 1279h11M3968 1177h11M3968 1311h11M3969 1364h11M3970 1404h11M3974 1162h11M3974 1252h11M3982 1405h11M3985 1303h11M3989 1328h11M3990 1331h11M4000 1370h11M4006 1277h11M4006 1280h11M4008 1294h11M4009 1355h11M4011 1194h11M4017 1366h11M4017 1246h11M4026 1213h11M4026 1415h11M4029 1343h11M4029 1287h11M4030 1380h11M4040 1365h11M4042 1318h11M4045 1452h11M4049 1434h11M4102 1323h11M4189 1315h11" stroke="#000" stroke-opacity="0.36" stroke-width="11" fill="none" transform="scale(.1)"/>
</g>
<rect x="324.5" y="77.5" width="143.00" height="125.00" fill="none" stroke="#6c6c6c" stroke-width="1.1"/>
<path d="M322.5 77.5H324.5M323.4 99.6H324.5M323.4 94.0H324.5M323.4 90.1H324.5M323.4 87.0H324.5M323.4 84.5H324.5M323.4 82.4H324.5M323.4 80.6H324.5M323.4 78.9H324.5M322.5 109.1H324.5M323.4 131.2H324.5M323.4 125.6H324.5M323.4 121.7H324.5M323.4 118.6H324.5M323.4 116.1H324.5M323.4 114.0H324.5M323.4 112.2H324.5M323.4 110.5H324.5M322.5 140.7H324.5M323.4 162.8H324.5M323.4 157.2H324.5M323.4 153.3H324.5M323.4 150.2H324.5M323.4 147.7H324.5M323.4 145.6H324.5M323.4 143.8H324.5M323.4 142.1H324.5M322.5 172.3H324.5M323.4 194.4H324.5M323.4 188.8H324.5M323.4 184.9H324.5M323.4 181.8H324.5M323.4 179.3H324.5M323.4 177.2H324.5M323.4 175.4H324.5M323.4 173.7H324.5M467.5 202.5V204.5M442.9 202.5V203.6M449.1 202.5V203.6M453.5 202.5V203.6M456.9 202.5V203.6M459.7 202.5V203.6M462.0 202.5V203.6M464.1 202.5V203.6M465.9 202.5V203.6M432.2 202.5V204.5M407.6 202.5V203.6M413.8 202.5V203.6M418.2 202.5V203.6M421.6 202.5V203.6M424.4 202.5V203.6M426.8 202.5V203.6M428.8 202.5V203.6M430.6 202.5V203.6M397.0 202.5V204.5M372.4 202.5V203.6M378.6 202.5V203.6M383.0 202.5V203.6M386.4 202.5V203.6M389.2 202.5V203.6M391.5 202.5V203.6M393.6 202.5V203.6M395.4 202.5V203.6M361.8 202.5V204.5M337.1 202.5V203.6M343.3 202.5V203.6M347.7 202.5V203.6M351.1 202.5V203.6M353.9 202.5V203.6M356.3 202.5V203.6M358.3 202.5V203.6M360.1 202.5V203.6M326.5 202.5V204.5M324.9 202.5V203.6" stroke="#555" stroke-width="0.8" fill="none"/>
<rect x="362.5" y="81.5" width="95.00" height="110.00" fill="none" stroke="#505050" stroke-width="1"/>
<rect x="421.5" y="81.5" width="36.00" height="21.20" fill="#fff" stroke="#b5b5b5" stroke-width="0.8"/>
<text x="422.4" y="97.5" font-family="'DejaVu Sans','Liberation Sans',sans-serif" font-size="14" font-weight="bold" text-anchor="start" fill="#111" textLength="33.8" lengthAdjust="spacingAndGlyphs" >62%</text>
<text x="306.1" y="81.4" font-family="'Liberation Sans',Arial,sans-serif" font-size="8.7" font-weight="bold" fill="#111" stroke="#111" stroke-width="0.25" textLength="10.1" lengthAdjust="spacingAndGlyphs">10</text>
<text x="316.4" y="78.3" font-family="'Liberation Sans',Arial,sans-serif" font-size="5.6" font-weight="bold" fill="#111">3</text>
<text x="306.1" y="113.0" font-family="'Liberation Sans',Arial,sans-serif" font-size="8.7" font-weight="bold" fill="#111" stroke="#111" stroke-width="0.25" textLength="10.1" lengthAdjust="spacingAndGlyphs">10</text>
<text x="316.4" y="109.9" font-family="'Liberation Sans',Arial,sans-serif" font-size="5.6" font-weight="bold" fill="#111">2</text>
<text x="306.1" y="144.6" font-family="'Liberation Sans',Arial,sans-serif" font-size="8.7" font-weight="bold" fill="#111" stroke="#111" stroke-width="0.25" textLength="10.1" lengthAdjust="spacingAndGlyphs">10</text>
<text x="316.4" y="141.5" font-family="'Liberation Sans',Arial,sans-serif" font-size="5.6" font-weight="bold" fill="#111">1</text>
<text x="306.1" y="176.2" font-family="'Liberation Sans',Arial,sans-serif" font-size="8.7" font-weight="bold" fill="#111" stroke="#111" stroke-width="0.25" textLength="10.1" lengthAdjust="spacingAndGlyphs">10</text>
<text x="316.4" y="173.1" font-family="'Liberation Sans',Arial,sans-serif" font-size="5.6" font-weight="bold" fill="#111">0</text>
<text x="460.3" y="215.3" font-family="'Liberation Sans',Arial,sans-serif" font-size="8.7" font-weight="bold" fill="#111" stroke="#111" stroke-width="0.25" textLength="10.1" lengthAdjust="spacingAndGlyphs">10</text>
<text x="470.6" y="212.2" font-family="'Liberation Sans',Arial,sans-serif" font-size="5.6" font-weight="bold" fill="#111">3</text>
<text x="425.1" y="215.3" font-family="'Liberation Sans',Arial,sans-serif" font-size="8.7" font-weight="bold" fill="#111" stroke="#111" stroke-width="0.25" textLength="10.1" lengthAdjust="spacingAndGlyphs">10</text>
<text x="435.4" y="212.2" font-family="'Liberation Sans',Arial,sans-serif" font-size="5.6" font-weight="bold" fill="#111">2</text>
<text x="389.8" y="215.3" font-family="'Liberation Sans',Arial,sans-serif" font-size="8.7" font-weight="bold" fill="#111" stroke="#111" stroke-width="0.25" textLength="10.1" lengthAdjust="spacingAndGlyphs">10</text>
<text x="400.1" y="212.2" font-family="'Liberation Sans',Arial,sans-serif" font-size="5.6" font-weight="bold" fill="#111">1</text>
<text x="354.6" y="215.3" font-family="'Liberation Sans',Arial,sans-serif" font-size="8.7" font-weight="bold" fill="#111" stroke="#111" stroke-width="0.25" textLength="10.1" lengthAdjust="spacingAndGlyphs">10</text>
<text x="364.9" y="212.2" font-family="'Liberation Sans',Arial,sans-serif" font-size="5.6" font-weight="bold" fill="#111">0</text>
</g>
<g id="p3">
<g filter="url(#bl)">
<ellipse cx="175.0" cy="264.0" rx="11.5" ry="5.2" transform="rotate(-21 175.0 264.0)" fill="#000" fill-opacity="1.0" filter="url(#bc)"/>
<ellipse cx="181.5" cy="260" rx="4.5" ry="3.5" transform="rotate(0 181.5 260)" fill="#000" fill-opacity="0.6" filter="url(#bc)"/>
<path d="M1572 2709h13M1575 2632h13M1584 2642h13M1588 2721h13M1592 2676h13M1592 2724h13M1596 2663h13M1604 2717h13M1609 2561h13M1615 2635h13M1615 2751h13M1618 3056h13M1630 2636h13M1633 2515h13M1633 2646h13M1634 2662h13M1634 2667h13M1637 3105h13M1637 2750h13M1640 2674h13M1641 2728h13M1643 2853h13M1643 2692h13M1646 2663h13M1651 2633h13M1651 2675h13M1652 2613h13M1654 2586h13M1654 2703h13M1655 2586h13M1655 2599h13M1659 2593h13M1661 2629h13M1665 2700h13M1672 2629h13M1672 2641h13M1672 2658h13M1675 2664h13M1676 2687h13M1677 2569h13M1678 2750h13M1678 2647h13M1680 2618h13M1681 2618h13M1684 2700h13M1686 2675h13M1688 2612h13M1690 2592h13M1690 2696h13M1691 2653h13M1693 2631h13M1694 2654h13M1696 2599h13M1697 2648h13M1698 2614h13M1698 2742h13M1699 2657h13M1701 2653h13M1704 2668h13M1705 2724h13M1706 2673h13M1707 2734h13M1708 2697h13M1709 2662h13M1711 2666h13M1711 2626h13M1712 2733h13M1713 2644h13M1715 2606h13M1717 2644h13M1720 2608h13M1721 2697h13M1724 2624h13M1725 2723h13M1725 2635h13M1725 2653h13M1726 2773h13M1726 2661h13M1727 2547h13M1730 2684h13M1730 2604h13M1732 2611h13M1733 2653h13M1733 2658h13M1735 2670h13M1735 2614h13M1738 2644h13M1741 2655h13M1743 2576h13M1746 2595h13M1747 2700h13M1748 2771h13M1749 2614h13M1751 2898h13M1751 2670h13M1751 2644h13M1753 2655h13M1754 2688h13M1757 2695h13M1759 2654h13M1759 2696h13M1759 2648h13M1762 2606h13M1763 2604h13M1764 2596h13M1764 2594h13M1765 2674h13M1766 2666h13M1767 2686h13M1767 2721h13M1767 2548h13M1767 2628h13M1767 2633h13M1768 2753h13M1768 2554h13M1769 2640h13M1769 2625h13M1769 2725h13M1770 2639h13M1771 2696h13M1776 2669h13M1776 2650h13M1776 2701h13M1777 2634h13M1777 2916h13M1777 2670h13M1778 2645h13M1778 2578h13M1780 2635h13M1783 2648h13M1783 2610h13M1784 2625h13M1786 2614h13M1788 2676h13M1789 2479h13M1790 2710h13M1790 2705h13M1791 2600h13M1791 2589h13M1792 2706h13M1793 2640h13M1796 2600h13M1797 2640h13M1797 2537h13M1797 2638h13M1799 2687h13M1800 2636h13M1800 2573h13M1800 2664h13M1801 2718h13M1801 2519h13M1803 2656h13M1803 2564h13M1806 2638h13M1807 2572h13M1808 2576h13M1809 2643h13M1812 2648h13M1812 2632h13M1814 2568h13M1818 2736h13M1819 2603h13M1823 2657h13M1823 2704h13M1823 2953h13M1825 3103h13M1825 2607h13M1825 2627h13M1829 2555h13M1829 2660h13M1829 2638h13M1834 2679h13M1837 2593h13M1837 3147h13M1838 2600h13M1846 3446h13M1849 2540h13M1849 2546h13M1852 2653h13M1853 2769h13M1857 2945h13M1857 2668h13M1859 2728h13M1865 2598h13M1867 2688h13M1867 2640h13M1868 2532h13M1869 2658h13M1874 2633h13M1875 2602h13M1875 2604h13M1875 2631h13M1876 2603h13M1876 2631h13M1877 2558h13M1877 2620h13M1877 2720h13M1878 2591h13M1878 2703h13M1880 2579h13M1881 2662h13M1882 2630h13M1884 2641h13M1885 2640h13M1886 2654h13M1887 2576h13M1887 2719h13M1887 2613h13M1888 2612h13M1890 2531h13M1890 2631h13M1891 2918h13M1892 2571h13M1893 2644h13M1893 2674h13M1894 2701h13M1899 2650h13M1900 2720h13M1901 2624h13M1903 2616h13M1903 2738h13M1909 2516h13M1910 2612h13M1912 2596h13M1914 2465h13M1918 2715h13M1918 2611h13M1922 2568h13M1923 2656h13M1927 2679h13M1931 2666h13M1931 2609h13M1937 2630h13M1943 2594h13M1948 2517h13M1952 2651h13M1955 2548h13M1956 2616h13M1956 2672h13M1961 2583h13M1961 2604h13M1963 2648h13M1963 2642h13M1966 2640h13M1967 2632h13M1967 2631h13M1971 2584h13M1984 2682h13M1984 2600h13M2008 2534h13M2008 2643h13M2012 2573h13M2019 2635h13M2023 2674h13M2036 2670h13M2054 3038h13M2059 2636h13M2062 2712h13M2075 2668h13" stroke="#000" stroke-opacity="0.22" stroke-width="13" fill="none" transform="scale(.1)"/>
<path d="M1570 2701h13M1583 2714h13M1591 2641h13M1591 2625h13M1593 2624h13M1595 2760h13M1597 2774h13M1599 2711h13M1600 2659h13M1603 2664h13M1606 2736h13M1610 2703h13M1614 2723h13M1619 2649h13M1621 2683h13M1622 2675h13M1626 2699h13M1632 2683h13M1632 2655h13M1635 2657h13M1638 2756h13M1645 2679h13M1645 2592h13M1647 2773h13M1648 2799h13M1651 2714h13M1654 2628h13M1654 2645h13M1658 2556h13M1659 2536h13M1660 2714h13M1661 2680h13M1661 2617h13M1664 2721h13M1669 2783h13M1669 2677h13M1669 2635h13M1669 2660h13M1673 2614h13M1674 2579h13M1678 2776h13M1678 2670h13M1679 2720h13M1679 2640h13M1685 2725h13M1686 2626h13M1686 2701h13M1689 2677h13M1689 2571h13M1690 2637h13M1690 2694h13M1694 2691h13M1696 2630h13M1697 2602h13M1699 2642h13M1701 2700h13M1702 2620h13M1707 2632h13M1710 2690h13M1714 2571h13M1715 2650h13M1718 2587h13M1718 2650h13M1719 2590h13M1719 2810h13M1719 2700h13M1721 2740h13M1722 2626h13M1725 2712h13M1726 2615h13M1727 2668h13M1727 2777h13M1729 2694h13M1729 2606h13M1730 2720h13M1736 2655h13M1739 2596h13M1739 2606h13M1740 2957h13M1741 2554h13M1744 2635h13M1745 2569h13M1746 2697h13M1746 2677h13M1746 2662h13M1747 2546h13M1749 2653h13M1752 2738h13M1753 2783h13M1754 3498h13M1757 2702h13M1759 2564h13M1760 2639h13M1762 2585h13M1762 2647h13M1764 2731h13M1764 2572h13M1764 2591h13M1765 2582h13M1766 2637h13M1766 2638h13M1769 2652h13M1771 2769h13M1771 2634h13M1772 2521h13M1773 2676h13M1773 2649h13M1773 2630h13M1778 2676h13M1780 2569h13M1780 2714h13M1780 2527h13M1783 2749h13M1785 2664h13M1786 2580h13M1787 2525h13M1787 2561h13M1789 2512h13M1790 2556h13M1794 2611h13M1795 2656h13M1797 2716h13M1797 2716h13M1798 2525h13M1800 2588h13M1801 3011h13M1802 2441h13M1802 2543h13M1805 2696h13M1806 2638h13M1808 2974h13M1809 2536h13M1810 2629h13M1811 3356h13M1812 2681h13M1814 2659h13M1814 2709h13M1814 2560h13M1814 2891h13M1816 2615h13M1816 3008h13M1819 2589h13M1820 2559h13M1821 2614h13M1821 2683h13M1822 2615h13M1824 3164h13M1832 2563h13M1834 2700h13M1835 2462h13M1835 2729h13M1835 2554h13M1839 2635h13M1841 2604h13M1841 2806h13M1842 2641h13M1843 2958h13M1843 2710h13M1843 2567h13M1844 2606h13M1846 2614h13M1848 2612h13M1848 2686h13M1849 2732h13M1850 2676h13M1854 2660h13M1856 2660h13M1857 2569h13M1858 2572h13M1862 2596h13M1863 2647h13M1864 2639h13M1867 2574h13M1869 3089h13M1871 2674h13M1871 2691h13M1871 2698h13M1872 2708h13M1872 2614h13M1873 2629h13M1874 2654h13M1875 2578h13M1875 2623h13M1877 2654h13M1878 2631h13M1880 2613h13M1881 2551h13M1882 2609h13M1883 2637h13M1883 2651h13M1887 2604h13M1887 2520h13M1890 2713h13M1890 3063h13M1892 2608h13M1892 2710h13M1893 2613h13M1895 2608h13M1895 2654h13M1896 2668h13M1897 2592h13M1897 2606h13M1900 2622h13M1900 2629h13M1901 2640h13M1902 2638h13M1903 2549h13M1905 2653h13M1909 2572h13M1910 2557h13M1910 3039h13M1911 2598h13M1912 2645h13M1912 2656h13M1912 2621h13M1915 2631h13M1916 2607h13M1917 2605h13M1917 2557h13M1918 2602h13M1918 2571h13M1920 2563h13M1922 2729h13M1926 2588h13M1928 2630h13M1928 2678h13M1928 2611h13M1929 2553h13M1933 2596h13M1934 2617h13M1936 2538h13M1937 2571h13M1937 2637h13M1938 2712h13M1939 2612h13M1939 2602h13M1940 2682h13M1941 2561h13M1942 2637h13M1944 2639h13M1945 2612h13M1951 2612h13M1953 2630h13M1956 2591h13M1959 2572h13M1963 2614h13M1967 2673h13M1978 2704h13M1979 2638h13M1980 2588h13M1993 2596h13M2026 3165h13M2033 2649h13M2043 2592h13M2046 2686h13M2057 2681h13M2106 2586h13M2110 2671h13" stroke="#000" stroke-opacity="0.22" stroke-width="13" fill="none" transform="scale(.1)"/>
<path d="M1571 2736h11M1585 2669h11M1588 2704h11M1590 2677h11M1591 2677h11M1592 2704h11M1599 2671h11M1599 2664h11M1603 2667h11M1605 2706h11M1605 2722h11M1606 2613h11M1608 2730h11M1609 2696h11M1609 2660h11M1611 2676h11M1612 2675h11M1613 2613h11M1618 2645h11M1619 2711h11M1623 2659h11M1624 2680h11M1628 2666h11M1628 2617h11M1628 2728h11M1628 2659h11M1631 2662h11M1632 2595h11M1634 2727h11M1634 2679h11M1636 2691h11M1638 2633h11M1638 2675h11M1639 2669h11M1639 2609h11M1640 2665h11M1640 2677h11M1642 2694h11M1642 2690h11M1644 2659h11M1644 2682h11M1645 2693h11M1646 2654h11M1647 2699h11M1649 2650h11M1649 2662h11M1650 2627h11M1650 2684h11M1650 2668h11M1651 2671h11M1652 2656h11M1653 2705h11M1653 2623h11M1653 2648h11M1653 2645h11M1654 2727h11M1654 2701h11M1655 2668h11M1655 2642h11M1655 2676h11M1655 2694h11M1655 2704h11M1656 2661h11M1656 2608h11M1657 2671h11M1658 2740h11M1658 2684h11M1658 2574h11M1659 2642h11M1660 2639h11M1660 2699h11M1660 2664h11M1661 2612h11M1662 2678h11M1662 2675h11M1662 2648h11M1663 2681h11M1663 2672h11M1663 2663h11M1664 2703h11M1665 2622h11M1665 2682h11M1666 2692h11M1666 2694h11M1667 2690h11M1669 2701h11M1672 2673h11M1672 2605h11M1675 2633h11M1675 2626h11M1675 2677h11M1676 2639h11M1679 2613h11M1679 2640h11M1679 2586h11M1679 2626h11M1680 2588h11M1680 2612h11M1680 2673h11M1681 2639h11M1681 2694h11M1682 2618h11M1683 2667h11M1683 2645h11M1683 2617h11M1683 2681h11M1684 2658h11M1684 2667h11M1685 2552h11M1685 2679h11M1686 2603h11M1687 2751h11M1688 2643h11M1688 2672h11M1688 2682h11M1689 2711h11M1689 2634h11M1689 2670h11M1690 2632h11M1690 2705h11M1691 2683h11M1691 2585h11M1692 2671h11M1692 2638h11M1693 2658h11M1693 2649h11M1693 2659h11M1694 2663h11M1694 2643h11M1694 2661h11M1694 2698h11M1696 2657h11M1697 2610h11M1697 2676h11M1697 2568h11M1697 2694h11M1697 2652h11M1697 2635h11M1698 2517h11M1698 2622h11M1698 2691h11M1699 2612h11M1699 2740h11M1699 2600h11M1699 2676h11M1700 2662h11M1701 2609h11M1701 2633h11M1701 2634h11M1701 2660h11M1701 2646h11M1702 2672h11M1703 2731h11M1703 2642h11M1703 2631h11M1703 2601h11M1703 2633h11M1704 2577h11M1705 2681h11M1705 2662h11M1705 2681h11M1705 2634h11M1705 2637h11M1706 2636h11M1706 2629h11M1706 2672h11M1708 2637h11M1708 2646h11M1708 2639h11M1709 2677h11M1709 2702h11M1709 2643h11M1709 2671h11M1710 2663h11M1710 2616h11M1711 2672h11M1711 2661h11M1713 2646h11M1715 2590h11M1715 2610h11M1716 2649h11M1716 2641h11M1717 2698h11M1717 2692h11M1717 2710h11M1717 2627h11M1718 2620h11M1719 2581h11M1719 2720h11M1719 2673h11M1719 2671h11M1721 2575h11M1721 2662h11M1721 2698h11M1721 2638h11M1721 2604h11M1721 2648h11M1722 2686h11M1722 2704h11M1722 2616h11M1722 2644h11M1722 2698h11M1723 2672h11M1723 2622h11M1723 2641h11M1723 2671h11M1723 2674h11M1724 2673h11M1724 2716h11M1724 2700h11M1724 2679h11M1724 2660h11M1724 2676h11M1724 2641h11M1724 2625h11M1725 2639h11M1725 2686h11M1726 2674h11M1726 2634h11M1726 2678h11M1726 2612h11M1726 2673h11M1726 2628h11M1727 2608h11M1727 2658h11M1728 2681h11M1729 2612h11M1729 2642h11M1729 2650h11M1729 2648h11M1729 2714h11M1730 2693h11M1730 2631h11M1730 2613h11M1730 2648h11M1730 2663h11M1731 2686h11M1732 2667h11M1732 2652h11M1733 2613h11M1733 2652h11M1734 2601h11M1734 2662h11M1734 2693h11M1734 2601h11M1734 2664h11M1734 2685h11M1734 2664h11M1734 2621h11M1735 2660h11M1735 2588h11M1735 2618h11M1735 2642h11M1735 2660h11M1736 2660h11M1736 2664h11M1736 2639h11M1736 2674h11M1736 2661h11M1736 2646h11M1736 2645h11M1737 2599h11M1737 2588h11M1737 2685h11M1737 2612h11M1737 2653h11M1738 2601h11M1738 2639h11M1738 2668h11M1738 2609h11M1738 2554h11M1738 2622h11M1739 2657h11M1739 2640h11M1739 2568h11M1739 2601h11M1739 2637h11M1740 2684h11M1740 2709h11M1740 2631h11M1740 2636h11M1741 2629h11M1741 2642h11M1741 2646h11M1741 2674h11M1742 2602h11M1742 2638h11M1742 2574h11M1742 2636h11M1743 2692h11M1743 2660h11M1744 2630h11M1744 2579h11M1744 2614h11M1745 2629h11M1745 2595h11M1745 2678h11M1745 2654h11M1746 2641h11M1746 2593h11M1746 2647h11M1746 2673h11M1747 2697h11M1747 2538h11M1747 2632h11M1747 2736h11M1747 2640h11M1748 2656h11M1749 2664h11M1749 2625h11M1749 2681h11M1749 2574h11M1749 2614h11M1749 2683h11M1749 2686h11M1749 2584h11M1749 2617h11M1749 2607h11M1749 2683h11M1750 2682h11M1750 2619h11M1750 2659h11M1750 2681h11M1751 2627h11M1751 2674h11M1751 2597h11M1751 2636h11M1751 2625h11M1751 2676h11M1752 2676h11M1752 2636h11M1752 2659h11M1753 2584h11M1753 2593h11M1753 2638h11M1754 2692h11M1754 2632h11M1754 2669h11M1754 2741h11M1754 2643h11M1754 2594h11M1754 2678h11M1755 2655h11M1755 2685h11M1755 2639h11M1755 2647h11M1755 2588h11M1755 2647h11M1755 2613h11M1755 2630h11M1755 2654h11M1756 2610h11M1756 2638h11M1756 2610h11M1756 2618h11M1756 2624h11M1756 2650h11M1757 2636h11M1758 2636h11M1758 2619h11M1758 2669h11M1758 2668h11M1759 2623h11M1759 2616h11M1759 2670h11M1759 2595h11M1759 2628h11M1759 2626h11M1760 2589h11M1760 2653h11M1761 2666h11M1761 2594h11M1761 2595h11M1762 2625h11M1762 2629h11M1762 2623h11M1762 2636h11M1763 2602h11M1763 2656h11M1763 2662h11M1763 2637h11M1764 2695h11M1764 2624h11M1764 2580h11M1764 2656h11M1764 2584h11M1765 2679h11M1765 2618h11M1765 2665h11M1765 2524h11M1765 2633h11M1766 2634h11M1766 2630h11M1766 2601h11M1766 2507h11M1766 2608h11M1766 2596h11M1766 2634h11M1767 2686h11M1767 2634h11M1767 2598h11M1767 2629h11M1767 2706h11M1768 2614h11M1768 2602h11M1768 2669h11M1769 2551h11M1769 2609h11M1770 2591h11M1770 2588h11M1770 2633h11M1771 2621h11M1771 2712h11M1771 2654h11M1771 2629h11M1771 2597h11M1771 2598h11M1772 2695h11M1773 2672h11M1773 2576h11M1773 2638h11M1773 2602h11M1774 2603h11M1774 2675h11M1774 2679h11M1775 2628h11M1775 2616h11M1775 2612h11M1775 2614h11M1775 2599h11M1775 2556h11M1776 2656h11M1776 2645h11M1776 2619h11M1776 2650h11M1777 2680h11M1777 2617h11M1777 2632h11M1778 2630h11M1779 2660h11M1780 2644h11M1780 2585h11M1780 2579h11M1780 2734h11M1780 2600h11M1780 2607h11M1781 2571h11M1781 2630h11M1782 2597h11M1782 2616h11M1782 2620h11M1782 2668h11M1782 2668h11M1782 2672h11M1783 2615h11M1783 2667h11M1783 2649h11M1784 2610h11M1784 2688h11M1784 2648h11M1784 2594h11M1784 2625h11M1784 2583h11M1784 2662h11M1785 2650h11M1785 2681h11M1785 2601h11M1785 2601h11M1786 2603h11M1786 2606h11M1786 2612h11M1786 2579h11M1787 2596h11M1787 2628h11M1787 2651h11M1787 2629h11M1788 2629h11M1788 2648h11M1788 2634h11M1788 2700h11M1788 2631h11M1789 2593h11M1789 2647h11M1789 2614h11M1789 2691h11M1790 2573h11M1790 2569h11M1790 2628h11M1790 2668h11M1790 2604h11M1791 2653h11M1791 2649h11M1791 2552h11M1791 2696h11M1791 2588h11M1792 2658h11M1792 2636h11M1792 2604h11M1792 2602h11M1793 2633h11M1793 2654h11M1794 2615h11M1794 2671h11M1794 2731h11M1794 2671h11M1795 2589h11M1795 2667h11M1795 2612h11M1796 2574h11M1796 2661h11M1796 2608h11M1796 2664h11M1796 2623h11M1797 2598h11M1797 2643h11M1798 2661h11M1798 2650h11M1798 2628h11M1798 2657h11M1798 2664h11M1798 2605h11M1799 2662h11M1799 2635h11M1799 2635h11M1799 2630h11M1799 2648h11M1799 2600h11M1799 2641h11M1799 2627h11M1800 2673h11M1801 2611h11M1801 2612h11M1801 2616h11M1802 2605h11M1802 2576h11M1802 2629h11M1802 2534h11M1802 2643h11M1803 2621h11M1803 2657h11M1803 2611h11M1803 2749h11M1803 2623h11M1803 2593h11M1804 2662h11M1804 2622h11M1804 2637h11M1804 2600h11M1805 2596h11M1805 2610h11M1805 2593h11M1806 2606h11M1806 2572h11M1806 2609h11M1806 2654h11M1807 2642h11M1807 2669h11M1807 2605h11M1808 2562h11M1808 2641h11M1810 2557h11M1810 2607h11M1810 2643h11M1810 2597h11M1810 2608h11M1811 2641h11M1811 2575h11M1811 2633h11M1812 2575h11M1812 2590h11M1812 2660h11M1812 2670h11M1812 2637h11M1812 2627h11M1812 2701h11M1814 2562h11M1814 2524h11M1814 2620h11M1814 2620h11M1815 2645h11M1815 2626h11M1815 2640h11M1816 2687h11M1816 2553h11M1816 2626h11M1817 2601h11M1817 2573h11M1817 2580h11M1818 2596h11M1818 2588h11M1819 2586h11M1819 2575h11M1819 2602h11M1821 2553h11M1821 2599h11M1821 2646h11M1821 2639h11M1821 2593h11M1822 2633h11M1822 2618h11M1822 2592h11M1823 2570h11M1823 2614h11M1824 2643h11M1824 2595h11M1825 2616h11M1825 2545h11M1825 2689h11M1825 2676h11M1825 2606h11M1825 2679h11M1826 2672h11M1826 2625h11M1827 2654h11M1827 2588h11M1827 2615h11M1828 2654h11M1829 2611h11M1829 2600h11M1829 2615h11M1829 2620h11M1829 2557h11M1829 2632h11M1830 2570h11M1830 2574h11M1831 2595h11M1832 2616h11M1832 2591h11M1833 2636h11M1833 2574h11M1834 2584h11M1834 2586h11M1834 2584h11M1835 2536h11M1835 2601h11M1835 2642h11M1836 2574h11M1836 2565h11M1836 2661h11M1838 2670h11M1838 2584h11M1840 2566h11M1840 2628h11M1841 2595h11M1842 2629h11M1842 2550h11M1843 2609h11M1843 2663h11M1843 2615h11M1844 2741h11M1844 2646h11M1844 2639h11M1845 2580h11M1845 2579h11M1846 2614h11M1846 2622h11M1847 2556h11M1848 2658h11M1849 2572h11M1849 2592h11M1849 2615h11M1850 2581h11M1850 2663h11M1851 2589h11M1851 2636h11M1853 2613h11M1853 2585h11M1853 2614h11M1853 2683h11M1853 2681h11M1854 2553h11M1854 2644h11M1855 2567h11M1856 2581h11M1856 2610h11M1856 2558h11M1857 2651h11M1858 2616h11M1859 2571h11M1860 2644h11M1860 2622h11M1860 2634h11M1860 2630h11M1862 2603h11M1862 2585h11M1864 2603h11M1864 2571h11M1864 2582h11M1865 2573h11M1865 2618h11M1866 2582h11M1867 2602h11M1871 2646h11M1871 2626h11M1872 2565h11M1872 2609h11M1876 2660h11M1876 2609h11M1880 2542h11M1881 2671h11M1882 2699h11M1884 2620h11M1889 2573h11M1890 2625h11M1893 2618h11M1895 2631h11M1895 2635h11M1896 2654h11M1898 2649h11M1903 2585h11M1904 2662h11M1904 2629h11M1904 2632h11M1905 2603h11M1907 2566h11M1911 2567h11M1912 2551h11M1926 2573h11M1945 2586h11M1967 2584h11M1998 2667h11" stroke="#000" stroke-opacity="0.42" stroke-width="11" fill="none" transform="scale(.1)"/>
<path d="M1588 2690h11M1589 2710h11M1593 2660h11M1594 2637h11M1595 2642h11M1606 2717h11M1607 2715h11M1615 2624h11M1620 2660h11M1621 2647h11M1623 2690h11M1626 2672h11M1632 2679h11M1632 2701h11M1633 2640h11M1633 2660h11M1634 2712h11M1634 2703h11M1635 2717h11M1635 2663h11M1636 2727h11M1638 2685h11M1639 2658h11M1640 2677h11M1641 2723h11M1641 2599h11M1642 2654h11M1643 2701h11M1643 2663h11M1646 2655h11M1648 2642h11M1648 2703h11M1649 2665h11M1649 2662h11M1651 2629h11M1652 2680h11M1654 2656h11M1655 2617h11M1655 2664h11M1656 2640h11M1657 2716h11M1657 2652h11M1658 2672h11M1658 2633h11M1659 2733h11M1659 2675h11M1660 2701h11M1660 2686h11M1660 2632h11M1662 2607h11M1664 2730h11M1664 2656h11M1666 2618h11M1666 2624h11M1666 2607h11M1667 2650h11M1667 2743h11M1668 2718h11M1668 2721h11M1668 2631h11M1668 2632h11M1669 2639h11M1670 2675h11M1670 2617h11M1670 2685h11M1671 2634h11M1671 2704h11M1672 2652h11M1673 2678h11M1673 2686h11M1674 2698h11M1675 2645h11M1675 2648h11M1675 2619h11M1676 2606h11M1676 2653h11M1676 2661h11M1676 2689h11M1677 2675h11M1677 2643h11M1679 2651h11M1679 2661h11M1679 2659h11M1679 2657h11M1680 2593h11M1680 2656h11M1680 2660h11M1681 2635h11M1682 2658h11M1682 2624h11M1684 2722h11M1684 2615h11M1684 2675h11M1685 2729h11M1685 2625h11M1685 2657h11M1685 2737h11M1686 2664h11M1688 2717h11M1688 2665h11M1689 2713h11M1689 2626h11M1690 2632h11M1690 2662h11M1691 2682h11M1693 2660h11M1693 2691h11M1693 2634h11M1693 2658h11M1693 2612h11M1694 2587h11M1694 2625h11M1694 2636h11M1694 2632h11M1694 2599h11M1694 2664h11M1695 2670h11M1695 2656h11M1695 2654h11M1695 2681h11M1696 2676h11M1697 2653h11M1697 2692h11M1697 2644h11M1698 2669h11M1699 2669h11M1699 2636h11M1700 2658h11M1700 2586h11M1700 2695h11M1700 2690h11M1701 2635h11M1701 2685h11M1702 2645h11M1703 2676h11M1703 2665h11M1703 2722h11M1703 2686h11M1704 2684h11M1705 2644h11M1705 2644h11M1705 2669h11M1706 2674h11M1706 2675h11M1706 2639h11M1706 2680h11M1707 2611h11M1707 2659h11M1708 2612h11M1708 2682h11M1708 2620h11M1708 2700h11M1709 2630h11M1710 2635h11M1710 2600h11M1710 2671h11M1710 2609h11M1712 2687h11M1712 2701h11M1712 2708h11M1712 2651h11M1712 2709h11M1712 2656h11M1713 2637h11M1713 2582h11M1714 2641h11M1714 2702h11M1714 2612h11M1715 2700h11M1715 2640h11M1716 2702h11M1716 2706h11M1716 2689h11M1717 2617h11M1718 2569h11M1718 2628h11M1718 2678h11M1718 2691h11M1718 2673h11M1719 2603h11M1719 2634h11M1719 2675h11M1719 2673h11M1720 2659h11M1720 2639h11M1720 2632h11M1720 2676h11M1720 2666h11M1720 2691h11M1721 2622h11M1721 2606h11M1722 2656h11M1722 2689h11M1722 2645h11M1723 2665h11M1723 2619h11M1723 2670h11M1724 2675h11M1724 2708h11M1724 2668h11M1724 2644h11M1724 2640h11M1724 2625h11M1725 2607h11M1725 2674h11M1726 2581h11M1726 2608h11M1726 2576h11M1726 2667h11M1727 2634h11M1727 2686h11M1727 2651h11M1727 2673h11M1727 2656h11M1728 2658h11M1728 2680h11M1728 2695h11M1729 2711h11M1729 2656h11M1729 2624h11M1729 2651h11M1730 2702h11M1730 2654h11M1730 2677h11M1730 2681h11M1730 2635h11M1730 2575h11M1731 2643h11M1731 2673h11M1731 2657h11M1731 2671h11M1731 2664h11M1731 2629h11M1732 2705h11M1732 2605h11M1732 2657h11M1732 2649h11M1732 2683h11M1733 2606h11M1734 2630h11M1734 2589h11M1734 2677h11M1734 2660h11M1734 2610h11M1735 2695h11M1735 2673h11M1735 2611h11M1735 2746h11M1735 2690h11M1735 2600h11M1735 2694h11M1736 2671h11M1736 2675h11M1736 2659h11M1736 2692h11M1737 2635h11M1737 2606h11M1737 2545h11M1737 2615h11M1737 2625h11M1738 2645h11M1738 2606h11M1738 2582h11M1738 2641h11M1738 2627h11M1738 2634h11M1739 2567h11M1739 2601h11M1740 2677h11M1740 2546h11M1741 2659h11M1741 2658h11M1741 2644h11M1741 2687h11M1741 2593h11M1742 2663h11M1742 2659h11M1742 2627h11M1742 2744h11M1743 2624h11M1743 2677h11M1743 2659h11M1743 2668h11M1744 2630h11M1744 2628h11M1744 2675h11M1745 2655h11M1745 2652h11M1745 2694h11M1745 2688h11M1745 2641h11M1745 2628h11M1745 2697h11M1745 2684h11M1745 2598h11M1746 2630h11M1746 2626h11M1746 2653h11M1746 2594h11M1746 2637h11M1746 2599h11M1747 2632h11M1747 2614h11M1748 2595h11M1748 2668h11M1748 2707h11M1748 2676h11M1748 2657h11M1748 2665h11M1749 2637h11M1749 2618h11M1750 2603h11M1750 2614h11M1750 2623h11M1750 2642h11M1750 2621h11M1751 2575h11M1751 2616h11M1751 2572h11M1751 2672h11M1751 2574h11M1752 2651h11M1752 2646h11M1752 2661h11M1753 2690h11M1753 2667h11M1753 2653h11M1753 2591h11M1753 2625h11M1753 2648h11M1754 2646h11M1754 2610h11M1754 2614h11M1755 2720h11M1755 2601h11M1755 2636h11M1755 2677h11M1756 2640h11M1756 2642h11M1756 2595h11M1756 2626h11M1756 2592h11M1757 2618h11M1757 2573h11M1757 2649h11M1757 2615h11M1757 2650h11M1757 2664h11M1758 2644h11M1758 2629h11M1758 2744h11M1758 2637h11M1758 2648h11M1758 2705h11M1759 2651h11M1760 2644h11M1760 2574h11M1760 2627h11M1761 2583h11M1761 2638h11M1761 2639h11M1761 2630h11M1762 2633h11M1762 2622h11M1762 2624h11M1762 2613h11M1763 2611h11M1763 2673h11M1763 2598h11M1763 2620h11M1763 2644h11M1763 2654h11M1764 2649h11M1764 2616h11M1764 2644h11M1765 2641h11M1766 2591h11M1766 2682h11M1766 2618h11M1766 2632h11M1766 2598h11M1766 2672h11M1766 2638h11M1767 2619h11M1767 2714h11M1768 2583h11M1768 2667h11M1768 2610h11M1768 2653h11M1768 2582h11M1768 2640h11M1768 2650h11M1768 2657h11M1769 2646h11M1770 2542h11M1770 2655h11M1770 2584h11M1770 2655h11M1770 2643h11M1770 2653h11M1771 2676h11M1771 2611h11M1771 2641h11M1772 2675h11M1772 2599h11M1772 2674h11M1772 2575h11M1773 2694h11M1773 2620h11M1773 2668h11M1773 2634h11M1773 2622h11M1773 2621h11M1773 2594h11M1773 2640h11M1774 2605h11M1774 2649h11M1774 2673h11M1774 2642h11M1775 2617h11M1775 2686h11M1775 2622h11M1776 2648h11M1776 2639h11M1776 2616h11M1776 2622h11M1777 2682h11M1777 2666h11M1778 2630h11M1778 2573h11M1778 2633h11M1778 2670h11M1779 2612h11M1779 2661h11M1779 2632h11M1779 2566h11M1780 2713h11M1780 2608h11M1780 2561h11M1781 2598h11M1781 2642h11M1781 2621h11M1781 2665h11M1782 2578h11M1783 2619h11M1783 2609h11M1783 2604h11M1784 2595h11M1784 2682h11M1784 2604h11M1784 2629h11M1784 2619h11M1785 2552h11M1786 2635h11M1786 2571h11M1786 2607h11M1786 2612h11M1786 2585h11M1787 2693h11M1787 2584h11M1787 2622h11M1788 2642h11M1788 2662h11M1788 2660h11M1788 2619h11M1789 2594h11M1789 2650h11M1790 2659h11M1790 2569h11M1790 2675h11M1790 2610h11M1792 2707h11M1792 2629h11M1792 2626h11M1792 2667h11M1792 2615h11M1793 2640h11M1793 2634h11M1793 2663h11M1793 2654h11M1794 2578h11M1794 2582h11M1795 2684h11M1795 2637h11M1795 2606h11M1795 2628h11M1795 2621h11M1795 2618h11M1796 2598h11M1796 2628h11M1796 2580h11M1796 2632h11M1796 2577h11M1796 2680h11M1797 2622h11M1797 2594h11M1798 2642h11M1798 2571h11M1798 2643h11M1798 2572h11M1798 2643h11M1799 2653h11M1799 2588h11M1799 2581h11M1799 2576h11M1800 2710h11M1800 2568h11M1801 2565h11M1801 2641h11M1802 2668h11M1802 2616h11M1802 2606h11M1802 2621h11M1803 2607h11M1803 2667h11M1804 2670h11M1804 2687h11M1804 2622h11M1805 2615h11M1805 2567h11M1805 2647h11M1805 2616h11M1805 2599h11M1806 2627h11M1806 2601h11M1806 2635h11M1806 2668h11M1807 2579h11M1807 2542h11M1807 2642h11M1807 2587h11M1808 2613h11M1808 2616h11M1808 2608h11M1808 2628h11M1809 2636h11M1809 2632h11M1809 2624h11M1809 2670h11M1809 2609h11M1810 2597h11M1810 2588h11M1810 2610h11M1810 2577h11M1810 2568h11M1810 2637h11M1811 2582h11M1811 2606h11M1812 2579h11M1812 2624h11M1812 2593h11M1812 2631h11M1813 2613h11M1813 2634h11M1813 2539h11M1813 2687h11M1813 2589h11M1813 2599h11M1814 2652h11M1815 2571h11M1815 2630h11M1815 2611h11M1816 2620h11M1816 2650h11M1816 2566h11M1817 2586h11M1817 2595h11M1817 2570h11M1817 2604h11M1817 2531h11M1818 2649h11M1819 2546h11M1819 2551h11M1819 2631h11M1820 2611h11M1820 2590h11M1820 2617h11M1821 2597h11M1821 2603h11M1821 2676h11M1822 2577h11M1822 2591h11M1822 2645h11M1822 2561h11M1823 2590h11M1823 2565h11M1824 2576h11M1824 2547h11M1824 2685h11M1825 2530h11M1825 2601h11M1826 2611h11M1827 2557h11M1828 2569h11M1828 2631h11M1829 2610h11M1829 2607h11M1829 2621h11M1830 2592h11M1830 2565h11M1831 2620h11M1831 2591h11M1832 2651h11M1832 2584h11M1832 2639h11M1833 2640h11M1833 2549h11M1833 2596h11M1833 2569h11M1833 2594h11M1833 2577h11M1833 2548h11M1834 2596h11M1834 2586h11M1835 2606h11M1835 2560h11M1835 2679h11M1835 2657h11M1836 2600h11M1836 2580h11M1836 2641h11M1836 2617h11M1837 2608h11M1837 2575h11M1837 2593h11M1838 2674h11M1838 2575h11M1838 2703h11M1838 2570h11M1838 2582h11M1839 2571h11M1839 2650h11M1839 2608h11M1840 2591h11M1840 2604h11M1841 2598h11M1841 2650h11M1841 2569h11M1842 2573h11M1843 2635h11M1843 2626h11M1843 2653h11M1843 2605h11M1844 2590h11M1844 2541h11M1844 2574h11M1844 2538h11M1846 2589h11M1847 2601h11M1848 2600h11M1848 2709h11M1849 2643h11M1852 2584h11M1852 2558h11M1852 2597h11M1852 2613h11M1852 2605h11M1853 2555h11M1854 2555h11M1855 2558h11M1855 2586h11M1856 2583h11M1857 2660h11M1858 2567h11M1859 2614h11M1861 2518h11M1863 2542h11M1863 2598h11M1863 2599h11M1864 2563h11M1864 2589h11M1865 2674h11M1865 2589h11M1866 2620h11M1867 2586h11M1867 2583h11M1868 2621h11M1868 2623h11M1869 2597h11M1869 2631h11M1871 2608h11M1871 2535h11M1871 2551h11M1873 2590h11M1873 2676h11M1874 2621h11M1874 2560h11M1875 2562h11M1876 2611h11M1876 2643h11M1877 2595h11M1880 2589h11M1880 2552h11M1881 2571h11M1881 2568h11M1882 2585h11M1883 2592h11M1885 2506h11M1887 2687h11M1888 2572h11M1889 2631h11M1889 2600h11M1890 2594h11M1892 2669h11M1892 2677h11M1894 2628h11M1894 2621h11M1894 2620h11M1896 2647h11M1901 2618h11M1902 2597h11M1902 2630h11M1903 2663h11M1903 2577h11M1904 2617h11M1914 2614h11M1917 2561h11M1925 2575h11M1938 2662h11M1944 2587h11M1976 2628h11" stroke="#000" stroke-opacity="0.42" stroke-width="11" fill="none" transform="scale(.1)"/>
<path d="M1568 2661h11M1572 2672h11M1589 2727h11M1590 2664h11M1591 2691h11M1600 2678h11M1600 2555h11M1601 2696h11M1603 2639h11M1607 2666h11M1607 2656h11M1608 2725h11M1609 2658h11M1613 2683h11M1614 2729h11M1616 2674h11M1618 2715h11M1619 2643h11M1620 2688h11M1621 2700h11M1622 2687h11M1623 2682h11M1625 2701h11M1626 2677h11M1626 2638h11M1628 2664h11M1632 2670h11M1634 2636h11M1635 2675h11M1635 2688h11M1635 2661h11M1635 2669h11M1636 2650h11M1636 2647h11M1636 2648h11M1637 2692h11M1637 2683h11M1643 2648h11M1644 2663h11M1645 2799h11M1646 2705h11M1648 2711h11M1649 2710h11M1650 2694h11M1650 2593h11M1651 2671h11M1651 2685h11M1651 2617h11M1651 2704h11M1652 2690h11M1653 2670h11M1653 2631h11M1654 2597h11M1655 2625h11M1656 2679h11M1656 2642h11M1656 2707h11M1657 2670h11M1658 2664h11M1658 2672h11M1658 2656h11M1659 2670h11M1659 2698h11M1659 2684h11M1660 2671h11M1660 2653h11M1661 2708h11M1661 2624h11M1662 2642h11M1662 2671h11M1663 2652h11M1664 2629h11M1664 2678h11M1664 2637h11M1665 2615h11M1665 2598h11M1666 2745h11M1666 2662h11M1666 2654h11M1667 2715h11M1667 2616h11M1667 2667h11M1668 2744h11M1670 2653h11M1671 2670h11M1672 2667h11M1673 2668h11M1673 2667h11M1673 2669h11M1674 2632h11M1674 2671h11M1674 2698h11M1675 2626h11M1677 2605h11M1678 2650h11M1678 2654h11M1678 2693h11M1678 2649h11M1678 2665h11M1679 2682h11M1679 2656h11M1681 2606h11M1682 2683h11M1683 2645h11M1683 2696h11M1684 2674h11M1684 2653h11M1684 2654h11M1685 2688h11M1686 2635h11M1686 2624h11M1687 2645h11M1687 2673h11M1688 2646h11M1688 2718h11M1688 2644h11M1688 2627h11M1689 2634h11M1689 2668h11M1689 2669h11M1689 2628h11M1690 2681h11M1692 2689h11M1692 2656h11M1692 2675h11M1692 2668h11M1693 2690h11M1693 2677h11M1693 2674h11M1693 2646h11M1693 2581h11M1694 2660h11M1695 2646h11M1695 2676h11M1696 2697h11M1696 2619h11M1697 2660h11M1697 2658h11M1697 2683h11M1699 2628h11M1700 2678h11M1701 2638h11M1701 2681h11M1701 2659h11M1701 2629h11M1701 2725h11M1702 2610h11M1703 2661h11M1703 2666h11M1704 2630h11M1704 2651h11M1704 2639h11M1704 2713h11M1705 2602h11M1706 2692h11M1706 2617h11M1706 2659h11M1706 2655h11M1707 2629h11M1707 2706h11M1707 2621h11M1708 2669h11M1708 2642h11M1708 2707h11M1708 2738h11M1708 2645h11M1709 2665h11M1709 2687h11M1709 2636h11M1709 2727h11M1709 2667h11M1709 2717h11M1709 2644h11M1709 2579h11M1709 2718h11M1709 2630h11M1710 2734h11M1710 2676h11M1710 2619h11M1710 2669h11M1710 2720h11M1710 2669h11M1711 2627h11M1711 2527h11M1711 2689h11M1711 2662h11M1711 2606h11M1712 2682h11M1713 2703h11M1713 2635h11M1713 2715h11M1713 2689h11M1714 2676h11M1714 2682h11M1714 2717h11M1714 2632h11M1714 2705h11M1714 2695h11M1714 2663h11M1714 2627h11M1715 2638h11M1715 2634h11M1715 2612h11M1715 2648h11M1715 2670h11M1716 2676h11M1716 2604h11M1716 2636h11M1716 2654h11M1716 2638h11M1717 2717h11M1717 2676h11M1718 2665h11M1718 2682h11M1719 2616h11M1719 2735h11M1719 2625h11M1719 2589h11M1719 2713h11M1719 2660h11M1720 2692h11M1720 2618h11M1721 2636h11M1721 2673h11M1721 2636h11M1721 2696h11M1722 2603h11M1722 2662h11M1722 2712h11M1722 2663h11M1722 2688h11M1723 2649h11M1723 2602h11M1724 2652h11M1724 2651h11M1724 2650h11M1725 2632h11M1725 2670h11M1726 2684h11M1726 2623h11M1726 2641h11M1727 2604h11M1727 2566h11M1727 2683h11M1727 2681h11M1728 2686h11M1728 2641h11M1728 2678h11M1728 2587h11M1728 2686h11M1728 2671h11M1729 2675h11M1729 2678h11M1729 2706h11M1730 2657h11M1730 2647h11M1730 2613h11M1730 2631h11M1731 2652h11M1731 2647h11M1731 2751h11M1731 2578h11M1732 2627h11M1732 2659h11M1732 2634h11M1732 2649h11M1733 2642h11M1733 2696h11M1733 2657h11M1733 2621h11M1733 2679h11M1734 2654h11M1734 2687h11M1734 2622h11M1734 2665h11M1734 2619h11M1735 2599h11M1735 2634h11M1735 2584h11M1735 2597h11M1736 2623h11M1736 2619h11M1736 2668h11M1736 2654h11M1736 2654h11M1737 2598h11M1737 2646h11M1737 2628h11M1738 2664h11M1739 2637h11M1739 2629h11M1740 2671h11M1740 2606h11M1740 2633h11M1740 2601h11M1741 2662h11M1741 2611h11M1741 2585h11M1742 2684h11M1742 2574h11M1742 2665h11M1742 2638h11M1743 2710h11M1743 2688h11M1743 2650h11M1743 2637h11M1744 2673h11M1744 2673h11M1744 2599h11M1745 2566h11M1745 2587h11M1745 2669h11M1745 2660h11M1746 2599h11M1746 2650h11M1746 2613h11M1746 2620h11M1746 2681h11M1746 2596h11M1746 2583h11M1747 2669h11M1747 2651h11M1747 2658h11M1747 2640h11M1747 2653h11M1747 2684h11M1748 2611h11M1748 2668h11M1748 2584h11M1748 2635h11M1748 2602h11M1748 2698h11M1749 2597h11M1749 2642h11M1750 2627h11M1750 2646h11M1750 2673h11M1751 2640h11M1751 2662h11M1751 2663h11M1751 2651h11M1752 2569h11M1752 2608h11M1752 2674h11M1752 2668h11M1753 2659h11M1753 2575h11M1754 2689h11M1754 2620h11M1754 2662h11M1754 2606h11M1755 2670h11M1756 2664h11M1756 2627h11M1756 2618h11M1756 2637h11M1756 2599h11M1757 2638h11M1757 2607h11M1757 2661h11M1758 2643h11M1758 2612h11M1758 2587h11M1758 2596h11M1758 2701h11M1758 2566h11M1758 2651h11M1759 2605h11M1759 2584h11M1760 2660h11M1760 2585h11M1760 2680h11M1760 2654h11M1760 2597h11M1761 2706h11M1761 2577h11M1762 2664h11M1762 2606h11M1762 2632h11M1762 2618h11M1762 2604h11M1763 2665h11M1763 2632h11M1763 2594h11M1763 2648h11M1763 2570h11M1764 2598h11M1764 2585h11M1764 2657h11M1764 2691h11M1765 2594h11M1765 2645h11M1765 2665h11M1765 2607h11M1765 2626h11M1766 2626h11M1766 2652h11M1766 2636h11M1766 2645h11M1767 2592h11M1767 2705h11M1767 2632h11M1767 2622h11M1767 2708h11M1767 2735h11M1768 2648h11M1768 2660h11M1768 2681h11M1769 2601h11M1769 2614h11M1769 2580h11M1769 2688h11M1769 2689h11M1769 2554h11M1769 2680h11M1770 2593h11M1770 2639h11M1770 2651h11M1770 2612h11M1771 2661h11M1771 2509h11M1771 2573h11M1771 2639h11M1771 2614h11M1772 2671h11M1772 2575h11M1772 2647h11M1773 2707h11M1773 2579h11M1773 2606h11M1773 2652h11M1774 2594h11M1774 2585h11M1774 2681h11M1775 2597h11M1775 2563h11M1776 2640h11M1776 2621h11M1776 2584h11M1777 2687h11M1777 2565h11M1777 2640h11M1777 2638h11M1777 2667h11M1777 2644h11M1778 2615h11M1778 2616h11M1778 2606h11M1778 2622h11M1779 2618h11M1779 2628h11M1779 2546h11M1779 2580h11M1779 2667h11M1780 2697h11M1780 2612h11M1780 2614h11M1782 2554h11M1782 2692h11M1782 2580h11M1782 2659h11M1783 2599h11M1783 2581h11M1784 2609h11M1784 2636h11M1784 2680h11M1784 2629h11M1784 2692h11M1784 2659h11M1785 2599h11M1785 2647h11M1786 2574h11M1786 2636h11M1786 2654h11M1787 2606h11M1787 2611h11M1787 2678h11M1787 2660h11M1787 2595h11M1787 2614h11M1788 2624h11M1788 2628h11M1788 2594h11M1788 2629h11M1788 2607h11M1789 2605h11M1789 2670h11M1789 2658h11M1790 2587h11M1790 2665h11M1790 2595h11M1790 2605h11M1790 2632h11M1790 2618h11M1790 2589h11M1790 2551h11M1791 2592h11M1791 2641h11M1791 2560h11M1792 2623h11M1792 2657h11M1792 2617h11M1792 2604h11M1792 2601h11M1793 2678h11M1794 2559h11M1794 2556h11M1794 2624h11M1794 2608h11M1795 2643h11M1796 2524h11M1796 2648h11M1796 2624h11M1797 2602h11M1799 2662h11M1800 2578h11M1800 2705h11M1800 2615h11M1800 2660h11M1800 2628h11M1801 2601h11M1801 2637h11M1801 2631h11M1802 2605h11M1802 2613h11M1803 2634h11M1803 2578h11M1804 2652h11M1804 2581h11M1804 2645h11M1804 2679h11M1805 2580h11M1806 2659h11M1806 2577h11M1806 2639h11M1806 2570h11M1807 2634h11M1807 2567h11M1807 2614h11M1807 2570h11M1808 2611h11M1808 2658h11M1808 2644h11M1808 2599h11M1808 2695h11M1809 2597h11M1809 2596h11M1809 2636h11M1809 2561h11M1810 2624h11M1811 2588h11M1811 2616h11M1812 2593h11M1812 2614h11M1812 2622h11M1812 2558h11M1812 2628h11M1813 2605h11M1813 2584h11M1813 2564h11M1814 2604h11M1814 2626h11M1814 2687h11M1815 2588h11M1815 2685h11M1816 2701h11M1816 2565h11M1816 2618h11M1816 2587h11M1816 2624h11M1817 2600h11M1817 2672h11M1817 2644h11M1817 2615h11M1817 2620h11M1818 2644h11M1818 2605h11M1819 2660h11M1819 2575h11M1820 2620h11M1820 2571h11M1820 2672h11M1820 2660h11M1821 2615h11M1821 2670h11M1822 2625h11M1822 2557h11M1822 2602h11M1822 2623h11M1823 2644h11M1823 2642h11M1824 2666h11M1824 2627h11M1825 2577h11M1825 2597h11M1825 2628h11M1826 2569h11M1826 2614h11M1826 2625h11M1826 2557h11M1826 2542h11M1828 2622h11M1828 2597h11M1828 2612h11M1829 2646h11M1829 2584h11M1830 2634h11M1830 2615h11M1830 2612h11M1830 2636h11M1830 2631h11M1831 2616h11M1831 2615h11M1831 2584h11M1832 2629h11M1832 2637h11M1833 2624h11M1833 2701h11M1833 2562h11M1833 2615h11M1834 2629h11M1834 2580h11M1834 2664h11M1835 2631h11M1835 2525h11M1836 2650h11M1836 2687h11M1836 2642h11M1837 2654h11M1837 2648h11M1838 2635h11M1838 2635h11M1839 2617h11M1839 2632h11M1839 2623h11M1840 2625h11M1842 2590h11M1842 2628h11M1843 2548h11M1844 2616h11M1844 2620h11M1844 2580h11M1845 2640h11M1845 2608h11M1845 2614h11M1847 2607h11M1848 2601h11M1848 2684h11M1848 2586h11M1848 2616h11M1848 2589h11M1849 2632h11M1849 2661h11M1849 2633h11M1850 2694h11M1851 2616h11M1852 2620h11M1852 2613h11M1852 2589h11M1852 2558h11M1852 2576h11M1853 2582h11M1854 2581h11M1855 2563h11M1855 2618h11M1858 2607h11M1858 2560h11M1858 2628h11M1859 2550h11M1859 2603h11M1859 2605h11M1860 2560h11M1860 2637h11M1861 2609h11M1863 2583h11M1865 2570h11M1865 2597h11M1865 2600h11M1866 2622h11M1866 2671h11M1867 2573h11M1867 2621h11M1867 2598h11M1867 2593h11M1868 2608h11M1868 2599h11M1869 2618h11M1869 2582h11M1870 2601h11M1870 2616h11M1873 2617h11M1873 2558h11M1873 2610h11M1875 2600h11M1876 2647h11M1876 2581h11M1876 2559h11M1878 2618h11M1879 2601h11M1879 2609h11M1880 2543h11M1881 2630h11M1885 2590h11M1886 2606h11M1887 2582h11M1887 2590h11M1888 2616h11M1889 2601h11M1894 2603h11M1900 2613h11M1900 2595h11M1919 2588h11M1920 2559h11M1922 2650h11M1926 2617h11M1929 2656h11M1932 2595h11M1934 2699h11M1980 2571h11M1987 2590h11M2008 2578h11" stroke="#000" stroke-opacity="0.42" stroke-width="11" fill="none" transform="scale(.1)"/>
<path d="M1572 2657h11M1577 2688h11M1582 2703h11M1594 2650h11M1595 2686h11M1606 2721h11M1608 2688h11M1611 2656h11M1612 2633h11M1613 2649h11M1617 2655h11M1617 2649h11M1617 2686h11M1617 2641h11M1617 2708h11M1618 2563h11M1620 2599h11M1622 2750h11M1623 2647h11M1623 2684h11M1624 2596h11M1624 2677h11M1625 2627h11M1625 2652h11M1625 2713h11M1625 2694h11M1627 2688h11M1628 2742h11M1629 2647h11M1630 2617h11M1630 2621h11M1632 2682h11M1636 2695h11M1637 2606h11M1637 2703h11M1640 2665h11M1641 2675h11M1642 2651h11M1644 2671h11M1645 2687h11M1647 2634h11M1647 2706h11M1648 2595h11M1648 2720h11M1649 2673h11M1653 2675h11M1654 2712h11M1655 2616h11M1656 2672h11M1657 2654h11M1657 2627h11M1657 2733h11M1657 2631h11M1658 2617h11M1659 2666h11M1660 2640h11M1660 2684h11M1661 2601h11M1661 2642h11M1662 2665h11M1663 2569h11M1663 2622h11M1664 2633h11M1665 2685h11M1665 2650h11M1666 2651h11M1667 2709h11M1668 2659h11M1668 2684h11M1669 2691h11M1669 2669h11M1670 2709h11M1671 2679h11M1671 2681h11M1671 2600h11M1672 2645h11M1672 2707h11M1674 2653h11M1675 2720h11M1675 2647h11M1675 2612h11M1675 2690h11M1676 2648h11M1677 2648h11M1677 2629h11M1677 2608h11M1677 2706h11M1678 2665h11M1678 2585h11M1678 2663h11M1679 2690h11M1679 2646h11M1679 2635h11M1679 2657h11M1680 2673h11M1681 2681h11M1681 2731h11M1681 2652h11M1681 2620h11M1681 2623h11M1682 2658h11M1682 2677h11M1682 2637h11M1683 2713h11M1683 2723h11M1684 2680h11M1684 2709h11M1684 2649h11M1684 2617h11M1684 2658h11M1685 2642h11M1685 2666h11M1686 2686h11M1688 2643h11M1688 2634h11M1689 2732h11M1689 2684h11M1689 2661h11M1689 2651h11M1689 2645h11M1690 2680h11M1691 2656h11M1691 2647h11M1691 2704h11M1692 2672h11M1692 2642h11M1692 2645h11M1692 2645h11M1693 2657h11M1693 2718h11M1693 2761h11M1693 2741h11M1694 2614h11M1694 2652h11M1694 2632h11M1694 2635h11M1694 2657h11M1694 2712h11M1696 2635h11M1696 2661h11M1696 2696h11M1697 2674h11M1697 2706h11M1697 2676h11M1697 2635h11M1698 2643h11M1699 2681h11M1699 2662h11M1699 2573h11M1700 2660h11M1700 2684h11M1700 2692h11M1700 2704h11M1700 2660h11M1701 2636h11M1701 2548h11M1701 2718h11M1701 2650h11M1701 2683h11M1701 2690h11M1701 2672h11M1703 2614h11M1704 2659h11M1704 2741h11M1704 2670h11M1704 2611h11M1704 2613h11M1704 2625h11M1704 2649h11M1704 2615h11M1704 2659h11M1705 2685h11M1705 2585h11M1706 2638h11M1706 2633h11M1706 2629h11M1706 2650h11M1707 2629h11M1707 2655h11M1708 2736h11M1709 2607h11M1710 2611h11M1710 2610h11M1711 2610h11M1711 2581h11M1711 2711h11M1712 2671h11M1712 2651h11M1712 2589h11M1713 2611h11M1713 2601h11M1714 2675h11M1715 2637h11M1715 2622h11M1716 2648h11M1717 2672h11M1717 2587h11M1717 2698h11M1717 2683h11M1718 2672h11M1718 2707h11M1718 2637h11M1718 2664h11M1719 2676h11M1719 2678h11M1719 2640h11M1720 2632h11M1720 2621h11M1721 2629h11M1721 2696h11M1721 2630h11M1721 2644h11M1722 2692h11M1722 2689h11M1723 2619h11M1723 2673h11M1723 2603h11M1723 2643h11M1723 2675h11M1724 2655h11M1724 2651h11M1724 2602h11M1724 2640h11M1725 2610h11M1725 2659h11M1725 2648h11M1725 2685h11M1726 2676h11M1726 2697h11M1726 2662h11M1727 2675h11M1728 2669h11M1728 2705h11M1728 2699h11M1730 2590h11M1730 2667h11M1730 2612h11M1731 2705h11M1731 2556h11M1731 2631h11M1731 2710h11M1732 2682h11M1732 2684h11M1732 2572h11M1733 2613h11M1733 2669h11M1733 2671h11M1733 2622h11M1733 2601h11M1734 2652h11M1734 2729h11M1734 2666h11M1735 2647h11M1735 2638h11M1735 2571h11M1735 2618h11M1735 2623h11M1736 2629h11M1736 2595h11M1736 2627h11M1737 2729h11M1737 2682h11M1737 2623h11M1738 2665h11M1738 2710h11M1738 2692h11M1738 2637h11M1739 2639h11M1739 2633h11M1739 2672h11M1739 2600h11M1740 2638h11M1740 2665h11M1740 2639h11M1741 2631h11M1741 2608h11M1742 2705h11M1742 2672h11M1742 2678h11M1743 2638h11M1743 2593h11M1743 2642h11M1744 2667h11M1744 2695h11M1744 2658h11M1744 2691h11M1745 2669h11M1746 2616h11M1746 2626h11M1746 2644h11M1747 2591h11M1748 2603h11M1748 2607h11M1748 2627h11M1748 2644h11M1748 2576h11M1748 2660h11M1749 2610h11M1749 2635h11M1749 2660h11M1749 2625h11M1749 2584h11M1749 2696h11M1750 2631h11M1750 2660h11M1751 2660h11M1751 2650h11M1751 2663h11M1751 2578h11M1753 2627h11M1753 2683h11M1753 2658h11M1754 2621h11M1754 2706h11M1754 2693h11M1754 2603h11M1754 2633h11M1754 2639h11M1754 2605h11M1755 2660h11M1755 2670h11M1755 2645h11M1756 2609h11M1756 2611h11M1756 2627h11M1756 2633h11M1757 2556h11M1757 2617h11M1758 2633h11M1758 2661h11M1758 2648h11M1758 2679h11M1759 2630h11M1759 2609h11M1759 2598h11M1759 2643h11M1759 2652h11M1760 2661h11M1760 2688h11M1761 2625h11M1761 2588h11M1762 2632h11M1762 2654h11M1762 2669h11M1762 2648h11M1762 2627h11M1763 2609h11M1764 2664h11M1764 2704h11M1764 2655h11M1764 2667h11M1764 2677h11M1764 2650h11M1764 2629h11M1765 2623h11M1765 2686h11M1765 2717h11M1765 2687h11M1765 2699h11M1765 2666h11M1765 2624h11M1766 2656h11M1766 2653h11M1766 2607h11M1766 2636h11M1766 2661h11M1766 2630h11M1767 2634h11M1767 2600h11M1767 2635h11M1768 2649h11M1768 2610h11M1768 2658h11M1768 2651h11M1768 2612h11M1768 2685h11M1768 2540h11M1769 2659h11M1769 2649h11M1770 2619h11M1770 2662h11M1770 2647h11M1770 2571h11M1770 2610h11M1771 2629h11M1771 2591h11M1772 2638h11M1772 2680h11M1773 2611h11M1773 2635h11M1773 2608h11M1773 2658h11M1773 2637h11M1774 2645h11M1774 2686h11M1774 2679h11M1774 2626h11M1774 2604h11M1774 2646h11M1775 2660h11M1775 2644h11M1775 2644h11M1776 2629h11M1776 2651h11M1776 2737h11M1777 2681h11M1777 2640h11M1777 2640h11M1777 2656h11M1778 2621h11M1778 2632h11M1778 2714h11M1778 2608h11M1778 2600h11M1778 2588h11M1778 2560h11M1779 2687h11M1779 2619h11M1779 2567h11M1779 2673h11M1779 2631h11M1780 2528h11M1780 2660h11M1780 2665h11M1781 2616h11M1781 2694h11M1781 2574h11M1782 2649h11M1782 2598h11M1782 2615h11M1783 2643h11M1783 2644h11M1783 2605h11M1783 2591h11M1784 2618h11M1784 2529h11M1784 2615h11M1784 2610h11M1784 2674h11M1784 2583h11M1785 2652h11M1785 2588h11M1785 2613h11M1786 2660h11M1786 2602h11M1787 2567h11M1788 2640h11M1788 2594h11M1788 2626h11M1788 2721h11M1788 2599h11M1789 2650h11M1789 2723h11M1789 2629h11M1789 2604h11M1789 2681h11M1790 2654h11M1790 2621h11M1790 2623h11M1791 2635h11M1791 2617h11M1791 2652h11M1791 2593h11M1791 2657h11M1791 2643h11M1791 2593h11M1792 2568h11M1792 2633h11M1792 2621h11M1792 2606h11M1792 2623h11M1792 2542h11M1792 2606h11M1792 2671h11M1792 2617h11M1792 2640h11M1793 2662h11M1794 2636h11M1794 2680h11M1795 2630h11M1795 2703h11M1795 2596h11M1795 2624h11M1795 2648h11M1795 2638h11M1795 2666h11M1796 2599h11M1796 2624h11M1796 2626h11M1796 2658h11M1796 2647h11M1797 2602h11M1798 2609h11M1798 2626h11M1798 2645h11M1798 2554h11M1798 2556h11M1799 2660h11M1799 2648h11M1799 2530h11M1799 2572h11M1799 2683h11M1800 2572h11M1800 2625h11M1800 2608h11M1800 2616h11M1800 2602h11M1800 2609h11M1800 2584h11M1800 2612h11M1800 2571h11M1801 2576h11M1801 2649h11M1801 2571h11M1801 2640h11M1802 2603h11M1802 2577h11M1802 2630h11M1802 2613h11M1802 2646h11M1803 2639h11M1803 2583h11M1803 2612h11M1803 2616h11M1804 2597h11M1804 2600h11M1804 2537h11M1804 2614h11M1804 2602h11M1805 2608h11M1805 2600h11M1805 2620h11M1805 2649h11M1806 2604h11M1806 2657h11M1807 2609h11M1807 2588h11M1807 2591h11M1807 2615h11M1807 2602h11M1807 2624h11M1807 2672h11M1808 2570h11M1809 2621h11M1809 2625h11M1809 2557h11M1810 2638h11M1811 2658h11M1811 2667h11M1811 2637h11M1811 2617h11M1812 2606h11M1812 2630h11M1812 2578h11M1812 2576h11M1812 2713h11M1812 2613h11M1812 2648h11M1813 2673h11M1813 2603h11M1813 2653h11M1813 2629h11M1813 2638h11M1814 2589h11M1814 2605h11M1814 2632h11M1814 2571h11M1814 2651h11M1815 2633h11M1815 2649h11M1816 2564h11M1816 2617h11M1817 2698h11M1817 2652h11M1817 2600h11M1818 2637h11M1818 2594h11M1819 2661h11M1819 2556h11M1819 2642h11M1820 2622h11M1820 2581h11M1822 2611h11M1822 2572h11M1824 2606h11M1824 2586h11M1824 2527h11M1825 2631h11M1825 2616h11M1827 2650h11M1827 2581h11M1827 2620h11M1827 2557h11M1828 2634h11M1828 2612h11M1829 2640h11M1829 2666h11M1830 2595h11M1830 2604h11M1830 2622h11M1831 2637h11M1831 2701h11M1831 2613h11M1831 2615h11M1832 2646h11M1832 2645h11M1833 2600h11M1833 2612h11M1833 2622h11M1833 2578h11M1834 2633h11M1834 2635h11M1834 2588h11M1834 2604h11M1835 2610h11M1835 2587h11M1836 2561h11M1836 2688h11M1836 2659h11M1836 2637h11M1836 2610h11M1837 2572h11M1837 2651h11M1838 2603h11M1839 2593h11M1840 2607h11M1840 2671h11M1841 2575h11M1842 2556h11M1842 2619h11M1843 2591h11M1846 2588h11M1846 2578h11M1846 2540h11M1846 2644h11M1847 2599h11M1847 2556h11M1848 2566h11M1848 2686h11M1848 2595h11M1849 2649h11M1850 2621h11M1850 2587h11M1850 2519h11M1851 2644h11M1851 2625h11M1852 2657h11M1854 2587h11M1854 2606h11M1855 2614h11M1855 2580h11M1855 2567h11M1855 2599h11M1855 2645h11M1855 2569h11M1856 2593h11M1858 2594h11M1858 2630h11M1858 2574h11M1859 2554h11M1859 2629h11M1859 2608h11M1860 2637h11M1860 2667h11M1861 2547h11M1861 2615h11M1862 2610h11M1863 2608h11M1864 2605h11M1865 2517h11M1867 2705h11M1867 2586h11M1868 2600h11M1869 2601h11M1869 2568h11M1872 2600h11M1873 2602h11M1875 2555h11M1877 2583h11M1877 2559h11M1877 2584h11M1877 2571h11M1878 2602h11M1878 2555h11M1878 2564h11M1878 2631h11M1879 2597h11M1879 2593h11M1880 2570h11M1882 2615h11M1882 2646h11M1882 2701h11M1883 2557h11M1883 2664h11M1883 2604h11M1884 2544h11M1884 2588h11M1885 2519h11M1889 2543h11M1890 2617h11M1892 2582h11M1892 2565h11M1894 2587h11M1897 2564h11M1898 2570h11M1898 2646h11M1898 2528h11M1899 2637h11M1907 2547h11M1910 2627h11M1910 2586h11M1918 2621h11M1922 2673h11M1931 2605h11M1936 2577h11M1949 2600h11M1950 2544h11M1963 2604h11M1976 2572h11M1979 2630h11M2002 2633h11" stroke="#000" stroke-opacity="0.42" stroke-width="11" fill="none" transform="scale(.1)"/>
</g>
<rect x="155.5" y="225.5" width="138.00" height="126.00" fill="none" stroke="#6c6c6c" stroke-width="1.1"/>
<path d="M153.5 225.5H155.5M154.4 247.7H155.5M154.4 242.1H155.5M154.4 238.2H155.5M154.4 235.1H155.5M154.4 232.6H155.5M154.4 230.4H155.5M154.4 228.6H155.5M154.4 227.0H155.5M153.5 257.3H155.5M154.4 279.5H155.5M154.4 273.9H155.5M154.4 270.0H155.5M154.4 266.9H155.5M154.4 264.4H155.5M154.4 262.2H155.5M154.4 260.4H155.5M154.4 258.8H155.5M153.5 289.1H155.5M154.4 311.3H155.5M154.4 305.7H155.5M154.4 301.8H155.5M154.4 298.7H155.5M154.4 296.2H155.5M154.4 294.0H155.5M154.4 292.2H155.5M154.4 290.6H155.5M153.5 320.9H155.5M154.4 343.1H155.5M154.4 337.5H155.5M154.4 333.6H155.5M154.4 330.5H155.5M154.4 328.0H155.5M154.4 325.8H155.5M154.4 324.0H155.5M154.4 322.4H155.5M293.5 351.5V353.5M269.5 351.5V352.6M275.5 351.5V352.6M279.8 351.5V352.6M283.1 351.5V352.6M285.9 351.5V352.6M288.2 351.5V352.6M290.2 351.5V352.6M291.9 351.5V352.6M259.1 351.5V353.5M235.1 351.5V352.6M241.1 351.5V352.6M245.4 351.5V352.6M248.7 351.5V352.6M251.5 351.5V352.6M253.8 351.5V352.6M255.8 351.5V352.6M257.5 351.5V352.6M224.7 351.5V353.5M200.7 351.5V352.6M206.7 351.5V352.6M211.0 351.5V352.6M214.3 351.5V352.6M217.1 351.5V352.6M219.4 351.5V352.6M221.4 351.5V352.6M223.1 351.5V352.6M190.3 351.5V353.5M166.3 351.5V352.6M172.3 351.5V352.6M176.6 351.5V352.6M179.9 351.5V352.6M182.7 351.5V352.6M185.0 351.5V352.6M187.0 351.5V352.6M188.7 351.5V352.6M155.9 351.5V353.5" stroke="#555" stroke-width="0.8" fill="none"/>
<rect x="188.5" y="230.5" width="92.00" height="110.00" fill="none" stroke="#505050" stroke-width="1"/>
<rect x="255.8" y="230.5" width="24.70" height="21.00" fill="#fff" stroke="#b5b5b5" stroke-width="0.8"/>
<text x="257.4" y="246.7" font-family="'DejaVu Sans','Liberation Sans',sans-serif" font-size="14" font-weight="bold" text-anchor="start" fill="#111" textLength="21.6" lengthAdjust="spacingAndGlyphs" >3%</text>
<text x="136.7" y="229.5" font-family="'Liberation Sans',Arial,sans-serif" font-size="8.873999999999999" font-weight="bold" fill="#111" stroke="#111" stroke-width="0.25" textLength="10.302" lengthAdjust="spacingAndGlyphs">10</text>
<text x="147.2" y="226.4" font-family="'Liberation Sans',Arial,sans-serif" font-size="5.7" font-weight="bold" fill="#111">3</text>
<text x="136.7" y="261.3" font-family="'Liberation Sans',Arial,sans-serif" font-size="8.873999999999999" font-weight="bold" fill="#111" stroke="#111" stroke-width="0.25" textLength="10.302" lengthAdjust="spacingAndGlyphs">10</text>
<text x="147.2" y="258.2" font-family="'Liberation Sans',Arial,sans-serif" font-size="5.7" font-weight="bold" fill="#111">2</text>
<text x="136.7" y="293.1" font-family="'Liberation Sans',Arial,sans-serif" font-size="8.873999999999999" font-weight="bold" fill="#111" stroke="#111" stroke-width="0.25" textLength="10.302" lengthAdjust="spacingAndGlyphs">10</text>
<text x="147.2" y="290.0" font-family="'Liberation Sans',Arial,sans-serif" font-size="5.7" font-weight="bold" fill="#111">1</text>
<text x="136.7" y="324.9" font-family="'Liberation Sans',Arial,sans-serif" font-size="8.873999999999999" font-weight="bold" fill="#111" stroke="#111" stroke-width="0.25" textLength="10.302" lengthAdjust="spacingAndGlyphs">10</text>
<text x="147.2" y="321.8" font-family="'Liberation Sans',Arial,sans-serif" font-size="5.7" font-weight="bold" fill="#111">0</text>
<text x="286.2" y="364.9" font-family="'Liberation Sans',Arial,sans-serif" font-size="8.873999999999999" font-weight="bold" fill="#111" stroke="#111" stroke-width="0.25" textLength="10.302" lengthAdjust="spacingAndGlyphs">10</text>
<text x="296.7" y="361.8" font-family="'Liberation Sans',Arial,sans-serif" font-size="5.7" font-weight="bold" fill="#111">3</text>
<text x="251.8" y="364.9" font-family="'Liberation Sans',Arial,sans-serif" font-size="8.873999999999999" font-weight="bold" fill="#111" stroke="#111" stroke-width="0.25" textLength="10.302" lengthAdjust="spacingAndGlyphs">10</text>
<text x="262.3" y="361.8" font-family="'Liberation Sans',Arial,sans-serif" font-size="5.7" font-weight="bold" fill="#111">2</text>
<text x="217.4" y="364.9" font-family="'Liberation Sans',Arial,sans-serif" font-size="8.873999999999999" font-weight="bold" fill="#111" stroke="#111" stroke-width="0.25" textLength="10.302" lengthAdjust="spacingAndGlyphs">10</text>
<text x="227.9" y="361.8" font-family="'Liberation Sans',Arial,sans-serif" font-size="5.7" font-weight="bold" fill="#111">1</text>
<text x="183.0" y="364.9" font-family="'Liberation Sans',Arial,sans-serif" font-size="8.873999999999999" font-weight="bold" fill="#111" stroke="#111" stroke-width="0.25" textLength="10.302" lengthAdjust="spacingAndGlyphs">10</text>
<text x="193.5" y="361.8" font-family="'Liberation Sans',Arial,sans-serif" font-size="5.7" font-weight="bold" fill="#111">0</text>
</g>
<g id="p4">
<g filter="url(#bl)">
<ellipse cx="348.5" cy="269" rx="13.5" ry="4.0" transform="rotate(0 348.5 269)" fill="#000" fill-opacity="0.7" filter="url(#bc)"/>
<ellipse cx="356.5" cy="284" rx="7" ry="11" transform="rotate(0 356.5 284)" fill="#000" fill-opacity="0.22" filter="url(#bc)"/>
<path d="M3266 2631h13M3270 2666h13M3274 2911h13M3293 2888h13M3293 2714h13M3294 2977h13M3298 2664h13M3299 2727h13M3302 2909h13M3302 3061h13M3307 2934h13M3309 2897h13M3312 2657h13M3314 2896h13M3315 2671h13M3317 2601h13M3323 3134h13M3325 2613h13M3327 3046h13M3332 2856h13M3334 3165h13M3336 2715h13M3337 3081h13M3337 3104h13M3340 2863h13M3341 2706h13M3342 2617h13M3344 2680h13M3346 2615h13M3349 3107h13M3349 2932h13M3354 3177h13M3356 2884h13M3357 2939h13M3359 2715h13M3359 2785h13M3359 2621h13M3361 2854h13M3362 2618h13M3363 2689h13M3364 3087h13M3368 2553h13M3370 3206h13M3371 2599h13M3371 3176h13M3371 2967h13M3373 2714h13M3375 3211h13M3375 2859h13M3376 3163h13M3377 3058h13M3378 2851h13M3380 2660h13M3381 3118h13M3382 3169h13M3382 2665h13M3382 2852h13M3382 3050h13M3384 2668h13M3384 2638h13M3387 2533h13M3388 2771h13M3388 2769h13M3389 2613h13M3392 2894h13M3393 2588h13M3394 2910h13M3395 2839h13M3395 2579h13M3396 2853h13M3397 2820h13M3398 2741h13M3399 3061h13M3399 2963h13M3399 2840h13M3399 2997h13M3399 2740h13M3401 2928h13M3402 2922h13M3403 2774h13M3405 2959h13M3406 2710h13M3407 3090h13M3407 2773h13M3408 2781h13M3409 3171h13M3409 2992h13M3410 2927h13M3411 3008h13M3411 2832h13M3412 2843h13M3412 3039h13M3414 2959h13M3414 2890h13M3414 3033h13M3415 2598h13M3415 3109h13M3416 3076h13M3416 3075h13M3419 2980h13M3419 3094h13M3419 2562h13M3420 2589h13M3420 2895h13M3421 2840h13M3421 2800h13M3422 2975h13M3423 2901h13M3424 2706h13M3424 3078h13M3424 2946h13M3425 3045h13M3425 3110h13M3427 3299h13M3427 2891h13M3427 3200h13M3430 2741h13M3431 2798h13M3431 2913h13M3431 3170h13M3431 2982h13M3433 2724h13M3435 3235h13M3435 3082h13M3436 3106h13M3436 3102h13M3437 2576h13M3437 2958h13M3438 2990h13M3438 3041h13M3440 2660h13M3440 2754h13M3440 3146h13M3441 2906h13M3441 2964h13M3442 2652h13M3443 2653h13M3444 2606h13M3444 2961h13M3446 3039h13M3446 2754h13M3446 3137h13M3447 3105h13M3447 3021h13M3447 2612h13M3447 2922h13M3448 2939h13M3449 2860h13M3449 2978h13M3449 2638h13M3450 2649h13M3450 2620h13M3450 3034h13M3450 3016h13M3451 2885h13M3451 2749h13M3452 2668h13M3452 3075h13M3453 2882h13M3453 2891h13M3455 3095h13M3455 2685h13M3455 3123h13M3455 2763h13M3456 2921h13M3457 3080h13M3457 2991h13M3457 2693h13M3457 2661h13M3458 3036h13M3459 2925h13M3460 3107h13M3460 3229h13M3461 3096h13M3461 2607h13M3461 2894h13M3462 2785h13M3462 3161h13M3463 3061h13M3463 2914h13M3465 2959h13M3465 2936h13M3465 2608h13M3465 3072h13M3466 2937h13M3466 3129h13M3466 2967h13M3467 3220h13M3467 2805h13M3467 2894h13M3467 2660h13M3468 2650h13M3468 2922h13M3468 2530h13M3468 2860h13M3468 3200h13M3469 2580h13M3470 2734h13M3470 3154h13M3470 3089h13M3471 2567h13M3471 2703h13M3471 2937h13M3471 3100h13M3471 2606h13M3471 2629h13M3471 2919h13M3472 3090h13M3472 2755h13M3472 3191h13M3473 2802h13M3473 2990h13M3473 3088h13M3473 3034h13M3473 2898h13M3473 2972h13M3474 2855h13M3474 2864h13M3474 2889h13M3475 2914h13M3476 2865h13M3476 3076h13M3476 2634h13M3476 2744h13M3478 2713h13M3478 3022h13M3479 3059h13M3479 2926h13M3480 2647h13M3481 2679h13M3481 2913h13M3481 2681h13M3481 2763h13M3482 2898h13M3482 2912h13M3483 2954h13M3483 3047h13M3483 2672h13M3484 3059h13M3484 2642h13M3485 2990h13M3486 2685h13M3487 2690h13M3487 2862h13M3487 2922h13M3488 2862h13M3489 2925h13M3489 3042h13M3489 3104h13M3489 3123h13M3489 2590h13M3489 2827h13M3489 3091h13M3490 3055h13M3490 2629h13M3490 2994h13M3491 2968h13M3491 3136h13M3491 3192h13M3492 2595h13M3493 2877h13M3493 3052h13M3494 3022h13M3494 2749h13M3494 2804h13M3495 2780h13M3496 2646h13M3496 3063h13M3496 2894h13M3496 3099h13M3497 2981h13M3498 2884h13M3498 3183h13M3498 2666h13M3499 2809h13M3499 3009h13M3499 3070h13M3499 3043h13M3500 2904h13M3500 2537h13M3501 2696h13M3501 3009h13M3502 3051h13M3502 3068h13M3502 2943h13M3503 2853h13M3503 2658h13M3503 3060h13M3503 2849h13M3504 3021h13M3504 2920h13M3504 2709h13M3504 2668h13M3505 2703h13M3505 2869h13M3506 2988h13M3506 2824h13M3508 2879h13M3509 2747h13M3509 2728h13M3509 2930h13M3509 3075h13M3510 2923h13M3510 2833h13M3511 3138h13M3512 3068h13M3512 2540h13M3512 3063h13M3512 2815h13M3513 2959h13M3513 2902h13M3513 3099h13M3514 2814h13M3515 2910h13M3515 2676h13M3515 2859h13M3516 3130h13M3517 3017h13M3518 2948h13M3518 2917h13M3519 2736h13M3519 2704h13M3521 2641h13M3522 2876h13M3522 3117h13M3522 3188h13M3523 2951h13M3523 3015h13M3523 3086h13M3523 2847h13M3525 2665h13M3525 2645h13M3525 2789h13M3525 3045h13M3526 3154h13M3526 3182h13M3526 2808h13M3526 2796h13M3526 2723h13M3527 3007h13M3527 2942h13M3528 2811h13M3530 3136h13M3530 3091h13M3530 2761h13M3530 3186h13M3530 3037h13M3530 2723h13M3531 2983h13M3531 2979h13M3531 2664h13M3531 3074h13M3531 2949h13M3532 3045h13M3532 2842h13M3532 3105h13M3533 3061h13M3533 2955h13M3533 2947h13M3533 3173h13M3533 2743h13M3533 2728h13M3534 3102h13M3534 3117h13M3534 2592h13M3535 2946h13M3535 2822h13M3535 2625h13M3536 2601h13M3536 3005h13M3536 3140h13M3536 2592h13M3537 2947h13M3537 2588h13M3537 2757h13M3537 3174h13M3537 2794h13M3538 2959h13M3539 2990h13M3539 2648h13M3540 2935h13M3541 2724h13M3543 2913h13M3543 2913h13M3544 2786h13M3544 3035h13M3544 2967h13M3544 2995h13M3545 3153h13M3545 3189h13M3546 3140h13M3546 2867h13M3547 2630h13M3548 3014h13M3548 3184h13M3548 3115h13M3548 3219h13M3549 3145h13M3550 2663h13M3550 3040h13M3551 2748h13M3551 2846h13M3553 2907h13M3554 2822h13M3554 2719h13M3554 2943h13M3554 2881h13M3555 2984h13M3556 2648h13M3556 2996h13M3557 2785h13M3557 3031h13M3559 2817h13M3559 3199h13M3560 2792h13M3560 2656h13M3560 3234h13M3560 3082h13M3560 2625h13M3561 2654h13M3561 2685h13M3562 2743h13M3562 2609h13M3562 3267h13M3564 2806h13M3565 2912h13M3565 2684h13M3566 3106h13M3566 2954h13M3567 2509h13M3567 2713h13M3567 2781h13M3567 3096h13M3568 2570h13M3568 2775h13M3568 3150h13M3569 2902h13M3569 3103h13M3569 3200h13M3569 3184h13M3571 2922h13M3571 2915h13M3571 2777h13M3571 2981h13M3571 3096h13M3572 2864h13M3572 2678h13M3573 2587h13M3573 2796h13M3573 2869h13M3573 3022h13M3573 2597h13M3573 3210h13M3573 2693h13M3573 2888h13M3574 2941h13M3574 2902h13M3575 2958h13M3576 2819h13M3576 2902h13M3576 2892h13M3577 2976h13M3577 2597h13M3577 2905h13M3578 3040h13M3578 2948h13M3578 2770h13M3578 2763h13M3578 3031h13M3579 3023h13M3579 2644h13M3579 2682h13M3579 3085h13M3580 3037h13M3580 2793h13M3581 3018h13M3581 2608h13M3581 2728h13M3582 3042h13M3582 3159h13M3582 2938h13M3583 3065h13M3583 2752h13M3583 2718h13M3583 3087h13M3584 3151h13M3584 2936h13M3584 2671h13M3584 3165h13M3585 3065h13M3586 3169h13M3586 2919h13M3587 3003h13M3587 3042h13M3588 3047h13M3589 2870h13M3590 2781h13M3591 2868h13M3592 3156h13M3592 2683h13M3592 3095h13M3593 2731h13M3593 2798h13M3593 3030h13M3593 2818h13M3593 2660h13M3594 2649h13M3594 2971h13M3594 2953h13M3595 3078h13M3595 2993h13M3595 3080h13M3595 2982h13M3595 2727h13M3595 3116h13M3596 3052h13M3596 2980h13M3596 3031h13M3597 2870h13M3598 2848h13M3598 2863h13M3598 2776h13M3599 2931h13M3599 2888h13M3599 3024h13M3600 3010h13M3600 3093h13M3600 2778h13M3600 3139h13M3600 2749h13M3600 3002h13M3600 2891h13M3600 3279h13M3601 2943h13M3601 3058h13M3601 2776h13M3602 2965h13M3602 2673h13M3603 3006h13M3603 3141h13M3603 2671h13M3603 2628h13M3603 3017h13M3603 2813h13M3603 2909h13M3603 2686h13M3604 2895h13M3604 2982h13M3604 2632h13M3604 2864h13M3604 2814h13M3605 3107h13M3605 2611h13M3605 2549h13M3605 2727h13M3606 2600h13M3606 2661h13M3606 2661h13M3606 2713h13M3606 3035h13M3607 2870h13M3607 2925h13M3607 2612h13M3607 2674h13M3607 2650h13M3607 2872h13M3607 2644h13M3607 2947h13M3607 3157h13M3607 3179h13M3608 2968h13M3608 3101h13M3609 2570h13M3609 2682h13M3609 2871h13M3609 2695h13M3610 3096h13M3610 3024h13M3611 3109h13M3611 2732h13M3612 2929h13M3613 3107h13M3613 3049h13M3613 2789h13M3613 3016h13M3614 2693h13M3614 2987h13M3614 2755h13M3614 3075h13M3614 3031h13M3614 2859h13M3615 2790h13M3615 2622h13M3615 2833h13M3615 2871h13M3616 3002h13M3616 2810h13M3616 2698h13M3616 2850h13M3616 2789h13M3617 3080h13M3617 3152h13M3617 3042h13M3618 2816h13M3619 2833h13M3619 2744h13M3620 2981h13M3620 2803h13M3620 2856h13M3620 2708h13M3620 2974h13M3621 2770h13M3621 3032h13M3621 2695h13M3621 2878h13M3622 2721h13M3622 3021h13M3622 2946h13M3622 2807h13M3623 3032h13M3623 2959h13M3623 2782h13M3624 3072h13M3624 3025h13M3624 3020h13M3625 3004h13M3625 3108h13M3626 2715h13M3626 2970h13M3626 2864h13M3626 3033h13M3626 3126h13M3627 2915h13M3628 2741h13M3628 2961h13M3628 2515h13M3629 2808h13M3629 2981h13M3630 2864h13M3631 2636h13M3631 3075h13M3631 2968h13M3631 2916h13M3632 2717h13M3632 2990h13M3633 3130h13M3633 2978h13M3633 2626h13M3634 2741h13M3634 3001h13M3635 3023h13M3635 3103h13M3637 2801h13M3637 2893h13M3637 2972h13M3638 2949h13M3638 2738h13M3639 2993h13M3639 2962h13M3639 2942h13M3640 2589h13M3640 2715h13M3640 3051h13M3640 2773h13M3640 2658h13M3641 2767h13M3642 3049h13M3642 2987h13M3642 2918h13M3642 2819h13M3642 3048h13M3643 3180h13M3643 3154h13M3643 2669h13M3643 2997h13M3644 2757h13M3644 2753h13M3644 3188h13M3645 2853h13M3645 2980h13M3645 2922h13M3646 3065h13M3647 3011h13M3647 2639h13M3647 2754h13M3647 3089h13M3647 2731h13M3647 3035h13M3648 2879h13M3648 2894h13M3648 2996h13M3648 2552h13M3649 2779h13M3649 2987h13M3650 2939h13M3651 2897h13M3651 2647h13M3652 2974h13M3652 2983h13M3653 2479h13M3655 2690h13M3655 3121h13M3655 2790h13M3656 3157h13M3656 3074h13M3656 2768h13M3656 2827h13M3657 2764h13M3657 2887h13M3657 2763h13M3658 2881h13M3658 2916h13M3658 2721h13M3659 2654h13M3659 2733h13M3661 2895h13M3661 2970h13M3662 2899h13M3662 2794h13M3663 3046h13M3663 3187h13M3663 2655h13M3663 2894h13M3664 2749h13M3665 2701h13M3665 2703h13M3666 2739h13M3666 3029h13M3667 2764h13M3668 2893h13M3668 3127h13M3669 2679h13M3671 2668h13M3671 2764h13M3671 2694h13M3672 2999h13M3672 2637h13M3673 3040h13M3674 3134h13M3674 2707h13M3675 2902h13M3675 2551h13M3675 2767h13M3676 2690h13M3676 3209h13M3676 3013h13M3676 3059h13M3676 2787h13M3676 2651h13M3677 2668h13M3678 3113h13M3678 2878h13M3680 2889h13M3680 2933h13M3680 2893h13M3681 2683h13M3682 3040h13M3682 3029h13M3682 3012h13M3683 3007h13M3684 2714h13M3686 2514h13M3686 2712h13M3687 3094h13M3687 2957h13M3688 2930h13M3688 3026h13M3689 3011h13M3690 3164h13M3690 3089h13M3691 2684h13M3691 2766h13M3691 2805h13M3691 2998h13M3692 2663h13M3692 2771h13M3692 2559h13M3693 2949h13M3693 3135h13M3695 2712h13M3695 2830h13M3698 2661h13M3699 2695h13M3699 3131h13M3699 2883h13M3699 2971h13M3699 2772h13M3701 3012h13M3701 2704h13M3701 2876h13M3701 3040h13M3703 3077h13M3703 3056h13M3705 2840h13M3706 3100h13M3707 3049h13M3707 2885h13M3707 2887h13M3707 3050h13M3708 2914h13M3709 2957h13M3710 3005h13M3710 2873h13M3711 3083h13M3712 2950h13M3713 3262h13M3714 2689h13M3714 2955h13M3714 2908h13M3716 2772h13M3716 2899h13M3718 2748h13M3721 3180h13M3722 2744h13M3723 2627h13M3723 3067h13M3724 2837h13M3726 2771h13M3728 2705h13M3728 2913h13M3731 2770h13M3733 3007h13M3734 2687h13M3735 2720h13M3737 2678h13M3737 2726h13M3737 2901h13M3740 2880h13M3740 2925h13M3740 2795h13M3742 2709h13M3742 2884h13M3744 2957h13M3745 3113h13M3747 2988h13M3748 3170h13M3748 2679h13M3749 2655h13M3750 2952h13M3750 2897h13M3751 3009h13M3751 2762h13M3753 2696h13M3755 2800h13M3759 2848h13M3759 2644h13M3759 2710h13M3760 2630h13M3761 3049h13M3765 2907h13M3766 2967h13M3767 2716h13M3768 2706h13M3768 2532h13M3769 2845h13M3771 2565h13M3772 3026h13M3772 2607h13M3773 2692h13M3773 2655h13M3774 3202h13M3776 2809h13M3776 2712h13M3780 2741h13M3783 3121h13M3784 3023h13M3784 2667h13M3785 2910h13M3786 3079h13M3789 2689h13M3790 3001h13M3791 3090h13M3791 2857h13M3791 2946h13M3792 2654h13M3796 2726h13M3797 3163h13M3797 2754h13M3799 2618h13M3799 2912h13M3804 2680h13M3819 3013h13M3820 2779h13M3821 2526h13M3824 2881h13M3825 2753h13M3826 2659h13M3827 2670h13M3828 2732h13M3836 2710h13M3847 2702h13M3849 2532h13M3850 2816h13M3852 2693h13M3863 2964h13M3868 2703h13M3869 2689h13M3881 2718h13M3889 2634h13M3898 2697h13M3902 2683h13M3905 2800h13M3907 3010h13M3918 2943h13M3918 2704h13M3926 2741h13M3929 2717h13M3936 2666h13M3942 2655h13M3944 2672h13M3948 2790h13M3950 2740h13M3952 2659h13M3958 2738h13M3995 2703h13M4011 2673h13" stroke="#000" stroke-opacity="0.22" stroke-width="13" fill="none" transform="scale(.1)"/>
<path d="M3270 2574h13M3272 3036h13M3273 2866h13M3284 2963h13M3287 2869h13M3288 2669h13M3295 2773h13M3298 2530h13M3299 2524h13M3300 2917h13M3301 2790h13M3307 2653h13M3307 3082h13M3308 2619h13M3308 3197h13M3309 3100h13M3311 2546h13M3312 3024h13M3316 2683h13M3324 2642h13M3325 2587h13M3327 2787h13M3327 2970h13M3327 2719h13M3330 2824h13M3330 2649h13M3332 2722h13M3335 2874h13M3336 3051h13M3337 2834h13M3337 2875h13M3340 2698h13M3342 2649h13M3343 2676h13M3350 2529h13M3353 2695h13M3355 2656h13M3356 2664h13M3356 2624h13M3357 2921h13M3357 2685h13M3363 2642h13M3363 2956h13M3364 2853h13M3365 2755h13M3366 3050h13M3367 2991h13M3368 3097h13M3369 2674h13M3370 2601h13M3370 2980h13M3370 2597h13M3370 2893h13M3373 2758h13M3374 2891h13M3374 2625h13M3374 3013h13M3375 3004h13M3375 2910h13M3377 2629h13M3378 3174h13M3381 2830h13M3383 2938h13M3383 2846h13M3385 2553h13M3387 2962h13M3388 2684h13M3390 2642h13M3391 2971h13M3393 2636h13M3393 2715h13M3393 2829h13M3394 2607h13M3394 2801h13M3396 2874h13M3397 2855h13M3397 2866h13M3398 2943h13M3398 2685h13M3398 2824h13M3399 2961h13M3401 2640h13M3401 2960h13M3402 2611h13M3402 2872h13M3403 2897h13M3403 2857h13M3403 3086h13M3404 2667h13M3404 2741h13M3405 2815h13M3406 3134h13M3406 2800h13M3406 2627h13M3406 3003h13M3409 2483h13M3409 2894h13M3409 2556h13M3410 3119h13M3410 2678h13M3411 3193h13M3412 2877h13M3414 2954h13M3415 3188h13M3417 2983h13M3417 2754h13M3418 2678h13M3419 2962h13M3420 2820h13M3421 2720h13M3422 2968h13M3423 3200h13M3425 2828h13M3428 2722h13M3430 2822h13M3431 3076h13M3431 2935h13M3432 2851h13M3433 2748h13M3433 2847h13M3433 2949h13M3434 2810h13M3434 2759h13M3434 2869h13M3436 2627h13M3437 2683h13M3437 2854h13M3437 2947h13M3437 2844h13M3437 2668h13M3438 2607h13M3438 2793h13M3438 3202h13M3439 2801h13M3439 3094h13M3439 2601h13M3440 2750h13M3440 2707h13M3441 3073h13M3442 3022h13M3444 3016h13M3445 3009h13M3446 2795h13M3446 2880h13M3448 3077h13M3449 3069h13M3450 2719h13M3450 2910h13M3451 2771h13M3451 2841h13M3452 2739h13M3452 2968h13M3453 2780h13M3453 2690h13M3453 2937h13M3453 3006h13M3453 2859h13M3455 2765h13M3455 3057h13M3455 3162h13M3456 3107h13M3456 2839h13M3457 2943h13M3458 2692h13M3459 3041h13M3460 2594h13M3461 2877h13M3461 3088h13M3463 3105h13M3463 2838h13M3464 3082h13M3465 2894h13M3465 2862h13M3465 2822h13M3466 2651h13M3466 2611h13M3466 3000h13M3467 2864h13M3468 2778h13M3468 2846h13M3468 2948h13M3469 2982h13M3469 2892h13M3469 2925h13M3469 2973h13M3471 2798h13M3471 2921h13M3471 3007h13M3473 3165h13M3474 2785h13M3474 2722h13M3475 3057h13M3475 2874h13M3476 2796h13M3476 2932h13M3476 2974h13M3478 3202h13M3478 3139h13M3478 3025h13M3478 3170h13M3478 2627h13M3479 2600h13M3479 2838h13M3479 3111h13M3480 3053h13M3480 2811h13M3480 2737h13M3481 2834h13M3481 2588h13M3481 2967h13M3482 2962h13M3482 2818h13M3482 3106h13M3482 2888h13M3483 3006h13M3483 2623h13M3483 2892h13M3483 2825h13M3483 2817h13M3484 2844h13M3485 2926h13M3486 3177h13M3486 2835h13M3486 3113h13M3486 3051h13M3487 3261h13M3487 2861h13M3487 2525h13M3487 2712h13M3488 2777h13M3488 2958h13M3488 2959h13M3489 2510h13M3489 3177h13M3490 2962h13M3490 3068h13M3490 2767h13M3491 2773h13M3492 2716h13M3492 3037h13M3492 3042h13M3492 2870h13M3492 2936h13M3492 2582h13M3493 2706h13M3493 2919h13M3493 2828h13M3494 2887h13M3495 2676h13M3495 2635h13M3496 2815h13M3496 2998h13M3496 3040h13M3497 3073h13M3497 2733h13M3497 2958h13M3497 2767h13M3498 2686h13M3498 3138h13M3498 2703h13M3499 3073h13M3499 2780h13M3500 2927h13M3500 3183h13M3501 2716h13M3501 2709h13M3501 3206h13M3501 2746h13M3501 2533h13M3502 2807h13M3502 2577h13M3503 2623h13M3504 2788h13M3504 3046h13M3507 2840h13M3507 2626h13M3507 3164h13M3507 2680h13M3507 2994h13M3508 2915h13M3508 3213h13M3508 2766h13M3509 2938h13M3510 3052h13M3510 2982h13M3511 2982h13M3511 3024h13M3511 2534h13M3512 2961h13M3512 3099h13M3512 2692h13M3513 2894h13M3513 3102h13M3514 2877h13M3515 3106h13M3516 2918h13M3516 3088h13M3517 3133h13M3517 2688h13M3517 3048h13M3518 2644h13M3518 2886h13M3519 3153h13M3519 3211h13M3519 2658h13M3519 3188h13M3520 2838h13M3520 2614h13M3521 2925h13M3521 2811h13M3521 2865h13M3522 3230h13M3522 2735h13M3523 2748h13M3523 3089h13M3524 2946h13M3524 2747h13M3525 2903h13M3525 2635h13M3525 2660h13M3525 3022h13M3526 2921h13M3527 2852h13M3527 2846h13M3528 2627h13M3528 3039h13M3529 3071h13M3530 3265h13M3530 2836h13M3530 2671h13M3530 2885h13M3530 3045h13M3530 3050h13M3531 3017h13M3531 2581h13M3531 3032h13M3532 2972h13M3533 3002h13M3533 2849h13M3534 2944h13M3534 3181h13M3534 2913h13M3534 2688h13M3536 2724h13M3536 2848h13M3536 3213h13M3536 3106h13M3536 2885h13M3537 2708h13M3537 2882h13M3537 3051h13M3538 3073h13M3539 2992h13M3539 2750h13M3539 3085h13M3539 2645h13M3539 2792h13M3540 2761h13M3541 2688h13M3541 2885h13M3542 3078h13M3542 3035h13M3542 3142h13M3542 3061h13M3543 3188h13M3543 3045h13M3544 3046h13M3545 3101h13M3545 3234h13M3545 2995h13M3545 2942h13M3546 2786h13M3546 3167h13M3546 3144h13M3547 3173h13M3547 2769h13M3547 3055h13M3547 2624h13M3548 2985h13M3548 3099h13M3548 3137h13M3549 2994h13M3549 3059h13M3551 3000h13M3551 3213h13M3551 3098h13M3551 2954h13M3552 2577h13M3552 2696h13M3552 3217h13M3552 2881h13M3553 2917h13M3553 2733h13M3554 2649h13M3554 2768h13M3555 2600h13M3555 2711h13M3555 2826h13M3556 2797h13M3557 2774h13M3557 2994h13M3557 2977h13M3558 2986h13M3558 2976h13M3558 2730h13M3558 2898h13M3558 2768h13M3559 3022h13M3559 3059h13M3559 2678h13M3559 2890h13M3560 2661h13M3560 2983h13M3560 2902h13M3560 3022h13M3561 3150h13M3563 2530h13M3563 2835h13M3563 3058h13M3563 2871h13M3564 3132h13M3565 2815h13M3565 2799h13M3565 2840h13M3565 2625h13M3565 3082h13M3566 3028h13M3566 2977h13M3566 2717h13M3567 2951h13M3567 3242h13M3567 3153h13M3567 3008h13M3568 2948h13M3568 3177h13M3568 2837h13M3568 3018h13M3568 2926h13M3568 2818h13M3569 3184h13M3570 2923h13M3570 3014h13M3570 2870h13M3571 3046h13M3571 2832h13M3571 2844h13M3571 2727h13M3571 3184h13M3572 3004h13M3573 2831h13M3573 2876h13M3574 2599h13M3574 3111h13M3575 2877h13M3575 2863h13M3575 3041h13M3575 3119h13M3575 3196h13M3576 2974h13M3576 2908h13M3576 2896h13M3576 2714h13M3576 2860h13M3577 2906h13M3577 2679h13M3578 2807h13M3578 2952h13M3579 2728h13M3580 2675h13M3580 3197h13M3580 3052h13M3580 2952h13M3580 2987h13M3581 2659h13M3581 2846h13M3581 2932h13M3581 2903h13M3581 3124h13M3582 3044h13M3582 2741h13M3582 2816h13M3582 2850h13M3582 3154h13M3582 2957h13M3582 2962h13M3582 2867h13M3582 3059h13M3583 2963h13M3583 2755h13M3583 3119h13M3583 2753h13M3583 3030h13M3583 2732h13M3584 3099h13M3584 2641h13M3585 2624h13M3585 3185h13M3586 2712h13M3586 2973h13M3586 3127h13M3586 2915h13M3587 2554h13M3587 2899h13M3587 2917h13M3588 2788h13M3588 2791h13M3588 2624h13M3588 2885h13M3589 2716h13M3589 2977h13M3589 3061h13M3590 2992h13M3590 2716h13M3590 2827h13M3590 3090h13M3591 3250h13M3591 3209h13M3591 2982h13M3591 2983h13M3591 2846h13M3592 2974h13M3592 2706h13M3592 2847h13M3592 2944h13M3593 2613h13M3593 3037h13M3594 2989h13M3596 2876h13M3596 3276h13M3596 3012h13M3597 3126h13M3598 3130h13M3599 2615h13M3599 2873h13M3600 3046h13M3600 3133h13M3600 2686h13M3600 2926h13M3600 3020h13M3600 2711h13M3601 2664h13M3602 3038h13M3602 2680h13M3602 2884h13M3602 2772h13M3603 2740h13M3603 2598h13M3603 3179h13M3604 2959h13M3604 2987h13M3605 2648h13M3605 2630h13M3606 3088h13M3607 2691h13M3607 2662h13M3607 2681h13M3607 3120h13M3607 2933h13M3608 3021h13M3608 2700h13M3608 2949h13M3609 2958h13M3610 2733h13M3610 2811h13M3610 3032h13M3610 3143h13M3611 2824h13M3611 2739h13M3611 2746h13M3611 2989h13M3612 2775h13M3612 2920h13M3612 3085h13M3613 2635h13M3613 2703h13M3613 2708h13M3613 2611h13M3614 3136h13M3614 2856h13M3614 2949h13M3615 2934h13M3615 2681h13M3615 3103h13M3616 2792h13M3616 2713h13M3616 2761h13M3616 2620h13M3618 3058h13M3618 2788h13M3618 2735h13M3619 2766h13M3619 2637h13M3619 2778h13M3619 2995h13M3619 2614h13M3621 2907h13M3621 3156h13M3621 2842h13M3621 2938h13M3621 2652h13M3622 2825h13M3622 2799h13M3623 3019h13M3623 3153h13M3623 2753h13M3624 2661h13M3624 2618h13M3624 2816h13M3625 2987h13M3626 2759h13M3626 3177h13M3626 3238h13M3626 2551h13M3626 2684h13M3627 2755h13M3627 2581h13M3627 2684h13M3628 3010h13M3628 2683h13M3628 2711h13M3629 2561h13M3630 2697h13M3630 2955h13M3630 2749h13M3630 2750h13M3630 2801h13M3631 2823h13M3632 2906h13M3633 2895h13M3634 2951h13M3634 2806h13M3634 2697h13M3634 3070h13M3635 3085h13M3636 3043h13M3636 2792h13M3637 2744h13M3637 2955h13M3637 3052h13M3637 2930h13M3639 2608h13M3639 2822h13M3639 3190h13M3639 2947h13M3639 2830h13M3640 2920h13M3640 2725h13M3641 2907h13M3641 2747h13M3641 2756h13M3641 2960h13M3642 2740h13M3642 3227h13M3642 2578h13M3643 3089h13M3643 3160h13M3643 2630h13M3643 3057h13M3644 2956h13M3644 2722h13M3644 3043h13M3644 2820h13M3644 2928h13M3647 3065h13M3647 2646h13M3647 2834h13M3647 2787h13M3648 2945h13M3648 2632h13M3649 3115h13M3649 3049h13M3649 2888h13M3650 2873h13M3650 3106h13M3651 3052h13M3651 2815h13M3651 2708h13M3651 2634h13M3652 2627h13M3653 2906h13M3653 2774h13M3653 2718h13M3653 2963h13M3655 2708h13M3656 2828h13M3656 2597h13M3657 2623h13M3657 2666h13M3657 2785h13M3657 2638h13M3658 2694h13M3658 2704h13M3658 2659h13M3658 2740h13M3659 2807h13M3659 2891h13M3660 3174h13M3660 2999h13M3662 3036h13M3662 2933h13M3662 2641h13M3663 2920h13M3663 2970h13M3663 2985h13M3664 2978h13M3664 3020h13M3664 3154h13M3665 3026h13M3665 2683h13M3666 3034h13M3666 3074h13M3666 2701h13M3666 2946h13M3667 2966h13M3667 2719h13M3667 2929h13M3667 2819h13M3668 3044h13M3668 2607h13M3668 2852h13M3668 2859h13M3668 2998h13M3669 2955h13M3669 2649h13M3670 3036h13M3671 2968h13M3671 2843h13M3671 3141h13M3671 2748h13M3672 2825h13M3672 2898h13M3672 2612h13M3672 2791h13M3672 2791h13M3673 2710h13M3673 2576h13M3673 2880h13M3673 2651h13M3674 2853h13M3674 2754h13M3674 2645h13M3675 2663h13M3675 2698h13M3675 2720h13M3675 2680h13M3676 2956h13M3676 2722h13M3676 3001h13M3676 2565h13M3676 2930h13M3678 2983h13M3679 2713h13M3679 2992h13M3679 2714h13M3679 2898h13M3680 2728h13M3680 2964h13M3680 3203h13M3680 2716h13M3680 2707h13M3681 3110h13M3682 2982h13M3682 2969h13M3682 3033h13M3683 2649h13M3683 2951h13M3683 2730h13M3684 3097h13M3684 2954h13M3684 2868h13M3686 2865h13M3687 2736h13M3688 2601h13M3688 3066h13M3688 2735h13M3689 3031h13M3690 2769h13M3691 2939h13M3691 3016h13M3692 2859h13M3692 2769h13M3692 2835h13M3694 2739h13M3695 2721h13M3695 2703h13M3696 2702h13M3696 2612h13M3696 2843h13M3697 3017h13M3697 2918h13M3697 2950h13M3697 2690h13M3698 2828h13M3698 2783h13M3698 2772h13M3699 2652h13M3699 2893h13M3699 2676h13M3701 2808h13M3701 2709h13M3701 2861h13M3702 3055h13M3702 2950h13M3703 2816h13M3703 3078h13M3704 2633h13M3705 2832h13M3705 2588h13M3705 2715h13M3705 2964h13M3706 3226h13M3706 2783h13M3707 2937h13M3708 2928h13M3708 2738h13M3709 3026h13M3709 2758h13M3710 2729h13M3712 2953h13M3712 2811h13M3713 2615h13M3713 2886h13M3713 2674h13M3714 2916h13M3715 3007h13M3715 2784h13M3715 2666h13M3717 2744h13M3717 2690h13M3718 2920h13M3718 2998h13M3718 3152h13M3720 2941h13M3721 2717h13M3721 3038h13M3721 2605h13M3724 2602h13M3724 2679h13M3725 2730h13M3725 3019h13M3726 3087h13M3727 3028h13M3728 2872h13M3732 2714h13M3732 2770h13M3736 2743h13M3736 2977h13M3737 3166h13M3737 2742h13M3737 2736h13M3739 3080h13M3739 2759h13M3741 2939h13M3741 2726h13M3742 2973h13M3742 2720h13M3743 2680h13M3744 2666h13M3746 3084h13M3746 2703h13M3746 3003h13M3747 2656h13M3749 2667h13M3757 2730h13M3757 2887h13M3759 2932h13M3760 2945h13M3760 2645h13M3763 3011h13M3765 2743h13M3765 2879h13M3767 2821h13M3767 2879h13M3768 2795h13M3771 2621h13M3772 2897h13M3773 3036h13M3775 3049h13M3776 2665h13M3778 3021h13M3784 2997h13M3791 2652h13M3798 2934h13M3798 2676h13M3799 2718h13M3801 2699h13M3804 2667h13M3809 2922h13M3810 2780h13M3811 3017h13M3813 2655h13M3814 3053h13M3816 2686h13M3818 2637h13M3827 2869h13M3829 3097h13M3831 3055h13M3832 2726h13M3834 2926h13M3835 2630h13M3848 2715h13M3849 2759h13M3853 2757h13M3857 2694h13M3868 3031h13M3868 2687h13M3875 2681h13M3902 2718h13M3911 2632h13M3911 2684h13M3917 2679h13M3941 2758h13M3946 2712h13M3953 2679h13M3965 2691h13" stroke="#000" stroke-opacity="0.22" stroke-width="13" fill="none" transform="scale(.1)"/>
<path d="M3290 2737h11M3301 2656h11M3301 2721h11M3302 2643h11M3308 2787h11M3321 2731h11M3322 2809h11M3326 2685h11M3327 2671h11M3328 2716h11M3331 2621h11M3334 2713h11M3340 2635h11M3342 2693h11M3344 2668h11M3350 2736h11M3351 2672h11M3351 2670h11M3356 2667h11M3356 2720h11M3358 2681h11M3359 2700h11M3362 2647h11M3363 2722h11M3366 2941h11M3366 2640h11M3367 2679h11M3370 2764h11M3371 2712h11M3372 2731h11M3375 2634h11M3376 2598h11M3379 2739h11M3381 2583h11M3382 2558h11M3382 2601h11M3382 2636h11M3383 2747h11M3383 2679h11M3383 2772h11M3384 2831h11M3387 2731h11M3387 2677h11M3387 2720h11M3390 2645h11M3391 2645h11M3391 2868h11M3391 2528h11M3392 2700h11M3394 2686h11M3394 2668h11M3394 2673h11M3395 2712h11M3396 2745h11M3396 2606h11M3396 2725h11M3400 2625h11M3400 2831h11M3401 2627h11M3403 2616h11M3403 2680h11M3403 2895h11M3404 2754h11M3405 2854h11M3405 2691h11M3407 2664h11M3408 2580h11M3408 2707h11M3410 2707h11M3410 2696h11M3410 2674h11M3410 2647h11M3410 2707h11M3413 2655h11M3413 2694h11M3413 2707h11M3413 2628h11M3414 2700h11M3418 2734h11M3419 2774h11M3419 2724h11M3419 2985h11M3420 2582h11M3421 2919h11M3421 2864h11M3421 2682h11M3422 2682h11M3422 2616h11M3422 2648h11M3422 2733h11M3424 2737h11M3424 2659h11M3425 2970h11M3425 3011h11M3425 2718h11M3426 2670h11M3427 2648h11M3427 2827h11M3428 2670h11M3429 2532h11M3429 2735h11M3429 2555h11M3431 2658h11M3432 2580h11M3432 2601h11M3433 2790h11M3433 2688h11M3434 2677h11M3434 2564h11M3434 2687h11M3434 2726h11M3434 2757h11M3435 2665h11M3435 2675h11M3435 2738h11M3435 2934h11M3436 2672h11M3436 2712h11M3436 2755h11M3436 2670h11M3437 2634h11M3437 2930h11M3438 2640h11M3438 2676h11M3439 2635h11M3441 2645h11M3441 2679h11M3441 2588h11M3442 2627h11M3442 2678h11M3443 2654h11M3443 2934h11M3444 2679h11M3444 2893h11M3444 2677h11M3445 2718h11M3445 2722h11M3446 2672h11M3446 2716h11M3447 2654h11M3447 2664h11M3448 2590h11M3448 2672h11M3449 2693h11M3450 2622h11M3450 2591h11M3450 2872h11M3452 2909h11M3452 2693h11M3452 2908h11M3452 2654h11M3453 2627h11M3454 2655h11M3454 2985h11M3454 2644h11M3454 2662h11M3454 2659h11M3454 2726h11M3455 2768h11M3457 2680h11M3457 2964h11M3457 2688h11M3457 2675h11M3458 2882h11M3458 2662h11M3459 2666h11M3460 2665h11M3461 2690h11M3461 2697h11M3462 2728h11M3462 2697h11M3463 2594h11M3463 2652h11M3463 2663h11M3464 2637h11M3464 2799h11M3465 2594h11M3465 2726h11M3466 2713h11M3466 2687h11M3466 2750h11M3467 2615h11M3468 2905h11M3468 2657h11M3468 2954h11M3468 2666h11M3469 2723h11M3469 2627h11M3469 2924h11M3470 2691h11M3470 2913h11M3470 2709h11M3470 2672h11M3470 2639h11M3470 2568h11M3471 2657h11M3471 2757h11M3471 2659h11M3472 2730h11M3472 2643h11M3472 2718h11M3473 2569h11M3474 2672h11M3474 2946h11M3475 2777h11M3475 2675h11M3476 3030h11M3476 2587h11M3476 2658h11M3477 3002h11M3477 3076h11M3478 3014h11M3479 2692h11M3479 2900h11M3480 2965h11M3480 2717h11M3480 2759h11M3481 2850h11M3482 2925h11M3482 2666h11M3482 2782h11M3483 2638h11M3483 2817h11M3483 2780h11M3483 2717h11M3484 2716h11M3484 2638h11M3485 2641h11M3485 2711h11M3485 2711h11M3485 2709h11M3486 2766h11M3487 2768h11M3487 2710h11M3488 2706h11M3488 2598h11M3488 2811h11M3489 2792h11M3489 2686h11M3490 2723h11M3490 2716h11M3490 2608h11M3490 2532h11M3491 2719h11M3491 2913h11M3491 2771h11M3491 2823h11M3491 3052h11M3492 2618h11M3492 2734h11M3492 2663h11M3492 2676h11M3493 2939h11M3493 2683h11M3495 2666h11M3495 2747h11M3496 2633h11M3496 2754h11M3497 3031h11M3497 2759h11M3497 2937h11M3498 2678h11M3498 2780h11M3498 2881h11M3499 2711h11M3499 2704h11M3499 2770h11M3499 2689h11M3500 2726h11M3501 2653h11M3501 2678h11M3501 2707h11M3501 2678h11M3502 2781h11M3504 2681h11M3504 2672h11M3504 2718h11M3504 2669h11M3505 2890h11M3506 2681h11M3507 2660h11M3507 2691h11M3507 2672h11M3508 2699h11M3509 2899h11M3510 2935h11M3510 2742h11M3510 2918h11M3511 2726h11M3511 2868h11M3512 2649h11M3512 2611h11M3512 2702h11M3512 2942h11M3512 2632h11M3512 2682h11M3513 2918h11M3514 2723h11M3514 2948h11M3514 2668h11M3515 2971h11M3515 2847h11M3515 2734h11M3516 2926h11M3516 2745h11M3516 2698h11M3516 2915h11M3516 2977h11M3517 2713h11M3517 2714h11M3518 2675h11M3518 2772h11M3518 2665h11M3518 2705h11M3519 2780h11M3519 2608h11M3519 2835h11M3519 2685h11M3520 2756h11M3520 2738h11M3521 2713h11M3521 2614h11M3521 2805h11M3521 2631h11M3522 2828h11M3522 2718h11M3522 2659h11M3522 2680h11M3523 2650h11M3523 2735h11M3523 2959h11M3523 2796h11M3523 2797h11M3523 2834h11M3524 2635h11M3524 2825h11M3524 2823h11M3524 2715h11M3524 2649h11M3524 2739h11M3524 2576h11M3524 2818h11M3525 2785h11M3525 2736h11M3525 2711h11M3526 2795h11M3526 2714h11M3527 2670h11M3527 2713h11M3528 2711h11M3528 2625h11M3529 2656h11M3529 2762h11M3529 2691h11M3529 2717h11M3529 2644h11M3529 2623h11M3529 2697h11M3529 2585h11M3530 2690h11M3530 2688h11M3530 2682h11M3530 2657h11M3531 2716h11M3531 2717h11M3531 2584h11M3531 2704h11M3531 2720h11M3532 2728h11M3532 3009h11M3532 2725h11M3533 2675h11M3533 2667h11M3533 2672h11M3533 2638h11M3533 2676h11M3533 2626h11M3534 2640h11M3534 2975h11M3535 2913h11M3535 2626h11M3535 2738h11M3535 2958h11M3535 2646h11M3536 2740h11M3536 2677h11M3536 2682h11M3536 2708h11M3536 2681h11M3537 2644h11M3537 2694h11M3537 2793h11M3538 2737h11M3538 2745h11M3538 2691h11M3539 2655h11M3539 2634h11M3541 2777h11M3541 2681h11M3541 3003h11M3542 2826h11M3542 2724h11M3542 3003h11M3542 2718h11M3543 2794h11M3543 2739h11M3543 2878h11M3544 2659h11M3545 2984h11M3545 2693h11M3545 2679h11M3545 2694h11M3545 2697h11M3546 2690h11M3547 2655h11M3547 2771h11M3547 2891h11M3548 2681h11M3548 2653h11M3549 2617h11M3549 2689h11M3549 2781h11M3549 2749h11M3549 3055h11M3550 2716h11M3550 2779h11M3550 2655h11M3550 2944h11M3551 2646h11M3551 3001h11M3552 2697h11M3552 2655h11M3552 2729h11M3553 2625h11M3553 2660h11M3553 2751h11M3553 2713h11M3554 2701h11M3554 2702h11M3554 2552h11M3554 2678h11M3554 2746h11M3555 2668h11M3555 2665h11M3555 2654h11M3555 2807h11M3555 2609h11M3555 2724h11M3556 2704h11M3556 2757h11M3556 2697h11M3556 2920h11M3556 2645h11M3556 2726h11M3556 2814h11M3557 2887h11M3557 2973h11M3557 2708h11M3557 2773h11M3557 2916h11M3557 2649h11M3557 2663h11M3558 2804h11M3558 2615h11M3558 2525h11M3558 2763h11M3558 2690h11M3558 2714h11M3558 2729h11M3559 2937h11M3559 2809h11M3560 2616h11M3560 2968h11M3561 2703h11M3561 2884h11M3561 3026h11M3562 2691h11M3562 2664h11M3562 2644h11M3562 2893h11M3562 2711h11M3563 2639h11M3563 2634h11M3563 2739h11M3563 3036h11M3563 2654h11M3564 2682h11M3565 2731h11M3565 2660h11M3565 2730h11M3565 2685h11M3565 2690h11M3565 3010h11M3566 2756h11M3566 2996h11M3567 2797h11M3567 3058h11M3568 2792h11M3568 2910h11M3568 2816h11M3568 2939h11M3569 2630h11M3569 2737h11M3569 2979h11M3569 2689h11M3570 2831h11M3572 2661h11M3572 2673h11M3572 2780h11M3573 2708h11M3573 2899h11M3573 2845h11M3573 2690h11M3573 2701h11M3573 2696h11M3574 2702h11M3574 2898h11M3574 2724h11M3574 2695h11M3574 2628h11M3574 2751h11M3575 2690h11M3575 2763h11M3576 2680h11M3576 2697h11M3576 2620h11M3576 2726h11M3576 2713h11M3577 2750h11M3577 2887h11M3577 2830h11M3577 2745h11M3578 2792h11M3580 2684h11M3580 2953h11M3580 2685h11M3580 2654h11M3580 2713h11M3581 2917h11M3581 2753h11M3582 2683h11M3582 2707h11M3582 2725h11M3583 2749h11M3583 2793h11M3583 3089h11M3584 2636h11M3584 2685h11M3584 2701h11M3584 3011h11M3584 2691h11M3584 2702h11M3584 2797h11M3585 2976h11M3585 3035h11M3585 2726h11M3585 2669h11M3586 2642h11M3586 2644h11M3586 2578h11M3586 2704h11M3586 2855h11M3586 2674h11M3586 2697h11M3587 2646h11M3587 2699h11M3587 2681h11M3588 2580h11M3588 2923h11M3589 2768h11M3590 2659h11M3590 2725h11M3590 2660h11M3591 2712h11M3592 2656h11M3592 2963h11M3593 2877h11M3593 2758h11M3593 2692h11M3593 2885h11M3594 2631h11M3595 2622h11M3595 2944h11M3595 3048h11M3596 2735h11M3596 2670h11M3598 2784h11M3599 2755h11M3599 2841h11M3599 2700h11M3599 2583h11M3600 2897h11M3601 2619h11M3601 2691h11M3602 2642h11M3602 2646h11M3604 2705h11M3604 2865h11M3604 2854h11M3605 2687h11M3605 2853h11M3606 2677h11M3606 3007h11M3607 2712h11M3608 2634h11M3608 2740h11M3608 2701h11M3609 2630h11M3609 2906h11M3610 2752h11M3611 2625h11M3611 2973h11M3612 2713h11M3612 2699h11M3613 2801h11M3613 2679h11M3613 2667h11M3614 3006h11M3615 2833h11M3615 2778h11M3616 2987h11M3616 2908h11M3616 2610h11M3616 2682h11M3616 2631h11M3617 2880h11M3618 2818h11M3619 2950h11M3619 2887h11M3620 3017h11M3620 2742h11M3621 2701h11M3621 2737h11M3622 2690h11M3622 2924h11M3622 2846h11M3623 2690h11M3623 2821h11M3625 2935h11M3625 2767h11M3627 2921h11M3627 2669h11M3628 2657h11M3628 2658h11M3628 2722h11M3628 2688h11M3629 2668h11M3629 2685h11M3630 2726h11M3631 2703h11M3631 3025h11M3631 2928h11M3633 2636h11M3633 2694h11M3634 2661h11M3636 2806h11M3636 2979h11M3638 3034h11M3639 2701h11M3639 2990h11M3639 2816h11M3640 2901h11M3641 2722h11M3641 2993h11M3642 2701h11M3642 2953h11M3643 2673h11M3643 2718h11M3644 3036h11M3644 2701h11M3645 2699h11M3645 2632h11M3646 2736h11M3646 3038h11M3647 2807h11M3647 2704h11M3649 2666h11M3650 2814h11M3650 2802h11M3650 2739h11M3651 2707h11M3652 2997h11M3652 2841h11M3653 2986h11M3654 2920h11M3654 2898h11M3655 2981h11M3656 2999h11M3656 3054h11M3656 2652h11M3656 2875h11M3660 2732h11M3661 2660h11M3661 2711h11M3665 2788h11M3665 2721h11M3665 2884h11M3666 2919h11M3666 2687h11M3667 2930h11M3667 2664h11M3668 2661h11M3670 2704h11M3673 2734h11M3674 2727h11M3675 2686h11M3677 3022h11M3677 2654h11M3677 2710h11M3677 2949h11M3678 2812h11M3679 2859h11M3682 2783h11M3682 3054h11M3683 2666h11M3683 2807h11M3687 2895h11M3688 2799h11M3689 3022h11M3691 2715h11M3691 3178h11M3693 2680h11M3694 2889h11M3697 2712h11M3699 2712h11M3700 2656h11M3701 2954h11M3703 3090h11M3704 2600h11M3705 2985h11M3707 2644h11M3708 3004h11M3711 2825h11M3712 2875h11M3712 2712h11M3714 2805h11M3716 2752h11M3716 2688h11M3717 2943h11M3718 2794h11M3720 2662h11M3720 3075h11M3722 2740h11M3723 3040h11M3723 2737h11M3724 2731h11M3726 2906h11M3732 2672h11M3734 2682h11M3737 2681h11M3738 2670h11M3745 2799h11M3749 2943h11M3750 2670h11M3754 2688h11M3755 2716h11M3759 2652h11M3765 2774h11M3775 2708h11M3783 2738h11M3790 2952h11M3792 2798h11M3794 2686h11M3798 2727h11M3807 2667h11M3815 2591h11M3848 2653h11M3855 2717h11M3876 2729h11M3880 2976h11M3903 2729h11M3930 2826h11" stroke="#000" stroke-opacity="0.42" stroke-width="11" fill="none" transform="scale(.1)"/>
<path d="M3301 2781h11M3304 2703h11M3309 2677h11M3314 2679h11M3320 2719h11M3321 2751h11M3321 2731h11M3322 2808h11M3324 2711h11M3325 2955h11M3329 2547h11M3331 2879h11M3332 2646h11M3337 2711h11M3338 3010h11M3343 2698h11M3346 2714h11M3347 2708h11M3348 2677h11M3352 2639h11M3354 2675h11M3356 2657h11M3361 2721h11M3362 2688h11M3368 2782h11M3369 2858h11M3371 2756h11M3371 2653h11M3372 2641h11M3372 2875h11M3374 2725h11M3375 2690h11M3378 2690h11M3378 2695h11M3378 2629h11M3382 2708h11M3382 2677h11M3382 2656h11M3382 2682h11M3383 2589h11M3384 2864h11M3384 2757h11M3384 2701h11M3385 2688h11M3386 2856h11M3386 2643h11M3387 2674h11M3388 2726h11M3389 2748h11M3390 2634h11M3391 2925h11M3391 2700h11M3392 2711h11M3395 2708h11M3396 2770h11M3397 2846h11M3399 2663h11M3399 2811h11M3399 2660h11M3399 2810h11M3400 2623h11M3401 2687h11M3405 2675h11M3405 2661h11M3406 2678h11M3406 2674h11M3406 2717h11M3406 2699h11M3406 2617h11M3407 2817h11M3407 2658h11M3408 2828h11M3409 2686h11M3409 2583h11M3409 2668h11M3410 2621h11M3411 2618h11M3411 2657h11M3414 2616h11M3414 2937h11M3415 2668h11M3416 2827h11M3416 2719h11M3416 2690h11M3418 2752h11M3418 2745h11M3419 2702h11M3419 2735h11M3419 2805h11M3420 2720h11M3420 2703h11M3420 2819h11M3420 2611h11M3421 2692h11M3422 2735h11M3423 2592h11M3423 2701h11M3424 3070h11M3424 2678h11M3424 2721h11M3424 2732h11M3424 2905h11M3424 2714h11M3425 2713h11M3427 2692h11M3429 2715h11M3429 2590h11M3430 2728h11M3431 2784h11M3432 2616h11M3432 2705h11M3432 2663h11M3432 2722h11M3433 2684h11M3438 2830h11M3438 2653h11M3439 2715h11M3439 2811h11M3439 2714h11M3440 2657h11M3440 2946h11M3441 2977h11M3444 2627h11M3444 2713h11M3445 2623h11M3445 2712h11M3446 2675h11M3447 2745h11M3447 2742h11M3447 2631h11M3447 2705h11M3448 2699h11M3449 2795h11M3449 2675h11M3449 2604h11M3450 2692h11M3450 2673h11M3451 2644h11M3451 2706h11M3453 2644h11M3453 2664h11M3453 2699h11M3454 2646h11M3454 2736h11M3455 2651h11M3456 2663h11M3456 2635h11M3457 2868h11M3457 2755h11M3457 2631h11M3458 2721h11M3459 2705h11M3460 2674h11M3461 2751h11M3461 2682h11M3461 2727h11M3462 2888h11M3462 2857h11M3462 2673h11M3463 2812h11M3463 2631h11M3464 2852h11M3464 2690h11M3464 2687h11M3464 2609h11M3464 2690h11M3465 2689h11M3466 2764h11M3466 2600h11M3467 2682h11M3467 3049h11M3468 2801h11M3468 2660h11M3468 2669h11M3468 2504h11M3470 2698h11M3470 2952h11M3471 2684h11M3471 2711h11M3471 2604h11M3472 2663h11M3473 2818h11M3474 2547h11M3474 2847h11M3474 2614h11M3474 2959h11M3475 2629h11M3475 2664h11M3475 2646h11M3475 2683h11M3475 2592h11M3476 2715h11M3477 2611h11M3478 2634h11M3478 2741h11M3479 3027h11M3479 2674h11M3480 2669h11M3480 2981h11M3481 2676h11M3481 2646h11M3481 2894h11M3482 2654h11M3482 2631h11M3484 2970h11M3485 3048h11M3485 2691h11M3486 2678h11M3486 2633h11M3486 2690h11M3487 2760h11M3487 2662h11M3488 2711h11M3489 2770h11M3489 2806h11M3489 3002h11M3489 3017h11M3490 2696h11M3491 2636h11M3491 2677h11M3491 3024h11M3491 2783h11M3491 2726h11M3491 3011h11M3492 2650h11M3492 2805h11M3492 2669h11M3493 2666h11M3493 2643h11M3493 2972h11M3493 2698h11M3494 2655h11M3495 2703h11M3495 2798h11M3495 2695h11M3495 2847h11M3495 2619h11M3496 2721h11M3496 2712h11M3497 2590h11M3497 2799h11M3497 2674h11M3498 2786h11M3498 2697h11M3498 2670h11M3499 2882h11M3499 2729h11M3499 2848h11M3500 2739h11M3500 2633h11M3500 2793h11M3500 2704h11M3501 2662h11M3501 2674h11M3502 2705h11M3502 2801h11M3503 2717h11M3503 2808h11M3503 2791h11M3504 3042h11M3504 2687h11M3504 2884h11M3504 2934h11M3505 2763h11M3505 2825h11M3506 2849h11M3506 2705h11M3506 2787h11M3507 2702h11M3507 2640h11M3507 2692h11M3508 2710h11M3509 2550h11M3509 2609h11M3509 2646h11M3510 2640h11M3510 3090h11M3510 2899h11M3513 2683h11M3513 2730h11M3513 2695h11M3513 2702h11M3513 2939h11M3514 2712h11M3514 2722h11M3514 2810h11M3515 2735h11M3515 2699h11M3515 2663h11M3515 2872h11M3515 2744h11M3516 2863h11M3516 2665h11M3517 2700h11M3518 2692h11M3518 2695h11M3519 2744h11M3519 2770h11M3519 2825h11M3519 2691h11M3521 2569h11M3521 3024h11M3521 2711h11M3521 2691h11M3521 2695h11M3522 2719h11M3522 2847h11M3522 2641h11M3522 2695h11M3522 2645h11M3522 2663h11M3523 2662h11M3523 2910h11M3523 2626h11M3523 2800h11M3523 2639h11M3524 2730h11M3524 2747h11M3524 3048h11M3525 2638h11M3525 2696h11M3525 2684h11M3525 2642h11M3526 2856h11M3527 2717h11M3527 2716h11M3527 2696h11M3527 2612h11M3528 2724h11M3528 2680h11M3528 2666h11M3528 2685h11M3528 2679h11M3528 2751h11M3528 2840h11M3528 2726h11M3528 2738h11M3529 2787h11M3530 2773h11M3530 2960h11M3530 2684h11M3530 2575h11M3530 2620h11M3530 2693h11M3531 2882h11M3531 2833h11M3531 2695h11M3531 2878h11M3531 2926h11M3532 2852h11M3532 2665h11M3533 2661h11M3533 2738h11M3533 2729h11M3534 2618h11M3534 2905h11M3534 2735h11M3534 2877h11M3534 2669h11M3534 2703h11M3534 2665h11M3534 2685h11M3534 2649h11M3535 2683h11M3535 2638h11M3535 2701h11M3536 2614h11M3537 2675h11M3537 2655h11M3537 2721h11M3537 2911h11M3538 2701h11M3538 3000h11M3538 2906h11M3539 3030h11M3539 2622h11M3539 2717h11M3540 3031h11M3540 2674h11M3540 2999h11M3540 2770h11M3540 2681h11M3540 2693h11M3541 2676h11M3541 2658h11M3541 2902h11M3541 2770h11M3542 2734h11M3542 2796h11M3542 2760h11M3542 2918h11M3542 2639h11M3542 2750h11M3543 2701h11M3543 2688h11M3543 2654h11M3543 2693h11M3544 2794h11M3544 2630h11M3544 2687h11M3544 2659h11M3545 2690h11M3545 2699h11M3545 2685h11M3545 2692h11M3545 2690h11M3545 2688h11M3545 2782h11M3546 2892h11M3546 2676h11M3546 2636h11M3547 2640h11M3547 2569h11M3547 2819h11M3548 2970h11M3548 2690h11M3548 2698h11M3548 2714h11M3549 2980h11M3549 2710h11M3549 3030h11M3549 2770h11M3549 2688h11M3550 2844h11M3550 2681h11M3550 2658h11M3550 2389h11M3551 2765h11M3551 2767h11M3551 3069h11M3551 2718h11M3552 2643h11M3552 2947h11M3552 2739h11M3553 2744h11M3553 2670h11M3553 2675h11M3553 2670h11M3553 2979h11M3554 2698h11M3554 2731h11M3554 2726h11M3555 2686h11M3555 2645h11M3555 2643h11M3555 2751h11M3556 3013h11M3557 2904h11M3557 2724h11M3557 2639h11M3557 2698h11M3558 2703h11M3559 2745h11M3559 2818h11M3560 3046h11M3560 2682h11M3560 2670h11M3561 2953h11M3561 2670h11M3562 2634h11M3562 2927h11M3562 2647h11M3563 2682h11M3563 2727h11M3563 2867h11M3563 2956h11M3563 2746h11M3563 2753h11M3563 2698h11M3563 2895h11M3563 2732h11M3564 2693h11M3564 2741h11M3564 2791h11M3564 2692h11M3565 2676h11M3565 2934h11M3565 2652h11M3565 2744h11M3565 2689h11M3566 2684h11M3566 2800h11M3566 2703h11M3566 2955h11M3568 2702h11M3568 2731h11M3569 2625h11M3569 2719h11M3569 2703h11M3569 2697h11M3569 2698h11M3570 2662h11M3570 2673h11M3570 2730h11M3570 2781h11M3571 2883h11M3571 2698h11M3571 2788h11M3571 2647h11M3571 2697h11M3571 2711h11M3571 2939h11M3571 2917h11M3572 2727h11M3572 2722h11M3572 2654h11M3572 2627h11M3572 3086h11M3572 2818h11M3573 2700h11M3574 2718h11M3574 2966h11M3574 2782h11M3575 2693h11M3575 2999h11M3575 2644h11M3577 2740h11M3578 2681h11M3578 2711h11M3578 2737h11M3579 2868h11M3579 2672h11M3579 2887h11M3579 2720h11M3579 2656h11M3579 2714h11M3580 2716h11M3580 2784h11M3580 2808h11M3580 2739h11M3581 2691h11M3581 2766h11M3581 2760h11M3581 2878h11M3581 2867h11M3582 2744h11M3583 2793h11M3583 2714h11M3584 2715h11M3584 2658h11M3584 2885h11M3584 2790h11M3585 2617h11M3585 2711h11M3585 2611h11M3585 2701h11M3586 3014h11M3586 3113h11M3587 2877h11M3587 2661h11M3587 2718h11M3587 2858h11M3588 2702h11M3588 2726h11M3588 2641h11M3589 3021h11M3589 2783h11M3589 3004h11M3590 2910h11M3591 2644h11M3592 2628h11M3592 2731h11M3594 2659h11M3594 2721h11M3595 2666h11M3596 3050h11M3596 2734h11M3596 2730h11M3596 2608h11M3597 2683h11M3598 2893h11M3598 3040h11M3599 2595h11M3599 2963h11M3601 2873h11M3601 2761h11M3603 2656h11M3603 2691h11M3604 2702h11M3604 3055h11M3605 2681h11M3605 2758h11M3606 3115h11M3606 2699h11M3606 2909h11M3607 2704h11M3607 2713h11M3607 2691h11M3607 2700h11M3608 2893h11M3608 2903h11M3608 2712h11M3609 2818h11M3609 2675h11M3609 2675h11M3610 2708h11M3610 2734h11M3610 2769h11M3611 2707h11M3611 2762h11M3611 2709h11M3612 2822h11M3613 2896h11M3613 2766h11M3613 2706h11M3613 2735h11M3614 2722h11M3614 2721h11M3614 2733h11M3614 2731h11M3615 2880h11M3615 2668h11M3615 2707h11M3615 2679h11M3615 2664h11M3617 2892h11M3618 2686h11M3618 3067h11M3619 2695h11M3619 2714h11M3619 2880h11M3620 2817h11M3621 2919h11M3621 2706h11M3622 2641h11M3622 2669h11M3622 2732h11M3623 2717h11M3623 2667h11M3623 2561h11M3624 2944h11M3624 2732h11M3624 2720h11M3625 2869h11M3625 2746h11M3626 2994h11M3627 2753h11M3627 2921h11M3627 2854h11M3628 2946h11M3628 2606h11M3628 2970h11M3629 2702h11M3629 2732h11M3632 2694h11M3632 2712h11M3632 2689h11M3633 2722h11M3633 2689h11M3635 2670h11M3637 2988h11M3637 2890h11M3637 2755h11M3638 2739h11M3638 2761h11M3638 2795h11M3639 2691h11M3641 2711h11M3641 2691h11M3643 2719h11M3643 2672h11M3644 2672h11M3644 2647h11M3645 3066h11M3646 2742h11M3647 2692h11M3647 2760h11M3648 2906h11M3648 2813h11M3649 2903h11M3650 2914h11M3650 2671h11M3651 2790h11M3651 2910h11M3653 2951h11M3655 2850h11M3655 2860h11M3657 2930h11M3657 2842h11M3658 2683h11M3660 2607h11M3661 2706h11M3661 2871h11M3661 2986h11M3663 2810h11M3663 2635h11M3665 3043h11M3665 2942h11M3667 2644h11M3667 2779h11M3669 2904h11M3670 2655h11M3670 2939h11M3672 2675h11M3672 2716h11M3673 2951h11M3673 2880h11M3675 2814h11M3678 2679h11M3679 2860h11M3680 2800h11M3680 2728h11M3681 2869h11M3682 2663h11M3682 3073h11M3683 2749h11M3683 2663h11M3683 2639h11M3686 2814h11M3689 2774h11M3690 2700h11M3691 2806h11M3692 2696h11M3693 3154h11M3693 2842h11M3694 2723h11M3694 2910h11M3695 2656h11M3695 2750h11M3696 2665h11M3697 3078h11M3701 3010h11M3704 2930h11M3704 2730h11M3704 2685h11M3705 2669h11M3706 2846h11M3707 2855h11M3707 2704h11M3709 2812h11M3711 3014h11M3712 2825h11M3712 2700h11M3713 2785h11M3714 2899h11M3718 2980h11M3720 2673h11M3721 2831h11M3721 2791h11M3727 2857h11M3728 2641h11M3729 3026h11M3729 2942h11M3730 2802h11M3741 2869h11M3742 2687h11M3747 2864h11M3748 2709h11M3755 2731h11M3755 2910h11M3756 2929h11M3762 2660h11M3766 2821h11M3786 3026h11M3787 3017h11M3799 2694h11M3804 2662h11M3806 2679h11M3806 2708h11M3812 2692h11M3819 2714h11M3839 2659h11M3840 2702h11M3843 2949h11M3845 2718h11M3848 2657h11M3856 2735h11M3875 2773h11M3876 2670h11M3876 2687h11M3885 3106h11M3896 2656h11" stroke="#000" stroke-opacity="0.42" stroke-width="11" fill="none" transform="scale(.1)"/>
<path d="M3272 3051h11M3294 2640h11M3299 2669h11M3302 2665h11M3303 2603h11M3308 2692h11M3319 2722h11M3323 2658h11M3323 2731h11M3327 2843h11M3330 2678h11M3339 2741h11M3340 2923h11M3342 2685h11M3342 2686h11M3344 2730h11M3345 2676h11M3349 2695h11M3350 2735h11M3353 2711h11M3354 2686h11M3354 2721h11M3354 2810h11M3357 2983h11M3359 2724h11M3361 2709h11M3364 2618h11M3364 2712h11M3365 2714h11M3369 2667h11M3369 2733h11M3371 2750h11M3372 2604h11M3373 2658h11M3373 2671h11M3374 2597h11M3375 2815h11M3377 2798h11M3377 2665h11M3378 2584h11M3384 2724h11M3385 2745h11M3387 2601h11M3388 2884h11M3390 2656h11M3390 2657h11M3391 2725h11M3391 2656h11M3393 2888h11M3393 2670h11M3395 2667h11M3395 2797h11M3396 2641h11M3398 2728h11M3399 2603h11M3399 2922h11M3402 2857h11M3403 2677h11M3403 2621h11M3403 2591h11M3405 2751h11M3405 2719h11M3405 2690h11M3405 2705h11M3405 2762h11M3405 2665h11M3406 2667h11M3406 2680h11M3406 2816h11M3406 2960h11M3407 2735h11M3407 2648h11M3409 2620h11M3409 2726h11M3410 2672h11M3410 2708h11M3410 2725h11M3411 2683h11M3412 2666h11M3413 2750h11M3413 2643h11M3413 2699h11M3415 2636h11M3416 2658h11M3416 2827h11M3416 2696h11M3418 2676h11M3418 2670h11M3419 2731h11M3420 2737h11M3421 3201h11M3421 2674h11M3422 2680h11M3422 2686h11M3423 2682h11M3423 2647h11M3423 2570h11M3423 2672h11M3425 2651h11M3426 2762h11M3426 2682h11M3426 2673h11M3426 2733h11M3427 2790h11M3427 2701h11M3427 2590h11M3427 2847h11M3430 2668h11M3431 3081h11M3431 2626h11M3431 2544h11M3431 2693h11M3432 2641h11M3432 2700h11M3433 2597h11M3433 2689h11M3433 2716h11M3436 2685h11M3436 2686h11M3437 3025h11M3437 2656h11M3437 2684h11M3439 2694h11M3440 2819h11M3440 2638h11M3441 2893h11M3441 2761h11M3442 2870h11M3442 2667h11M3443 2751h11M3443 2645h11M3444 2715h11M3445 2600h11M3445 2670h11M3446 2710h11M3446 2725h11M3447 2640h11M3447 2683h11M3448 2685h11M3448 2683h11M3449 2751h11M3449 2724h11M3451 2596h11M3451 2634h11M3451 3045h11M3451 2660h11M3452 2577h11M3453 2576h11M3454 2697h11M3454 2669h11M3454 2721h11M3455 2684h11M3455 2826h11M3455 2648h11M3456 2703h11M3456 2944h11M3456 2725h11M3457 2660h11M3457 2683h11M3458 2725h11M3458 2687h11M3458 2701h11M3458 2730h11M3459 2695h11M3459 2722h11M3461 2906h11M3461 2683h11M3462 2728h11M3462 2700h11M3462 2661h11M3462 2771h11M3463 2669h11M3463 2677h11M3464 2771h11M3465 2800h11M3465 2726h11M3466 2681h11M3467 2727h11M3467 2657h11M3467 2752h11M3468 2722h11M3469 2851h11M3469 2685h11M3470 2705h11M3471 2706h11M3471 2652h11M3471 2693h11M3471 2646h11M3471 2656h11M3472 2678h11M3472 2862h11M3472 2686h11M3472 2861h11M3473 2700h11M3473 3031h11M3474 2685h11M3474 2972h11M3474 2627h11M3475 2980h11M3475 2722h11M3476 2627h11M3476 2985h11M3476 2686h11M3476 2695h11M3476 2762h11M3476 2719h11M3476 2840h11M3477 2685h11M3478 2694h11M3479 2600h11M3479 2707h11M3480 2732h11M3480 2760h11M3481 2695h11M3481 2758h11M3481 2727h11M3481 2721h11M3481 2775h11M3482 2724h11M3482 2658h11M3483 3118h11M3483 2761h11M3483 2729h11M3483 2575h11M3484 2621h11M3485 2666h11M3485 2852h11M3485 2624h11M3486 2884h11M3486 2705h11M3486 2674h11M3486 2647h11M3487 2699h11M3487 2767h11M3487 2839h11M3487 2877h11M3488 2874h11M3488 2855h11M3488 2678h11M3489 2733h11M3489 3042h11M3490 2693h11M3490 2649h11M3490 2688h11M3490 2689h11M3490 2999h11M3490 2683h11M3490 2804h11M3491 2879h11M3491 2650h11M3491 2648h11M3492 2657h11M3492 2908h11M3492 2719h11M3492 2731h11M3493 3064h11M3493 2643h11M3494 2964h11M3494 2765h11M3494 2675h11M3494 2639h11M3494 2855h11M3496 2715h11M3496 3170h11M3496 2692h11M3496 2686h11M3497 2635h11M3497 2670h11M3498 2630h11M3498 2974h11M3499 2724h11M3499 2724h11M3499 2932h11M3499 2709h11M3500 2661h11M3500 2836h11M3500 2729h11M3500 2732h11M3500 2654h11M3502 2754h11M3502 2739h11M3502 2637h11M3502 2793h11M3503 2578h11M3503 2644h11M3504 2687h11M3504 2860h11M3506 2699h11M3506 2682h11M3507 2659h11M3507 2745h11M3508 2781h11M3508 2667h11M3508 2684h11M3508 2648h11M3508 2806h11M3509 2675h11M3509 2618h11M3509 2702h11M3509 2862h11M3509 2855h11M3510 2996h11M3510 2590h11M3510 2738h11M3511 2984h11M3511 2610h11M3512 2720h11M3512 2932h11M3513 2955h11M3513 2913h11M3515 2721h11M3515 2857h11M3515 2594h11M3516 2771h11M3516 2918h11M3516 2679h11M3516 2819h11M3516 2966h11M3516 2748h11M3516 2872h11M3517 2697h11M3517 2732h11M3518 2694h11M3519 2635h11M3519 2720h11M3519 2696h11M3519 2945h11M3520 2927h11M3520 3011h11M3520 2669h11M3520 2864h11M3521 2984h11M3522 2836h11M3522 2868h11M3522 2697h11M3522 2689h11M3522 2705h11M3522 2689h11M3523 2647h11M3523 2689h11M3523 2804h11M3524 2710h11M3524 2783h11M3524 2701h11M3524 2686h11M3524 2660h11M3524 2835h11M3525 2611h11M3525 2995h11M3525 3049h11M3526 2757h11M3526 3038h11M3526 2669h11M3526 2656h11M3527 2610h11M3527 2654h11M3527 2880h11M3527 2709h11M3527 2864h11M3527 2659h11M3527 2998h11M3528 2892h11M3528 2681h11M3528 2837h11M3528 2695h11M3529 2708h11M3529 2650h11M3529 2693h11M3529 2640h11M3530 2690h11M3531 2836h11M3532 2680h11M3532 2709h11M3532 3010h11M3532 2682h11M3532 2773h11M3533 2965h11M3534 2666h11M3534 2712h11M3534 2686h11M3534 2701h11M3535 2916h11M3535 2800h11M3535 2669h11M3536 2677h11M3536 2674h11M3536 2691h11M3537 2645h11M3537 2816h11M3537 2986h11M3538 2689h11M3538 2668h11M3539 2870h11M3539 2670h11M3540 3035h11M3540 2892h11M3541 2740h11M3541 2680h11M3541 2785h11M3541 2697h11M3541 2659h11M3541 2779h11M3543 2720h11M3543 2719h11M3543 2919h11M3543 2651h11M3543 2609h11M3544 2769h11M3544 2721h11M3545 2708h11M3545 2881h11M3546 2896h11M3546 2695h11M3546 2695h11M3547 2764h11M3547 2622h11M3547 2719h11M3547 2730h11M3548 2846h11M3548 2608h11M3548 2815h11M3549 2948h11M3549 2610h11M3549 2828h11M3549 2615h11M3550 2680h11M3550 2750h11M3551 3022h11M3551 2602h11M3551 2687h11M3551 2706h11M3552 2707h11M3552 2659h11M3552 2733h11M3553 2717h11M3553 2960h11M3553 2718h11M3553 2643h11M3554 2890h11M3554 2733h11M3554 2862h11M3554 2816h11M3554 2818h11M3554 2667h11M3554 2921h11M3555 2658h11M3555 2646h11M3555 2944h11M3555 2686h11M3555 2669h11M3556 2701h11M3556 2684h11M3557 2638h11M3557 2624h11M3558 2634h11M3558 2748h11M3559 2545h11M3559 2679h11M3559 2685h11M3559 2680h11M3560 2711h11M3560 2691h11M3560 2663h11M3560 2902h11M3560 2790h11M3560 2764h11M3561 2676h11M3561 2698h11M3561 2697h11M3561 2645h11M3561 2814h11M3562 2671h11M3562 2695h11M3562 2948h11M3562 2994h11M3563 2956h11M3563 2650h11M3563 2660h11M3564 2746h11M3565 2706h11M3565 2740h11M3565 2816h11M3566 2710h11M3566 2653h11M3566 2624h11M3567 2807h11M3567 2663h11M3567 2666h11M3567 2714h11M3569 2668h11M3569 2723h11M3569 2973h11M3569 2791h11M3570 2630h11M3570 2772h11M3570 2661h11M3570 2756h11M3571 2892h11M3571 2614h11M3571 2892h11M3571 2917h11M3571 2732h11M3572 2674h11M3572 2679h11M3573 2990h11M3573 3113h11M3574 2751h11M3574 2780h11M3575 2844h11M3575 2644h11M3575 2657h11M3577 2801h11M3577 2689h11M3577 2847h11M3578 2692h11M3578 2684h11M3579 2880h11M3579 2850h11M3580 2926h11M3581 3017h11M3581 2665h11M3581 2724h11M3581 2867h11M3582 2775h11M3582 2635h11M3583 2726h11M3584 2991h11M3584 3019h11M3584 2712h11M3584 2685h11M3584 2827h11M3584 2672h11M3585 2692h11M3586 2765h11M3586 2672h11M3586 3060h11M3586 2720h11M3587 2790h11M3588 2736h11M3588 2626h11M3588 2854h11M3589 2721h11M3589 2819h11M3591 2922h11M3592 2683h11M3592 2741h11M3592 2844h11M3592 3033h11M3592 2841h11M3592 2669h11M3592 2654h11M3592 2905h11M3593 2885h11M3594 2706h11M3594 3082h11M3594 2922h11M3595 2687h11M3595 2707h11M3595 2681h11M3596 2659h11M3596 2815h11M3597 2800h11M3598 2727h11M3598 2753h11M3598 2791h11M3598 2691h11M3599 2794h11M3599 3106h11M3599 2733h11M3599 2683h11M3600 2702h11M3600 2697h11M3600 3099h11M3601 2660h11M3602 3006h11M3602 2682h11M3602 2761h11M3602 2668h11M3603 2704h11M3603 2867h11M3603 3056h11M3603 2876h11M3604 2717h11M3605 2893h11M3605 2667h11M3606 2666h11M3607 2836h11M3610 2900h11M3610 2665h11M3610 2915h11M3612 2673h11M3614 2725h11M3615 2713h11M3615 2794h11M3616 2985h11M3616 3121h11M3617 2998h11M3617 2838h11M3617 2720h11M3617 2948h11M3618 2789h11M3618 2695h11M3620 2732h11M3621 2885h11M3622 2939h11M3623 2662h11M3624 3000h11M3624 2696h11M3624 2683h11M3624 2695h11M3625 2678h11M3625 2969h11M3626 2797h11M3626 2654h11M3627 2673h11M3627 2677h11M3627 2641h11M3628 2691h11M3628 2817h11M3630 2609h11M3631 2653h11M3631 2686h11M3631 2587h11M3631 2857h11M3631 2656h11M3631 2722h11M3632 2707h11M3633 2895h11M3634 2938h11M3634 2644h11M3635 2843h11M3636 2993h11M3637 2841h11M3637 2694h11M3637 2878h11M3637 3035h11M3637 2644h11M3637 3052h11M3638 3045h11M3639 2857h11M3642 2712h11M3642 2664h11M3643 2904h11M3643 2907h11M3644 2722h11M3644 2753h11M3645 2893h11M3645 2689h11M3646 2975h11M3646 2805h11M3647 2800h11M3648 2975h11M3651 2821h11M3652 2619h11M3652 2679h11M3652 2939h11M3653 2681h11M3653 2663h11M3654 2817h11M3655 2937h11M3655 3043h11M3657 2955h11M3657 3109h11M3657 2644h11M3657 2639h11M3658 2719h11M3658 2996h11M3658 2891h11M3659 2903h11M3661 2693h11M3661 2695h11M3662 2800h11M3662 2669h11M3663 2685h11M3665 2860h11M3665 2677h11M3665 2842h11M3667 2714h11M3667 2815h11M3669 2647h11M3670 2763h11M3670 2751h11M3673 2758h11M3674 2957h11M3674 2667h11M3674 2719h11M3675 3005h11M3676 2695h11M3676 2952h11M3677 2895h11M3678 2653h11M3678 2695h11M3680 2726h11M3682 2666h11M3682 2678h11M3684 2799h11M3685 2931h11M3686 2813h11M3686 2688h11M3686 2698h11M3688 2764h11M3688 2895h11M3689 2729h11M3689 2651h11M3693 2789h11M3694 2909h11M3694 2677h11M3695 2703h11M3696 2681h11M3696 2682h11M3696 2870h11M3697 2928h11M3698 2827h11M3699 2915h11M3700 3076h11M3700 2729h11M3703 3061h11M3707 2610h11M3708 2657h11M3712 2655h11M3716 2730h11M3717 2826h11M3717 2708h11M3719 2679h11M3721 2646h11M3721 2671h11M3721 3021h11M3722 2696h11M3724 2681h11M3725 2717h11M3725 2695h11M3727 2798h11M3728 2639h11M3729 2700h11M3729 2981h11M3730 2663h11M3735 2825h11M3737 2697h11M3737 2941h11M3739 2689h11M3740 2642h11M3743 2835h11M3744 2887h11M3747 2681h11M3748 2745h11M3750 2718h11M3756 2814h11M3758 2705h11M3758 2693h11M3758 2563h11M3758 2640h11M3766 3080h11M3768 2797h11M3771 2674h11M3784 2710h11M3785 2636h11M3799 2639h11M3800 2725h11M3801 2930h11M3806 2924h11M3809 2658h11M3824 2734h11M3827 2837h11M3827 2715h11M3833 2748h11M3836 2702h11M3849 2635h11M3863 2704h11M3888 2674h11M3891 2686h11M3898 2712h11M3899 2731h11" stroke="#000" stroke-opacity="0.42" stroke-width="11" fill="none" transform="scale(.1)"/>
<path d="M3296 2967h11M3300 2718h11M3300 2699h11M3302 2672h11M3302 2654h11M3306 2718h11M3309 2723h11M3311 2619h11M3316 2696h11M3317 2754h11M3319 2676h11M3320 2687h11M3323 2693h11M3326 2700h11M3328 2671h11M3328 2668h11M3333 2694h11M3336 2681h11M3340 2666h11M3341 2643h11M3342 3006h11M3345 2662h11M3345 2730h11M3349 2759h11M3349 2728h11M3356 2731h11M3358 2740h11M3359 2860h11M3360 2675h11M3361 2688h11M3362 2727h11M3362 2701h11M3363 2975h11M3368 2673h11M3373 2626h11M3373 2664h11M3373 2723h11M3373 2612h11M3374 2534h11M3374 2676h11M3374 2683h11M3377 2689h11M3380 2679h11M3380 2708h11M3381 2626h11M3381 2545h11M3383 2691h11M3384 2551h11M3384 2939h11M3385 2562h11M3385 2828h11M3385 2615h11M3386 2681h11M3389 2765h11M3389 2613h11M3389 2685h11M3389 2648h11M3390 2715h11M3396 3023h11M3397 2742h11M3397 2718h11M3397 2736h11M3397 2720h11M3403 2647h11M3403 2753h11M3404 2873h11M3405 2744h11M3405 2871h11M3405 2708h11M3406 2720h11M3406 2553h11M3406 2826h11M3407 2677h11M3407 2745h11M3408 2718h11M3408 2646h11M3408 2673h11M3408 2656h11M3409 2651h11M3409 2644h11M3410 2610h11M3412 2782h11M3413 2704h11M3413 2642h11M3415 2811h11M3415 2649h11M3415 2855h11M3416 2897h11M3416 2621h11M3418 2671h11M3418 2591h11M3418 2677h11M3418 2718h11M3418 2839h11M3419 2635h11M3419 2693h11M3420 2702h11M3420 2693h11M3420 2712h11M3422 2733h11M3422 2707h11M3423 2722h11M3424 2663h11M3424 2726h11M3424 2630h11M3427 2706h11M3428 2686h11M3429 2657h11M3430 2701h11M3430 2662h11M3431 2734h11M3432 2735h11M3433 2641h11M3433 2789h11M3434 3022h11M3434 2867h11M3436 2663h11M3438 2662h11M3438 2624h11M3439 2680h11M3440 2871h11M3441 2698h11M3441 2787h11M3443 2802h11M3443 2666h11M3443 2950h11M3443 3013h11M3445 2641h11M3445 2686h11M3445 2646h11M3446 2682h11M3446 2704h11M3447 2680h11M3447 2653h11M3447 2607h11M3447 2690h11M3448 2722h11M3448 2731h11M3448 2722h11M3449 2723h11M3449 2684h11M3450 2726h11M3451 2808h11M3452 2673h11M3452 2613h11M3452 2737h11M3452 2648h11M3453 2950h11M3453 2677h11M3453 2688h11M3453 2887h11M3454 2665h11M3455 2745h11M3455 2757h11M3456 2695h11M3456 2648h11M3456 2703h11M3456 2576h11M3456 2803h11M3457 2676h11M3457 2748h11M3457 2716h11M3457 2680h11M3457 2641h11M3457 2668h11M3457 2672h11M3458 2695h11M3458 2911h11M3458 2660h11M3459 2706h11M3460 2765h11M3463 2722h11M3463 3026h11M3463 2711h11M3464 2701h11M3464 2711h11M3465 2917h11M3467 2764h11M3467 2929h11M3467 2724h11M3468 2700h11M3468 2695h11M3468 2665h11M3469 2596h11M3469 2890h11M3470 2670h11M3471 2888h11M3471 2519h11M3472 2733h11M3472 2750h11M3472 2676h11M3473 2722h11M3473 2766h11M3474 2939h11M3474 2701h11M3475 2660h11M3476 2700h11M3476 2691h11M3477 2689h11M3478 2705h11M3478 2887h11M3478 2909h11M3479 2713h11M3479 2844h11M3481 2703h11M3481 2619h11M3481 2666h11M3481 2827h11M3481 2758h11M3481 2709h11M3481 2670h11M3482 2639h11M3482 2952h11M3482 2931h11M3482 2762h11M3483 2656h11M3484 2828h11M3484 2988h11M3484 2642h11M3485 2713h11M3485 2687h11M3485 2855h11M3486 2934h11M3486 2695h11M3486 2641h11M3487 2721h11M3487 2671h11M3487 2906h11M3488 2839h11M3488 2595h11M3488 2787h11M3489 2931h11M3489 2711h11M3489 2746h11M3489 2785h11M3489 2671h11M3490 2626h11M3490 2691h11M3492 2815h11M3492 2720h11M3493 2708h11M3493 2697h11M3493 2710h11M3494 2788h11M3494 2857h11M3494 2978h11M3495 2664h11M3495 2698h11M3496 2681h11M3496 2673h11M3497 2626h11M3497 2679h11M3498 2839h11M3498 2689h11M3499 2693h11M3499 2620h11M3499 2645h11M3499 2590h11M3499 2617h11M3500 2728h11M3500 2729h11M3501 2760h11M3502 2684h11M3503 2731h11M3503 2890h11M3503 2703h11M3503 2633h11M3504 2985h11M3504 2842h11M3504 2722h11M3504 2967h11M3504 2668h11M3504 2706h11M3504 2884h11M3505 2890h11M3505 3096h11M3505 2904h11M3505 2947h11M3506 2655h11M3506 2734h11M3506 2569h11M3506 2815h11M3507 2740h11M3507 2556h11M3507 2681h11M3508 3042h11M3508 2711h11M3508 2705h11M3508 2982h11M3509 2932h11M3509 2694h11M3510 2636h11M3510 2703h11M3510 2840h11M3511 2689h11M3512 2671h11M3512 2718h11M3512 2828h11M3512 2794h11M3512 2831h11M3512 2657h11M3513 2655h11M3513 2885h11M3513 2966h11M3513 2692h11M3514 2863h11M3515 2807h11M3515 2890h11M3516 2820h11M3516 2701h11M3517 2748h11M3517 2623h11M3517 2708h11M3518 2694h11M3519 2700h11M3520 2713h11M3520 2617h11M3521 2710h11M3521 2717h11M3521 3001h11M3521 2700h11M3521 2685h11M3522 2808h11M3522 2720h11M3522 2688h11M3522 2633h11M3522 2719h11M3523 2811h11M3523 2765h11M3523 2938h11M3523 2654h11M3523 2727h11M3524 2620h11M3524 2720h11M3524 2720h11M3524 2676h11M3524 2675h11M3524 2834h11M3525 2646h11M3525 2670h11M3525 3062h11M3525 2640h11M3525 2834h11M3525 2694h11M3525 2682h11M3525 2666h11M3526 2641h11M3526 2638h11M3526 2957h11M3526 2790h11M3526 2748h11M3526 2669h11M3527 2923h11M3527 2690h11M3528 2704h11M3528 2780h11M3528 2524h11M3528 2932h11M3529 2728h11M3529 2652h11M3529 2712h11M3529 2700h11M3529 2674h11M3529 2659h11M3529 2716h11M3530 2677h11M3530 2627h11M3530 2744h11M3531 2698h11M3531 2823h11M3532 2645h11M3532 2876h11M3532 2712h11M3532 2826h11M3533 2690h11M3533 3010h11M3534 2694h11M3534 2837h11M3534 2869h11M3534 2855h11M3534 2711h11M3535 2629h11M3535 2719h11M3535 2994h11M3535 2591h11M3536 2820h11M3536 2654h11M3536 2929h11M3536 2939h11M3536 2689h11M3536 2708h11M3536 2691h11M3537 2611h11M3538 2665h11M3538 2735h11M3538 2923h11M3539 2723h11M3539 2675h11M3539 2673h11M3539 3048h11M3539 2673h11M3539 2650h11M3540 2709h11M3540 2671h11M3540 2931h11M3541 3009h11M3541 2684h11M3541 2707h11M3542 2643h11M3542 2690h11M3542 2700h11M3542 2958h11M3542 2643h11M3542 2891h11M3543 2709h11M3543 2874h11M3543 2927h11M3543 2712h11M3543 2695h11M3544 2681h11M3544 2681h11M3544 2620h11M3545 2639h11M3545 2665h11M3545 2630h11M3546 2643h11M3546 2647h11M3547 2691h11M3547 2659h11M3547 2654h11M3547 2639h11M3548 2720h11M3548 2732h11M3548 2815h11M3548 2691h11M3549 2951h11M3549 2646h11M3549 2651h11M3550 2773h11M3550 2684h11M3550 2903h11M3550 2783h11M3551 2708h11M3551 2717h11M3551 2762h11M3551 2686h11M3551 2714h11M3551 2709h11M3551 2680h11M3551 2984h11M3552 3104h11M3553 2649h11M3553 2687h11M3554 2746h11M3554 2698h11M3554 3029h11M3554 2657h11M3555 2623h11M3556 2583h11M3556 2989h11M3556 2671h11M3557 2672h11M3557 2637h11M3557 2918h11M3557 2859h11M3558 2656h11M3558 2701h11M3558 2650h11M3559 2695h11M3559 3036h11M3559 2695h11M3559 2700h11M3560 2818h11M3560 2645h11M3561 2756h11M3561 2702h11M3561 2717h11M3561 2681h11M3561 2688h11M3561 2646h11M3561 2702h11M3562 2908h11M3562 2679h11M3562 2811h11M3562 2931h11M3562 2697h11M3562 2963h11M3562 2640h11M3564 2653h11M3564 2634h11M3565 2725h11M3566 2706h11M3567 2981h11M3568 2709h11M3569 2618h11M3569 2925h11M3569 2704h11M3569 2719h11M3569 2693h11M3569 2833h11M3570 2663h11M3570 2917h11M3570 2672h11M3571 2844h11M3572 2684h11M3572 3015h11M3572 2856h11M3572 2634h11M3572 2688h11M3572 2894h11M3572 2966h11M3573 2928h11M3573 2750h11M3573 2753h11M3573 3059h11M3573 2685h11M3574 2699h11M3574 2847h11M3574 2837h11M3574 2841h11M3575 2821h11M3575 2851h11M3576 2701h11M3576 3006h11M3576 2746h11M3576 2715h11M3576 2668h11M3578 2707h11M3578 2698h11M3580 2673h11M3580 2859h11M3581 2751h11M3581 2688h11M3581 2608h11M3581 2663h11M3582 2608h11M3582 2676h11M3582 2775h11M3582 2827h11M3583 2853h11M3583 2689h11M3584 2997h11M3584 3001h11M3585 2641h11M3586 2781h11M3587 2664h11M3587 2918h11M3587 2837h11M3588 2727h11M3588 2648h11M3589 2933h11M3589 2715h11M3589 2904h11M3590 2651h11M3590 2701h11M3590 2936h11M3590 2898h11M3590 3037h11M3591 2667h11M3591 2579h11M3593 2910h11M3594 2697h11M3594 2628h11M3594 2717h11M3596 3052h11M3596 2718h11M3596 2691h11M3596 2909h11M3597 2689h11M3597 2784h11M3598 2993h11M3598 2681h11M3599 2705h11M3599 2881h11M3600 2662h11M3600 2732h11M3600 2671h11M3601 2688h11M3604 2986h11M3604 2721h11M3604 2647h11M3604 2698h11M3604 2569h11M3605 2665h11M3606 2649h11M3606 3013h11M3606 2724h11M3607 2691h11M3608 2820h11M3608 2640h11M3608 2815h11M3608 2626h11M3609 2844h11M3609 2732h11M3610 2922h11M3610 2717h11M3610 2706h11M3610 2687h11M3611 2899h11M3611 2901h11M3611 2963h11M3612 2673h11M3612 2874h11M3612 2836h11M3613 2798h11M3613 2997h11M3613 2652h11M3614 2776h11M3616 2713h11M3616 2713h11M3616 2910h11M3616 2672h11M3617 2682h11M3617 2920h11M3618 2701h11M3618 2982h11M3619 2975h11M3619 2796h11M3619 2694h11M3619 3131h11M3620 2619h11M3621 2693h11M3622 2780h11M3622 2730h11M3623 2937h11M3623 2695h11M3624 2648h11M3625 2942h11M3625 2687h11M3625 2622h11M3626 2790h11M3626 2894h11M3626 2663h11M3627 2641h11M3627 2737h11M3628 2666h11M3628 2713h11M3628 3039h11M3630 2955h11M3631 2644h11M3631 2659h11M3633 2771h11M3634 2737h11M3634 2874h11M3635 2669h11M3636 2836h11M3636 2948h11M3637 2623h11M3637 2607h11M3637 2706h11M3637 2693h11M3638 2695h11M3641 2613h11M3641 2797h11M3642 2684h11M3642 2726h11M3642 2670h11M3642 2688h11M3642 2968h11M3643 2666h11M3644 2684h11M3645 2719h11M3645 2863h11M3646 2834h11M3647 2687h11M3650 2690h11M3650 2673h11M3652 2919h11M3652 2862h11M3652 2647h11M3653 2829h11M3653 2809h11M3654 2949h11M3654 2810h11M3654 2706h11M3654 2719h11M3655 2720h11M3655 2688h11M3656 2797h11M3657 2887h11M3657 2888h11M3659 2676h11M3660 2706h11M3660 2795h11M3661 2682h11M3663 2897h11M3664 3130h11M3665 2715h11M3666 2655h11M3667 2786h11M3667 2736h11M3668 2691h11M3668 2673h11M3668 2638h11M3670 2795h11M3671 2679h11M3672 2712h11M3672 2918h11M3673 2967h11M3673 2756h11M3674 2737h11M3675 2659h11M3678 2666h11M3679 2881h11M3680 2820h11M3680 2835h11M3681 2841h11M3681 2675h11M3681 2696h11M3682 2684h11M3684 2656h11M3684 2755h11M3684 2712h11M3684 2726h11M3685 2697h11M3686 2859h11M3688 2714h11M3688 2847h11M3689 2723h11M3690 2683h11M3693 2789h11M3694 2961h11M3694 2894h11M3698 3021h11M3699 2671h11M3699 2875h11M3700 2682h11M3704 2882h11M3706 3035h11M3709 2673h11M3709 2607h11M3710 2901h11M3710 2717h11M3713 2642h11M3714 2895h11M3715 3003h11M3716 2926h11M3718 3033h11M3719 2905h11M3721 2789h11M3725 2698h11M3728 2881h11M3731 2924h11M3731 2943h11M3732 2787h11M3740 2723h11M3744 2919h11M3744 2670h11M3754 2697h11M3754 2829h11M3759 2730h11M3760 2662h11M3761 2994h11M3762 2755h11M3770 2739h11M3775 2606h11M3776 2654h11M3784 2670h11M3795 2784h11M3799 2715h11M3801 2726h11M3808 2703h11M3825 3017h11M3835 2725h11M3840 2731h11M3851 2711h11M3852 2715h11M3860 2696h11M3863 2678h11M3866 2690h11M3882 2697h11M3886 2688h11" stroke="#000" stroke-opacity="0.42" stroke-width="11" fill="none" transform="scale(.1)"/>
<path d="M3294 2689h11M3298 2813h11M3313 2703h11M3313 2699h11M3321 2684h11M3328 2661h11M3329 2744h11M3335 2644h11M3338 2778h11M3341 2734h11M3343 2770h11M3344 2700h11M3348 2689h11M3349 2632h11M3350 2705h11M3351 2668h11M3352 2739h11M3353 2656h11M3354 2839h11M3359 2718h11M3361 2818h11M3364 2641h11M3364 2631h11M3364 2837h11M3369 2642h11M3369 2682h11M3371 2830h11M3372 2608h11M3377 2982h11M3378 2579h11M3379 2681h11M3380 2670h11M3380 2669h11M3381 2850h11M3381 2677h11M3382 2721h11M3382 2686h11M3384 2725h11M3385 2786h11M3386 2667h11M3387 3037h11M3387 2833h11M3388 2705h11M3389 2649h11M3389 2746h11M3390 2842h11M3390 2706h11M3392 2707h11M3392 2656h11M3393 2774h11M3393 2665h11M3394 2662h11M3395 2669h11M3395 2710h11M3396 2648h11M3396 2654h11M3396 2641h11M3398 2695h11M3399 2739h11M3399 2702h11M3399 2616h11M3400 2721h11M3401 2661h11M3402 3035h11M3402 2742h11M3402 2732h11M3404 2674h11M3405 2665h11M3405 2682h11M3406 2724h11M3407 2750h11M3407 2624h11M3408 2689h11M3408 2965h11M3409 2645h11M3410 2764h11M3411 2903h11M3411 2895h11M3411 2773h11M3411 2896h11M3412 2875h11M3412 2672h11M3412 2540h11M3413 2719h11M3413 2669h11M3413 2638h11M3413 2701h11M3414 2754h11M3415 2678h11M3415 2816h11M3415 2698h11M3415 2744h11M3416 2711h11M3416 2859h11M3417 2665h11M3418 2734h11M3419 2607h11M3420 2638h11M3420 2648h11M3420 2662h11M3420 2681h11M3421 2673h11M3421 2723h11M3422 2655h11M3422 2702h11M3423 2877h11M3423 2743h11M3424 2721h11M3425 2607h11M3426 2690h11M3426 2927h11M3426 2674h11M3427 2730h11M3427 2728h11M3428 2631h11M3428 2820h11M3428 2545h11M3429 2662h11M3429 2920h11M3429 2616h11M3429 2808h11M3430 2785h11M3430 2613h11M3430 2754h11M3431 2632h11M3431 2834h11M3431 2667h11M3432 2592h11M3432 2846h11M3433 2698h11M3434 2655h11M3435 2689h11M3435 2687h11M3435 2673h11M3435 2670h11M3436 2707h11M3437 2760h11M3438 2942h11M3440 2696h11M3440 2648h11M3440 2641h11M3441 2685h11M3441 2695h11M3441 2682h11M3442 2645h11M3444 2768h11M3444 2703h11M3445 2718h11M3445 2642h11M3445 2614h11M3446 2593h11M3446 2654h11M3447 2648h11M3447 2729h11M3449 2638h11M3449 2760h11M3452 2522h11M3452 2702h11M3452 2851h11M3452 2681h11M3453 2806h11M3454 3023h11M3454 2661h11M3455 2714h11M3455 2680h11M3456 2998h11M3457 2654h11M3458 2714h11M3458 2613h11M3459 2650h11M3460 2615h11M3460 2663h11M3460 2691h11M3460 2698h11M3460 2931h11M3460 2603h11M3461 2832h11M3461 2692h11M3461 2660h11M3463 2657h11M3463 2926h11M3463 2718h11M3463 2868h11M3463 3046h11M3463 2638h11M3464 2763h11M3464 2673h11M3464 2698h11M3464 2559h11M3465 2657h11M3465 2675h11M3465 2636h11M3465 2594h11M3465 2673h11M3466 2652h11M3466 2631h11M3467 2658h11M3467 2791h11M3468 2751h11M3468 2682h11M3468 2713h11M3468 2707h11M3469 2667h11M3470 2697h11M3471 2700h11M3471 2695h11M3472 2635h11M3472 2623h11M3472 2575h11M3473 2801h11M3473 2946h11M3473 2678h11M3473 2575h11M3475 2575h11M3475 2791h11M3475 2714h11M3476 2719h11M3476 2941h11M3476 2680h11M3477 2799h11M3478 2762h11M3478 2636h11M3478 2603h11M3478 2754h11M3478 2916h11M3480 2675h11M3480 2708h11M3481 2730h11M3481 2653h11M3481 2694h11M3481 2841h11M3482 2907h11M3484 2644h11M3484 2723h11M3484 2645h11M3485 2665h11M3485 2753h11M3485 2696h11M3486 2721h11M3486 2602h11M3486 2823h11M3487 2713h11M3487 2918h11M3488 2745h11M3488 2645h11M3489 2781h11M3490 2719h11M3491 2800h11M3491 2690h11M3492 2703h11M3492 2641h11M3492 2841h11M3493 2998h11M3493 2641h11M3493 2910h11M3494 2684h11M3495 2670h11M3495 2600h11M3495 2658h11M3495 2695h11M3496 2599h11M3496 2912h11M3496 2943h11M3496 2928h11M3497 2898h11M3497 2643h11M3497 2667h11M3497 2650h11M3498 2696h11M3498 2610h11M3499 2547h11M3499 2676h11M3499 2722h11M3499 2660h11M3499 2720h11M3499 2566h11M3500 2702h11M3500 2957h11M3501 2699h11M3501 2787h11M3502 2683h11M3502 2684h11M3502 2717h11M3502 2761h11M3503 2666h11M3503 2942h11M3503 2638h11M3504 2775h11M3505 2912h11M3505 2621h11M3505 2674h11M3505 2692h11M3506 2755h11M3506 2794h11M3506 2979h11M3506 2768h11M3506 2755h11M3507 2683h11M3507 2717h11M3508 2586h11M3510 2727h11M3510 2738h11M3510 2945h11M3510 2705h11M3510 2921h11M3510 2656h11M3511 2621h11M3511 2630h11M3511 2706h11M3511 2782h11M3512 2994h11M3513 2741h11M3513 2744h11M3514 2730h11M3515 2863h11M3516 2798h11M3517 2611h11M3517 2619h11M3518 2604h11M3518 2795h11M3518 2928h11M3518 2925h11M3518 2598h11M3518 2946h11M3519 2564h11M3519 2676h11M3519 2672h11M3520 2623h11M3520 2614h11M3520 2720h11M3520 2915h11M3521 2755h11M3521 2864h11M3521 2682h11M3521 3015h11M3521 2680h11M3521 2708h11M3522 2756h11M3522 2899h11M3523 2770h11M3523 2757h11M3523 2584h11M3523 2707h11M3523 2675h11M3523 2628h11M3524 2644h11M3524 2888h11M3524 2562h11M3524 2828h11M3524 2817h11M3525 2714h11M3525 2617h11M3525 2598h11M3525 2665h11M3525 2863h11M3525 2796h11M3525 2687h11M3526 2662h11M3526 2703h11M3526 2683h11M3527 2816h11M3527 2663h11M3527 2988h11M3527 2874h11M3527 2644h11M3528 2658h11M3528 2707h11M3528 2748h11M3528 2804h11M3528 2653h11M3529 2834h11M3529 2961h11M3529 2686h11M3529 2678h11M3530 2677h11M3530 2661h11M3530 2777h11M3530 2694h11M3530 2632h11M3531 2747h11M3531 2666h11M3531 2633h11M3531 3052h11M3531 2974h11M3531 2728h11M3532 2667h11M3532 2742h11M3532 2709h11M3533 3099h11M3533 2667h11M3533 2606h11M3533 2844h11M3533 2727h11M3534 2634h11M3534 2887h11M3534 2769h11M3534 2699h11M3534 2704h11M3534 2680h11M3535 2527h11M3535 2641h11M3535 2779h11M3536 2872h11M3536 2877h11M3536 2713h11M3536 2675h11M3537 2630h11M3537 2609h11M3537 2690h11M3538 2663h11M3538 2725h11M3538 2667h11M3538 2772h11M3538 2737h11M3538 2946h11M3540 2627h11M3540 2690h11M3541 2700h11M3541 2969h11M3541 3011h11M3541 2678h11M3541 2814h11M3543 2692h11M3543 2723h11M3544 2882h11M3544 2715h11M3544 2642h11M3544 2706h11M3544 2749h11M3545 2645h11M3545 2944h11M3545 3001h11M3545 2721h11M3545 2762h11M3546 2694h11M3546 2649h11M3546 2697h11M3546 2641h11M3546 2635h11M3547 2651h11M3549 2786h11M3549 2676h11M3550 2784h11M3550 2687h11M3550 2944h11M3550 2765h11M3551 2728h11M3551 2751h11M3552 2659h11M3552 2912h11M3552 2691h11M3552 2723h11M3552 2665h11M3552 2591h11M3553 2686h11M3553 2819h11M3554 2769h11M3554 3042h11M3554 2695h11M3554 2728h11M3554 2703h11M3555 2809h11M3555 2944h11M3555 2695h11M3555 2884h11M3556 2762h11M3556 2660h11M3557 2623h11M3557 2689h11M3557 2683h11M3558 2818h11M3559 2706h11M3559 2701h11M3559 2731h11M3559 2700h11M3559 2679h11M3560 2689h11M3560 2836h11M3561 2669h11M3561 2635h11M3561 2692h11M3561 3032h11M3561 2709h11M3562 2734h11M3562 2697h11M3562 2722h11M3563 2675h11M3563 2739h11M3563 2747h11M3563 2770h11M3563 2717h11M3564 2771h11M3564 2867h11M3565 2658h11M3566 2646h11M3566 2740h11M3566 2961h11M3567 2674h11M3567 2680h11M3567 2821h11M3568 2785h11M3568 2734h11M3568 2753h11M3568 2687h11M3569 2688h11M3570 2972h11M3570 2781h11M3570 2885h11M3570 2820h11M3570 2740h11M3571 2660h11M3571 2664h11M3571 2673h11M3571 2667h11M3571 3002h11M3571 2923h11M3572 2703h11M3573 2724h11M3573 2689h11M3574 2674h11M3574 2647h11M3575 2693h11M3576 2694h11M3577 2644h11M3577 2875h11M3577 2756h11M3578 2716h11M3578 2682h11M3578 2665h11M3578 2921h11M3580 2725h11M3580 2663h11M3581 2849h11M3581 2618h11M3581 2990h11M3581 2895h11M3581 2710h11M3581 2726h11M3582 2832h11M3583 3039h11M3583 2698h11M3583 2728h11M3584 2754h11M3584 2881h11M3585 2699h11M3585 2675h11M3585 2712h11M3585 2902h11M3586 2923h11M3586 2714h11M3587 2729h11M3587 2709h11M3587 2753h11M3587 2758h11M3588 2898h11M3589 2676h11M3589 2903h11M3590 2594h11M3591 2661h11M3591 2686h11M3591 2681h11M3591 2698h11M3591 2822h11M3592 2723h11M3592 3033h11M3592 2715h11M3592 2684h11M3592 2698h11M3593 2679h11M3594 2661h11M3594 2922h11M3595 2691h11M3595 2643h11M3595 2737h11M3595 2637h11M3596 2648h11M3596 2653h11M3596 2675h11M3596 2701h11M3597 2722h11M3597 2969h11M3597 2839h11M3598 2698h11M3598 2722h11M3598 2650h11M3599 2986h11M3599 2970h11M3599 2880h11M3600 2965h11M3600 3053h11M3601 2671h11M3601 3039h11M3601 2828h11M3602 2854h11M3603 2662h11M3604 2663h11M3604 2674h11M3606 2785h11M3607 2649h11M3607 2644h11M3607 2673h11M3607 2820h11M3607 2712h11M3608 2886h11M3608 2673h11M3608 3032h11M3609 2740h11M3611 2692h11M3611 2804h11M3611 2635h11M3612 2654h11M3613 2714h11M3613 2714h11M3614 2751h11M3614 2631h11M3614 2731h11M3615 2705h11M3617 2826h11M3617 2667h11M3617 2926h11M3617 2750h11M3618 2709h11M3618 2997h11M3618 2728h11M3618 2714h11M3618 2708h11M3619 2897h11M3619 2735h11M3620 2837h11M3620 2655h11M3620 2952h11M3620 2703h11M3620 2803h11M3620 2686h11M3621 2676h11M3623 2813h11M3623 2777h11M3623 2675h11M3624 2849h11M3624 2833h11M3625 2954h11M3626 2674h11M3626 2855h11M3626 2676h11M3628 2599h11M3628 2863h11M3629 2681h11M3629 3014h11M3629 2821h11M3629 2621h11M3630 2681h11M3630 2706h11M3630 2982h11M3630 2757h11M3631 2606h11M3632 2801h11M3632 2815h11M3632 2673h11M3633 2774h11M3634 2823h11M3634 2730h11M3635 2679h11M3635 2798h11M3636 2923h11M3636 2817h11M3636 2721h11M3636 2987h11M3637 2680h11M3638 2707h11M3638 2824h11M3639 2683h11M3641 2933h11M3641 2794h11M3641 2770h11M3642 2673h11M3643 2898h11M3644 2829h11M3644 2732h11M3644 2999h11M3647 2748h11M3650 2808h11M3651 2701h11M3653 2803h11M3653 2712h11M3655 2642h11M3656 2663h11M3657 2756h11M3657 2981h11M3657 2636h11M3657 2693h11M3658 2943h11M3658 2726h11M3659 2805h11M3659 2664h11M3660 2688h11M3660 2747h11M3661 2920h11M3661 2936h11M3662 2650h11M3663 2848h11M3664 2768h11M3664 2868h11M3665 3130h11M3669 2843h11M3670 2649h11M3671 2945h11M3673 2830h11M3678 2875h11M3679 2768h11M3681 2715h11M3681 2879h11M3682 2613h11M3683 2741h11M3684 2679h11M3685 2986h11M3689 2975h11M3690 2641h11M3691 2880h11M3692 2837h11M3692 2679h11M3693 2792h11M3694 3030h11M3695 2828h11M3696 2971h11M3697 2882h11M3702 2707h11M3703 2736h11M3703 3024h11M3707 2666h11M3708 2672h11M3710 2703h11M3711 2687h11M3715 2636h11M3715 2822h11M3715 3152h11M3715 2712h11M3718 2696h11M3720 3010h11M3722 2779h11M3726 3050h11M3726 2911h11M3735 2815h11M3742 2722h11M3743 2680h11M3743 2708h11M3746 2853h11M3753 2688h11M3759 2718h11M3764 2801h11M3768 2672h11M3768 2745h11M3770 2702h11M3773 2927h11M3774 2698h11M3775 2724h11M3776 2686h11M3778 2681h11M3781 2709h11M3784 2679h11M3788 2639h11M3799 2710h11M3799 2753h11M3801 2738h11M3809 2687h11M3813 2814h11M3822 2701h11M3849 2908h11M3851 2607h11M3885 2746h11M3902 2697h11M3903 2683h11" stroke="#000" stroke-opacity="0.42" stroke-width="11" fill="none" transform="scale(.1)"/>
</g>
<rect x="325.5" y="226.5" width="147.00" height="128.00" fill="none" stroke="#6c6c6c" stroke-width="1.1"/>
<path d="M323.5 226.5H325.5M324.4 249.2H325.5M324.4 243.5H325.5M324.4 239.4H325.5M324.4 236.3H325.5M324.4 233.7H325.5M324.4 231.5H325.5M324.4 229.6H325.5M324.4 228.0H325.5M323.5 259.0H325.5M324.4 281.7H325.5M324.4 276.0H325.5M324.4 271.9H325.5M324.4 268.8H325.5M324.4 266.2H325.5M324.4 264.0H325.5M324.4 262.1H325.5M324.4 260.5H325.5M323.5 291.5H325.5M324.4 314.2H325.5M324.4 308.5H325.5M324.4 304.4H325.5M324.4 301.3H325.5M324.4 298.7H325.5M324.4 296.5H325.5M324.4 294.6H325.5M324.4 293.0H325.5M323.5 324.0H325.5M324.4 346.7H325.5M324.4 341.0H325.5M324.4 336.9H325.5M324.4 333.8H325.5M324.4 331.2H325.5M324.4 329.0H325.5M324.4 327.1H325.5M324.4 325.5H325.5M472.5 354.5V356.5M447.0 354.5V355.6M453.4 354.5V355.6M458.0 354.5V355.6M461.5 354.5V355.6M464.4 354.5V355.6M466.8 354.5V355.6M469.0 354.5V355.6M470.8 354.5V355.6M436.0 354.5V356.5M410.5 354.5V355.6M416.9 354.5V355.6M421.5 354.5V355.6M425.0 354.5V355.6M427.9 354.5V355.6M430.3 354.5V355.6M432.5 354.5V355.6M434.3 354.5V355.6M399.5 354.5V356.5M374.0 354.5V355.6M380.4 354.5V355.6M385.0 354.5V355.6M388.5 354.5V355.6M391.4 354.5V355.6M393.8 354.5V355.6M396.0 354.5V355.6M397.8 354.5V355.6M363.0 354.5V356.5M337.5 354.5V355.6M343.9 354.5V355.6M348.5 354.5V355.6M352.0 354.5V355.6M354.9 354.5V355.6M357.3 354.5V355.6M359.5 354.5V355.6M361.3 354.5V355.6M326.5 354.5V356.5" stroke="#555" stroke-width="0.8" fill="none"/>
<rect x="359.5" y="230.5" width="98.00" height="113.00" fill="none" stroke="#505050" stroke-width="1"/>
<rect x="421.5" y="230.5" width="36.00" height="21.50" fill="#fff" stroke="#b5b5b5" stroke-width="0.8"/>
<text x="423.2" y="246.7" font-family="'DejaVu Sans','Liberation Sans',sans-serif" font-size="14" font-weight="bold" text-anchor="start" fill="#111" textLength="33.5" lengthAdjust="spacingAndGlyphs" >26%</text>
<text x="306.0" y="230.6" font-family="'Liberation Sans',Arial,sans-serif" font-size="9.222" font-weight="bold" fill="#111" stroke="#111" stroke-width="0.25" textLength="10.706" lengthAdjust="spacingAndGlyphs">10</text>
<text x="316.9" y="227.5" font-family="'Liberation Sans',Arial,sans-serif" font-size="5.9" font-weight="bold" fill="#111">3</text>
<text x="306.0" y="263.1" font-family="'Liberation Sans',Arial,sans-serif" font-size="9.222" font-weight="bold" fill="#111" stroke="#111" stroke-width="0.25" textLength="10.706" lengthAdjust="spacingAndGlyphs">10</text>
<text x="316.9" y="260.0" font-family="'Liberation Sans',Arial,sans-serif" font-size="5.9" font-weight="bold" fill="#111">2</text>
<text x="306.0" y="295.6" font-family="'Liberation Sans',Arial,sans-serif" font-size="9.222" font-weight="bold" fill="#111" stroke="#111" stroke-width="0.25" textLength="10.706" lengthAdjust="spacingAndGlyphs">10</text>
<text x="316.9" y="292.5" font-family="'Liberation Sans',Arial,sans-serif" font-size="5.9" font-weight="bold" fill="#111">1</text>
<text x="306.0" y="328.1" font-family="'Liberation Sans',Arial,sans-serif" font-size="9.222" font-weight="bold" fill="#111" stroke="#111" stroke-width="0.25" textLength="10.706" lengthAdjust="spacingAndGlyphs">10</text>
<text x="316.9" y="325.0" font-family="'Liberation Sans',Arial,sans-serif" font-size="5.9" font-weight="bold" fill="#111">0</text>
<text x="464.3" y="368.1" font-family="'Liberation Sans',Arial,sans-serif" font-size="9.222" font-weight="bold" fill="#111" stroke="#111" stroke-width="0.25" textLength="10.706" lengthAdjust="spacingAndGlyphs">10</text>
<text x="475.2" y="365.0" font-family="'Liberation Sans',Arial,sans-serif" font-size="5.9" font-weight="bold" fill="#111">3</text>
<text x="427.8" y="368.1" font-family="'Liberation Sans',Arial,sans-serif" font-size="9.222" font-weight="bold" fill="#111" stroke="#111" stroke-width="0.25" textLength="10.706" lengthAdjust="spacingAndGlyphs">10</text>
<text x="438.7" y="365.0" font-family="'Liberation Sans',Arial,sans-serif" font-size="5.9" font-weight="bold" fill="#111">2</text>
<text x="391.3" y="368.1" font-family="'Liberation Sans',Arial,sans-serif" font-size="9.222" font-weight="bold" fill="#111" stroke="#111" stroke-width="0.25" textLength="10.706" lengthAdjust="spacingAndGlyphs">10</text>
<text x="402.2" y="365.0" font-family="'Liberation Sans',Arial,sans-serif" font-size="5.9" font-weight="bold" fill="#111">1</text>
<text x="354.8" y="368.1" font-family="'Liberation Sans',Arial,sans-serif" font-size="9.222" font-weight="bold" fill="#111" stroke="#111" stroke-width="0.25" textLength="10.706" lengthAdjust="spacingAndGlyphs">10</text>
<text x="365.7" y="365.0" font-family="'Liberation Sans',Arial,sans-serif" font-size="5.9" font-weight="bold" fill="#111">0</text>
</g>
<g id="panelB">
<text x="3.0" y="460.1" font-family="'Liberation Sans',Arial,Helvetica,sans-serif" font-size="27.5" font-weight="bold" text-anchor="start" fill="#000" textLength="19.2" lengthAdjust="spacingAndGlyphs" >B</text>
<text x="129.6" y="475.8" font-family="'Liberation Sans',Arial,Helvetica,sans-serif" font-size="17.2" font-weight="normal" text-anchor="start" fill="#000" textLength="48.5" lengthAdjust="spacingAndGlyphs"  stroke="#000" stroke-width="0.29">CD56</text>
<text x="178.2" y="471.3" font-family="'Liberation Sans',Arial,Helvetica,sans-serif" font-size="12" font-weight="normal" text-anchor="start" fill="#000" textLength="32" lengthAdjust="spacingAndGlyphs"  stroke="#000" stroke-width="0.20">bright</text>
<text x="288.2" y="476.2" font-family="'Liberation Sans',Arial,Helvetica,sans-serif" font-size="17.2" font-weight="normal" text-anchor="start" fill="#000" textLength="49.6" lengthAdjust="spacingAndGlyphs"  stroke="#000" stroke-width="0.29">CD56</text>
<text x="338" y="471.3" font-family="'Liberation Sans',Arial,Helvetica,sans-serif" font-size="12" font-weight="normal" text-anchor="start" fill="#000" textLength="19.9" lengthAdjust="spacingAndGlyphs"  stroke="#000" stroke-width="0.20">dim</text>
<g transform="translate(65.2 635.3) rotate(-90)">
<text x="0" y="0" font-family="'Liberation Sans',Arial,Helvetica,sans-serif" font-size="18" font-weight="normal" text-anchor="start" fill="#000" textLength="129.6" lengthAdjust="spacingAndGlyphs"  stroke="#000" stroke-width="0.31">Distribution (%)</text>
</g>
<rect x="127.70" y="549.70" width="36.40" height="103.50" fill="#000000" stroke="#000" stroke-width="1.8"/>
<rect x="127.70" y="522.00" width="36.40" height="27.70" fill="#2b2b2b" stroke="#000" stroke-width="1.8"/>
<rect x="127.70" y="508.30" width="36.40" height="13.70" fill="#5a5a5a" stroke="#000" stroke-width="1.8"/>
<rect x="127.70" y="503.60" width="36.40" height="4.70" fill="#8f8f8f" stroke="#000" stroke-width="1.8"/>
<rect x="127.70" y="500.90" width="36.40" height="2.70" fill="#000" stroke="#000" stroke-width="1.8"/>
<path d="M145.9 549.7V529.5M135.9 529.5H155.9M145.9 522.0V512.7M135.9 512.7H155.9M145.9 508.3V503.6M135.9 503.6H155.9M145.9 500.9V498.9M135.9 498.9H155.9" stroke="#000" stroke-width="1.8" fill="none"/>
<rect x="181.90" y="615.00" width="36.40" height="38.20" fill="#000000" stroke="#000" stroke-width="1.8"/>
<rect x="181.90" y="575.00" width="36.40" height="40.00" fill="#2b2b2b" stroke="#000" stroke-width="1.8"/>
<rect x="181.90" y="545.50" width="36.40" height="29.50" fill="#5a5a5a" stroke="#000" stroke-width="1.8"/>
<rect x="181.90" y="524.00" width="36.40" height="21.50" fill="#8f8f8f" stroke="#000" stroke-width="1.8"/>
<rect x="181.90" y="512.00" width="36.40" height="12.00" fill="#c6c6c6" stroke="#000" stroke-width="1.8"/>
<rect x="181.90" y="501.80" width="36.40" height="10.20" fill="#ffffff" stroke="#000" stroke-width="1.8"/>
<path d="M200.1 615.0V607.0M190.1 607.0H210.1M200.1 575.0V573.0M190.1 573.0H210.1M200.1 545.5V539.2M190.1 539.2H210.1M200.1 524.0V519.3M190.1 519.3H210.1M200.1 512.0V508.5M190.1 508.5H210.1M200.1 501.8V499.6M190.1 499.6H210.1" stroke="#000" stroke-width="1.8" fill="none"/>
<rect x="117.9" y="486" width="2.2" height="168.4" fill="#000"/>
<rect x="117.9" y="652.0" width="109.6" height="2.4" fill="#000"/>
<rect x="113.0" y="500.5" width="6" height="2" fill="#000"/>
<text x="111.0" y="507.1" font-family="'Liberation Sans',Arial,Helvetica,sans-serif" font-size="16" font-weight="normal" text-anchor="end" fill="#000" textLength="28.0" lengthAdjust="spacingAndGlyphs"  stroke="#000" stroke-width="0.27">100</text>
<rect x="113.0" y="538.4" width="6" height="2" fill="#000"/>
<text x="111.0" y="545.0" font-family="'Liberation Sans',Arial,Helvetica,sans-serif" font-size="16" font-weight="normal" text-anchor="end" fill="#000" textLength="18.7" lengthAdjust="spacingAndGlyphs"  stroke="#000" stroke-width="0.27">75</text>
<rect x="113.0" y="576.4" width="6" height="2" fill="#000"/>
<text x="111.0" y="583.0" font-family="'Liberation Sans',Arial,Helvetica,sans-serif" font-size="16" font-weight="normal" text-anchor="end" fill="#000" textLength="18.7" lengthAdjust="spacingAndGlyphs"  stroke="#000" stroke-width="0.27">50</text>
<rect x="113.0" y="614.3" width="6" height="2" fill="#000"/>
<text x="111.0" y="620.9" font-family="'Liberation Sans',Arial,Helvetica,sans-serif" font-size="16" font-weight="normal" text-anchor="end" fill="#000" textLength="18.7" lengthAdjust="spacingAndGlyphs"  stroke="#000" stroke-width="0.27">25</text>
<rect x="113.0" y="652.2" width="6" height="2" fill="#000"/>
<text x="111.0" y="658.8" font-family="'Liberation Sans',Arial,Helvetica,sans-serif" font-size="16" font-weight="normal" text-anchor="end" fill="#000" textLength="9.3" lengthAdjust="spacingAndGlyphs"  stroke="#000" stroke-width="0.27">0</text>
<rect x="145.1" y="653.2" width="2.2" height="5.3" fill="#000"/>
<text x="146.2" y="678.8" font-family="'Liberation Sans',Arial,Helvetica,sans-serif" font-size="21.5" font-weight="normal" text-anchor="middle" fill="#000"  stroke="#000" stroke-width="0.37">c</text>
<rect x="199.7" y="653.2" width="2.2" height="5.3" fill="#000"/>
<text x="200.8" y="678.8" font-family="'Liberation Sans',Arial,Helvetica,sans-serif" font-size="21.5" font-weight="normal" text-anchor="middle" fill="#000"  stroke="#000" stroke-width="0.37">p.a.</text>
<rect x="277.90" y="526.80" width="36.40" height="126.40" fill="#000000" stroke="#000" stroke-width="1.8"/>
<rect x="277.90" y="503.60" width="36.40" height="23.20" fill="#2b2b2b" stroke="#000" stroke-width="1.8"/>
<rect x="277.90" y="501.80" width="36.40" height="1.80" fill="#000" stroke="#000" stroke-width="1.8"/>
<path d="M296.1 526.8V520.0M286.1 520.0H306.1M296.1 501.8V498.9M286.1 498.9H306.1" stroke="#000" stroke-width="1.8" fill="none"/>
<rect x="331.90" y="574.80" width="36.40" height="78.40" fill="#000000" stroke="#000" stroke-width="1.8"/>
<rect x="331.90" y="538.00" width="36.40" height="36.80" fill="#2b2b2b" stroke="#000" stroke-width="1.8"/>
<rect x="331.90" y="520.20" width="36.40" height="17.80" fill="#5a5a5a" stroke="#000" stroke-width="1.8"/>
<rect x="331.90" y="512.00" width="36.40" height="8.20" fill="#8f8f8f" stroke="#000" stroke-width="1.8"/>
<rect x="331.90" y="503.90" width="36.40" height="8.10" fill="#c6c6c6" stroke="#000" stroke-width="1.8"/>
<rect x="331.90" y="497.70" width="36.40" height="6.20" fill="#ffffff" stroke="#000" stroke-width="1.8"/>
<path d="M350.1 574.8V571.0M340.1 571.0H360.1M350.1 538.0V531.4M340.1 531.4H360.1M350.1 520.2V517.0M340.1 517.0H360.1M350.1 512.0V509.6M340.1 509.6H360.1M350.1 503.9V502.6M340.1 502.6H360.1M350.1 497.7V495.2M340.1 495.2H360.1" stroke="#000" stroke-width="1.8" fill="none"/>
<rect x="268.3" y="486" width="2.2" height="168.4" fill="#000"/>
<rect x="268.3" y="652.0" width="108.7" height="2.4" fill="#000"/>
<rect x="263.4" y="500.5" width="6" height="2" fill="#000"/>
<text x="263.3" y="507.1" font-family="'Liberation Sans',Arial,Helvetica,sans-serif" font-size="16" font-weight="normal" text-anchor="end" fill="#000" textLength="29.1" lengthAdjust="spacingAndGlyphs"  stroke="#000" stroke-width="0.27">100</text>
<rect x="263.4" y="538.4" width="6" height="2" fill="#000"/>
<text x="263.3" y="545.0" font-family="'Liberation Sans',Arial,Helvetica,sans-serif" font-size="16" font-weight="normal" text-anchor="end" fill="#000" textLength="19.4" lengthAdjust="spacingAndGlyphs"  stroke="#000" stroke-width="0.27">75</text>
<rect x="263.4" y="576.4" width="6" height="2" fill="#000"/>
<text x="263.3" y="583.0" font-family="'Liberation Sans',Arial,Helvetica,sans-serif" font-size="16" font-weight="normal" text-anchor="end" fill="#000" textLength="19.4" lengthAdjust="spacingAndGlyphs"  stroke="#000" stroke-width="0.27">50</text>
<rect x="263.4" y="614.3" width="6" height="2" fill="#000"/>
<text x="263.3" y="620.9" font-family="'Liberation Sans',Arial,Helvetica,sans-serif" font-size="16" font-weight="normal" text-anchor="end" fill="#000" textLength="19.4" lengthAdjust="spacingAndGlyphs"  stroke="#000" stroke-width="0.27">25</text>
<rect x="263.4" y="652.2" width="6" height="2" fill="#000"/>
<text x="263.3" y="658.8" font-family="'Liberation Sans',Arial,Helvetica,sans-serif" font-size="16" font-weight="normal" text-anchor="end" fill="#000" textLength="9.7" lengthAdjust="spacingAndGlyphs"  stroke="#000" stroke-width="0.27">0</text>
<rect x="294.7" y="653.2" width="2.2" height="5.3" fill="#000"/>
<text x="295.8" y="678.8" font-family="'Liberation Sans',Arial,Helvetica,sans-serif" font-size="21.5" font-weight="normal" text-anchor="middle" fill="#000"  stroke="#000" stroke-width="0.37">c</text>
<rect x="349.9" y="653.2" width="2.2" height="5.3" fill="#000"/>
<text x="351.0" y="678.8" font-family="'Liberation Sans',Arial,Helvetica,sans-serif" font-size="21.5" font-weight="normal" text-anchor="middle" fill="#000"  stroke="#000" stroke-width="0.37">p.a.</text>
<text x="201" y="500.5" font-family="'Liberation Sans',Arial,Helvetica,sans-serif" font-size="19" font-weight="normal" text-anchor="middle" fill="#000"  stroke="#000" stroke-width="0.32">*</text>
<text x="351" y="497" font-family="'Liberation Sans',Arial,Helvetica,sans-serif" font-size="19" font-weight="normal" text-anchor="middle" fill="#000"  stroke="#000" stroke-width="0.32">*</text>
<rect x="394.5" y="504.50" width="19.8" height="16" fill="#000000" stroke="#000" stroke-width="1.6"/>
<text x="426.3" y="520.0" font-family="'Liberation Sans',Arial,Helvetica,sans-serif" font-size="20.3" font-weight="normal" text-anchor="start" fill="#000" textLength="61.2" lengthAdjust="spacingAndGlyphs"  stroke="#000" stroke-width="0.35">Gen 0</text>
<rect x="394.5" y="527.87" width="19.8" height="16" fill="#2b2b2b" stroke="#000" stroke-width="1.6"/>
<text x="426.3" y="543.4" font-family="'Liberation Sans',Arial,Helvetica,sans-serif" font-size="20.3" font-weight="normal" text-anchor="start" fill="#000" textLength="61.2" lengthAdjust="spacingAndGlyphs"  stroke="#000" stroke-width="0.35">Gen 1</text>
<rect x="394.5" y="551.24" width="19.8" height="16" fill="#5a5a5a" stroke="#000" stroke-width="1.6"/>
<text x="426.3" y="566.8" font-family="'Liberation Sans',Arial,Helvetica,sans-serif" font-size="20.3" font-weight="normal" text-anchor="start" fill="#000" textLength="61.2" lengthAdjust="spacingAndGlyphs"  stroke="#000" stroke-width="0.35">Gen 2</text>
<rect x="394.5" y="574.61" width="19.8" height="16" fill="#8f8f8f" stroke="#000" stroke-width="1.6"/>
<text x="426.3" y="590.2" font-family="'Liberation Sans',Arial,Helvetica,sans-serif" font-size="20.3" font-weight="normal" text-anchor="start" fill="#000" textLength="61.2" lengthAdjust="spacingAndGlyphs"  stroke="#000" stroke-width="0.35">Gen 3</text>
<rect x="394.5" y="597.98" width="19.8" height="16" fill="#c6c6c6" stroke="#000" stroke-width="1.6"/>
<text x="426.3" y="613.5" font-family="'Liberation Sans',Arial,Helvetica,sans-serif" font-size="20.3" font-weight="normal" text-anchor="start" fill="#000" textLength="61.2" lengthAdjust="spacingAndGlyphs"  stroke="#000" stroke-width="0.35">Gen 4</text>
<rect x="394.5" y="621.35" width="19.8" height="16" fill="#ffffff" stroke="#000" stroke-width="1.6"/>
<text x="426.3" y="636.9" font-family="'Liberation Sans',Arial,Helvetica,sans-serif" font-size="20.3" font-weight="normal" text-anchor="start" fill="#000" textLength="80.2" lengthAdjust="spacingAndGlyphs"  stroke="#000" stroke-width="0.35">&gt; Gen 4</text>
</g>
<g id="panelC">
<text x="2.9" y="737.2" font-family="'Liberation Sans',Arial,Helvetica,sans-serif" font-size="28.5" font-weight="bold" text-anchor="start" fill="#000" textLength="19.4" lengthAdjust="spacingAndGlyphs" >C</text>
<text x="171.6" y="740" font-family="'Liberation Sans',Arial,Helvetica,sans-serif" font-size="21" font-weight="normal" text-anchor="start" fill="#000" textLength="236.2" lengthAdjust="spacingAndGlyphs"  stroke="#000" stroke-width="0.36">IL-12+IL-15 restimulation</text>
<rect x="172" y="743" width="234.5" height="1.8" fill="#000"/>
<text x="140.5" y="779.8" font-family="'Liberation Sans',Arial,Helvetica,sans-serif" font-size="18.2" font-weight="normal" text-anchor="start" fill="#000" textLength="49.8" lengthAdjust="spacingAndGlyphs"  stroke="#000" stroke-width="0.31">CD56</text>
<text x="189.6" y="774.6" font-family="'Liberation Sans',Arial,Helvetica,sans-serif" font-size="13.4" font-weight="normal" text-anchor="start" fill="#000" textLength="33.8" lengthAdjust="spacingAndGlyphs"  stroke="#000" stroke-width="0.23">bright</text>
<text x="360.5" y="779.8" font-family="'Liberation Sans',Arial,Helvetica,sans-serif" font-size="18.2" font-weight="normal" text-anchor="start" fill="#000" textLength="50.4" lengthAdjust="spacingAndGlyphs"  stroke="#000" stroke-width="0.31">CD56</text>
<text x="410.2" y="773.9" font-family="'Liberation Sans',Arial,Helvetica,sans-serif" font-size="13.4" font-weight="normal" text-anchor="start" fill="#000" textLength="21.6" lengthAdjust="spacingAndGlyphs"  stroke="#000" stroke-width="0.23">dim</text>
<rect x="116.25" y="789.10" width="127.20" height="12.5" fill="#ffffff" stroke="#000" stroke-width="1.6"/>
<path d="M244.25 795.35H274.50M274.40 790.75V799.95" stroke="#000" stroke-width="1.6" fill="none"/>
<rect x="111.65" y="794.55" width="4.6" height="1.6" fill="#000"/>
<text x="110.0" y="800.3" font-family="'Liberation Sans',Arial,Helvetica,sans-serif" font-size="14" font-weight="normal" text-anchor="end" fill="#000" textLength="50" lengthAdjust="spacingAndGlyphs"  stroke="#000" stroke-width="0.24">&gt; Gen 4</text>
<rect x="116.25" y="809.70" width="131.20" height="12.5" fill="#cbcbcb" stroke="#000" stroke-width="1.6"/>
<path d="M248.25 815.95H264.50M264.40 811.35V820.55" stroke="#000" stroke-width="1.6" fill="none"/>
<rect x="111.65" y="815.15" width="4.6" height="1.6" fill="#000"/>
<text x="110.0" y="820.9" font-family="'Liberation Sans',Arial,Helvetica,sans-serif" font-size="14" font-weight="normal" text-anchor="end" fill="#000" textLength="37.6" lengthAdjust="spacingAndGlyphs"  stroke="#000" stroke-width="0.24">Gen 4</text>
<rect x="116.25" y="829.80" width="143.45" height="12.5" fill="#999999" stroke="#000" stroke-width="1.6"/>
<path d="M260.50 836.05H272.50M272.40 831.45V840.65" stroke="#000" stroke-width="1.6" fill="none"/>
<rect x="111.65" y="835.25" width="4.6" height="1.6" fill="#000"/>
<text x="110.0" y="841.0" font-family="'Liberation Sans',Arial,Helvetica,sans-serif" font-size="14" font-weight="normal" text-anchor="end" fill="#000" textLength="37.6" lengthAdjust="spacingAndGlyphs"  stroke="#000" stroke-width="0.24">Gen 3</text>
<rect x="116.25" y="849.70" width="142.20" height="12.5" fill="#787878" stroke="#000" stroke-width="1.6"/>
<path d="M259.25 855.95H273.75M273.65 851.35V860.55" stroke="#000" stroke-width="1.6" fill="none"/>
<rect x="111.65" y="855.15" width="4.6" height="1.6" fill="#000"/>
<text x="110.0" y="860.9" font-family="'Liberation Sans',Arial,Helvetica,sans-serif" font-size="14" font-weight="normal" text-anchor="end" fill="#000" textLength="37.6" lengthAdjust="spacingAndGlyphs"  stroke="#000" stroke-width="0.24">Gen 2</text>
<rect x="116.25" y="869.80" width="132.20" height="12.5" fill="#555555" stroke="#000" stroke-width="1.6"/>
<path d="M249.25 876.05H270.50M270.40 871.45V880.65" stroke="#000" stroke-width="1.6" fill="none"/>
<rect x="111.65" y="875.25" width="4.6" height="1.6" fill="#000"/>
<text x="110.0" y="881.0" font-family="'Liberation Sans',Arial,Helvetica,sans-serif" font-size="14" font-weight="normal" text-anchor="end" fill="#000" textLength="37.6" lengthAdjust="spacingAndGlyphs"  stroke="#000" stroke-width="0.24">Gen 1</text>
<rect x="116.25" y="890.10" width="117.95" height="12.5" fill="#000000" stroke="#000" stroke-width="1.6"/>
<path d="M235.00 896.35H263.25M263.15 891.75V900.95" stroke="#000" stroke-width="1.6" fill="none"/>
<rect x="111.65" y="895.55" width="4.6" height="1.6" fill="#000"/>
<text x="110.0" y="901.3" font-family="'Liberation Sans',Arial,Helvetica,sans-serif" font-size="14" font-weight="normal" text-anchor="end" fill="#000" textLength="37.6" lengthAdjust="spacingAndGlyphs"  stroke="#000" stroke-width="0.24">Gen 0</text>
<rect x="115.25" y="784.5" width="2" height="122.3" fill="#000"/>
<rect x="115.25" y="904.8" width="173.00" height="2" fill="#000"/>
<rect x="115.35" y="905" width="1.8" height="4.8" fill="#000"/>
<text x="116.2" y="923.2" font-family="'Liberation Sans',Arial,Helvetica,sans-serif" font-size="13" font-weight="normal" text-anchor="middle" fill="#000"  stroke="#000" stroke-width="0.22">0</text>
<rect x="172.35" y="905" width="1.8" height="4.8" fill="#000"/>
<text x="173.8" y="923.2" font-family="'Liberation Sans',Arial,Helvetica,sans-serif" font-size="13" font-weight="normal" text-anchor="middle" fill="#000"  stroke="#000" stroke-width="0.22">20</text>
<rect x="229.35" y="905" width="1.8" height="4.8" fill="#000"/>
<text x="230.8" y="923.2" font-family="'Liberation Sans',Arial,Helvetica,sans-serif" font-size="13" font-weight="normal" text-anchor="middle" fill="#000"  stroke="#000" stroke-width="0.22">40</text>
<rect x="286.35" y="905" width="1.8" height="4.8" fill="#000"/>
<text x="287.9" y="923.2" font-family="'Liberation Sans',Arial,Helvetica,sans-serif" font-size="13" font-weight="normal" text-anchor="middle" fill="#000"  stroke="#000" stroke-width="0.22">60</text>
<rect x="340.00" y="789.10" width="131.20" height="12.5" fill="#ffffff" stroke="#000" stroke-width="1.6"/>
<path d="M472.00 795.35H477.50M477.40 790.75V799.95" stroke="#000" stroke-width="1.6" fill="none"/>
<rect x="335.40" y="794.55" width="4.6" height="1.6" fill="#000"/>
<text x="333.75" y="800.3" font-family="'Liberation Sans',Arial,Helvetica,sans-serif" font-size="14" font-weight="normal" text-anchor="end" fill="#000" textLength="50" lengthAdjust="spacingAndGlyphs"  stroke="#000" stroke-width="0.24">&gt; Gen 4</text>
<rect x="340.00" y="809.70" width="124.70" height="12.5" fill="#cbcbcb" stroke="#000" stroke-width="1.6"/>
<path d="M465.50 815.95H473.75M473.65 811.35V820.55" stroke="#000" stroke-width="1.6" fill="none"/>
<rect x="335.40" y="815.15" width="4.6" height="1.6" fill="#000"/>
<text x="333.75" y="820.9" font-family="'Liberation Sans',Arial,Helvetica,sans-serif" font-size="14" font-weight="normal" text-anchor="end" fill="#000" textLength="37.6" lengthAdjust="spacingAndGlyphs"  stroke="#000" stroke-width="0.24">Gen 4</text>
<rect x="340.00" y="829.80" width="117.95" height="12.5" fill="#999999" stroke="#000" stroke-width="1.6"/>
<path d="M458.75 836.05H469.50M469.40 831.45V840.65" stroke="#000" stroke-width="1.6" fill="none"/>
<rect x="335.40" y="835.25" width="4.6" height="1.6" fill="#000"/>
<text x="333.75" y="841.0" font-family="'Liberation Sans',Arial,Helvetica,sans-serif" font-size="14" font-weight="normal" text-anchor="end" fill="#000" textLength="37.6" lengthAdjust="spacingAndGlyphs"  stroke="#000" stroke-width="0.24">Gen 3</text>
<rect x="340.00" y="849.70" width="103.70" height="12.5" fill="#787878" stroke="#000" stroke-width="1.6"/>
<path d="M444.50 855.95H461.25M461.15 851.35V860.55" stroke="#000" stroke-width="1.6" fill="none"/>
<rect x="335.40" y="855.15" width="4.6" height="1.6" fill="#000"/>
<text x="333.75" y="860.9" font-family="'Liberation Sans',Arial,Helvetica,sans-serif" font-size="14" font-weight="normal" text-anchor="end" fill="#000" textLength="37.6" lengthAdjust="spacingAndGlyphs"  stroke="#000" stroke-width="0.24">Gen 2</text>
<rect x="340.00" y="869.80" width="79.20" height="12.5" fill="#555555" stroke="#000" stroke-width="1.6"/>
<path d="M420.00 876.05H441.25M441.15 871.45V880.65" stroke="#000" stroke-width="1.6" fill="none"/>
<rect x="335.40" y="875.25" width="4.6" height="1.6" fill="#000"/>
<text x="333.75" y="881.0" font-family="'Liberation Sans',Arial,Helvetica,sans-serif" font-size="14" font-weight="normal" text-anchor="end" fill="#000" textLength="37.6" lengthAdjust="spacingAndGlyphs"  stroke="#000" stroke-width="0.24">Gen 1</text>
<rect x="340.00" y="890.10" width="64.95" height="12.5" fill="#000000" stroke="#000" stroke-width="1.6"/>
<path d="M405.75 896.35H426.25M426.15 891.75V900.95" stroke="#000" stroke-width="1.6" fill="none"/>
<rect x="335.40" y="895.55" width="4.6" height="1.6" fill="#000"/>
<text x="333.75" y="901.3" font-family="'Liberation Sans',Arial,Helvetica,sans-serif" font-size="14" font-weight="normal" text-anchor="end" fill="#000" textLength="37.6" lengthAdjust="spacingAndGlyphs"  stroke="#000" stroke-width="0.24">Gen 0</text>
<rect x="339.00" y="784.5" width="2" height="122.3" fill="#000"/>
<rect x="339.00" y="904.8" width="172.55" height="2" fill="#000"/>
<rect x="339.10" y="905" width="1.8" height="4.8" fill="#000"/>
<text x="340.0" y="923.2" font-family="'Liberation Sans',Arial,Helvetica,sans-serif" font-size="13" font-weight="normal" text-anchor="middle" fill="#000"  stroke="#000" stroke-width="0.22">0</text>
<rect x="395.95" y="905" width="1.8" height="4.8" fill="#000"/>
<text x="397.5" y="923.2" font-family="'Liberation Sans',Arial,Helvetica,sans-serif" font-size="13" font-weight="normal" text-anchor="middle" fill="#000"  stroke="#000" stroke-width="0.22">20</text>
<rect x="452.80" y="905" width="1.8" height="4.8" fill="#000"/>
<text x="454.3" y="923.2" font-family="'Liberation Sans',Arial,Helvetica,sans-serif" font-size="13" font-weight="normal" text-anchor="middle" fill="#000"  stroke="#000" stroke-width="0.22">40</text>
<rect x="509.65" y="905" width="1.8" height="4.8" fill="#000"/>
<text x="511.2" y="923.2" font-family="'Liberation Sans',Arial,Helvetica,sans-serif" font-size="13" font-weight="normal" text-anchor="middle" fill="#000"  stroke="#000" stroke-width="0.22">60</text>
<text x="435" y="905.5" font-family="'Liberation Sans',Arial,Helvetica,sans-serif" font-size="19" font-weight="normal" text-anchor="middle" fill="#000"  stroke="#000" stroke-width="0.32">*</text>
<text x="118.75" y="950" font-family="'Liberation Sans',Arial,Helvetica,sans-serif" font-size="20" font-weight="normal" text-anchor="start" fill="#000" textLength="73.4" lengthAdjust="spacingAndGlyphs"  stroke="#000" stroke-width="0.34">% IFN-γ</text>
<text x="193" y="943.5" font-family="'Liberation Sans',Arial,Helvetica,sans-serif" font-size="12.5" font-weight="normal" text-anchor="start" fill="#000" textLength="7.5" lengthAdjust="spacingAndGlyphs"  stroke="#000" stroke-width="0.21">+</text>
<rect x="215" y="941.5" width="268" height="3" fill="#000"/>
<path d="M494 943 L481.7 937 L481.7 949 Z" fill="#000"/>
</g>
</svg></body></html>
